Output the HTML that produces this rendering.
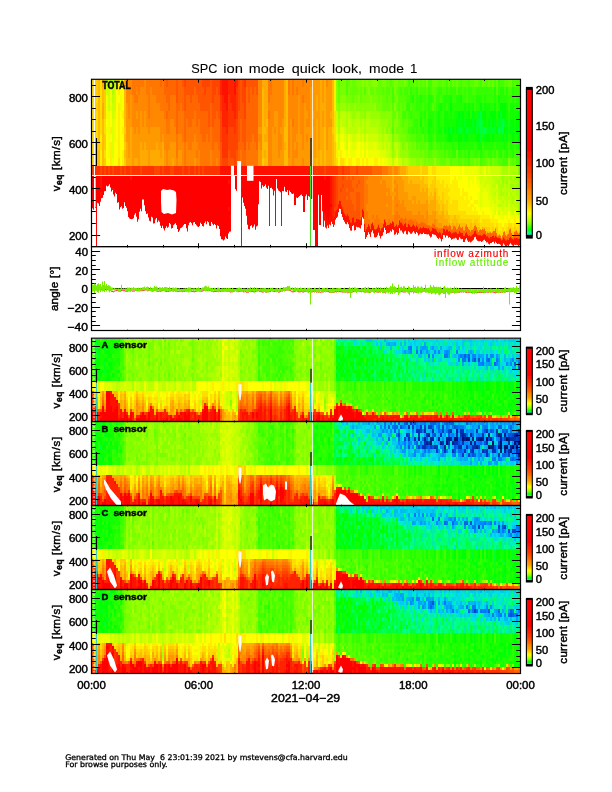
<!DOCTYPE html>
<html><head><meta charset="utf-8"><title>SPC ion mode quick look</title>
<style>
html,body{margin:0;padding:0;background:#fff;width:612px;height:792px;overflow:hidden}
.sp{position:absolute;overflow:hidden}
.sp div{position:absolute;left:0;width:100%}
svg{position:absolute;left:0;top:0}
text{stroke:#000;stroke-width:.45px}
.c{stroke-width:.25px}
</style></head><body>
<div class="sp" style="left:92px;top:80px;width:428px;height:166px"><div style="top:0px;height:7px;background:linear-gradient(90deg,#fd0 2px,#fc0 0 6px,#fb0 0 8px,#fd0 0 10px,#fa0 0 12px,#fc0 0 14px,#bf0 0 18px,#cf0 0 20px,#9f0 0 22px,#bf0 0 24px,#ff0 0 26px,#fe0 0 28px,#df0 0 30px,#ff0 0 32px,#fa0 0 34px,#f80 0 40px,#f70 0 52px,#f80 0 54px,#f70 0 68px,#f60 0 70px,#f70 0 72px,#f60 0 74px,#f50 0 76px,#f60 0 84px,#f50 0 86px,#f60 0 90px,#f50 0 92px,#f40 0 94px,#f50 0 110px,#f40 0 118px,#f50 0 120px,#f40 0 128px,#f20 0 130px,#f10 0 136px,#f20 0 142px,#f10 0 144px,#f20 0 146px,#f40 0 148px,#f50 0 150px,#f40 0 152px,#f30 0 154px,#f50 0 166px,#f80 0 170px,#fa0 0 176px,#f70 0 180px,#f80 0 192px,#fa0 0 194px,#fb0 0 196px,#f70 0 198px,#f80 0 200px,#f70 0 202px,#f80 0 210px,#f70 0 212px,#f80 0 220px,#f90 0 228px,#fa0 0 230px,#f90 0 232px,#fa0 0 234px,#f80 0 236px,#f90 0 240px,#fb0 0 242px,#fe0 0 244px,#8f0 0 246px,#5f0 0 248px,#7f0 0 254px,#5f0 0 256px,#6f0 0 258px,#7f0 0 260px,#6f0 0 264px,#7f0 0 270px,#8f0 0 272px,#7f0 0 274px,#8f0 0 276px,#7f0 0 280px,#8f0 0 286px,#6f0 0 290px,#7f0 0 294px,#6f0 0 298px,#5f0 0 300px,#6f0 0 302px,#7f0 0 306px,#6f0 0 312px,#7f0 0 314px,#6f0 0 316px,#4f0 0 318px,#5f0 0 322px,#6f0 0 324px,#5f0 0 326px,#6f0 0 328px,#5f0 0 330px,#6f0 0 332px,#5f0 0 334px,#7f0 0 336px,#4f0 0 340px,#6f0 0 346px,#5f0 0 350px,#6f0 0 352px,#5f0 0 354px,#4f0 0 356px,#6f0 0 358px,#4f0 0 360px,#6f0 0 362px,#5f0 0 364px,#6f0 0 366px,#5f0 0 368px,#4f0 0 370px,#5f0 0 376px,#4f0 0 378px,#5f0 0 382px,#6f0 0 386px,#5f0 0 388px,#4f0 0 390px,#6f0 0 392px,#5f0 0 396px,#6f0 0 398px,#5f0 0 400px,#6f0 0 402px,#4f0 0 404px,#6f0 0 406px,#3f0 0 408px,#4f0 0 412px,#5f0 0 416px,#6f0 0 420px,#4f0 0 422px,#5f0 0 424px,#4f0 0 426px,#5f0 0)"></div><div style="top:7px;height:8px;background:linear-gradient(90deg,#fd0 2px,#fc0 0 6px,#fb0 0 8px,#fd0 0 10px,#fb0 0 12px,#fc0 0 14px,#cf0 0 18px,#ef0 0 20px,#af0 0 22px,#cf0 0 24px,#ff0 0 26px,#fe0 0 28px,#ff0 0 32px,#fb0 0 34px,#f80 0 40px,#f70 0 44px,#f80 0 46px,#f70 0 48px,#f80 0 54px,#f70 0 58px,#f80 0 60px,#f70 0 72px,#f60 0 84px,#f50 0 86px,#f60 0 92px,#f50 0 102px,#f60 0 104px,#f50 0 112px,#f40 0 114px,#f50 0 120px,#f40 0 124px,#f50 0 126px,#f40 0 128px,#f20 0 130px,#f10 0 136px,#f20 0 142px,#f10 0 144px,#f30 0 146px,#f40 0 148px,#f50 0 150px,#f40 0 154px,#f60 0 156px,#f50 0 158px,#f60 0 160px,#f50 0 162px,#f60 0 164px,#f50 0 166px,#f80 0 170px,#fb0 0 172px,#fa0 0 176px,#f70 0 180px,#f80 0 192px,#fa0 0 194px,#fb0 0 196px,#f70 0 198px,#f80 0 200px,#f70 0 202px,#f80 0 204px,#f70 0 206px,#f80 0 218px,#f90 0 228px,#fa0 0 230px,#f90 0 232px,#fa0 0 234px,#f90 0 240px,#fb0 0 242px,#fe0 0 244px,#8f0 0 246px,#6f0 0 248px,#7f0 0 254px,#5f0 0 256px,#7f0 0 258px,#6f0 0 266px,#7f0 0 268px,#6f0 0 270px,#7f0 0 272px,#5f0 0 274px,#7f0 0 276px,#8f0 0 278px,#6f0 0 282px,#7f0 0 284px,#6f0 0 290px,#5f0 0 292px,#6f0 0 294px,#5f0 0 298px,#6f0 0 300px,#4f0 0 302px,#7f0 0 304px,#6f0 0 306px,#5f0 0 308px,#4f0 0 310px,#5f0 0 312px,#4f0 0 316px,#5f0 0 318px,#3f0 0 320px,#4f0 0 324px,#3f0 0 326px,#5f0 0 328px,#4f0 0 334px,#5f0 0 336px,#3f0 0 338px,#4f0 0 340px,#5f0 0 344px,#4f0 0 346px,#3f0 0 350px,#4f0 0 354px,#3f0 0 356px,#4f0 0 358px,#3f0 0 364px,#5f0 0 366px,#3f0 0 370px,#4f0 0 372px,#3f0 0 374px,#4f0 0 376px,#3f0 0 380px,#4f0 0 384px,#3f0 0 400px,#4f0 0 402px,#2f0 0 404px,#5f0 0 406px,#3f0 0 408px,#2f0 0 412px,#4f0 0 414px,#2f0 0 416px,#4f0 0 420px,#2f0 0 422px,#3f0 0)"></div><div style="top:15px;height:8px;background:linear-gradient(90deg,#fd0 2px,#fc0 0 4px,#fd0 0 6px,#fb0 0 8px,#fd0 0 10px,#fb0 0 12px,#fc0 0 14px,#ef0 0 16px,#cf0 0 18px,#ef0 0 20px,#bf0 0 22px,#cf0 0 24px,#ff0 0 28px,#ef0 0 30px,#ff0 0 32px,#fb0 0 34px,#f80 0 38px,#f90 0 40px,#f80 0 42px,#f70 0 46px,#f80 0 56px,#f70 0 58px,#f80 0 64px,#f70 0 74px,#f60 0 78px,#f70 0 84px,#f50 0 86px,#f60 0 92px,#f50 0 94px,#f60 0 98px,#f50 0 100px,#f60 0 106px,#f50 0 120px,#f40 0 122px,#f50 0 128px,#f30 0 130px,#f20 0 132px,#f10 0 136px,#f30 0 138px,#f20 0 144px,#f30 0 146px,#f40 0 148px,#f50 0 150px,#f40 0 154px,#f60 0 156px,#f50 0 158px,#f60 0 166px,#f80 0 170px,#fb0 0 172px,#fa0 0 176px,#f70 0 178px,#f80 0 192px,#fa0 0 194px,#fb0 0 196px,#f80 0 206px,#f90 0 208px,#f80 0 210px,#f70 0 212px,#f80 0 218px,#f90 0 224px,#fa0 0 226px,#f90 0 228px,#fa0 0 230px,#f90 0 232px,#fa0 0 234px,#f90 0 240px,#fb0 0 242px,#fe0 0 244px,#8f0 0 246px,#6f0 0 248px,#8f0 0 254px,#7f0 0 260px,#6f0 0 262px,#7f0 0 266px,#8f0 0 268px,#6f0 0 270px,#7f0 0 278px,#8f0 0 280px,#7f0 0 286px,#6f0 0 288px,#7f0 0 290px,#6f0 0 294px,#5f0 0 296px,#6f0 0 300px,#4f0 0 302px,#6f0 0 304px,#7f0 0 306px,#5f0 0 314px,#4f0 0 318px,#3f0 0 320px,#2f0 0 322px,#4f0 0 324px,#3f0 0 328px,#2f0 0 330px,#3f0 0 334px,#4f0 0 336px,#2f0 0 340px,#3f0 0 342px,#5f0 0 344px,#3f0 0 348px,#4f0 0 350px,#3f0 0 352px,#2f0 0 358px,#1f0 0 360px,#3f0 0 364px,#2f0 0 368px,#1f0 0 370px,#3f0 0 374px,#4f0 0 376px,#3f0 0 384px,#2f0 0 390px,#3f0 0 392px,#2f0 0 394px,#3f0 0 402px,#2f0 0 404px,#3f0 0 406px,#1f0 0 408px,#2f0 0 416px,#3f0 0 420px,#2f0 0 422px,#3f0 0 424px,#2f0 0)"></div><div style="top:23px;height:8px;background:linear-gradient(90deg,#fd0 2px,#fc0 0 6px,#fb0 0 8px,#fd0 0 10px,#fa0 0 12px,#fc0 0 14px,#ef0 0 16px,#cf0 0 18px,#ef0 0 20px,#cf0 0 24px,#ff0 0 26px,#fe0 0 28px,#ef0 0 30px,#ff0 0 32px,#fb0 0 34px,#f90 0 36px,#f80 0 38px,#f90 0 40px,#f80 0 56px,#f70 0 58px,#f80 0 68px,#f70 0 76px,#f60 0 78px,#f70 0 84px,#f60 0 88px,#f70 0 90px,#f60 0 92px,#f50 0 94px,#f60 0 108px,#f50 0 118px,#f60 0 120px,#f50 0 128px,#f30 0 130px,#f20 0 134px,#f10 0 136px,#f30 0 140px,#f20 0 144px,#f30 0 146px,#f40 0 148px,#f50 0 152px,#f40 0 154px,#f60 0 166px,#f80 0 170px,#fb0 0 172px,#fa0 0 176px,#f80 0 192px,#fa0 0 194px,#fb0 0 196px,#f80 0 206px,#f90 0 208px,#f80 0 212px,#f90 0 214px,#f80 0 218px,#f90 0 224px,#fa0 0 226px,#f90 0 228px,#fa0 0 234px,#f90 0 240px,#fb0 0 242px,#fe0 0 244px,#9f0 0 246px,#8f0 0 248px,#9f0 0 254px,#8f0 0 256px,#9f0 0 258px,#8f0 0 262px,#9f0 0 264px,#8f0 0 282px,#9f0 0 284px,#7f0 0 290px,#6f0 0 298px,#7f0 0 300px,#5f0 0 302px,#8f0 0 304px,#6f0 0 306px,#5f0 0 308px,#6f0 0 310px,#5f0 0 312px,#6f0 0 314px,#3f0 0 318px,#5f0 0 320px,#4f0 0 324px,#3f0 0 330px,#4f0 0 332px,#3f0 0 336px,#2f0 0 338px,#3f0 0 340px,#5f0 0 342px,#4f0 0 344px,#3f0 0 346px,#2f0 0 348px,#1f0 0 350px,#2f0 0 354px,#3f0 0 356px,#2f0 0 358px,#0f0 0 360px,#2f0 0 372px,#1f0 0 374px,#2f0 0 376px,#1f0 0 378px,#2f0 0 380px,#1f0 0 382px,#3f0 0 384px,#2f0 0 388px,#0f1 0 390px,#2f0 0 392px,#1f0 0 398px,#2f0 0 402px,#1f0 0 404px,#3f0 0 406px,#2f0 0 408px,#0f0 0 414px,#1f0 0 416px,#3f0 0 418px,#1f0 0 422px,#2f0 0 424px,#1f0 0 426px,#2f0 0)"></div><div style="top:31px;height:8px;background:linear-gradient(90deg,#fd0 2px,#fc0 0 4px,#fd0 0 6px,#fb0 0 8px,#fd0 0 10px,#fa0 0 12px,#fc0 0 14px,#ef0 0 18px,#ff0 0 20px,#cf0 0 22px,#df0 0 24px,#ff0 0 26px,#fe0 0 28px,#ff0 0 30px,#fe0 0 32px,#fb0 0 34px,#f90 0 36px,#f80 0 38px,#f90 0 40px,#f80 0 44px,#f90 0 46px,#f80 0 48px,#f90 0 50px,#f80 0 52px,#f90 0 54px,#f80 0 56px,#f70 0 58px,#f80 0 72px,#f70 0 74px,#f60 0 76px,#f70 0 84px,#f60 0 86px,#f70 0 92px,#f60 0 102px,#f70 0 104px,#f60 0 116px,#f50 0 118px,#f60 0 120px,#f50 0 124px,#f60 0 126px,#f50 0 128px,#f40 0 130px,#f20 0 136px,#f30 0 142px,#f20 0 144px,#f30 0 146px,#f50 0 152px,#f40 0 154px,#f60 0 166px,#f80 0 170px,#fb0 0 172px,#fa0 0 176px,#f70 0 178px,#f80 0 182px,#f90 0 186px,#f80 0 192px,#fa0 0 194px,#fb0 0 196px,#f80 0 206px,#f90 0 208px,#f80 0 212px,#f90 0 216px,#f80 0 218px,#f90 0 220px,#fa0 0 222px,#f90 0 228px,#fa0 0 230px,#f90 0 232px,#fa0 0 234px,#f90 0 238px,#fa0 0 240px,#fb0 0 242px,#fd0 0 244px,#cf0 0 246px,#9f0 0 248px,#bf0 0 254px,#af0 0 256px,#bf0 0 258px,#af0 0 260px,#9f0 0 264px,#af0 0 268px,#9f0 0 272px,#8f0 0 274px,#af0 0 278px,#9f0 0 288px,#8f0 0 300px,#6f0 0 304px,#8f0 0 306px,#6f0 0 310px,#4f0 0 314px,#5f0 0 316px,#4f0 0 318px,#3f0 0 320px,#4f0 0 328px,#2f0 0 330px,#3f0 0 332px,#2f0 0 334px,#4f0 0 336px,#2f0 0 342px,#3f0 0 344px,#2f0 0 346px,#1f0 0 348px,#2f0 0 350px,#3f0 0 352px,#1f0 0 356px,#2f0 0 358px,#1f0 0 360px,#2f0 0 362px,#1f0 0 366px,#0f0 0 368px,#0f1 0 370px,#0f0 0 372px,#1f0 0 376px,#0f0 0 378px,#2f0 0 380px,#0f1 0 382px,#1f0 0 386px,#0f2 0 388px,#0f4 0 390px,#0f0 0 394px,#1f0 0 398px,#0f0 0 404px,#2f0 0 406px,#0f0 0 408px,#0f2 0 410px,#0f0 0 414px,#1f0 0 416px,#2f0 0 418px,#1f0 0 426px,#0f0 0)"></div><div style="top:39px;height:8px;background:linear-gradient(90deg,#fd0 2px,#fc0 0 4px,#fd0 0 6px,#fb0 0 8px,#fd0 0 10px,#fb0 0 12px,#fd0 0 14px,#ff0 0 16px,#ef0 0 18px,#ff0 0 20px,#df0 0 22px,#ef0 0 24px,#ff0 0 26px,#fe0 0 28px,#ff0 0 32px,#fb0 0 34px,#f90 0 40px,#f80 0 48px,#f90 0 50px,#f80 0 52px,#f90 0 54px,#f80 0 74px,#f70 0 78px,#f80 0 82px,#f70 0 84px,#f60 0 86px,#f70 0 92px,#f60 0 94px,#f70 0 96px,#f60 0 100px,#f70 0 104px,#f60 0 106px,#f70 0 108px,#f60 0 116px,#f50 0 118px,#f60 0 120px,#f50 0 122px,#f60 0 128px,#f40 0 130px,#f20 0 136px,#f30 0 144px,#f40 0 146px,#f50 0 148px,#f60 0 150px,#f50 0 154px,#f60 0 166px,#f80 0 170px,#fb0 0 172px,#fa0 0 174px,#fb0 0 176px,#f80 0 182px,#f90 0 186px,#f80 0 190px,#f90 0 192px,#fa0 0 194px,#fb0 0 196px,#f80 0 198px,#f90 0 200px,#f70 0 202px,#f80 0 206px,#f90 0 208px,#f80 0 212px,#f90 0 214px,#f80 0 218px,#f90 0 224px,#fa0 0 226px,#f90 0 228px,#fa0 0 230px,#f90 0 232px,#fa0 0 234px,#f90 0 240px,#fb0 0 242px,#fd0 0 244px,#cf0 0 246px,#af0 0 248px,#cf0 0 250px,#bf0 0 254px,#af0 0 256px,#cf0 0 258px,#bf0 0 260px,#af0 0 262px,#bf0 0 268px,#af0 0 270px,#bf0 0 272px,#af0 0 274px,#bf0 0 278px,#af0 0 288px,#9f0 0 296px,#8f0 0 300px,#6f0 0 302px,#8f0 0 306px,#7f0 0 308px,#6f0 0 310px,#5f0 0 312px,#6f0 0 316px,#5f0 0 320px,#4f0 0 322px,#3f0 0 326px,#4f0 0 328px,#1f0 0 330px,#4f0 0 332px,#3f0 0 336px,#1f0 0 340px,#2f0 0 342px,#3f0 0 344px,#2f0 0 346px,#1f0 0 348px,#2f0 0 352px,#1f0 0 364px,#0f0 0 366px,#0f1 0 370px,#0f0 0 372px,#0f2 0 374px,#0f0 0 380px,#0f2 0 382px,#0f0 0 384px,#0f2 0 386px,#0f3 0 388px,#0f4 0 390px,#0f2 0 392px,#0f0 0 394px,#1f0 0 396px,#0f0 0 398px,#0f2 0 400px,#0f0 0 402px,#0f1 0 404px,#1f0 0 406px,#0f2 0 410px,#0f4 0 412px,#0f2 0 414px,#0f1 0 416px,#2f0 0 418px,#0f1 0 420px,#0f0 0 422px,#1f0 0 424px,#0f0 0)"></div><div style="top:47px;height:7px;background:linear-gradient(90deg,#fd0 2px,#fc0 0 4px,#fd0 0 6px,#fb0 0 8px,#fd0 0 10px,#fb0 0 12px,#fd0 0 14px,#ef0 0 18px,#fe0 0 20px,#df0 0 22px,#ef0 0 24px,#ff0 0 26px,#fe0 0 28px,#ff0 0 30px,#fe0 0 32px,#fc0 0 34px,#f90 0 38px,#fa0 0 40px,#f90 0 42px,#f80 0 44px,#f90 0 46px,#f80 0 48px,#f90 0 56px,#f80 0 58px,#f90 0 68px,#f80 0 74px,#f70 0 78px,#f80 0 84px,#f60 0 86px,#f70 0 92px,#f60 0 94px,#f70 0 108px,#f60 0 118px,#f70 0 120px,#f60 0 128px,#f40 0 130px,#f30 0 134px,#f20 0 136px,#f40 0 142px,#f30 0 144px,#f40 0 146px,#f50 0 148px,#f60 0 150px,#f50 0 154px,#f60 0 166px,#f90 0 170px,#fb0 0 174px,#fa0 0 176px,#f80 0 180px,#f90 0 182px,#f80 0 184px,#f90 0 186px,#f80 0 188px,#f90 0 192px,#fb0 0 196px,#f80 0 198px,#f90 0 200px,#f80 0 206px,#f90 0 208px,#f80 0 212px,#f90 0 220px,#fa0 0 222px,#f90 0 224px,#fa0 0 226px,#f90 0 228px,#fa0 0 232px,#fb0 0 234px,#f90 0 236px,#fa0 0 240px,#fc0 0 242px,#fd0 0 244px,#df0 0 246px,#af0 0 248px,#df0 0 252px,#cf0 0 254px,#bf0 0 266px,#cf0 0 268px,#bf0 0 272px,#af0 0 274px,#bf0 0 286px,#af0 0 290px,#9f0 0 292px,#af0 0 294px,#8f0 0 296px,#9f0 0 298px,#8f0 0 300px,#5f0 0 302px,#8f0 0 304px,#7f0 0 310px,#6f0 0 316px,#4f0 0 320px,#3f0 0 322px,#4f0 0 324px,#3f0 0 326px,#4f0 0 328px,#3f0 0 330px,#2f0 0 332px,#3f0 0 336px,#1f0 0 338px,#2f0 0 342px,#3f0 0 344px,#2f0 0 346px,#1f0 0 350px,#2f0 0 352px,#0f1 0 354px,#1f0 0 356px,#0f0 0 358px,#0f3 0 360px,#0f0 0 362px,#1f0 0 364px,#0f0 0 366px,#0f3 0 370px,#0f1 0 372px,#0f0 0 374px,#0f3 0 376px,#0f2 0 378px,#0f1 0 382px,#0f0 0 384px,#0f3 0 386px,#0f1 0 388px,#0f4 0 390px,#0f3 0 392px,#0f5 0 394px,#0f3 0 396px,#0f1 0 398px,#0f2 0 404px,#0f0 0 406px,#0f5 0 408px,#0f3 0 410px,#0f4 0 412px,#0f0 0 414px,#0f1 0 416px,#1f0 0 418px,#0f1 0 422px,#1f0 0 424px,#0f0 0 426px,#0f1 0)"></div><div style="top:54px;height:8px;background:linear-gradient(90deg,#fd0 2px,#fc0 0 4px,#fd0 0 6px,#fb0 0 8px,#fe0 0 10px,#fb0 0 12px,#fc0 0 14px,#ff0 0 16px,#ef0 0 18px,#ff0 0 20px,#df0 0 22px,#ef0 0 24px,#ff0 0 26px,#fe0 0 28px,#ff0 0 32px,#fb0 0 34px,#f90 0 38px,#fa0 0 40px,#f90 0 68px,#f80 0 70px,#f90 0 72px,#f80 0 84px,#f70 0 86px,#f80 0 90px,#f70 0 92px,#f60 0 94px,#f70 0 102px,#f80 0 104px,#f70 0 110px,#f60 0 114px,#f70 0 116px,#f60 0 118px,#f70 0 120px,#f60 0 128px,#f40 0 130px,#f30 0 136px,#f40 0 146px,#f50 0 148px,#f60 0 150px,#f50 0 154px,#f60 0 160px,#f70 0 162px,#f60 0 166px,#f80 0 170px,#fb0 0 172px,#fa0 0 176px,#f80 0 180px,#f90 0 186px,#f80 0 190px,#f90 0 192px,#fb0 0 196px,#f80 0 198px,#f90 0 200px,#f80 0 204px,#f90 0 210px,#f80 0 212px,#f90 0 214px,#f80 0 216px,#f90 0 220px,#fa0 0 222px,#f90 0 224px,#fa0 0 226px,#f90 0 228px,#fa0 0 232px,#fb0 0 234px,#f90 0 236px,#fa0 0 240px,#fb0 0 242px,#fd0 0 244px,#ef0 0 246px,#cf0 0 248px,#ef0 0 252px,#df0 0 254px,#cf0 0 256px,#ef0 0 258px,#df0 0 260px,#cf0 0 264px,#df0 0 268px,#cf0 0 270px,#df0 0 272px,#bf0 0 274px,#df0 0 276px,#cf0 0 286px,#bf0 0 290px,#af0 0 292px,#bf0 0 296px,#af0 0 300px,#7f0 0 302px,#9f0 0 306px,#8f0 0 308px,#7f0 0 314px,#6f0 0 318px,#5f0 0 324px,#4f0 0 330px,#5f0 0 332px,#3f0 0 334px,#4f0 0 336px,#2f0 0 340px,#3f0 0 342px,#4f0 0 344px,#2f0 0 354px,#1f0 0 356px,#0f0 0 360px,#1f0 0 366px,#0f0 0 370px,#1f0 0 372px,#0f1 0 374px,#0f0 0 376px,#1f0 0 384px,#0f0 0 388px,#0f3 0 390px,#1f0 0 392px,#0f1 0 394px,#0f0 0 398px,#1f0 0 400px,#0f0 0 402px,#1f0 0 410px,#0f1 0 412px,#1f0 0 414px,#0f1 0 416px,#2f0 0 418px,#1f0 0 420px,#0f0 0 422px,#1f0 0 426px,#0f0 0)"></div><div style="top:62px;height:8px;background:linear-gradient(90deg,#fd0 2px,#fc0 0 4px,#fd0 0 6px,#fc0 0 8px,#fd0 0 10px,#fb0 0 12px,#fc0 0 14px,#ff0 0 16px,#ef0 0 18px,#fe0 0 20px,#df0 0 22px,#ff0 0 26px,#fe0 0 28px,#ff0 0 32px,#fc0 0 34px,#fa0 0 36px,#f90 0 38px,#fa0 0 40px,#f90 0 48px,#fa0 0 50px,#f90 0 52px,#fa0 0 54px,#f90 0 64px,#fa0 0 66px,#f90 0 70px,#fa0 0 72px,#f80 0 78px,#f90 0 84px,#f70 0 86px,#f80 0 92px,#f70 0 94px,#f80 0 96px,#f70 0 100px,#f80 0 106px,#f70 0 120px,#f60 0 122px,#f70 0 126px,#f60 0 128px,#f50 0 130px,#f30 0 136px,#f40 0 146px,#f60 0 152px,#f50 0 154px,#f70 0 156px,#f60 0 158px,#f70 0 164px,#f60 0 166px,#f90 0 168px,#f80 0 170px,#fb0 0 176px,#f80 0 180px,#f90 0 186px,#f80 0 190px,#f90 0 192px,#fa0 0 194px,#fb0 0 196px,#f80 0 198px,#f90 0 200px,#f80 0 202px,#f90 0 204px,#f80 0 206px,#f90 0 210px,#f80 0 212px,#f90 0 218px,#fa0 0 222px,#f90 0 224px,#fa0 0 226px,#f90 0 228px,#fa0 0 232px,#fb0 0 234px,#f90 0 236px,#fa0 0 240px,#fb0 0 242px,#fc0 0 244px,#fe0 0 246px,#cf0 0 248px,#ff0 0 252px,#ef0 0 254px,#cf0 0 256px,#ff0 0 258px,#ef0 0 260px,#df0 0 264px,#ef0 0 266px,#ff0 0 268px,#ef0 0 272px,#df0 0 274px,#ef0 0 276px,#df0 0 282px,#ef0 0 284px,#df0 0 286px,#cf0 0 290px,#bf0 0 292px,#cf0 0 294px,#bf0 0 296px,#cf0 0 298px,#af0 0 300px,#8f0 0 302px,#bf0 0 306px,#af0 0 308px,#9f0 0 310px,#7f0 0 312px,#8f0 0 314px,#9f0 0 316px,#7f0 0 320px,#6f0 0 322px,#7f0 0 324px,#5f0 0 326px,#6f0 0 328px,#5f0 0 334px,#6f0 0 336px,#4f0 0 338px,#3f0 0 340px,#4f0 0 342px,#5f0 0 344px,#4f0 0 348px,#3f0 0 350px,#4f0 0 352px,#3f0 0 360px,#2f0 0 362px,#3f0 0 366px,#1f0 0 368px,#2f0 0 382px,#3f0 0 384px,#2f0 0 386px,#1f0 0 390px,#3f0 0 392px,#2f0 0 402px,#3f0 0 404px,#2f0 0 412px,#1f0 0 414px,#2f0 0 416px,#3f0 0 418px,#2f0 0 422px,#3f0 0 424px,#2f0 0 426px,#1f0 0)"></div><div style="top:70px;height:8px;background:linear-gradient(90deg,#fd0 2px,#fc0 0 4px,#fd0 0 6px,#fb0 0 8px,#fe0 0 10px,#fb0 0 12px,#fd0 0 14px,#ff0 0 16px,#ef0 0 18px,#fe0 0 20px,#df0 0 22px,#ff0 0 26px,#fe0 0 28px,#ff0 0 30px,#fe0 0 32px,#fb0 0 34px,#fa0 0 36px,#f90 0 38px,#fa0 0 40px,#f90 0 48px,#fa0 0 56px,#f90 0 58px,#fa0 0 68px,#f90 0 70px,#fa0 0 72px,#f90 0 74px,#f80 0 76px,#f90 0 84px,#f70 0 86px,#f90 0 90px,#f80 0 92px,#f70 0 94px,#f80 0 104px,#f70 0 106px,#f80 0 108px,#f70 0 118px,#f80 0 120px,#f70 0 128px,#f50 0 130px,#f30 0 136px,#f50 0 138px,#f40 0 144px,#f50 0 146px,#f60 0 148px,#f70 0 150px,#f60 0 154px,#f70 0 166px,#f90 0 170px,#fb0 0 172px,#fa0 0 174px,#fb0 0 176px,#f80 0 180px,#f90 0 186px,#f80 0 188px,#f90 0 192px,#fb0 0 196px,#f80 0 198px,#f90 0 200px,#f80 0 206px,#f90 0 220px,#fa0 0 222px,#f90 0 224px,#fa0 0 228px,#fb0 0 230px,#fa0 0 232px,#fb0 0 234px,#fa0 0 240px,#fb0 0 242px,#fc0 0 244px,#fe0 0 246px,#ef0 0 248px,#fe0 0 250px,#ff0 0 254px,#ef0 0 256px,#ff0 0 258px,#ef0 0 264px,#ff0 0 268px,#ef0 0 270px,#ff0 0 272px,#df0 0 274px,#ff0 0 276px,#ef0 0 288px,#df0 0 294px,#cf0 0 298px,#bf0 0 300px,#9f0 0 302px,#af0 0 304px,#cf0 0 306px,#af0 0 308px,#9f0 0 316px,#8f0 0 318px,#7f0 0 328px,#6f0 0 330px,#7f0 0 332px,#6f0 0 336px,#5f0 0 340px,#6f0 0 346px,#5f0 0 352px,#4f0 0 354px,#5f0 0 356px,#4f0 0 360px,#3f0 0 364px,#6f0 0 366px,#3f0 0 370px,#4f0 0 372px,#3f0 0 374px,#4f0 0 376px,#2f0 0 378px,#4f0 0 382px,#3f0 0 386px,#4f0 0 388px,#2f0 0 390px,#3f0 0 392px,#4f0 0 396px,#3f0 0 400px,#4f0 0 402px,#3f0 0 404px,#5f0 0 406px,#3f0 0 408px,#2f0 0 410px,#4f0 0 412px,#3f0 0 414px,#2f0 0 416px,#4f0 0 418px,#3f0 0 420px,#2f0 0 422px,#4f0 0 424px,#3f0 0 426px,#4f0 0)"></div><div style="top:78px;height:8px;background:linear-gradient(90deg,#fd0 2px,#fc0 0 4px,#fd0 0 6px,#fb0 0 8px,#fe0 0 10px,#fb0 0 12px,#fc0 0 14px,#ff0 0 18px,#fe0 0 20px,#ef0 0 22px,#ff0 0 26px,#fd0 0 28px,#ff0 0 30px,#fe0 0 32px,#fc0 0 34px,#fa0 0 40px,#f90 0 42px,#fa0 0 46px,#f90 0 48px,#fa0 0 56px,#f90 0 58px,#fa0 0 72px,#f90 0 74px,#f80 0 76px,#f90 0 80px,#fa0 0 82px,#f90 0 84px,#f80 0 86px,#f90 0 90px,#f80 0 92px,#f70 0 94px,#f80 0 102px,#f90 0 104px,#f80 0 108px,#f70 0 118px,#f80 0 120px,#f70 0 124px,#f80 0 126px,#f70 0 128px,#f50 0 130px,#f40 0 136px,#f50 0 142px,#f40 0 144px,#f50 0 146px,#f60 0 148px,#f70 0 150px,#f60 0 154px,#f70 0 166px,#f90 0 170px,#fc0 0 172px,#fb0 0 176px,#f80 0 180px,#f90 0 192px,#fb0 0 196px,#f90 0 200px,#f80 0 202px,#f90 0 210px,#f80 0 212px,#f90 0 218px,#fa0 0 224px,#fb0 0 226px,#fa0 0 228px,#fb0 0 230px,#fa0 0 232px,#fb0 0 234px,#fa0 0 240px,#fb0 0 242px,#fc0 0 244px,#fd0 0 246px,#ff0 0 248px,#fd0 0 252px,#fe0 0 254px,#ff0 0 256px,#fe0 0 260px,#ff0 0 264px,#fe0 0 268px,#ff0 0 270px,#fe0 0 272px,#ff0 0 274px,#fe0 0 276px,#ff0 0 282px,#fe0 0 286px,#ff0 0 288px,#ef0 0 290px,#ff0 0 292px,#ef0 0 296px,#df0 0 300px,#bf0 0 302px,#df0 0 304px,#ef0 0 306px,#cf0 0 310px,#af0 0 312px,#bf0 0 316px,#af0 0 318px,#9f0 0 324px,#8f0 0 328px,#9f0 0 330px,#8f0 0 332px,#7f0 0 334px,#8f0 0 336px,#7f0 0 342px,#9f0 0 344px,#7f0 0 348px,#6f0 0 354px,#7f0 0 358px,#5f0 0 360px,#6f0 0 366px,#5f0 0 370px,#6f0 0 372px,#5f0 0 376px,#4f0 0 378px,#6f0 0 382px,#7f0 0 384px,#6f0 0 386px,#7f0 0 388px,#4f0 0 390px,#5f0 0 394px,#6f0 0 396px,#7f0 0 398px,#5f0 0 400px,#7f0 0 402px,#6f0 0 406px,#5f0 0 410px,#4f0 0 416px,#8f0 0 418px,#6f0 0 420px,#5f0 0 422px,#6f0 0 424px,#4f0 0)"></div><div style="top:86px;height:10px;background:linear-gradient(90deg,#f40 2px,#f30 0 8px,#f40 0 10px,#f30 0 12px,#f40 0 14px,#f30 0 16px,#f40 0 18px,#f30 0 20px,#f40 0 22px,#f30 0 28px,#f40 0 30px,#f30 0 32px,#f40 0 34px,#f30 0 38px,#f40 0 40px,#f30 0 48px,#f40 0 50px,#f30 0 62px,#f40 0 68px,#f30 0 70px,#f40 0 72px,#f30 0 78px,#f40 0 82px,#f30 0 90px,#f40 0 92px,#f30 0 96px,#f40 0 98px,#f30 0 102px,#f40 0 104px,#f30 0 106px,#f40 0 108px,#f30 0 110px,#f40 0 112px,#f30 0 128px,#f10 0 138px,#f20 0 140px,#f10 0 148px,#f20 0 150px,#f10 0 220px,#f20 0 222px,#f30 0 232px,#f40 0 234px,#f30 0 246px,#f40 0 250px,#f30 0 252px,#f40 0 258px,#f50 0 264px,#f40 0 266px,#f50 0 280px,#f60 0 290px,#f70 0 296px,#f80 0 300px,#f90 0 302px,#f80 0 306px,#f90 0 308px,#fa0 0 314px,#fb0 0 316px,#fc0 0 328px,#fd0 0 330px,#fc0 0 336px,#fe0 0 340px,#fd0 0 344px,#fe0 0 358px,#ff0 0 368px,#ef0 0 370px,#ff0 0 372px,#ef0 0 386px,#df0 0 388px,#cf0 0 390px,#df0 0 392px,#ef0 0 394px,#cf0 0 396px,#df0 0 398px,#cf0 0 408px,#bf0 0 410px,#af0 0 416px,#bf0 0 418px,#af0 0 426px,#8f0 0)"></div><div style="top:96px;height:4px;background:linear-gradient(90deg,#f00 8px,#f10 0 10px,#f00 0 38px,#f10 0 40px,#f00 0 218px,#f10 0 220px,#f00 0 232px,#f10 0 234px,#f00 0 238px,#f10 0 240px,#f20 0 242px,#f30 0 244px,#f40 0 246px,#f50 0 250px,#f40 0 252px,#f50 0 254px,#f60 0 256px,#f50 0 258px,#f60 0 260px,#f50 0 262px,#f60 0 272px,#f70 0 276px,#f80 0 290px,#f90 0 300px,#fa0 0 302px,#f90 0 310px,#fa0 0 316px,#fb0 0 328px,#fc0 0 330px,#fb0 0 332px,#fc0 0 336px,#fd0 0 342px,#fc0 0 344px,#fe0 0 358px,#ff0 0 362px,#fe0 0 364px,#ff0 0 366px,#ef0 0 370px,#ff0 0 376px,#ef0 0 382px,#ff0 0 384px,#ef0 0 386px,#df0 0 388px,#cf0 0 392px,#df0 0 394px,#cf0 0 400px,#bf0 0 408px,#af0 0 410px,#9f0 0 412px,#af0 0 418px,#9f0 0 420px,#af0 0 422px,#9f0 0)"></div><div style="top:100px;height:4px;background:linear-gradient(90deg,#f00 8px,#f10 0 10px,#f00 0 136px,#f10 0 138px,#f00 0 148px,#f10 0 150px,#f00 0 238px,#f10 0 240px,#f20 0 242px,#f30 0 244px,#f40 0 246px,#f50 0 260px,#f60 0 266px,#f50 0 268px,#f60 0 272px,#f70 0 274px,#f80 0 288px,#f90 0 290px,#f80 0 294px,#f90 0 300px,#fa0 0 302px,#f80 0 304px,#f90 0 312px,#fa0 0 316px,#fb0 0 318px,#fa0 0 320px,#fb0 0 332px,#fc0 0 336px,#fd0 0 340px,#fc0 0 344px,#fd0 0 348px,#fe0 0 350px,#fd0 0 352px,#fe0 0 358px,#ff0 0 360px,#fe0 0 366px,#ff0 0 376px,#ef0 0 378px,#ff0 0 380px,#ef0 0 382px,#ff0 0 384px,#ef0 0 388px,#cf0 0 390px,#df0 0 392px,#cf0 0 402px,#bf0 0 406px,#af0 0 408px,#bf0 0 410px,#9f0 0 412px,#af0 0 414px,#9f0 0 416px,#bf0 0 418px,#af0 0 426px,#9f0 0)"></div><div style="top:104px;height:4px;background:linear-gradient(90deg,#f00 8px,#f10 0 10px,#f00 0 148px,#f10 0 150px,#f00 0 238px,#f10 0 240px,#f20 0 242px,#f30 0 244px,#f40 0 246px,#f50 0 250px,#f40 0 252px,#f50 0 260px,#f60 0 264px,#f50 0 266px,#f60 0 272px,#f70 0 276px,#f80 0 294px,#f90 0 300px,#fa0 0 302px,#f90 0 304px,#f80 0 306px,#f90 0 312px,#fa0 0 328px,#fb0 0 336px,#fd0 0 338px,#fc0 0 344px,#fd0 0 352px,#fe0 0 354px,#fd0 0 356px,#fe0 0 366px,#ff0 0 376px,#ef0 0 378px,#ff0 0 386px,#ef0 0 388px,#df0 0 392px,#cf0 0 394px,#df0 0 398px,#cf0 0 400px,#bf0 0 404px,#df0 0 406px,#af0 0 412px,#bf0 0 414px,#af0 0 416px,#bf0 0 418px,#9f0 0 422px,#af0 0 424px,#9f0 0)"></div><div style="top:108px;height:4px;background:linear-gradient(90deg,#f00 20px,#f10 0 22px,#f00 0 238px,#f10 0 240px,#f20 0 242px,#f30 0 244px,#f40 0 246px,#f50 0 248px,#f40 0 250px,#f50 0 254px,#f60 0 256px,#f50 0 262px,#f60 0 272px,#f70 0 276px,#f80 0 298px,#f90 0 300px,#fa0 0 302px,#f80 0 306px,#f90 0 312px,#fa0 0 328px,#fb0 0 330px,#fa0 0 332px,#fb0 0 334px,#fa0 0 336px,#fc0 0 342px,#fb0 0 344px,#fc0 0 346px,#fd0 0 358px,#fe0 0 368px,#ff0 0 370px,#fe0 0 372px,#ff0 0 388px,#df0 0 392px,#ef0 0 394px,#df0 0 398px,#cf0 0 406px,#bf0 0 408px,#af0 0 410px,#bf0 0 420px,#af0 0 422px,#bf0 0 424px,#af0 0)"></div><div style="top:112px;height:4px;background:linear-gradient(90deg,#f00 8px,#f10 0 10px,#f00 0 148px,#f10 0 150px,#f00 0 238px,#f10 0 240px,#f20 0 242px,#f30 0 244px,#f40 0 246px,#f50 0 258px,#f60 0 264px,#f50 0 268px,#f60 0 272px,#f70 0 276px,#f80 0 294px,#f90 0 296px,#f80 0 298px,#f90 0 304px,#f80 0 306px,#f90 0 316px,#fa0 0 336px,#fc0 0 338px,#fb0 0 340px,#fc0 0 342px,#fa0 0 344px,#fc0 0 346px,#fd0 0 350px,#fc0 0 352px,#fd0 0 356px,#fe0 0 368px,#ff0 0 370px,#fe0 0 376px,#ff0 0 386px,#ef0 0 388px,#df0 0 390px,#ef0 0 396px,#df0 0 398px,#cf0 0 402px,#bf0 0 404px,#df0 0 406px,#bf0 0 408px,#af0 0 412px,#bf0 0 414px,#af0 0 416px,#cf0 0 418px,#af0 0 420px,#bf0 0 424px,#af0 0)"></div><div style="top:116px;height:4px;background:linear-gradient(90deg,#f00 238px,#f10 0 240px,#f20 0 242px,#f30 0 244px,#f40 0 246px,#f50 0 254px,#f60 0 256px,#f50 0 258px,#f60 0 264px,#f50 0 268px,#f60 0 272px,#f70 0 276px,#f80 0 300px,#fa0 0 302px,#f80 0 306px,#f90 0 316px,#fa0 0 320px,#f90 0 324px,#fa0 0 336px,#fb0 0 342px,#fa0 0 344px,#fc0 0 348px,#fd0 0 350px,#fc0 0 352px,#fd0 0 358px,#fe0 0 372px,#ff0 0 374px,#fe0 0 376px,#ff0 0 378px,#fe0 0 380px,#ff0 0 386px,#ef0 0 388px,#df0 0 390px,#ef0 0 396px,#df0 0 400px,#cf0 0 404px,#df0 0 406px,#bf0 0 410px,#cf0 0 412px,#bf0 0 420px,#af0 0 422px,#bf0 0 426px,#af0 0)"></div><div style="top:120px;height:4px;background:linear-gradient(90deg,#f00 8px,#f10 0 10px,#f00 0 20px,#f10 0 22px,#f00 0 148px,#f10 0 150px,#f00 0 194px,#f10 0 196px,#f00 0 238px,#f10 0 240px,#f20 0 242px,#f30 0 244px,#f40 0 246px,#f50 0 260px,#f60 0 264px,#f50 0 268px,#f60 0 272px,#f70 0 276px,#f80 0 300px,#f90 0 302px,#f80 0 308px,#f90 0 310px,#f80 0 312px,#f90 0 320px,#fa0 0 322px,#f90 0 324px,#fa0 0 326px,#f90 0 328px,#fa0 0 334px,#f90 0 336px,#fb0 0 338px,#fa0 0 344px,#fb0 0 346px,#fc0 0 352px,#fd0 0 354px,#fc0 0 356px,#fd0 0 358px,#fe0 0 360px,#fd0 0 366px,#fe0 0 378px,#ff0 0 382px,#fe0 0 386px,#ef0 0 388px,#df0 0 390px,#ef0 0 398px,#df0 0 402px,#cf0 0 404px,#df0 0 408px,#cf0 0 410px,#bf0 0 412px,#cf0 0 414px,#bf0 0 416px,#cf0 0 418px,#bf0 0 420px,#af0 0 422px,#cf0 0 424px,#af0 0)"></div><div style="top:124px;height:3px;background:linear-gradient(90deg,#f00 8px,#f10 0 10px,#f00 0 148px,#f10 0 150px,#f00 0 240px,#f20 0 242px,#f30 0 244px,#f40 0 246px,#f50 0 248px,#f40 0 250px,#f50 0 262px,#f60 0 264px,#f50 0 268px,#f60 0 272px,#f70 0 274px,#f80 0 294px,#f90 0 296px,#f80 0 300px,#f90 0 302px,#f80 0 304px,#f70 0 306px,#f80 0 312px,#f90 0 336px,#fa0 0 344px,#fb0 0 348px,#fc0 0 350px,#fb0 0 352px,#fc0 0 356px,#fd0 0 366px,#fe0 0 376px,#ff0 0 378px,#fe0 0 382px,#ff0 0 386px,#ef0 0 388px,#df0 0 390px,#ef0 0 398px,#df0 0 400px,#ef0 0 402px,#df0 0 406px,#bf0 0 410px,#cf0 0 414px,#bf0 0 416px,#df0 0 418px,#bf0 0 420px,#cf0 0 422px,#bf0 0 426px,#af0 0)"></div><div style="top:127px;height:4px;background:linear-gradient(90deg,#f00 20px,#f10 0 22px,#f00 0 136px,#f10 0 138px,#f00 0 238px,#f10 0 240px,#f20 0 242px,#f40 0 246px,#f50 0 248px,#f40 0 252px,#f50 0 262px,#f60 0 264px,#f50 0 268px,#f60 0 272px,#f70 0 274px,#f80 0 300px,#f90 0 302px,#f80 0 314px,#f90 0 336px,#fa0 0 344px,#fb0 0 348px,#fc0 0 350px,#fb0 0 352px,#fc0 0 356px,#fd0 0 366px,#fe0 0 380px,#ff0 0 382px,#fe0 0 384px,#ff0 0 388px,#ef0 0 390px,#ff0 0 398px,#ef0 0 402px,#df0 0 404px,#ef0 0 406px,#df0 0 410px,#cf0 0 412px,#df0 0 418px,#cf0 0 426px,#af0 0)"></div><div style="top:131px;height:4px;background:linear-gradient(90deg,#f00 8px,#f10 0 10px,#f00 0 20px,#f10 0 22px,#f00 0 170px,#f10 0 172px,#f00 0 206px,#f10 0 208px,#f00 0 238px,#f10 0 240px,#f20 0 242px,#f30 0 244px,#f40 0 246px,#f50 0 248px,#f40 0 252px,#f50 0 268px,#f60 0 272px,#f70 0 276px,#f80 0 300px,#f90 0 302px,#f80 0 304px,#f70 0 306px,#f80 0 320px,#f90 0 326px,#f80 0 328px,#f90 0 334px,#f80 0 336px,#fa0 0 340px,#f90 0 344px,#fa0 0 346px,#fb0 0 350px,#fa0 0 352px,#fc0 0 354px,#fb0 0 356px,#fd0 0 374px,#fe0 0 386px,#ff0 0 390px,#fe0 0 392px,#ff0 0 400px,#ef0 0 402px,#df0 0 404px,#ff0 0 406px,#cf0 0 408px,#ef0 0 410px,#df0 0 416px,#ff0 0 418px,#df0 0 420px,#cf0 0 422px,#ef0 0 424px,#cf0 0 426px,#bf0 0)"></div><div style="top:135px;height:4px;background:linear-gradient(90deg,#f00 8px,#f10 0 10px,#f00 0 20px,#f10 0 22px,#f00 0 28px,#f10 0 30px,#f00 0 138px,#f10 0 140px,#f00 0 232px,#f10 0 234px,#f00 0 238px,#f10 0 240px,#f20 0 242px,#f30 0 244px,#f40 0 246px,#f50 0 248px,#f40 0 254px,#f50 0 268px,#f60 0 272px,#f70 0 276px,#f80 0 280px,#f70 0 282px,#f80 0 284px,#f70 0 286px,#f80 0 302px,#f70 0 308px,#f80 0 332px,#f90 0 334px,#f80 0 336px,#f90 0 344px,#fa0 0 352px,#fb0 0 358px,#fc0 0 362px,#fb0 0 364px,#fc0 0 368px,#fd0 0 388px,#fe0 0 398px,#ff0 0 400px,#fe0 0 402px,#ff0 0 408px,#ef0 0 412px,#ff0 0 414px,#ef0 0 416px,#ff0 0 418px,#ef0 0 422px,#fe0 0 424px,#ef0 0)"></div><div style="top:139px;height:4px;background:linear-gradient(90deg,#f00 8px,#f10 0 10px,#f00 0 232px,#f10 0 234px,#f00 0 240px,#f20 0 242px,#f30 0 246px,#f50 0 248px,#f40 0 254px,#f50 0 256px,#f40 0 258px,#f50 0 270px,#f60 0 272px,#f70 0 278px,#f80 0 282px,#f70 0 288px,#f80 0 292px,#f70 0 294px,#f80 0 296px,#f70 0 298px,#f80 0 302px,#f70 0 306px,#f80 0 310px,#f70 0 312px,#f80 0 314px,#f70 0 316px,#f80 0 318px,#f70 0 320px,#f80 0 322px,#f70 0 324px,#f80 0 336px,#f90 0 342px,#f80 0 344px,#f90 0 346px,#fa0 0 356px,#fb0 0 358px,#fc0 0 360px,#fb0 0 366px,#fc0 0 380px,#fd0 0 382px,#fc0 0 386px,#fd0 0 388px,#fe0 0 390px,#fd0 0 398px,#fe0 0 406px,#ff0 0 416px,#fe0 0 418px,#ff0 0 422px,#fe0 0 424px,#ff0 0)"></div><div style="top:143px;height:4px;background:linear-gradient(90deg,#f00 8px,#f10 0 10px,#f00 0 148px,#f10 0 150px,#f00 0 238px,#f10 0 240px,#f20 0 242px,#f30 0 246px,#f40 0 248px,#f30 0 250px,#f40 0 254px,#f50 0 256px,#f40 0 258px,#f50 0 272px,#f60 0 274px,#f70 0 300px,#f80 0 302px,#f70 0 320px,#f80 0 322px,#f70 0 326px,#f80 0 336px,#f90 0 340px,#f80 0 344px,#f90 0 350px,#fa0 0 358px,#fb0 0 360px,#fa0 0 362px,#fb0 0 364px,#fa0 0 366px,#fb0 0 374px,#fc0 0 378px,#fb0 0 380px,#fc0 0 382px,#fb0 0 384px,#fc0 0 388px,#fd0 0 402px,#fe0 0 404px,#fd0 0 406px,#fe0 0 410px,#ff0 0 412px,#fe0 0 416px,#fd0 0 420px,#fe0 0 422px,#fd0 0 424px,#fe0 0 426px,#fd0 0)"></div><div style="top:147px;height:4px;background:linear-gradient(90deg,#f00 20px,#f10 0 22px,#f00 0 218px,#f10 0 220px,#f00 0 238px,#f10 0 240px,#f20 0 244px,#f30 0 246px,#f40 0 250px,#f30 0 252px,#f40 0 262px,#f50 0 264px,#f40 0 268px,#f50 0 272px,#f60 0 276px,#f70 0 300px,#f80 0 302px,#f70 0 304px,#f60 0 306px,#f70 0 328px,#f80 0 330px,#f70 0 336px,#f80 0 344px,#f90 0 356px,#fa0 0 366px,#fb0 0 388px,#fd0 0 390px,#fb0 0 392px,#fc0 0 398px,#fd0 0 400px,#fc0 0 402px,#fd0 0 404px,#fc0 0 406px,#fe0 0 410px,#fd0 0 412px,#fe0 0 414px,#fd0 0 416px,#fc0 0 418px,#fd0 0 422px,#fc0 0 424px,#fd0 0)"></div><div style="top:151px;height:4px;background:linear-gradient(90deg,#f00 148px,#f10 0 150px,#f00 0 238px,#f10 0 240px,#f20 0 244px,#f30 0 246px,#f40 0 248px,#f30 0 252px,#f40 0 262px,#f50 0 264px,#f40 0 268px,#f50 0 272px,#f60 0 276px,#f70 0 300px,#f80 0 302px,#f70 0 304px,#f60 0 306px,#f70 0 332px,#f80 0 334px,#f70 0 336px,#f80 0 340px,#f70 0 344px,#f90 0 346px,#f80 0 348px,#f90 0 350px,#f80 0 352px,#f90 0 358px,#fa0 0 360px,#f90 0 366px,#fa0 0 380px,#fb0 0 382px,#fa0 0 386px,#fb0 0 388px,#fc0 0 390px,#fb0 0 398px,#fc0 0 402px,#fd0 0 404px,#fc0 0 406px,#fd0 0 414px,#fc0 0 416px,#fb0 0 418px,#fc0 0 422px,#fb0 0 424px,#fc0 0)"></div><div style="top:155px;height:4px;background:linear-gradient(90deg,#f00 148px,#f10 0 150px,#f00 0 238px,#f10 0 240px,#f20 0 246px,#f40 0 248px,#f30 0 254px,#f40 0 270px,#f50 0 272px,#f60 0 276px,#f70 0 282px,#f60 0 284px,#f70 0 286px,#f60 0 288px,#f70 0 296px,#f60 0 298px,#f70 0 302px,#f60 0 306px,#f70 0 310px,#f60 0 320px,#f70 0 322px,#f60 0 324px,#f70 0 336px,#f80 0 340px,#f70 0 344px,#f80 0 356px,#f90 0 368px,#fa0 0 370px,#f90 0 376px,#fa0 0 386px,#fb0 0 390px,#fa0 0 392px,#fb0 0 394px,#fa0 0 396px,#fb0 0 398px,#fc0 0 400px,#fb0 0 406px,#fc0 0 408px,#fd0 0 410px,#fc0 0 416px,#fb0 0 420px,#fc0 0 422px,#fb0 0 426px,#fc0 0)"></div><div style="top:159px;height:4px;background:linear-gradient(90deg,#f00 8px,#f10 0 10px,#f00 0 218px,#f10 0 220px,#f00 0 240px,#f20 0 244px,#f30 0 246px,#f40 0 248px,#f30 0 252px,#f40 0 256px,#f30 0 258px,#f40 0 268px,#f50 0 272px,#f60 0 276px,#f70 0 284px,#f60 0 286px,#f70 0 292px,#f60 0 298px,#f70 0 302px,#f60 0 306px,#f70 0 312px,#f60 0 316px,#f70 0 318px,#f60 0 320px,#f70 0 322px,#f60 0 324px,#f70 0 326px,#f60 0 328px,#f70 0 336px,#f80 0 342px,#f70 0 344px,#f80 0 356px,#f90 0 368px,#fa0 0 370px,#f90 0 372px,#fa0 0 388px,#fb0 0 390px,#fa0 0 392px,#fb0 0 402px,#fc0 0 404px,#fb0 0 406px,#fd0 0 412px,#fc0 0 416px,#fb0 0 420px,#fc0 0 422px,#fb0 0)"></div><div style="top:163px;height:3px;background:linear-gradient(90deg,#f00 148px,#f10 0 150px,#f00 0 240px,#f20 0 246px,#f30 0 252px,#f40 0 270px,#f50 0 272px,#f60 0 276px,#f70 0 282px,#f60 0 284px,#f70 0 304px,#f60 0 306px,#f70 0 308px,#f60 0 310px,#f70 0 312px,#f60 0 320px,#f70 0 322px,#f60 0 324px,#f70 0 336px,#f80 0 340px,#f70 0 344px,#f80 0 356px,#f90 0 370px,#fa0 0 372px,#f90 0 376px,#fa0 0 388px,#fb0 0 390px,#fa0 0 394px,#fb0 0 402px,#fc0 0 404px,#fb0 0 406px,#fd0 0 410px,#fc0 0 416px,#fa0 0 418px,#fb0 0 422px,#fa0 0 424px,#fb0 0)"></div></div>
<div class="sp" style="left:92px;top:339px;width:428px;height:82px"><div style="top:0px;height:3px;background:linear-gradient(90deg,#4f0 2px,#1f0 0 4px,#0f1 0 6px,#1f0 0 8px,#3f0 0 10px,#2f0 0 12px,#1f0 0 16px,#2f0 0 18px,#1f0 0 22px,#2f0 0 26px,#1f0 0 28px,#4f0 0 30px,#5f0 0 32px,#8f0 0 34px,#9f0 0 38px,#8f0 0 40px,#7f0 0 42px,#8f0 0 44px,#9f0 0 46px,#8f0 0 50px,#7f0 0 52px,#8f0 0 56px,#9f0 0 60px,#7f0 0 62px,#8f0 0 64px,#9f0 0 66px,#8f0 0 70px,#af0 0 72px,#6f0 0 74px,#9f0 0 76px,#8f0 0 80px,#9f0 0 82px,#8f0 0 86px,#af0 0 88px,#7f0 0 90px,#8f0 0 92px,#af0 0 98px,#9f0 0 100px,#7f0 0 102px,#9f0 0 104px,#af0 0 106px,#9f0 0 108px,#af0 0 110px,#9f0 0 116px,#8f0 0 118px,#9f0 0 122px,#bf0 0 124px,#9f0 0 126px,#bf0 0 130px,#df0 0 132px,#ef0 0 134px,#df0 0 136px,#bf0 0 138px,#cf0 0 140px,#df0 0 142px,#cf0 0 146px,#bf0 0 148px,#9f0 0 150px,#af0 0 152px,#8f0 0 156px,#9f0 0 160px,#8f0 0 162px,#9f0 0 164px,#7f0 0 166px,#4f0 0 168px,#5f0 0 170px,#4f0 0 174px,#5f0 0 176px,#4f0 0 182px,#5f0 0 186px,#3f0 0 188px,#5f0 0 190px,#3f0 0 192px,#4f0 0 202px,#7f0 0 204px,#8f0 0 208px,#7f0 0 210px,#8f0 0 212px,#9f0 0 214px,#8f0 0 218px,#9f0 0 220px,#8f0 0 222px,#7f0 0 224px,#8f0 0 226px,#bf0 0 228px,#7f0 0 230px,#af0 0 232px,#9f0 0 234px,#8f0 0 240px,#af0 0 242px,#6f0 0 244px,#0f8 0 246px,#0e9 0 248px,#0f8 0 250px,#0ea 0 254px,#0eb 0 256px,#0f8 0 258px,#0ea 0 262px,#0dc 0 264px,#0eb 0 266px,#0f8 0 268px,#0f7 0 270px,#0f8 0 272px,#0eb 0 274px,#0ce 0 280px,#0e9 0 282px,#0de 0 286px,#0f7 0 288px,#0de 0 290px,#0eb 0 292px,#0be 0 294px,#0dc 0 296px,#0de 0 298px,#0eb 0 300px,#0de 0 306px,#0ea 0 308px,#0de 0 310px,#0eb 0 312px,#0ce 0 314px,#0ec 0 316px,#0ce 0 318px,#0eb 0 320px,#0de 0 322px,#0ce 0 324px,#0dc 0 326px,#0de 0 330px,#0ce 0 332px,#0de 0 334px,#0dd 0 336px,#0de 0 338px,#0dd 0 342px,#0de 0 344px,#0ce 0 346px,#0de 0 352px,#0eb 0 356px,#0de 0 360px,#0eb 0 362px,#0de 0 364px,#0dd 0 366px,#0de 0 368px,#0eb 0 370px,#0ce 0 374px,#0dc 0 376px,#0ce 0 380px,#0dd 0 382px,#0dc 0 384px,#0de 0 388px,#0dd 0 390px,#0ce 0 392px,#0dd 0 396px,#0de 0 400px,#0ce 0 402px,#0de 0 404px,#0ce 0 406px,#0ec 0 408px,#0de 0 410px,#0dd 0 412px,#0ce 0 414px,#0de 0 416px,#0ce 0 424px,#0dd 0 426px,#0de 0)"></div><div style="top:3px;height:4px;background:linear-gradient(90deg,#5f0 2px,#1f0 0 4px,#0f3 0 6px,#1f0 0 10px,#2f0 0 14px,#1f0 0 18px,#2f0 0 20px,#1f0 0 24px,#2f0 0 26px,#3f0 0 32px,#6f0 0 34px,#8f0 0 38px,#9f0 0 40px,#7f0 0 42px,#8f0 0 44px,#9f0 0 46px,#7f0 0 48px,#8f0 0 50px,#9f0 0 54px,#af0 0 56px,#7f0 0 62px,#9f0 0 66px,#7f0 0 70px,#af0 0 72px,#8f0 0 74px,#9f0 0 76px,#6f0 0 78px,#9f0 0 82px,#8f0 0 84px,#af0 0 86px,#9f0 0 90px,#af0 0 96px,#8f0 0 98px,#7f0 0 102px,#8f0 0 106px,#9f0 0 110px,#8f0 0 112px,#af0 0 114px,#8f0 0 116px,#9f0 0 118px,#8f0 0 120px,#af0 0 122px,#9f0 0 124px,#af0 0 126px,#bf0 0 128px,#af0 0 130px,#ff0 0 132px,#cf0 0 136px,#bf0 0 138px,#df0 0 140px,#cf0 0 142px,#bf0 0 144px,#cf0 0 146px,#af0 0 150px,#8f0 0 154px,#9f0 0 156px,#8f0 0 158px,#af0 0 160px,#9f0 0 164px,#6f0 0 166px,#3f0 0 168px,#5f0 0 170px,#3f0 0 172px,#4f0 0 176px,#3f0 0 178px,#6f0 0 180px,#4f0 0 182px,#3f0 0 184px,#4f0 0 190px,#3f0 0 192px,#5f0 0 194px,#4f0 0 198px,#6f0 0 200px,#4f0 0 202px,#8f0 0 210px,#bf0 0 212px,#9f0 0 214px,#8f0 0 216px,#9f0 0 218px,#af0 0 220px,#9f0 0 222px,#8f0 0 224px,#af0 0 228px,#9f0 0 230px,#7f0 0 232px,#8f0 0 236px,#9f0 0 238px,#7f0 0 240px,#8f0 0 242px,#6f0 0 244px,#0f4 0 246px,#0f8 0 248px,#0f4 0 250px,#0f3 0 252px,#0f7 0 254px,#0f6 0 256px,#0f4 0 258px,#0f5 0 260px,#0f6 0 262px,#0de 0 264px,#0ea 0 266px,#0ec 0 268px,#0f6 0 270px,#0ea 0 272px,#0f8 0 274px,#0f5 0 276px,#0f4 0 278px,#0f5 0 280px,#0e9 0 282px,#0eb 0 284px,#0ce 0 286px,#0eb 0 288px,#0ce 0 290px,#0ea 0 294px,#0be 0 296px,#0ae 0 298px,#0be 0 302px,#0ae 0 304px,#0de 0 306px,#0eb 0 308px,#0be 0 310px,#0f8 0 312px,#0be 0 314px,#0eb 0 316px,#0dd 0 318px,#0ce 0 320px,#0de 0 322px,#0ce 0 324px,#0de 0 326px,#0dd 0 328px,#0dc 0 330px,#0f8 0 332px,#0ae 0 334px,#0e9 0 336px,#0ea 0 338px,#0ec 0 340px,#0dd 0 342px,#0dc 0 344px,#0eb 0 346px,#0dc 0 348px,#0ea 0 350px,#0dd 0 352px,#0e9 0 356px,#0de 0 358px,#0eb 0 360px,#0dd 0 362px,#0e9 0 364px,#0ce 0 366px,#0de 0 370px,#0ce 0 372px,#0e9 0 374px,#0eb 0 378px,#0ce 0 380px,#0dd 0 382px,#0eb 0 384px,#0dd 0 386px,#0eb 0 388px,#0de 0 390px,#0dd 0 392px,#0ea 0 396px,#0de 0 398px,#0ce 0 400px,#0dc 0 402px,#0ea 0 404px,#0de 0 408px,#0e9 0 410px,#0de 0 412px,#0eb 0 416px,#0dd 0 418px,#0ea 0 420px,#0eb 0 422px,#0dd 0 424px,#0ec 0)"></div><div style="top:7px;height:4px;background:linear-gradient(90deg,#5f0 2px,#0f0 0 4px,#0f2 0 6px,#0f0 0 8px,#1f0 0 10px,#0f0 0 12px,#0f1 0 14px,#1f0 0 16px,#0f0 0 18px,#1f0 0 22px,#2f0 0 24px,#0f0 0 26px,#1f0 0 28px,#2f0 0 30px,#4f0 0 32px,#8f0 0 36px,#7f0 0 38px,#8f0 0 40px,#6f0 0 42px,#9f0 0 46px,#7f0 0 50px,#af0 0 52px,#9f0 0 56px,#7f0 0 62px,#af0 0 64px,#9f0 0 68px,#7f0 0 70px,#9f0 0 72px,#7f0 0 74px,#8f0 0 76px,#7f0 0 78px,#8f0 0 80px,#9f0 0 82px,#8f0 0 84px,#9f0 0 86px,#8f0 0 88px,#af0 0 90px,#8f0 0 92px,#9f0 0 96px,#af0 0 98px,#9f0 0 100px,#7f0 0 102px,#8f0 0 104px,#9f0 0 106px,#af0 0 108px,#9f0 0 114px,#8f0 0 118px,#9f0 0 120px,#af0 0 124px,#9f0 0 126px,#bf0 0 128px,#af0 0 130px,#df0 0 132px,#ef0 0 136px,#bf0 0 138px,#df0 0 142px,#bf0 0 146px,#af0 0 148px,#9f0 0 154px,#af0 0 156px,#8f0 0 158px,#9f0 0 164px,#7f0 0 166px,#4f0 0 168px,#6f0 0 170px,#5f0 0 176px,#4f0 0 186px,#3f0 0 190px,#5f0 0 194px,#4f0 0 196px,#5f0 0 198px,#4f0 0 200px,#6f0 0 202px,#7f0 0 206px,#8f0 0 208px,#9f0 0 214px,#7f0 0 218px,#9f0 0 220px,#8f0 0 222px,#7f0 0 224px,#9f0 0 226px,#8f0 0 230px,#9f0 0 234px,#8f0 0 240px,#9f0 0 242px,#6f0 0 244px,#0f1 0 246px,#0f0 0 248px,#0f1 0 250px,#1f0 0 252px,#0f4 0 254px,#0f5 0 256px,#0f2 0 260px,#0f1 0 262px,#0f3 0 264px,#0f2 0 266px,#0f0 0 268px,#0f6 0 270px,#0f2 0 272px,#0f0 0 274px,#0f6 0 276px,#0f5 0 278px,#0f2 0 280px,#0f4 0 282px,#0f6 0 284px,#0f7 0 286px,#0f2 0 288px,#0ce 0 290px,#0f3 0 292px,#0f7 0 294px,#0ea 0 296px,#0eb 0 298px,#0be 0 300px,#0f7 0 302px,#0ec 0 304px,#0f7 0 306px,#0f4 0 308px,#0de 0 310px,#0ce 0 312px,#0ea 0 316px,#08f 0 318px,#07f 0 320px,#0ec 0 322px,#0de 0 324px,#0ae 0 326px,#0e9 0 328px,#0ae 0 330px,#09f 0 334px,#0ae 0 336px,#0f8 0 338px,#0be 0 340px,#09f 0 342px,#0ce 0 346px,#0ea 0 348px,#0ae 0 350px,#0dd 0 352px,#0de 0 354px,#0ce 0 356px,#0be 0 360px,#0ec 0 362px,#0f7 0 364px,#0ce 0 366px,#0be 0 368px,#0f8 0 370px,#0ce 0 372px,#0de 0 374px,#0ea 0 378px,#0dd 0 380px,#0eb 0 382px,#0f8 0 384px,#0eb 0 386px,#0de 0 388px,#0dc 0 390px,#0ec 0 392px,#0e9 0 394px,#0ea 0 398px,#0dc 0 400px,#0f8 0 402px,#0f7 0 404px,#0f9 0 406px,#0e9 0 408px,#0f7 0 410px,#0ea 0 412px,#0f7 0 416px,#0dc 0 418px,#0dd 0 420px,#0f9 0 422px,#0ea 0 424px,#0eb 0)"></div><div style="top:11px;height:4px;background:linear-gradient(90deg,#5f0 2px,#1f0 0 4px,#0f3 0 6px,#0f0 0 8px,#1f0 0 10px,#2f0 0 12px,#0f1 0 14px,#0f0 0 18px,#1f0 0 24px,#2f0 0 28px,#3f0 0 30px,#4f0 0 32px,#7f0 0 34px,#8f0 0 38px,#7f0 0 40px,#6f0 0 42px,#8f0 0 52px,#9f0 0 54px,#8f0 0 56px,#7f0 0 58px,#8f0 0 62px,#9f0 0 68px,#8f0 0 74px,#9f0 0 76px,#7f0 0 78px,#af0 0 82px,#8f0 0 84px,#af0 0 86px,#bf0 0 88px,#9f0 0 100px,#7f0 0 102px,#8f0 0 106px,#9f0 0 108px,#8f0 0 110px,#9f0 0 112px,#af0 0 114px,#9f0 0 120px,#af0 0 130px,#ff0 0 132px,#cf0 0 140px,#bf0 0 144px,#df0 0 146px,#bf0 0 148px,#7f0 0 150px,#9f0 0 154px,#8f0 0 156px,#9f0 0 160px,#7f0 0 166px,#4f0 0 168px,#5f0 0 170px,#4f0 0 172px,#5f0 0 174px,#4f0 0 178px,#5f0 0 180px,#4f0 0 186px,#3f0 0 192px,#4f0 0 194px,#5f0 0 196px,#4f0 0 202px,#8f0 0 206px,#9f0 0 208px,#8f0 0 210px,#9f0 0 212px,#8f0 0 216px,#7f0 0 218px,#9f0 0 220px,#7f0 0 222px,#8f0 0 224px,#9f0 0 226px,#8f0 0 228px,#7f0 0 230px,#9f0 0 240px,#8f0 0 242px,#5f0 0 244px,#0f3 0 246px,#0f2 0 248px,#1f0 0 252px,#0f3 0 254px,#0f4 0 256px,#0f0 0 258px,#0f1 0 260px,#0f3 0 262px,#0f1 0 264px,#0f3 0 268px,#0f1 0 272px,#0f3 0 274px,#0f5 0 276px,#0f2 0 278px,#0f0 0 280px,#0f6 0 282px,#0f4 0 284px,#0f6 0 286px,#0f4 0 288px,#0f3 0 290px,#0f4 0 292px,#0de 0 294px,#0eb 0 296px,#0f8 0 298px,#0f3 0 300px,#0f8 0 302px,#0e9 0 304px,#0de 0 306px,#0dd 0 308px,#0de 0 310px,#0be 0 312px,#09f 0 314px,#0be 0 316px,#0ae 0 318px,#08f 0 320px,#0eb 0 322px,#0f7 0 324px,#07e 0 326px,#0dd 0 328px,#07f 0 330px,#0be 0 332px,#0ce 0 334px,#09f 0 336px,#0be 0 338px,#0de 0 340px,#0dc 0 342px,#08f 0 344px,#0ce 0 346px,#08f 0 348px,#0ce 0 350px,#0dd 0 352px,#09f 0 354px,#08f 0 356px,#09f 0 358px,#0e9 0 360px,#0eb 0 362px,#0f8 0 364px,#07f 0 366px,#0eb 0 368px,#0de 0 374px,#0f8 0 376px,#0be 0 378px,#09f 0 380px,#0be 0 382px,#0f7 0 384px,#0ce 0 388px,#0ec 0 390px,#0dc 0 392px,#0ea 0 394px,#0dd 0 396px,#0ea 0 398px,#0ce 0 400px,#0dd 0 402px,#0ec 0 404px,#0de 0 406px,#0f7 0 408px,#0e9 0 410px,#0de 0 412px,#0f6 0 414px,#0f5 0 416px,#0f8 0 418px,#0dd 0 420px,#0e9 0 422px,#0eb 0 424px,#0f6 0 426px,#0f7 0)"></div><div style="top:15px;height:4px;background:linear-gradient(90deg,#6f0 2px,#1f0 0 4px,#2f0 0 6px,#0f3 0 8px,#1f0 0 12px,#2f0 0 14px,#1f0 0 16px,#0f0 0 20px,#3f0 0 22px,#2f0 0 28px,#3f0 0 30px,#4f0 0 32px,#6f0 0 34px,#af0 0 36px,#8f0 0 40px,#7f0 0 42px,#8f0 0 44px,#9f0 0 46px,#7f0 0 50px,#9f0 0 52px,#8f0 0 56px,#6f0 0 58px,#8f0 0 62px,#9f0 0 66px,#8f0 0 70px,#9f0 0 72px,#8f0 0 78px,#9f0 0 84px,#8f0 0 86px,#9f0 0 88px,#8f0 0 92px,#9f0 0 100px,#7f0 0 102px,#9f0 0 108px,#af0 0 110px,#9f0 0 122px,#bf0 0 124px,#9f0 0 126px,#bf0 0 128px,#af0 0 130px,#ef0 0 132px,#cf0 0 136px,#bf0 0 138px,#cf0 0 140px,#df0 0 142px,#cf0 0 146px,#af0 0 148px,#8f0 0 150px,#7f0 0 152px,#9f0 0 160px,#8f0 0 162px,#9f0 0 164px,#7f0 0 166px,#3f0 0 168px,#5f0 0 176px,#4f0 0 178px,#3f0 0 182px,#4f0 0 184px,#3f0 0 186px,#4f0 0 190px,#5f0 0 192px,#4f0 0 194px,#5f0 0 198px,#6f0 0 200px,#5f0 0 202px,#6f0 0 204px,#8f0 0 208px,#7f0 0 210px,#9f0 0 214px,#7f0 0 216px,#9f0 0 218px,#af0 0 220px,#8f0 0 222px,#6f0 0 224px,#af0 0 228px,#8f0 0 236px,#9f0 0 238px,#8f0 0 242px,#6f0 0 244px,#0f0 0 248px,#1f0 0 250px,#0f0 0 252px,#0f3 0 254px,#1f0 0 256px,#0f0 0 258px,#0f1 0 262px,#0f0 0 264px,#0f1 0 268px,#0f3 0 272px,#0f2 0 274px,#0f3 0 276px,#0f4 0 278px,#0f3 0 282px,#0f2 0 284px,#0f3 0 286px,#0f5 0 288px,#0f4 0 290px,#0f1 0 292px,#0f5 0 294px,#0f3 0 296px,#0f5 0 298px,#0f4 0 302px,#0f6 0 304px,#0eb 0 306px,#0f8 0 310px,#0f5 0 312px,#0e9 0 314px,#0f4 0 316px,#0ec 0 318px,#0f7 0 320px,#0f5 0 322px,#0dd 0 324px,#0f7 0 326px,#0be 0 330px,#0eb 0 332px,#0ce 0 334px,#0f7 0 336px,#07f 0 338px,#0f8 0 340px,#08f 0 342px,#0de 0 344px,#0dd 0 346px,#0ea 0 348px,#0dc 0 350px,#0f8 0 352px,#07e 0 354px,#07f 0 356px,#0ae 0 358px,#0f7 0 360px,#0ce 0 362px,#0be 0 364px,#0ce 0 366px,#09f 0 368px,#07f 0 370px,#08f 0 372px,#06d 0 374px,#08f 0 376px,#06e 0 378px,#0ce 0 380px,#08f 0 384px,#0ce 0 386px,#09f 0 388px,#0ae 0 390px,#0af 0 392px,#0de 0 394px,#08f 0 396px,#0dd 0 398px,#08f 0 402px,#0de 0 404px,#09f 0 406px,#0be 0 408px,#0ec 0 412px,#0be 0 414px,#0f9 0 416px,#0dc 0 418px,#0ec 0 420px,#0ce 0 422px,#0ea 0 424px,#0ce 0)"></div><div style="top:19px;height:4px;background:linear-gradient(90deg,#6f0 2px,#1f0 0 4px,#0f0 0 8px,#1f0 0 12px,#0f0 0 16px,#2f0 0 18px,#1f0 0 22px,#2f0 0 24px,#1f0 0 28px,#3f0 0 30px,#4f0 0 32px,#7f0 0 34px,#9f0 0 38px,#8f0 0 40px,#7f0 0 42px,#8f0 0 44px,#9f0 0 46px,#8f0 0 48px,#9f0 0 50px,#8f0 0 52px,#9f0 0 56px,#7f0 0 58px,#9f0 0 60px,#8f0 0 64px,#7f0 0 66px,#9f0 0 68px,#7f0 0 70px,#9f0 0 72px,#7f0 0 74px,#8f0 0 76px,#9f0 0 80px,#8f0 0 82px,#9f0 0 92px,#af0 0 98px,#9f0 0 100px,#6f0 0 102px,#8f0 0 104px,#9f0 0 106px,#af0 0 110px,#9f0 0 112px,#af0 0 114px,#9f0 0 124px,#af0 0 130px,#ef0 0 132px,#cf0 0 134px,#df0 0 136px,#bf0 0 138px,#df0 0 140px,#cf0 0 142px,#df0 0 144px,#cf0 0 146px,#af0 0 148px,#8f0 0 150px,#9f0 0 154px,#8f0 0 156px,#9f0 0 160px,#7f0 0 162px,#8f0 0 166px,#3f0 0 168px,#5f0 0 170px,#4f0 0 172px,#6f0 0 174px,#3f0 0 176px,#4f0 0 178px,#6f0 0 180px,#3f0 0 184px,#5f0 0 186px,#3f0 0 190px,#4f0 0 192px,#5f0 0 194px,#4f0 0 196px,#5f0 0 200px,#7f0 0 204px,#8f0 0 208px,#7f0 0 210px,#8f0 0 214px,#7f0 0 216px,#9f0 0 218px,#8f0 0 222px,#9f0 0 226px,#af0 0 228px,#8f0 0 230px,#9f0 0 232px,#8f0 0 238px,#9f0 0 242px,#6f0 0 244px,#0f1 0 246px,#0f3 0 248px,#0f0 0 254px,#0f2 0 256px,#1f0 0 258px,#0f2 0 262px,#0f5 0 264px,#1f0 0 266px,#0f2 0 268px,#0f0 0 272px,#3f0 0 274px,#0f0 0 276px,#0f2 0 278px,#0f3 0 280px,#0f0 0 282px,#0f4 0 284px,#0f0 0 286px,#0f4 0 288px,#1f0 0 290px,#0f1 0 292px,#0f6 0 294px,#0f1 0 296px,#0f8 0 298px,#0f1 0 300px,#0f7 0 302px,#0f4 0 304px,#0f3 0 306px,#0f4 0 308px,#0f6 0 310px,#0f2 0 312px,#0e9 0 314px,#0f3 0 316px,#0f4 0 318px,#0eb 0 320px,#0f9 0 322px,#0f8 0 324px,#0dd 0 326px,#0f6 0 328px,#0f8 0 330px,#0f9 0 332px,#0ce 0 334px,#0dd 0 336px,#0ce 0 338px,#0e9 0 340px,#0be 0 342px,#0f4 0 344px,#0eb 0 346px,#0dc 0 348px,#0ce 0 350px,#0ec 0 352px,#0eb 0 354px,#0ea 0 356px,#0de 0 358px,#0eb 0 362px,#0f7 0 364px,#0de 0 366px,#08f 0 368px,#0f8 0 370px,#07e 0 374px,#0be 0 376px,#05d 0 378px,#0ce 0 380px,#07e 0 382px,#05d 0 384px,#0be 0 386px,#05d 0 388px,#0ce 0 390px,#08f 0 392px,#0de 0 394px,#07e 0 396px,#06e 0 398px,#0be 0 400px,#0f7 0 402px,#0ea 0 404px,#07f 0 406px,#09f 0 408px,#0f7 0 410px,#0de 0 412px,#0be 0 414px,#0ce 0 418px,#0ae 0 420px,#08f 0 422px,#0dc 0 424px,#0ae 0 426px,#08f 0)"></div><div style="top:23px;height:4px;background:linear-gradient(90deg,#5f0 2px,#0f0 0 8px,#1f0 0 12px,#0f2 0 14px,#2f0 0 16px,#0f0 0 20px,#1f0 0 24px,#2f0 0 26px,#1f0 0 28px,#4f0 0 32px,#7f0 0 34px,#9f0 0 36px,#8f0 0 38px,#9f0 0 40px,#7f0 0 42px,#9f0 0 44px,#af0 0 46px,#9f0 0 48px,#8f0 0 52px,#af0 0 54px,#8f0 0 56px,#6f0 0 58px,#8f0 0 60px,#7f0 0 62px,#8f0 0 64px,#af0 0 66px,#8f0 0 68px,#6f0 0 70px,#9f0 0 72px,#8f0 0 78px,#9f0 0 82px,#8f0 0 84px,#9f0 0 86px,#8f0 0 88px,#9f0 0 90px,#af0 0 98px,#9f0 0 100px,#8f0 0 106px,#9f0 0 108px,#af0 0 112px,#9f0 0 114px,#7f0 0 116px,#9f0 0 120px,#af0 0 122px,#9f0 0 128px,#af0 0 130px,#df0 0 132px,#bf0 0 134px,#cf0 0 136px,#bf0 0 138px,#cf0 0 140px,#bf0 0 142px,#cf0 0 144px,#bf0 0 146px,#af0 0 148px,#7f0 0 150px,#9f0 0 154px,#8f0 0 156px,#9f0 0 158px,#8f0 0 160px,#9f0 0 162px,#8f0 0 166px,#3f0 0 168px,#5f0 0 174px,#4f0 0 178px,#5f0 0 180px,#4f0 0 182px,#3f0 0 184px,#4f0 0 188px,#3f0 0 190px,#4f0 0 196px,#5f0 0 198px,#4f0 0 202px,#6f0 0 204px,#8f0 0 206px,#9f0 0 210px,#8f0 0 212px,#af0 0 214px,#8f0 0 218px,#9f0 0 222px,#8f0 0 224px,#7f0 0 226px,#8f0 0 228px,#6f0 0 230px,#8f0 0 234px,#9f0 0 238px,#8f0 0 240px,#9f0 0 242px,#5f0 0 244px,#1f0 0 246px,#0f0 0 248px,#0f2 0 250px,#0f0 0 252px,#0f2 0 254px,#0f1 0 256px,#2f0 0 258px,#0f0 0 262px,#0f5 0 264px,#0f1 0 266px,#0f0 0 270px,#0f2 0 272px,#1f0 0 274px,#0f0 0 276px,#0f3 0 278px,#0f2 0 280px,#0f1 0 282px,#0f5 0 284px,#0f2 0 286px,#0f3 0 288px,#0f4 0 294px,#0f0 0 296px,#0f1 0 300px,#0f3 0 302px,#0f5 0 304px,#0f7 0 306px,#0f4 0 308px,#0f5 0 310px,#0f8 0 312px,#0f7 0 314px,#0f1 0 316px,#0f6 0 318px,#0f5 0 322px,#0f4 0 324px,#0e9 0 326px,#0f6 0 328px,#0f8 0 332px,#0f9 0 334px,#0f5 0 336px,#0e9 0 338px,#0eb 0 340px,#0ea 0 342px,#0eb 0 344px,#0ec 0 346px,#0eb 0 348px,#0f7 0 354px,#0f8 0 356px,#0de 0 358px,#0dc 0 360px,#0dd 0 362px,#0e9 0 364px,#0ce 0 366px,#0dd 0 368px,#0f6 0 370px,#0ae 0 372px,#0dd 0 374px,#0e9 0 376px,#0ce 0 378px,#0de 0 380px,#0eb 0 382px,#0e9 0 384px,#0ea 0 386px,#08f 0 390px,#07f 0 392px,#0be 0 394px,#0ae 0 396px,#09f 0 398px,#0ae 0 400px,#0f6 0 402px,#06e 0 404px,#08f 0 406px,#0af 0 408px,#0dc 0 410px,#0dd 0 412px,#0de 0 414px,#08f 0 416px,#0be 0 418px,#08f 0 420px,#0dd 0 422px,#05d 0 424px,#0eb 0 426px,#06e 0)"></div><div style="top:27px;height:4px;background:linear-gradient(90deg,#6f0 2px,#1f0 0 4px,#0f0 0 6px,#1f0 0 8px,#2f0 0 12px,#0f1 0 14px,#1f0 0 18px,#0f0 0 20px,#1f0 0 22px,#2f0 0 26px,#3f0 0 28px,#4f0 0 30px,#3f0 0 32px,#5f0 0 34px,#9f0 0 36px,#8f0 0 44px,#9f0 0 48px,#8f0 0 52px,#9f0 0 56px,#8f0 0 58px,#9f0 0 60px,#8f0 0 62px,#9f0 0 66px,#7f0 0 68px,#9f0 0 70px,#8f0 0 72px,#9f0 0 74px,#8f0 0 80px,#9f0 0 82px,#7f0 0 84px,#af0 0 86px,#9f0 0 88px,#8f0 0 90px,#9f0 0 94px,#af0 0 96px,#9f0 0 98px,#8f0 0 100px,#7f0 0 102px,#8f0 0 104px,#9f0 0 108px,#af0 0 110px,#9f0 0 114px,#8f0 0 116px,#af0 0 118px,#9f0 0 120px,#8f0 0 122px,#af0 0 124px,#bf0 0 130px,#ef0 0 132px,#df0 0 136px,#cf0 0 140px,#bf0 0 142px,#cf0 0 146px,#af0 0 148px,#9f0 0 152px,#8f0 0 154px,#9f0 0 156px,#7f0 0 158px,#9f0 0 162px,#8f0 0 164px,#7f0 0 166px,#5f0 0 168px,#7f0 0 170px,#4f0 0 178px,#5f0 0 182px,#4f0 0 184px,#5f0 0 186px,#3f0 0 196px,#4f0 0 198px,#3f0 0 200px,#6f0 0 202px,#7f0 0 204px,#9f0 0 206px,#8f0 0 208px,#7f0 0 210px,#8f0 0 212px,#9f0 0 214px,#7f0 0 216px,#8f0 0 220px,#9f0 0 222px,#7f0 0 224px,#9f0 0 228px,#6f0 0 230px,#9f0 0 232px,#8f0 0 236px,#7f0 0 238px,#8f0 0 242px,#7f0 0 244px,#0f0 0 246px,#1f0 0 248px,#0f0 0 250px,#1f0 0 252px,#0f2 0 254px,#0f1 0 256px,#1f0 0 258px,#0f3 0 260px,#0f0 0 262px,#0f4 0 264px,#0f3 0 266px,#2f0 0 268px,#0f3 0 270px,#0f1 0 272px,#0f4 0 274px,#0f2 0 278px,#0f4 0 280px,#0f3 0 284px,#0f2 0 286px,#0f4 0 288px,#0f2 0 292px,#0f5 0 294px,#0f4 0 296px,#0f3 0 300px,#0f5 0 304px,#0f6 0 306px,#0f0 0 308px,#0f3 0 310px,#0f5 0 312px,#0f7 0 314px,#0f3 0 316px,#0f5 0 318px,#0f6 0 320px,#0f7 0 322px,#0f5 0 324px,#0f6 0 326px,#0f4 0 328px,#0f5 0 330px,#0f6 0 332px,#0f9 0 334px,#0f6 0 336px,#0f7 0 338px,#0f6 0 340px,#0e9 0 342px,#0f5 0 344px,#0f6 0 346px,#0f7 0 348px,#0f6 0 350px,#0f8 0 352px,#0f6 0 354px,#0f7 0 356px,#0f6 0 358px,#0f7 0 360px,#0f5 0 362px,#0f8 0 364px,#0f6 0 366px,#0f8 0 368px,#0f7 0 370px,#0e9 0 372px,#0ea 0 374px,#0e9 0 376px,#0ea 0 378px,#0eb 0 380px,#0f7 0 382px,#0dc 0 384px,#0f8 0 386px,#0dd 0 388px,#0de 0 390px,#0eb 0 392px,#0dc 0 394px,#0be 0 396px,#0f8 0 398px,#0ce 0 402px,#0ec 0 406px,#0ae 0 408px,#0dd 0 410px,#0af 0 412px,#0ea 0 414px,#0ec 0 416px,#0dc 0 418px,#0ec 0 420px,#0af 0 422px,#0ae 0 424px,#0f8 0 426px,#05d 0)"></div><div style="top:31px;height:3px;background:linear-gradient(90deg,#6f0 2px,#1f0 0 4px,#0f1 0 6px,#0f0 0 10px,#0f1 0 12px,#0f2 0 14px,#0f0 0 18px,#1f0 0 20px,#2f0 0 24px,#1f0 0 28px,#4f0 0 30px,#5f0 0 32px,#7f0 0 34px,#8f0 0 36px,#7f0 0 40px,#8f0 0 48px,#9f0 0 50px,#8f0 0 52px,#9f0 0 54px,#8f0 0 56px,#9f0 0 58px,#7f0 0 62px,#9f0 0 66px,#8f0 0 70px,#9f0 0 72px,#8f0 0 76px,#7f0 0 78px,#8f0 0 80px,#9f0 0 82px,#8f0 0 84px,#9f0 0 90px,#8f0 0 92px,#9f0 0 94px,#af0 0 96px,#8f0 0 98px,#9f0 0 102px,#8f0 0 104px,#af0 0 108px,#9f0 0 110px,#8f0 0 112px,#af0 0 114px,#8f0 0 116px,#9f0 0 122px,#af0 0 126px,#bf0 0 128px,#af0 0 130px,#ef0 0 132px,#cf0 0 134px,#df0 0 136px,#cf0 0 138px,#df0 0 142px,#cf0 0 146px,#bf0 0 148px,#7f0 0 150px,#8f0 0 154px,#af0 0 156px,#8f0 0 160px,#9f0 0 164px,#7f0 0 166px,#3f0 0 168px,#6f0 0 170px,#4f0 0 178px,#6f0 0 180px,#5f0 0 184px,#4f0 0 186px,#3f0 0 188px,#5f0 0 190px,#2f0 0 192px,#4f0 0 194px,#5f0 0 198px,#3f0 0 200px,#5f0 0 202px,#7f0 0 210px,#9f0 0 212px,#8f0 0 216px,#7f0 0 218px,#af0 0 220px,#9f0 0 222px,#7f0 0 224px,#8f0 0 230px,#7f0 0 232px,#8f0 0 234px,#7f0 0 236px,#8f0 0 238px,#9f0 0 240px,#8f0 0 242px,#6f0 0 244px,#0f3 0 246px,#0f0 0 248px,#0f1 0 250px,#0f0 0 252px,#0f3 0 254px,#0f0 0 258px,#0f2 0 260px,#0f1 0 262px,#0f0 0 266px,#0f1 0 268px,#1f0 0 270px,#0f2 0 272px,#0f0 0 276px,#0f4 0 278px,#1f0 0 280px,#0f0 0 282px,#0f6 0 284px,#0f2 0 286px,#0f4 0 288px,#0f0 0 292px,#0f4 0 296px,#0f0 0 298px,#0f6 0 300px,#0f4 0 302px,#0f6 0 304px,#0f3 0 306px,#0f2 0 308px,#0f5 0 310px,#0f2 0 312px,#0f8 0 314px,#0f1 0 316px,#0f7 0 318px,#0f5 0 320px,#0e9 0 322px,#0f4 0 324px,#0e9 0 326px,#0f6 0 332px,#0ea 0 334px,#0f5 0 336px,#0f7 0 340px,#0f8 0 344px,#0ea 0 346px,#0eb 0 348px,#0f5 0 350px,#0f8 0 354px,#0f4 0 356px,#0f7 0 358px,#0f8 0 360px,#0f5 0 362px,#0f9 0 364px,#0ea 0 368px,#0f7 0 370px,#0e9 0 372px,#0f7 0 376px,#0f5 0 378px,#0ec 0 380px,#0f6 0 382px,#0f8 0 384px,#0e9 0 388px,#0f8 0 390px,#0e9 0 392px,#0eb 0 394px,#0ea 0 396px,#0f7 0 398px,#0ea 0 400px,#0e9 0 402px,#0ea 0 404px,#0f6 0 406px,#0e9 0 408px,#0f8 0 410px,#0dd 0 412px,#0e9 0 414px,#0f9 0 416px,#0eb 0 418px,#0ce 0 420px,#0eb 0 422px,#0de 0 426px,#0ea 0)"></div><div style="top:34px;height:4px;background:linear-gradient(90deg,#5f0 2px,#2f0 0 4px,#1f0 0 8px,#0f0 0 10px,#2f0 0 12px,#1f0 0 16px,#0f0 0 18px,#2f0 0 20px,#0f0 0 22px,#1f0 0 24px,#2f0 0 26px,#3f0 0 28px,#2f0 0 30px,#5f0 0 32px,#6f0 0 34px,#9f0 0 36px,#8f0 0 40px,#6f0 0 42px,#8f0 0 44px,#7f0 0 46px,#9f0 0 54px,#8f0 0 64px,#9f0 0 66px,#7f0 0 68px,#9f0 0 72px,#7f0 0 74px,#9f0 0 76px,#6f0 0 78px,#8f0 0 82px,#9f0 0 84px,#af0 0 86px,#8f0 0 88px,#9f0 0 90px,#8f0 0 92px,#af0 0 94px,#9f0 0 98px,#8f0 0 100px,#7f0 0 102px,#9f0 0 104px,#8f0 0 106px,#9f0 0 108px,#af0 0 112px,#9f0 0 116px,#af0 0 124px,#bf0 0 128px,#9f0 0 130px,#ef0 0 132px,#cf0 0 134px,#ef0 0 136px,#cf0 0 146px,#af0 0 148px,#8f0 0 150px,#9f0 0 152px,#8f0 0 154px,#9f0 0 158px,#8f0 0 160px,#9f0 0 162px,#8f0 0 164px,#7f0 0 166px,#3f0 0 168px,#6f0 0 170px,#5f0 0 172px,#6f0 0 174px,#3f0 0 176px,#4f0 0 178px,#5f0 0 180px,#4f0 0 184px,#3f0 0 186px,#5f0 0 188px,#3f0 0 190px,#4f0 0 192px,#5f0 0 198px,#4f0 0 200px,#5f0 0 202px,#6f0 0 204px,#8f0 0 206px,#9f0 0 208px,#7f0 0 210px,#8f0 0 212px,#9f0 0 214px,#7f0 0 218px,#af0 0 220px,#9f0 0 222px,#8f0 0 226px,#9f0 0 228px,#7f0 0 232px,#af0 0 234px,#8f0 0 242px,#6f0 0 244px,#0f0 0 246px,#0f4 0 248px,#0f0 0 254px,#0f2 0 256px,#1f0 0 258px,#0f1 0 260px,#0f5 0 262px,#0f4 0 264px,#0f0 0 268px,#1f0 0 270px,#0f4 0 272px,#0f2 0 274px,#0f0 0 278px,#0f3 0 280px,#0f4 0 282px,#0f6 0 284px,#0f3 0 286px,#0f2 0 288px,#0f0 0 290px,#0f2 0 294px,#0f1 0 296px,#0f2 0 300px,#0f4 0 302px,#0f8 0 304px,#0f1 0 306px,#0f5 0 308px,#0f8 0 310px,#0f4 0 314px,#0f6 0 316px,#0f3 0 318px,#0f4 0 320px,#0f7 0 322px,#0e9 0 324px,#0f6 0 326px,#0f5 0 328px,#0eb 0 330px,#0f4 0 332px,#0dd 0 334px,#0f2 0 336px,#0f7 0 338px,#0f4 0 340px,#0f7 0 342px,#0f4 0 344px,#0f8 0 346px,#0f6 0 348px,#0f9 0 350px,#0f7 0 352px,#0f5 0 354px,#0ea 0 356px,#0f8 0 360px,#0f7 0 366px,#0e9 0 368px,#0f6 0 370px,#0f8 0 372px,#0f7 0 374px,#0f5 0 376px,#0f8 0 378px,#0f9 0 380px,#0f6 0 382px,#0eb 0 384px,#0f8 0 386px,#0f6 0 388px,#0ec 0 390px,#0eb 0 392px,#0f7 0 396px,#0f5 0 398px,#0ea 0 400px,#0ec 0 402px,#0f6 0 404px,#0ea 0 406px,#0f4 0 408px,#0f6 0 410px,#0f7 0 412px,#0ea 0 414px,#0f9 0 416px,#0ea 0 420px,#0e9 0 422px,#0dd 0 426px,#0ea 0)"></div><div style="top:38px;height:4px;background:linear-gradient(90deg,#6f0 2px,#2f0 0 4px,#1f0 0 6px,#0f0 0 8px,#1f0 0 14px,#0f0 0 18px,#1f0 0 20px,#2f0 0 26px,#1f0 0 28px,#4f0 0 32px,#6f0 0 34px,#9f0 0 36px,#7f0 0 38px,#8f0 0 40px,#7f0 0 42px,#8f0 0 44px,#9f0 0 46px,#8f0 0 48px,#7f0 0 50px,#9f0 0 56px,#8f0 0 58px,#7f0 0 60px,#8f0 0 62px,#9f0 0 66px,#7f0 0 68px,#8f0 0 70px,#9f0 0 72px,#8f0 0 76px,#7f0 0 78px,#8f0 0 80px,#9f0 0 82px,#7f0 0 84px,#9f0 0 86px,#8f0 0 90px,#9f0 0 92px,#8f0 0 94px,#9f0 0 98px,#af0 0 100px,#7f0 0 102px,#9f0 0 104px,#8f0 0 110px,#9f0 0 114px,#8f0 0 116px,#9f0 0 120px,#af0 0 128px,#bf0 0 130px,#ef0 0 132px,#df0 0 134px,#cf0 0 136px,#bf0 0 138px,#df0 0 140px,#bf0 0 144px,#cf0 0 146px,#bf0 0 148px,#8f0 0 152px,#9f0 0 156px,#8f0 0 160px,#9f0 0 162px,#8f0 0 164px,#7f0 0 166px,#3f0 0 168px,#4f0 0 170px,#5f0 0 172px,#6f0 0 174px,#5f0 0 176px,#4f0 0 178px,#5f0 0 180px,#4f0 0 184px,#5f0 0 186px,#3f0 0 188px,#4f0 0 192px,#6f0 0 194px,#4f0 0 196px,#5f0 0 200px,#4f0 0 202px,#8f0 0 204px,#7f0 0 206px,#8f0 0 210px,#9f0 0 214px,#8f0 0 218px,#9f0 0 220px,#8f0 0 228px,#7f0 0 230px,#8f0 0 234px,#7f0 0 236px,#9f0 0 238px,#8f0 0 242px,#6f0 0 244px,#0f2 0 246px,#0f1 0 248px,#1f0 0 250px,#2f0 0 252px,#0f2 0 254px,#0f1 0 256px,#1f0 0 258px,#0f2 0 260px,#0f3 0 262px,#0f5 0 264px,#0f1 0 266px,#0f0 0 268px,#0f4 0 270px,#0f2 0 274px,#0f3 0 276px,#0f0 0 278px,#0f2 0 280px,#0f0 0 282px,#0f5 0 284px,#0f2 0 286px,#0f4 0 288px,#0f2 0 290px,#0f1 0 292px,#0f5 0 296px,#0f0 0 298px,#0f2 0 300px,#0f4 0 302px,#0f6 0 304px,#0f5 0 306px,#0f1 0 308px,#0f5 0 310px,#0f4 0 316px,#0f6 0 320px,#0f3 0 322px,#0f7 0 324px,#0f4 0 326px,#0e9 0 328px,#0f9 0 330px,#0ea 0 334px,#0f7 0 338px,#0f8 0 340px,#0dd 0 342px,#0f7 0 348px,#0f4 0 350px,#0f7 0 356px,#0e9 0 360px,#0f5 0 362px,#0f7 0 364px,#0eb 0 366px,#0ec 0 368px,#0f4 0 370px,#0f7 0 374px,#0f2 0 376px,#0f7 0 378px,#0ea 0 380px,#0e9 0 382px,#0f7 0 384px,#0e9 0 386px,#0f4 0 388px,#0e9 0 390px,#0ea 0 392px,#0f8 0 394px,#0e9 0 396px,#0f5 0 398px,#0e9 0 400px,#0f8 0 404px,#0f5 0 406px,#0f6 0 408px,#0f5 0 410px,#0e9 0 412px,#0f7 0 414px,#0f5 0 416px,#0e9 0 418px,#0ea 0 420px,#0f7 0 422px,#0ea 0 424px,#0f8 0)"></div><div style="top:42px;height:10px;background:linear-gradient(90deg,#ff0 4px,#df0 0 8px,#ff0 0 12px,#df0 0 20px,#cf0 0 24px,#bf0 0 28px,#cf0 0 32px,#df0 0 34px,#cf0 0 40px,#af0 0 42px,#df0 0 44px,#cf0 0 48px,#bf0 0 52px,#ef0 0 54px,#cf0 0 56px,#bf0 0 62px,#df0 0 64px,#ef0 0 66px,#cf0 0 70px,#bf0 0 74px,#df0 0 76px,#cf0 0 82px,#bf0 0 84px,#df0 0 88px,#cf0 0 90px,#bf0 0 92px,#cf0 0 98px,#df0 0 100px,#bf0 0 104px,#ef0 0 106px,#ff0 0 114px,#ef0 0 116px,#ff0 0 118px,#ef0 0 120px,#fe0 0 122px,#ff0 0 128px,#ef0 0 130px,#fe0 0 132px,#ef0 0 134px,#ff0 0 136px,#ef0 0 138px,#ff0 0 142px,#ef0 0 144px,#fe0 0 148px,#fd0 0 152px,#fe0 0 156px,#ff0 0 170px,#ef0 0 172px,#ff0 0 178px,#fe0 0 180px,#ff0 0 182px,#df0 0 184px,#ef0 0 188px,#df0 0 190px,#ef0 0 192px,#fe0 0 194px,#ef0 0 196px,#ff0 0 206px,#ef0 0 208px,#ff0 0 214px,#ef0 0 216px,#df0 0 218px,#ff0 0 220px,#af0 0 222px,#9f0 0 224px,#bf0 0 226px,#9f0 0 232px,#af0 0 234px,#9f0 0 236px,#bf0 0 238px,#9f0 0 242px,#7f0 0 244px,#4f0 0 246px,#3f0 0 248px,#5f0 0 252px,#4f0 0 254px,#3f0 0 256px,#4f0 0 258px,#3f0 0 260px,#4f0 0 262px,#2f0 0 264px,#4f0 0 266px,#5f0 0 268px,#3f0 0 270px,#4f0 0 272px,#5f0 0 274px,#3f0 0 282px,#4f0 0 284px,#3f0 0 290px,#5f0 0 292px,#2f0 0 294px,#4f0 0 296px,#3f0 0 298px,#4f0 0 300px,#3f0 0 302px,#2f0 0 304px,#3f0 0 306px,#4f0 0 308px,#3f0 0 312px,#1f0 0 314px,#4f0 0 316px,#3f0 0 318px,#4f0 0 320px,#2f0 0 328px,#3f0 0 330px,#2f0 0 334px,#3f0 0 336px,#2f0 0 340px,#1f0 0 342px,#2f0 0 346px,#1f0 0 348px,#2f0 0 350px,#1f0 0 352px,#2f0 0 354px,#3f0 0 356px,#2f0 0 358px,#3f0 0 360px,#1f0 0 362px,#2f0 0 364px,#1f0 0 366px,#2f0 0 368px,#1f0 0 370px,#2f0 0 372px,#1f0 0 376px,#0f0 0 380px,#1f0 0 384px,#0f0 0 386px,#1f0 0 388px,#0f1 0 392px,#1f0 0 394px,#0f0 0 398px,#1f0 0 402px,#2f0 0 404px,#0f0 0 408px,#1f0 0 410px,#2f0 0 412px,#0f0 0 414px,#1f0 0 416px,#0f0 0 418px,#0f1 0 422px,#2f0 0 424px,#0f0 0 426px,#0f2 0)"></div><div style="top:52px;height:3px;background:linear-gradient(90deg,#f50 2px,#fc0 0 6px,#fe0 0 8px,#fc0 0 10px,#f90 0 12px,#fc0 0 14px,#f00 0 18px,#f10 0 20px,#fc0 0 22px,#fb0 0 26px,#fe0 0 28px,#fc0 0 30px,#fd0 0 32px,#fb0 0 34px,#fe0 0 36px,#ff0 0 38px,#fe0 0 40px,#ef0 0 42px,#fe0 0 44px,#fc0 0 46px,#fe0 0 50px,#fd0 0 52px,#fe0 0 54px,#df0 0 56px,#fe0 0 60px,#ef0 0 62px,#ff0 0 64px,#fe0 0 66px,#df0 0 68px,#ff0 0 70px,#ef0 0 74px,#fe0 0 76px,#ff0 0 78px,#fe0 0 80px,#fd0 0 82px,#ff0 0 84px,#fe0 0 86px,#fd0 0 88px,#fe0 0 94px,#ff0 0 96px,#fd0 0 98px,#ff0 0 100px,#df0 0 102px,#ff0 0 104px,#ef0 0 106px,#ff0 0 108px,#df0 0 110px,#fd0 0 116px,#ef0 0 118px,#ff0 0 122px,#fd0 0 124px,#ff0 0 126px,#fc0 0 128px,#df0 0 130px,#ff0 0 132px,#ef0 0 134px,#cf0 0 138px,#af0 0 140px,#df0 0 144px,#bf0 0 146px,#f90 0 150px,#fa0 0 154px,#f90 0 156px,#fb0 0 160px,#f90 0 162px,#fb0 0 164px,#f80 0 166px,#f70 0 170px,#f80 0 172px,#f70 0 174px,#fa0 0 176px,#f90 0 178px,#f60 0 180px,#f90 0 182px,#fa0 0 186px,#fc0 0 188px,#f90 0 190px,#fb0 0 192px,#f90 0 194px,#f80 0 196px,#f70 0 198px,#fa0 0 200px,#fe0 0 202px,#fc0 0 204px,#ff0 0 206px,#fe0 0 210px,#fd0 0 212px,#fe0 0 216px,#ff0 0 218px,#fe0 0 222px,#bf0 0 224px,#df0 0 226px,#ff0 0 228px,#cf0 0 232px,#bf0 0 236px,#cf0 0 240px,#bf0 0 244px,#5f0 0 246px,#4f0 0 248px,#6f0 0 250px,#4f0 0 256px,#6f0 0 260px,#3f0 0 262px,#4f0 0 264px,#5f0 0 268px,#4f0 0 272px,#5f0 0 276px,#3f0 0 278px,#6f0 0 280px,#4f0 0 282px,#3f0 0 284px,#5f0 0 286px,#4f0 0 296px,#6f0 0 298px,#4f0 0 300px,#2f0 0 302px,#3f0 0 304px,#4f0 0 306px,#5f0 0 308px,#3f0 0 310px,#4f0 0 312px,#2f0 0 314px,#4f0 0 318px,#2f0 0 320px,#3f0 0 328px,#5f0 0 330px,#3f0 0 334px,#4f0 0 336px,#2f0 0 338px,#4f0 0 340px,#2f0 0 342px,#3f0 0 350px,#2f0 0 352px,#3f0 0 354px,#2f0 0 360px,#1f0 0 362px,#4f0 0 364px,#0f0 0 366px,#2f0 0 368px,#3f0 0 370px,#1f0 0 372px,#2f0 0 374px,#1f0 0 376px,#2f0 0 378px,#0f0 0 380px,#1f0 0 382px,#2f0 0 386px,#1f0 0 390px,#0f0 0 392px,#1f0 0 394px,#2f0 0 398px,#0f0 0 400px,#1f0 0 402px,#2f0 0 404px,#0f0 0 406px,#1f0 0 408px,#2f0 0 410px,#0f0 0 412px,#2f0 0 414px,#1f0 0 418px,#0f1 0 420px,#0f0 0 422px,#1f0 0)"></div><div style="top:55px;height:3px;background:linear-gradient(90deg,#f40 2px,#fc0 0 6px,#ff0 0 8px,#fc0 0 10px,#f80 0 12px,#fb0 0 14px,#f00 0 18px,#f10 0 22px,#fb0 0 24px,#fa0 0 26px,#fe0 0 28px,#fb0 0 30px,#fc0 0 32px,#fa0 0 34px,#fe0 0 36px,#ef0 0 38px,#fe0 0 40px,#ff0 0 42px,#fd0 0 44px,#fb0 0 46px,#fd0 0 50px,#fc0 0 52px,#fe0 0 54px,#ef0 0 56px,#fe0 0 60px,#ff0 0 62px,#fe0 0 66px,#df0 0 68px,#ff0 0 70px,#ef0 0 72px,#ff0 0 74px,#fe0 0 76px,#ff0 0 78px,#fd0 0 82px,#fe0 0 84px,#fd0 0 90px,#fe0 0 92px,#fc0 0 94px,#fd0 0 96px,#fc0 0 98px,#ff0 0 100px,#ef0 0 102px,#fe0 0 104px,#ff0 0 106px,#fe0 0 108px,#ef0 0 110px,#fd0 0 116px,#ff0 0 118px,#fd0 0 120px,#fe0 0 122px,#fc0 0 124px,#fe0 0 126px,#fc0 0 128px,#cf0 0 130px,#fe0 0 132px,#df0 0 134px,#cf0 0 138px,#bf0 0 140px,#ef0 0 142px,#df0 0 144px,#bf0 0 146px,#f90 0 148px,#f80 0 150px,#f90 0 154px,#f80 0 156px,#f90 0 158px,#fa0 0 160px,#f80 0 162px,#fa0 0 164px,#f70 0 166px,#f60 0 168px,#f50 0 170px,#f70 0 172px,#f60 0 174px,#f90 0 176px,#f70 0 178px,#f50 0 180px,#f90 0 182px,#f80 0 184px,#f90 0 186px,#fb0 0 188px,#f80 0 190px,#fa0 0 192px,#f80 0 194px,#f70 0 196px,#f50 0 198px,#f90 0 200px,#fd0 0 202px,#fc0 0 204px,#ef0 0 206px,#fd0 0 208px,#fe0 0 210px,#fc0 0 212px,#fe0 0 214px,#ff0 0 218px,#fd0 0 220px,#fe0 0 222px,#bf0 0 224px,#ff0 0 226px,#fe0 0 228px,#cf0 0 230px,#df0 0 232px,#bf0 0 234px,#af0 0 236px,#df0 0 240px,#cf0 0 244px,#3f0 0 246px,#4f0 0 250px,#7f0 0 252px,#5f0 0 260px,#4f0 0 266px,#5f0 0 268px,#4f0 0 270px,#5f0 0 278px,#3f0 0 280px,#4f0 0 284px,#3f0 0 286px,#4f0 0 288px,#3f0 0 290px,#6f0 0 292px,#3f0 0 294px,#5f0 0 296px,#4f0 0 302px,#3f0 0 306px,#4f0 0 308px,#3f0 0 312px,#4f0 0 318px,#3f0 0 320px,#2f0 0 322px,#3f0 0 326px,#2f0 0 328px,#4f0 0 330px,#5f0 0 332px,#3f0 0 334px,#2f0 0 338px,#3f0 0 340px,#2f0 0 342px,#4f0 0 344px,#2f0 0 348px,#3f0 0 350px,#2f0 0 352px,#5f0 0 354px,#4f0 0 356px,#2f0 0 358px,#3f0 0 360px,#1f0 0 362px,#3f0 0 364px,#1f0 0 368px,#2f0 0 372px,#1f0 0 376px,#2f0 0 378px,#1f0 0 382px,#3f0 0 384px,#2f0 0 386px,#1f0 0 390px,#0f0 0 392px,#1f0 0 398px,#0f1 0 400px,#4f0 0 402px,#1f0 0 404px,#2f0 0 406px,#1f0 0 412px,#2f0 0 414px,#1f0 0 416px,#0f0 0 418px,#0f3 0 420px,#1f0 0 426px,#0f0 0)"></div><div style="top:58px;height:3px;background:linear-gradient(90deg,#f40 2px,#fc0 0 4px,#fa0 0 6px,#ff0 0 8px,#fb0 0 10px,#f70 0 12px,#fb0 0 14px,#f00 0 18px,#f10 0 24px,#fa0 0 26px,#fe0 0 28px,#fb0 0 30px,#fc0 0 32px,#fa0 0 34px,#fd0 0 36px,#ff0 0 38px,#fc0 0 40px,#ff0 0 42px,#fd0 0 44px,#fa0 0 46px,#fc0 0 48px,#fd0 0 50px,#fb0 0 52px,#fd0 0 54px,#df0 0 56px,#fc0 0 58px,#fd0 0 60px,#fe0 0 62px,#fd0 0 66px,#df0 0 68px,#fe0 0 70px,#ff0 0 72px,#ef0 0 74px,#fd0 0 76px,#fe0 0 78px,#fc0 0 82px,#fe0 0 84px,#fd0 0 86px,#fc0 0 90px,#fd0 0 92px,#fc0 0 94px,#fd0 0 96px,#fc0 0 98px,#ff0 0 100px,#ef0 0 102px,#fe0 0 104px,#ff0 0 106px,#fe0 0 108px,#df0 0 110px,#fc0 0 114px,#fb0 0 116px,#ff0 0 118px,#fd0 0 120px,#fe0 0 122px,#fc0 0 124px,#fe0 0 126px,#fb0 0 128px,#df0 0 130px,#fe0 0 132px,#df0 0 134px,#bf0 0 136px,#cf0 0 138px,#bf0 0 140px,#df0 0 142px,#ef0 0 144px,#bf0 0 146px,#f90 0 148px,#f70 0 150px,#f80 0 152px,#f90 0 154px,#f70 0 156px,#f90 0 160px,#f70 0 162px,#fa0 0 164px,#f60 0 166px,#f50 0 168px,#f40 0 170px,#f70 0 172px,#f60 0 174px,#f80 0 176px,#f60 0 178px,#f40 0 180px,#f80 0 182px,#f70 0 184px,#f80 0 186px,#fb0 0 188px,#f70 0 190px,#f90 0 192px,#f70 0 194px,#f50 0 196px,#f40 0 198px,#f80 0 200px,#fc0 0 202px,#fb0 0 204px,#ff0 0 206px,#fc0 0 208px,#fd0 0 210px,#fb0 0 212px,#fe0 0 218px,#fd0 0 222px,#bf0 0 224px,#ff0 0 226px,#fe0 0 228px,#cf0 0 230px,#df0 0 232px,#9f0 0 234px,#bf0 0 236px,#df0 0 238px,#ef0 0 240px,#ff0 0 242px,#cf0 0 244px,#5f0 0 254px,#4f0 0 256px,#5f0 0 258px,#6f0 0 260px,#5f0 0 262px,#4f0 0 264px,#3f0 0 266px,#6f0 0 268px,#4f0 0 270px,#5f0 0 274px,#4f0 0 282px,#3f0 0 288px,#4f0 0 294px,#2f0 0 296px,#5f0 0 298px,#4f0 0 302px,#3f0 0 304px,#4f0 0 312px,#2f0 0 314px,#3f0 0 316px,#2f0 0 318px,#3f0 0 322px,#4f0 0 324px,#3f0 0 328px,#4f0 0 330px,#3f0 0 332px,#1f0 0 334px,#3f0 0 336px,#2f0 0 338px,#3f0 0 344px,#1f0 0 346px,#2f0 0 348px,#3f0 0 350px,#2f0 0 352px,#4f0 0 356px,#2f0 0 360px,#1f0 0 362px,#3f0 0 364px,#2f0 0 368px,#1f0 0 370px,#2f0 0 378px,#0f0 0 380px,#0f1 0 382px,#3f0 0 384px,#2f0 0 386px,#1f0 0 388px,#2f0 0 392px,#1f0 0 394px,#0f0 0 398px,#2f0 0 402px,#1f0 0 404px,#2f0 0 406px,#0f0 0 408px,#2f0 0 410px,#1f0 0 412px,#0f0 0 414px,#1f0 0 416px,#2f0 0 418px,#1f0 0 420px,#2f0 0 422px,#0f0 0 424px,#1f0 0)"></div><div style="top:61px;height:3px;background:linear-gradient(90deg,#f40 2px,#fb0 0 4px,#fa0 0 6px,#ef0 0 8px,#fb0 0 10px,#f60 0 12px,#fa0 0 14px,#f00 0 18px,#f10 0 24px,#f00 0 26px,#fd0 0 28px,#fa0 0 30px,#fb0 0 32px,#f90 0 34px,#fc0 0 36px,#ff0 0 38px,#fc0 0 40px,#fe0 0 42px,#fc0 0 44px,#f90 0 46px,#fb0 0 48px,#fc0 0 50px,#fa0 0 52px,#fc0 0 54px,#ef0 0 56px,#fc0 0 58px,#fd0 0 60px,#fe0 0 64px,#fd0 0 66px,#df0 0 68px,#fd0 0 70px,#df0 0 72px,#fe0 0 74px,#fd0 0 76px,#fe0 0 78px,#fb0 0 80px,#fa0 0 82px,#fd0 0 86px,#fb0 0 88px,#fc0 0 90px,#fd0 0 92px,#fb0 0 94px,#fc0 0 96px,#fa0 0 98px,#ff0 0 100px,#fe0 0 102px,#fd0 0 104px,#ef0 0 106px,#fd0 0 108px,#bf0 0 110px,#fa0 0 112px,#fb0 0 114px,#fa0 0 116px,#fe0 0 118px,#fd0 0 120px,#fe0 0 122px,#fa0 0 124px,#fe0 0 126px,#fa0 0 128px,#df0 0 130px,#fe0 0 132px,#df0 0 134px,#cf0 0 138px,#8f0 0 140px,#df0 0 142px,#ef0 0 144px,#bf0 0 146px,#f90 0 148px,#f70 0 152px,#f90 0 154px,#f70 0 156px,#f80 0 158px,#f90 0 160px,#f60 0 162px,#fa0 0 164px,#f50 0 166px,#f40 0 168px,#f30 0 170px,#f60 0 172px,#f40 0 174px,#f70 0 176px,#f50 0 178px,#f30 0 180px,#f70 0 182px,#f60 0 184px,#f70 0 186px,#fa0 0 188px,#f60 0 190px,#f80 0 192px,#f60 0 194px,#f40 0 196px,#f30 0 198px,#f70 0 200px,#fc0 0 202px,#fb0 0 204px,#ef0 0 206px,#fc0 0 208px,#fd0 0 210px,#fa0 0 212px,#fe0 0 218px,#fd0 0 220px,#fc0 0 222px,#af0 0 224px,#ff0 0 226px,#fe0 0 228px,#df0 0 230px,#ef0 0 232px,#8f0 0 234px,#bf0 0 236px,#df0 0 240px,#ff0 0 242px,#bf0 0 244px,#6f0 0 248px,#f60 0 250px,#5f0 0 254px,#6f0 0 256px,#5f0 0 258px,#4f0 0 260px,#3f0 0 262px,#5f0 0 264px,#4f0 0 268px,#5f0 0 272px,#6f0 0 274px,#4f0 0 278px,#3f0 0 280px,#4f0 0 290px,#6f0 0 292px,#4f0 0 294px,#5f0 0 296px,#2f0 0 298px,#4f0 0 300px,#3f0 0 304px,#4f0 0 308px,#3f0 0 310px,#4f0 0 312px,#3f0 0 314px,#4f0 0 316px,#3f0 0 318px,#4f0 0 320px,#3f0 0 324px,#4f0 0 328px,#3f0 0 330px,#2f0 0 334px,#5f0 0 336px,#3f0 0 338px,#4f0 0 340px,#1f0 0 342px,#3f0 0 348px,#1f0 0 350px,#2f0 0 352px,#4f0 0 354px,#3f0 0 358px,#2f0 0 360px,#3f0 0 364px,#2f0 0 366px,#3f0 0 368px,#2f0 0 370px,#1f0 0 372px,#2f0 0 376px,#0f0 0 378px,#3f0 0 380px,#1f0 0 386px,#2f0 0 388px,#1f0 0 390px,#0f0 0 392px,#2f0 0 394px,#1f0 0 396px,#3f0 0 398px,#0f1 0 400px,#1f0 0 402px,#2f0 0 406px,#1f0 0 408px,#0f0 0 410px,#1f0 0 412px,#3f0 0 414px,#2f0 0 416px,#1f0 0 420px,#0f0 0 422px,#1f0 0 426px,#0f1 0)"></div><div style="top:64px;height:3px;background:linear-gradient(90deg,#f40 2px,#fb0 0 4px,#f90 0 6px,#ff0 0 8px,#fb0 0 10px,#f50 0 12px,#f90 0 14px,#f00 0 18px,#f10 0 26px,#f30 0 28px,#fa0 0 30px,#fb0 0 32px,#f90 0 34px,#fb0 0 36px,#ff0 0 38px,#fb0 0 40px,#fd0 0 42px,#fc0 0 44px,#f80 0 46px,#fa0 0 48px,#fb0 0 50px,#f90 0 52px,#fb0 0 54px,#ff0 0 56px,#fa0 0 58px,#f80 0 60px,#fd0 0 64px,#fc0 0 66px,#ff0 0 68px,#fc0 0 70px,#ef0 0 72px,#fe0 0 74px,#fd0 0 76px,#fe0 0 78px,#fa0 0 82px,#fc0 0 86px,#fa0 0 88px,#fb0 0 90px,#fc0 0 92px,#fa0 0 94px,#fb0 0 96px,#fa0 0 98px,#ff0 0 102px,#fc0 0 104px,#fe0 0 106px,#fd0 0 108px,#cf0 0 110px,#fa0 0 112px,#f20 0 114px,#f70 0 116px,#ff0 0 118px,#fc0 0 120px,#f80 0 122px,#fa0 0 124px,#fd0 0 126px,#f90 0 128px,#ef0 0 130px,#fe0 0 132px,#df0 0 134px,#cf0 0 138px,#8f0 0 140px,#ff0 0 144px,#bf0 0 146px,#f80 0 148px,#f60 0 150px,#f70 0 152px,#f80 0 154px,#f60 0 156px,#f80 0 160px,#f60 0 162px,#f90 0 164px,#f40 0 166px,#f30 0 168px,#f20 0 170px,#f40 0 172px,#f30 0 174px,#f60 0 176px,#f40 0 178px,#f20 0 180px,#f60 0 182px,#f50 0 184px,#f60 0 186px,#f90 0 188px,#f50 0 190px,#f70 0 192px,#f50 0 194px,#f30 0 196px,#f10 0 198px,#f60 0 200px,#fb0 0 202px,#fa0 0 204px,#fe0 0 206px,#fa0 0 208px,#fc0 0 210px,#fa0 0 212px,#fd0 0 216px,#fe0 0 218px,#fc0 0 220px,#fb0 0 222px,#df0 0 224px,#fe0 0 226px,#fd0 0 228px,#df0 0 230px,#ef0 0 232px,#9f0 0 234px,#df0 0 236px,#ff0 0 242px,#bf0 0 244px,#f30 0 246px,#fc0 0 248px,#f00 0 250px,#f80 0 252px,#f60 0 254px,#9f0 0 256px,#fb0 0 258px,#af0 0 260px,#4f0 0 262px,#3f0 0 264px,#5f0 0 270px,#4f0 0 272px,#5f0 0 274px,#4f0 0 278px,#5f0 0 280px,#4f0 0 284px,#3f0 0 286px,#4f0 0 290px,#5f0 0 292px,#3f0 0 294px,#4f0 0 300px,#2f0 0 302px,#4f0 0 304px,#2f0 0 306px,#5f0 0 308px,#4f0 0 310px,#3f0 0 312px,#4f0 0 316px,#3f0 0 318px,#4f0 0 320px,#3f0 0 326px,#4f0 0 328px,#3f0 0 334px,#4f0 0 336px,#3f0 0 338px,#4f0 0 340px,#0f0 0 342px,#3f0 0 344px,#1f0 0 346px,#4f0 0 348px,#3f0 0 352px,#2f0 0 354px,#3f0 0 358px,#4f0 0 360px,#1f0 0 362px,#2f0 0 364px,#1f0 0 368px,#3f0 0 370px,#2f0 0 372px,#1f0 0 374px,#2f0 0 380px,#1f0 0 382px,#2f0 0 384px,#0f0 0 386px,#0f1 0 388px,#2f0 0 390px,#0f0 0 392px,#1f0 0 394px,#0f0 0 396px,#2f0 0 398px,#0f1 0 400px,#2f0 0 402px,#1f0 0 404px,#2f0 0 406px,#3f0 0 408px,#2f0 0 410px,#0f0 0 412px,#2f0 0 416px,#0f0 0 420px,#1f0 0 422px,#0f0 0 424px,#1f0 0)"></div><div style="top:67px;height:3px;background:linear-gradient(90deg,#f40 2px,#f30 0 4px,#f90 0 6px,#fe0 0 8px,#fa0 0 10px,#f00 0 12px,#f90 0 14px,#f00 0 20px,#f10 0 24px,#f00 0 26px,#f30 0 28px,#fa0 0 30px,#fb0 0 32px,#f80 0 34px,#fb0 0 36px,#fe0 0 38px,#fb0 0 40px,#fd0 0 42px,#fb0 0 44px,#f90 0 48px,#fa0 0 50px,#f80 0 52px,#fb0 0 54px,#fe0 0 56px,#f90 0 58px,#f10 0 60px,#f70 0 62px,#fd0 0 64px,#fb0 0 66px,#ff0 0 68px,#fc0 0 70px,#fe0 0 72px,#fb0 0 76px,#fd0 0 78px,#fa0 0 80px,#f90 0 82px,#fb0 0 84px,#fc0 0 86px,#fa0 0 88px,#fb0 0 92px,#fa0 0 96px,#f90 0 98px,#fe0 0 102px,#fc0 0 104px,#fe0 0 106px,#fd0 0 108px,#ef0 0 110px,#f90 0 112px,#f00 0 116px,#fd0 0 118px,#f90 0 120px,#f20 0 122px,#f60 0 124px,#fd0 0 126px,#f70 0 128px,#fb0 0 130px,#fe0 0 132px,#df0 0 136px,#ef0 0 138px,#af0 0 140px,#ef0 0 144px,#af0 0 146px,#f70 0 148px,#f50 0 150px,#f60 0 156px,#f70 0 160px,#f60 0 162px,#f80 0 164px,#f40 0 166px,#f20 0 168px,#f10 0 170px,#f30 0 172px,#f20 0 174px,#f40 0 176px,#f30 0 178px,#f10 0 180px,#f50 0 182px,#f40 0 184px,#f50 0 186px,#f60 0 188px,#f40 0 190px,#f50 0 192px,#f40 0 194px,#f10 0 196px,#f00 0 198px,#f50 0 200px,#fa0 0 202px,#f30 0 204px,#fe0 0 206px,#fa0 0 208px,#fc0 0 210px,#f90 0 212px,#fd0 0 218px,#fb0 0 220px,#fa0 0 222px,#ff0 0 224px,#fe0 0 226px,#fc0 0 228px,#ff0 0 232px,#9f0 0 234px,#cf0 0 236px,#fe0 0 242px,#f70 0 244px,#f00 0 246px,#f10 0 248px,#f00 0 254px,#f20 0 256px,#f00 0 258px,#f10 0 260px,#f70 0 262px,#7f0 0 264px,#fc0 0 266px,#4f0 0 268px,#5f0 0 270px,#4f0 0 272px,#5f0 0 274px,#4f0 0 276px,#3f0 0 278px,#4f0 0 280px,#5f0 0 282px,#4f0 0 284px,#5f0 0 286px,#4f0 0 290px,#5f0 0 292px,#4f0 0 294px,#5f0 0 296px,#4f0 0 298px,#5f0 0 300px,#3f0 0 304px,#5f0 0 306px,#4f0 0 308px,#3f0 0 312px,#4f0 0 314px,#3f0 0 326px,#4f0 0 328px,#3f0 0 330px,#2f0 0 336px,#3f0 0 338px,#4f0 0 340px,#3f0 0 344px,#4f0 0 346px,#2f0 0 348px,#3f0 0 350px,#2f0 0 352px,#3f0 0 356px,#2f0 0 358px,#4f0 0 360px,#2f0 0 366px,#3f0 0 368px,#1f0 0 370px,#0f0 0 372px,#2f0 0 374px,#3f0 0 376px,#1f0 0 378px,#0f2 0 380px,#1f0 0 382px,#2f0 0 384px,#1f0 0 386px,#2f0 0 388px,#0f0 0 392px,#1f0 0 398px,#0f0 0 400px,#3f0 0 402px,#1f0 0 406px,#0f0 0 408px,#1f0 0 414px,#2f0 0 416px,#1f0 0 418px,#0f1 0 420px,#1f0 0)"></div><div style="top:70px;height:3px;background:linear-gradient(90deg,#f10 4px,#f60 0 8px,#f50 0 10px,#f00 0 12px,#f60 0 14px,#f00 0 20px,#f10 0 22px,#f00 0 26px,#f30 0 28px,#f10 0 30px,#fa0 0 32px,#f10 0 34px,#fa0 0 36px,#fd0 0 38px,#f40 0 40px,#fa0 0 42px,#fb0 0 44px,#f80 0 46px,#fa0 0 50px,#f80 0 52px,#fb0 0 54px,#fd0 0 56px,#f60 0 58px,#f10 0 62px,#fc0 0 64px,#f50 0 66px,#fb0 0 68px,#fa0 0 72px,#f20 0 74px,#fa0 0 76px,#fd0 0 78px,#f90 0 82px,#fc0 0 84px,#f50 0 86px,#fa0 0 88px,#f60 0 90px,#f90 0 92px,#f50 0 94px,#f20 0 96px,#f10 0 98px,#f80 0 100px,#f50 0 102px,#f90 0 104px,#fe0 0 106px,#fc0 0 108px,#fe0 0 110px,#f10 0 112px,#f00 0 116px,#f50 0 118px,#f20 0 120px,#f10 0 122px,#f00 0 124px,#fc0 0 126px,#f00 0 128px,#f60 0 130px,#f90 0 132px,#fc0 0 136px,#fe0 0 138px,#cf0 0 140px,#fc0 0 142px,#ef0 0 144px,#bf0 0 146px,#f50 0 148px,#f20 0 150px,#f30 0 152px,#f20 0 154px,#f50 0 156px,#f70 0 160px,#f40 0 162px,#f30 0 164px,#f20 0 166px,#f10 0 170px,#f30 0 172px,#f10 0 174px,#f30 0 176px,#f20 0 178px,#f00 0 180px,#f40 0 182px,#f30 0 184px,#f40 0 186px,#f50 0 188px,#f30 0 190px,#f40 0 192px,#f20 0 194px,#f10 0 196px,#f00 0 198px,#f40 0 200px,#f30 0 202px,#f10 0 204px,#fc0 0 206px,#fa0 0 208px,#fb0 0 210px,#f80 0 212px,#fc0 0 216px,#fb0 0 218px,#fa0 0 220px,#f90 0 222px,#f40 0 224px,#fd0 0 226px,#fa0 0 228px,#ff0 0 232px,#bf0 0 234px,#df0 0 236px,#ff0 0 238px,#f30 0 240px,#fe0 0 242px,#f00 0 246px,#f10 0 248px,#f00 0 260px,#f10 0 262px,#f30 0 264px,#f00 0 266px,#f40 0 268px,#f60 0 270px,#3f0 0 272px,#7f0 0 274px,#cf0 0 276px,#5f0 0 280px,#fd0 0 282px,#4f0 0 286px,#5f0 0 288px,#3f0 0 290px,#6f0 0 292px,#7f0 0 294px,#5f0 0 298px,#3f0 0 300px,#2f0 0 304px,#4f0 0 306px,#5f0 0 308px,#3f0 0 314px,#4f0 0 316px,#5f0 0 318px,#3f0 0 320px,#4f0 0 322px,#3f0 0 326px,#4f0 0 328px,#3f0 0 332px,#2f0 0 334px,#4f0 0 336px,#2f0 0 342px,#3f0 0 344px,#1f0 0 346px,#3f0 0 350px,#1f0 0 352px,#3f0 0 354px,#2f0 0 362px,#3f0 0 364px,#1f0 0 366px,#3f0 0 370px,#1f0 0 374px,#3f0 0 376px,#2f0 0 378px,#0f0 0 380px,#0f1 0 382px,#2f0 0 384px,#1f0 0 386px,#3f0 0 388px,#0f1 0 390px,#1f0 0 392px,#2f0 0 394px,#1f0 0 396px,#0f0 0 398px,#1f0 0 404px,#2f0 0 408px,#1f0 0 412px,#2f0 0 414px,#0f0 0 416px,#1f0 0 418px,#0f0 0 420px,#1f0 0)"></div><div style="top:73px;height:3px;background:linear-gradient(90deg,#f00 2px,#f10 0 4px,#f00 0 6px,#f20 0 8px,#f00 0 26px,#f30 0 28px,#f10 0 30px,#f20 0 32px,#f00 0 34px,#f20 0 36px,#fd0 0 38px,#f00 0 40px,#f10 0 42px,#fb0 0 44px,#f80 0 46px,#f90 0 48px,#f30 0 50px,#f00 0 52px,#f40 0 54px,#f30 0 56px,#f00 0 58px,#f10 0 62px,#fa0 0 64px,#f10 0 66px,#f20 0 68px,#f10 0 70px,#f20 0 76px,#fa0 0 78px,#f90 0 80px,#fa0 0 82px,#fb0 0 84px,#f10 0 86px,#f50 0 88px,#f00 0 90px,#f10 0 92px,#f00 0 94px,#f10 0 96px,#f00 0 98px,#f20 0 102px,#f10 0 104px,#f50 0 106px,#f90 0 108px,#f40 0 110px,#f00 0 116px,#f20 0 118px,#f10 0 122px,#f00 0 124px,#f30 0 126px,#f00 0 128px,#f60 0 130px,#f90 0 132px,#fa0 0 134px,#fc0 0 136px,#fb0 0 138px,#fd0 0 140px,#fa0 0 142px,#fb0 0 144px,#ff0 0 146px,#f40 0 148px,#f20 0 150px,#f10 0 156px,#f50 0 158px,#f20 0 160px,#f00 0 162px,#f20 0 164px,#f00 0 166px,#f10 0 170px,#f20 0 172px,#f10 0 174px,#f40 0 176px,#f20 0 178px,#f00 0 180px,#f40 0 182px,#f30 0 184px,#f40 0 186px,#f50 0 188px,#f20 0 190px,#f40 0 192px,#f20 0 194px,#f10 0 196px,#f00 0 198px,#f20 0 202px,#f10 0 204px,#f40 0 206px,#fa0 0 208px,#f70 0 210px,#f20 0 212px,#fc0 0 216px,#f30 0 218px,#f20 0 222px,#f30 0 224px,#f20 0 226px,#f10 0 228px,#f50 0 232px,#ff0 0 234px,#f60 0 236px,#ff0 0 238px,#f10 0 240px,#fe0 0 242px,#f00 0 246px,#f10 0 248px,#f00 0 262px,#f10 0 264px,#f00 0 270px,#ff0 0 272px,#9f0 0 274px,#f20 0 276px,#f90 0 278px,#f80 0 280px,#f10 0 282px,#f60 0 284px,#fc0 0 286px,#4f0 0 288px,#f90 0 290px,#ff0 0 292px,#f50 0 294px,#fa0 0 296px,#bf0 0 298px,#fe0 0 300px,#f80 0 302px,#fb0 0 304px,#f90 0 306px,#fb0 0 308px,#4f0 0 310px,#5f0 0 312px,#fd0 0 314px,#f70 0 316px,#3f0 0 318px,#fd0 0 320px,#9f0 0 322px,#fd0 0 324px,#f70 0 326px,#4f0 0 328px,#7f0 0 330px,#f90 0 332px,#cf0 0 334px,#fd0 0 336px,#fc0 0 340px,#ef0 0 342px,#f80 0 344px,#f70 0 346px,#2f0 0 348px,#f70 0 350px,#3f0 0 354px,#f70 0 356px,#4f0 0 358px,#1f0 0 360px,#f50 0 362px,#3f0 0 364px,#1f0 0 366px,#2f0 0 370px,#3f0 0 372px,#bf0 0 374px,#5f0 0 376px,#fb0 0 378px,#1f0 0 380px,#3f0 0 382px,#2f0 0 384px,#6f0 0 386px,#8f0 0 388px,#bf0 0 390px,#0f3 0 392px,#6f0 0 394px,#2f0 0 396px,#4f0 0 398px,#8f0 0 400px,#2f0 0 408px,#1f0 0 412px,#2f0 0 414px,#3f0 0 416px,#cf0 0 418px,#0f2 0 420px,#2f0 0 422px,#5f0 0 424px,#1f0 0)"></div><div style="top:76px;height:3px;background:linear-gradient(90deg,#f00 2px,#f10 0 4px,#f00 0 6px,#f20 0 8px,#f10 0 10px,#f00 0 26px,#f20 0 28px,#f10 0 30px,#f20 0 32px,#f00 0 36px,#f50 0 38px,#f00 0 40px,#f10 0 42px,#fa0 0 44px,#f20 0 48px,#f00 0 54px,#f20 0 56px,#f00 0 58px,#f10 0 62px,#f20 0 64px,#f00 0 66px,#f20 0 68px,#f10 0 70px,#f20 0 74px,#f10 0 76px,#f20 0 78px,#f00 0 80px,#f60 0 82px,#f20 0 84px,#f10 0 86px,#f00 0 88px,#f10 0 92px,#f00 0 98px,#f20 0 100px,#f30 0 102px,#f10 0 104px,#f20 0 106px,#f10 0 108px,#f20 0 110px,#f00 0 116px,#f20 0 118px,#f10 0 122px,#f00 0 124px,#f20 0 126px,#f00 0 128px,#f50 0 130px,#f90 0 132px,#fa0 0 134px,#fb0 0 138px,#fc0 0 140px,#fa0 0 142px,#f90 0 144px,#fb0 0 146px,#f40 0 148px,#f20 0 150px,#f10 0 152px,#f20 0 154px,#f10 0 156px,#f20 0 160px,#f00 0 162px,#f20 0 164px,#f00 0 166px,#f10 0 170px,#f20 0 172px,#f10 0 174px,#f30 0 176px,#f20 0 178px,#f00 0 180px,#f30 0 182px,#f20 0 184px,#f30 0 186px,#f50 0 188px,#f20 0 190px,#f40 0 192px,#f20 0 194px,#f10 0 196px,#f00 0 198px,#f10 0 200px,#f20 0 202px,#f10 0 204px,#f30 0 206px,#fa0 0 208px,#f20 0 210px,#f00 0 212px,#f90 0 214px,#f70 0 216px,#f20 0 218px,#f10 0 220px,#f00 0 222px,#f20 0 224px,#f10 0 226px,#f00 0 228px,#f20 0 230px,#f10 0 232px,#f30 0 234px,#f20 0 236px,#f60 0 238px,#f00 0 240px,#f20 0 242px,#f00 0 246px,#f10 0 248px,#f00 0 262px,#f10 0 264px,#f00 0 272px,#f20 0 274px,#f10 0 286px,#f60 0 288px,#f10 0 292px,#f20 0 294px,#f10 0 296px,#f20 0 298px,#f10 0 308px,#df0 0 310px,#f90 0 312px,#f10 0 316px,#f70 0 318px,#f10 0 320px,#f20 0 322px,#f10 0 326px,#f70 0 328px,#f30 0 330px,#f10 0 332px,#f20 0 334px,#f10 0 336px,#f20 0 338px,#f10 0 340px,#f20 0 342px,#f10 0 346px,#f70 0 348px,#f10 0 350px,#fa0 0 352px,#f50 0 354px,#f10 0 356px,#f40 0 358px,#f90 0 360px,#f10 0 362px,#8f0 0 364px,#fa0 0 366px,#f50 0 368px,#f80 0 370px,#f60 0 372px,#f20 0 374px,#f30 0 376px,#f20 0 378px,#f50 0 382px,#f60 0 384px,#f40 0 388px,#f30 0 390px,#f70 0 392px,#f40 0 394px,#9f0 0 396px,#f40 0 400px,#bf0 0 402px,#fe0 0 404px,#fb0 0 406px,#7f0 0 408px,#f80 0 410px,#8f0 0 412px,#fa0 0 414px,#8f0 0 416px,#f50 0 418px,#fd0 0 420px,#f80 0 422px,#f60 0 424px,#f80 0 426px,#fc0 0)"></div><div style="top:79px;height:3px;background:linear-gradient(90deg,#f00 2px,#f10 0 4px,#f00 0 6px,#f20 0 8px,#f00 0 26px,#f10 0 28px,#f00 0 36px,#f10 0 38px,#f00 0 40px,#f20 0 42px,#f50 0 44px,#f00 0 54px,#f10 0 56px,#f00 0 58px,#f10 0 64px,#f00 0 66px,#f20 0 68px,#f10 0 74px,#f00 0 76px,#f20 0 78px,#f00 0 82px,#f10 0 84px,#f00 0 90px,#f10 0 92px,#f00 0 98px,#f20 0 102px,#f10 0 104px,#f20 0 106px,#f10 0 108px,#f20 0 110px,#f00 0 116px,#f20 0 118px,#f10 0 122px,#f00 0 124px,#f20 0 126px,#f00 0 128px,#f60 0 130px,#f90 0 132px,#fb0 0 138px,#fc0 0 140px,#fa0 0 144px,#fb0 0 146px,#f30 0 148px,#f20 0 150px,#f10 0 152px,#f20 0 154px,#f10 0 156px,#f20 0 160px,#f10 0 162px,#f20 0 164px,#f10 0 170px,#f20 0 172px,#f10 0 174px,#f30 0 176px,#f20 0 178px,#f00 0 180px,#f30 0 182px,#f20 0 184px,#f30 0 186px,#f40 0 188px,#f20 0 190px,#f30 0 192px,#f20 0 194px,#f10 0 196px,#f00 0 198px,#f10 0 200px,#f20 0 202px,#f10 0 204px,#f30 0 208px,#f20 0 210px,#f10 0 212px,#f20 0 218px,#f10 0 220px,#f00 0 222px,#f20 0 224px,#f00 0 228px,#f20 0 230px,#f10 0 232px,#f20 0 236px,#f10 0 240px,#f00 0 246px,#f10 0 248px,#f00 0 274px,#f10 0 282px,#f20 0 284px,#f10 0 290px,#f00 0 292px,#f10 0 302px,#f20 0 304px,#f10 0 308px,#f20 0 310px,#f10 0 314px,#f00 0 316px,#f10 0 332px,#f20 0 334px,#f10 0 340px,#f20 0 342px,#f10 0 356px,#f20 0 358px,#f10 0 362px,#f20 0 368px,#f10 0 370px,#f20 0 374px,#f10 0 376px,#f20 0 378px,#f30 0 380px,#f20 0 384px,#f30 0 386px,#f20 0 388px,#f30 0 394px,#f40 0 396px,#f30 0 398px,#f40 0 400px,#f30 0 406px,#f40 0 408px,#f30 0 410px,#f40 0 416px,#f50 0 418px,#f60 0 422px,#f50 0 424px,#f60 0)"></div></div>
<div class="sp" style="left:92px;top:422px;width:428px;height:83px"><div style="top:0px;height:3px;background:linear-gradient(90deg,#5f0 2px,#1f0 0 4px,#0f0 0 6px,#1f0 0 8px,#0f2 0 10px,#0f0 0 14px,#2f0 0 16px,#1f0 0 20px,#3f0 0 22px,#2f0 0 24px,#1f0 0 26px,#2f0 0 30px,#3f0 0 32px,#5f0 0 34px,#9f0 0 36px,#8f0 0 38px,#7f0 0 40px,#8f0 0 42px,#7f0 0 48px,#9f0 0 54px,#8f0 0 56px,#9f0 0 62px,#8f0 0 68px,#9f0 0 70px,#8f0 0 78px,#9f0 0 86px,#af0 0 88px,#9f0 0 90px,#af0 0 92px,#8f0 0 94px,#9f0 0 96px,#7f0 0 98px,#9f0 0 100px,#af0 0 104px,#9f0 0 106px,#7f0 0 108px,#af0 0 110px,#8f0 0 112px,#af0 0 114px,#9f0 0 116px,#bf0 0 118px,#8f0 0 120px,#bf0 0 122px,#af0 0 124px,#9f0 0 126px,#af0 0 128px,#bf0 0 130px,#cf0 0 134px,#df0 0 138px,#cf0 0 140px,#bf0 0 148px,#af0 0 154px,#9f0 0 156px,#8f0 0 158px,#9f0 0 160px,#8f0 0 162px,#7f0 0 164px,#6f0 0 166px,#4f0 0 168px,#5f0 0 176px,#4f0 0 178px,#5f0 0 184px,#7f0 0 186px,#4f0 0 188px,#5f0 0 190px,#3f0 0 192px,#5f0 0 194px,#3f0 0 196px,#4f0 0 200px,#5f0 0 202px,#6f0 0 204px,#7f0 0 206px,#9f0 0 214px,#6f0 0 216px,#8f0 0 220px,#2f0 0 222px,#3f0 0 224px,#2f0 0 238px,#0f0 0 240px,#3f0 0 242px,#0f6 0 244px,#0f7 0 246px,#0eb 0 248px,#0f8 0 250px,#0ce 0 252px,#0de 0 254px,#0be 0 256px,#0eb 0 258px,#0de 0 260px,#0ce 0 262px,#0de 0 264px,#0ea 0 266px,#0be 0 268px,#0dd 0 270px,#0be 0 276px,#09f 0 278px,#0ce 0 280px,#0be 0 282px,#0de 0 284px,#0be 0 286px,#0af 0 288px,#0be 0 290px,#0ce 0 292px,#07e 0 294px,#0be 0 298px,#07f 0 300px,#0ce 0 302px,#07f 0 304px,#0dd 0 306px,#06e 0 308px,#0be 0 310px,#0ae 0 312px,#06e 0 314px,#05d 0 316px,#0be 0 318px,#04c 0 320px,#07f 0 322px,#05d 0 324px,#08f 0 326px,#09f 0 328px,#08f 0 332px,#07f 0 334px,#0ae 0 338px,#06e 0 344px,#08f 0 346px,#07f 0 348px,#0ce 0 350px,#09f 0 352px,#07e 0 354px,#06d 0 356px,#07e 0 358px,#06e 0 360px,#06d 0 362px,#0be 0 364px,#0ce 0 366px,#0af 0 368px,#0be 0 370px,#0ce 0 372px,#0be 0 374px,#06e 0 376px,#09f 0 378px,#08f 0 380px,#0ae 0 382px,#09f 0 384px,#0be 0 386px,#09f 0 390px,#08f 0 392px,#0ae 0 394px,#08f 0 396px,#0ce 0 398px,#0ae 0 400px,#09f 0 402px,#0be 0 404px,#09f 0 406px,#0be 0 408px,#09f 0 410px,#0af 0 412px,#09f 0 414px,#0ae 0 416px,#09f 0 418px,#0af 0 420px,#07e 0 422px,#09f 0 424px,#0be 0 426px,#09f 0)"></div><div style="top:3px;height:4px;background:linear-gradient(90deg,#5f0 2px,#2f0 0 4px,#1f0 0 8px,#0f0 0 10px,#1f0 0 12px,#0f1 0 14px,#2f0 0 18px,#1f0 0 20px,#2f0 0 22px,#3f0 0 24px,#2f0 0 26px,#4f0 0 30px,#5f0 0 32px,#6f0 0 34px,#8f0 0 36px,#9f0 0 38px,#8f0 0 42px,#9f0 0 44px,#8f0 0 46px,#7f0 0 48px,#8f0 0 50px,#9f0 0 52px,#8f0 0 54px,#7f0 0 56px,#af0 0 60px,#9f0 0 62px,#8f0 0 64px,#7f0 0 66px,#9f0 0 68px,#af0 0 70px,#9f0 0 72px,#8f0 0 74px,#9f0 0 80px,#8f0 0 84px,#bf0 0 86px,#9f0 0 88px,#7f0 0 90px,#9f0 0 92px,#7f0 0 94px,#9f0 0 96px,#7f0 0 98px,#8f0 0 100px,#9f0 0 108px,#af0 0 120px,#bf0 0 122px,#af0 0 124px,#9f0 0 126px,#af0 0 128px,#cf0 0 134px,#bf0 0 136px,#cf0 0 142px,#bf0 0 144px,#cf0 0 146px,#bf0 0 150px,#9f0 0 156px,#8f0 0 158px,#9f0 0 162px,#7f0 0 166px,#4f0 0 170px,#5f0 0 174px,#6f0 0 176px,#4f0 0 178px,#3f0 0 182px,#5f0 0 184px,#6f0 0 188px,#3f0 0 190px,#4f0 0 192px,#7f0 0 194px,#4f0 0 198px,#6f0 0 200px,#5f0 0 202px,#8f0 0 204px,#9f0 0 206px,#8f0 0 208px,#9f0 0 210px,#8f0 0 212px,#9f0 0 214px,#8f0 0 216px,#6f0 0 218px,#9f0 0 220px,#4f0 0 222px,#1f0 0 224px,#0f0 0 226px,#2f0 0 228px,#1f0 0 234px,#2f0 0 238px,#1f0 0 240px,#3f0 0 242px,#0f5 0 244px,#0f4 0 246px,#0e9 0 248px,#0dd 0 250px,#0eb 0 252px,#0e9 0 254px,#0f6 0 256px,#0e9 0 258px,#0ce 0 260px,#0ae 0 262px,#0ce 0 264px,#0be 0 266px,#0ce 0 270px,#0dd 0 272px,#0dc 0 274px,#0de 0 278px,#0ce 0 280px,#0dc 0 282px,#09f 0 284px,#0f8 0 286px,#0eb 0 288px,#08f 0 290px,#0ce 0 292px,#07e 0 294px,#0ce 0 296px,#06d 0 298px,#0ce 0 300px,#07e 0 302px,#06e 0 306px,#0ce 0 308px,#05d 0 310px,#07f 0 312px,#08f 0 314px,#0ae 0 316px,#03b 0 318px,#0ce 0 320px,#04c 0 322px,#0af 0 324px,#07f 0 326px,#08f 0 328px,#03c 0 330px,#0ce 0 332px,#04c 0 334px,#0be 0 336px,#04c 0 340px,#06e 0 342px,#0ce 0 344px,#08f 0 346px,#06e 0 348px,#0be 0 350px,#04c 0 352px,#0be 0 354px,#07e 0 356px,#08f 0 358px,#0be 0 360px,#07e 0 362px,#05d 0 364px,#06e 0 366px,#07f 0 368px,#07e 0 370px,#07f 0 372px,#09f 0 374px,#0ce 0 376px,#0dc 0 378px,#0be 0 380px,#09f 0 382px,#0af 0 384px,#0ae 0 386px,#06e 0 388px,#0ea 0 390px,#08f 0 392px,#07e 0 394px,#07f 0 396px,#0de 0 398px,#0ae 0 400px,#09f 0 402px,#0af 0 404px,#0ce 0 406px,#06e 0 408px,#06d 0 410px,#0ce 0 412px,#0ae 0 414px,#0de 0 416px,#08f 0 418px,#06e 0 420px,#09f 0 422px,#0be 0 426px,#0ce 0)"></div><div style="top:7px;height:4px;background:linear-gradient(90deg,#6f0 2px,#2f0 0 4px,#0f2 0 6px,#1f0 0 8px,#0f0 0 10px,#2f0 0 12px,#0f0 0 14px,#1f0 0 22px,#3f0 0 24px,#2f0 0 26px,#3f0 0 30px,#5f0 0 32px,#7f0 0 38px,#8f0 0 40px,#7f0 0 42px,#8f0 0 50px,#af0 0 52px,#9f0 0 54px,#7f0 0 56px,#8f0 0 58px,#9f0 0 62px,#6f0 0 64px,#7f0 0 66px,#8f0 0 68px,#af0 0 70px,#9f0 0 72px,#af0 0 74px,#7f0 0 76px,#8f0 0 78px,#af0 0 80px,#8f0 0 84px,#af0 0 86px,#8f0 0 92px,#9f0 0 98px,#8f0 0 100px,#9f0 0 102px,#8f0 0 104px,#9f0 0 106px,#8f0 0 108px,#af0 0 110px,#9f0 0 112px,#af0 0 118px,#bf0 0 120px,#af0 0 122px,#9f0 0 124px,#af0 0 128px,#df0 0 130px,#cf0 0 132px,#df0 0 134px,#cf0 0 136px,#df0 0 140px,#cf0 0 144px,#bf0 0 148px,#9f0 0 152px,#af0 0 154px,#7f0 0 156px,#8f0 0 158px,#9f0 0 160px,#8f0 0 162px,#7f0 0 166px,#3f0 0 168px,#4f0 0 172px,#5f0 0 176px,#4f0 0 178px,#6f0 0 180px,#3f0 0 182px,#4f0 0 184px,#5f0 0 188px,#4f0 0 190px,#5f0 0 192px,#7f0 0 194px,#2f0 0 196px,#4f0 0 198px,#5f0 0 200px,#2f0 0 202px,#5f0 0 204px,#9f0 0 208px,#8f0 0 212px,#7f0 0 214px,#8f0 0 216px,#9f0 0 220px,#3f0 0 222px,#2f0 0 230px,#3f0 0 232px,#2f0 0 234px,#1f0 0 236px,#2f0 0 238px,#1f0 0 240px,#5f0 0 242px,#0f2 0 244px,#0f0 0 246px,#0f1 0 248px,#0f8 0 250px,#0f5 0 252px,#0f2 0 254px,#0eb 0 256px,#0f5 0 258px,#0f3 0 260px,#0f2 0 262px,#0f8 0 264px,#0de 0 266px,#0ec 0 268px,#0f7 0 270px,#0de 0 274px,#0be 0 278px,#0e9 0 280px,#0ce 0 282px,#0dc 0 284px,#0ce 0 288px,#0be 0 290px,#08f 0 292px,#0af 0 294px,#09f 0 296px,#0ce 0 298px,#08f 0 300px,#0ce 0 302px,#06e 0 304px,#0ce 0 306px,#07f 0 308px,#0f8 0 310px,#0eb 0 312px,#0de 0 314px,#0be 0 316px,#0af 0 318px,#0dd 0 320px,#07f 0 322px,#0be 0 324px,#03b 0 328px,#04c 0 330px,#07e 0 332px,#03a 0 334px,#0be 0 338px,#09f 0 340px,#03a 0 342px,#0be 0 344px,#0af 0 346px,#06e 0 348px,#07f 0 350px,#04c 0 352px,#09f 0 354px,#07e 0 356px,#04c 0 358px,#03b 0 360px,#0be 0 362px,#0ce 0 364px,#029 0 366px,#08f 0 368px,#03a 0 370px,#03b 0 372px,#0be 0 374px,#08f 0 376px,#09f 0 378px,#08f 0 382px,#0be 0 384px,#03b 0 386px,#0ce 0 390px,#07f 0 392px,#05d 0 394px,#03a 0 396px,#09f 0 398px,#05d 0 400px,#06e 0 402px,#0ae 0 404px,#03b 0 406px,#0e9 0 408px,#0be 0 410px,#05d 0 412px,#06e 0 414px,#05d 0 416px,#0be 0 418px,#07e 0 420px,#0af 0 422px,#0be 0 424px,#08f 0 426px,#03b 0)"></div><div style="top:11px;height:4px;background:linear-gradient(90deg,#4f0 2px,#2f0 0 4px,#0f1 0 6px,#1f0 0 10px,#2f0 0 12px,#0f1 0 14px,#0f0 0 18px,#1f0 0 22px,#3f0 0 24px,#2f0 0 26px,#1f0 0 28px,#3f0 0 30px,#4f0 0 32px,#6f0 0 34px,#7f0 0 36px,#8f0 0 38px,#7f0 0 40px,#8f0 0 42px,#7f0 0 44px,#9f0 0 46px,#8f0 0 50px,#9f0 0 52px,#8f0 0 54px,#6f0 0 56px,#9f0 0 62px,#6f0 0 64px,#7f0 0 66px,#8f0 0 72px,#9f0 0 76px,#8f0 0 82px,#7f0 0 84px,#af0 0 88px,#9f0 0 90px,#8f0 0 92px,#6f0 0 94px,#9f0 0 98px,#8f0 0 100px,#9f0 0 104px,#8f0 0 108px,#9f0 0 116px,#af0 0 118px,#9f0 0 126px,#af0 0 128px,#bf0 0 130px,#cf0 0 134px,#df0 0 138px,#cf0 0 142px,#bf0 0 146px,#af0 0 150px,#bf0 0 152px,#af0 0 154px,#8f0 0 156px,#9f0 0 158px,#8f0 0 160px,#7f0 0 162px,#8f0 0 164px,#6f0 0 166px,#5f0 0 168px,#4f0 0 170px,#3f0 0 172px,#4f0 0 174px,#6f0 0 176px,#4f0 0 184px,#5f0 0 186px,#4f0 0 188px,#3f0 0 190px,#4f0 0 192px,#5f0 0 194px,#3f0 0 196px,#5f0 0 198px,#6f0 0 200px,#4f0 0 202px,#6f0 0 204px,#8f0 0 216px,#9f0 0 220px,#3f0 0 222px,#1f0 0 226px,#2f0 0 228px,#1f0 0 230px,#2f0 0 232px,#1f0 0 234px,#2f0 0 236px,#3f0 0 238px,#2f0 0 240px,#3f0 0 242px,#0f5 0 244px,#0f7 0 246px,#0f2 0 248px,#0f5 0 250px,#0e9 0 254px,#0f7 0 256px,#0f0 0 258px,#0ea 0 260px,#0ce 0 262px,#0f4 0 264px,#0ea 0 266px,#0f9 0 268px,#0ea 0 270px,#0f6 0 272px,#0dd 0 274px,#0de 0 276px,#0f6 0 278px,#0eb 0 280px,#0be 0 282px,#0ce 0 284px,#0dd 0 286px,#09f 0 290px,#0e9 0 292px,#0ea 0 294px,#0ce 0 296px,#0ae 0 300px,#0f5 0 302px,#0f8 0 304px,#07e 0 306px,#04c 0 308px,#0be 0 310px,#0de 0 314px,#03c 0 316px,#04d 0 318px,#0f7 0 320px,#08f 0 322px,#0de 0 324px,#0ec 0 326px,#03b 0 328px,#0dd 0 330px,#0de 0 332px,#09f 0 334px,#03b 0 336px,#029 0 338px,#0be 0 340px,#06e 0 342px,#05d 0 344px,#0be 0 346px,#0ae 0 348px,#03b 0 350px,#0be 0 352px,#09f 0 354px,#0de 0 356px,#05d 0 358px,#08f 0 360px,#07f 0 362px,#0af 0 364px,#03a 0 366px,#0be 0 368px,#03b 0 370px,#029 0 372px,#03a 0 374px,#06e 0 376px,#0be 0 378px,#039 0 380px,#06e 0 382px,#0be 0 384px,#08f 0 386px,#07f 0 388px,#08f 0 390px,#03a 0 392px,#0af 0 394px,#0de 0 396px,#029 0 398px,#0eb 0 400px,#0be 0 402px,#0af 0 404px,#04c 0 406px,#028 0 408px,#029 0 410px,#0be 0 412px,#028 0 414px,#08f 0 416px,#05d 0 420px,#04c 0 422px,#029 0 424px,#028 0 426px,#04c 0)"></div><div style="top:15px;height:4px;background:linear-gradient(90deg,#5f0 2px,#2f0 0 4px,#1f0 0 6px,#0f0 0 10px,#1f0 0 12px,#2f0 0 16px,#0f1 0 18px,#2f0 0 20px,#1f0 0 22px,#2f0 0 28px,#3f0 0 30px,#5f0 0 32px,#7f0 0 34px,#9f0 0 36px,#8f0 0 44px,#7f0 0 48px,#8f0 0 50px,#af0 0 52px,#8f0 0 54px,#9f0 0 62px,#7f0 0 66px,#9f0 0 68px,#af0 0 70px,#8f0 0 72px,#af0 0 74px,#8f0 0 76px,#9f0 0 80px,#8f0 0 84px,#9f0 0 88px,#8f0 0 90px,#7f0 0 92px,#8f0 0 94px,#9f0 0 96px,#7f0 0 100px,#9f0 0 108px,#8f0 0 110px,#9f0 0 114px,#af0 0 118px,#bf0 0 120px,#af0 0 124px,#9f0 0 128px,#cf0 0 130px,#df0 0 134px,#cf0 0 136px,#df0 0 138px,#cf0 0 140px,#bf0 0 144px,#cf0 0 148px,#bf0 0 150px,#9f0 0 158px,#8f0 0 160px,#7f0 0 166px,#6f0 0 170px,#5f0 0 172px,#6f0 0 174px,#4f0 0 178px,#3f0 0 182px,#5f0 0 184px,#6f0 0 186px,#5f0 0 190px,#3f0 0 192px,#6f0 0 194px,#3f0 0 198px,#5f0 0 200px,#4f0 0 202px,#7f0 0 204px,#8f0 0 212px,#9f0 0 214px,#7f0 0 216px,#9f0 0 218px,#8f0 0 220px,#2f0 0 222px,#1f0 0 224px,#2f0 0 226px,#3f0 0 228px,#1f0 0 232px,#4f0 0 234px,#2f0 0 236px,#0f0 0 238px,#3f0 0 240px,#4f0 0 242px,#0f5 0 244px,#0f3 0 246px,#0f5 0 248px,#0f8 0 250px,#0f5 0 252px,#0f4 0 254px,#0f5 0 256px,#0f3 0 258px,#0f5 0 260px,#0f4 0 262px,#0f8 0 264px,#0f4 0 266px,#0ce 0 268px,#0e9 0 270px,#0ea 0 272px,#0ec 0 274px,#0f7 0 276px,#0e9 0 282px,#0de 0 284px,#0be 0 286px,#0ea 0 288px,#0ce 0 290px,#0af 0 292px,#0ea 0 296px,#06e 0 298px,#0eb 0 300px,#0be 0 304px,#0ec 0 306px,#06e 0 308px,#0be 0 310px,#0de 0 312px,#04c 0 314px,#09f 0 316px,#03b 0 318px,#0af 0 320px,#09f 0 322px,#03a 0 324px,#0af 0 326px,#028 0 328px,#0ce 0 330px,#06e 0 332px,#029 0 334px,#06e 0 336px,#0be 0 338px,#028 0 340px,#029 0 342px,#0de 0 344px,#09f 0 346px,#029 0 348px,#0be 0 350px,#08f 0 352px,#0be 0 354px,#029 0 356px,#028 0 358px,#029 0 360px,#08f 0 362px,#016 0 364px,#017 0 366px,#06e 0 368px,#05d 0 370px,#017 0 372px,#028 0 374px,#016 0 376px,#017 0 378px,#0ae 0 380px,#028 0 382px,#0dd 0 384px,#03b 0 386px,#028 0 388px,#017 0 390px,#028 0 392px,#09f 0 394px,#017 0 396px,#04c 0 398px,#029 0 400px,#06e 0 402px,#0de 0 404px,#08f 0 406px,#07e 0 408px,#029 0 410px,#06e 0 412px,#04c 0 414px,#016 0 416px,#028 0 418px,#03a 0 424px,#04c 0 426px,#03b 0)"></div><div style="top:19px;height:4px;background:linear-gradient(90deg,#5f0 2px,#0f1 0 4px,#0f0 0 6px,#2f0 0 8px,#0f0 0 10px,#1f0 0 12px,#0f1 0 16px,#2f0 0 18px,#0f0 0 20px,#3f0 0 22px,#1f0 0 26px,#2f0 0 28px,#4f0 0 30px,#3f0 0 32px,#5f0 0 34px,#8f0 0 38px,#7f0 0 40px,#8f0 0 42px,#9f0 0 44px,#8f0 0 46px,#9f0 0 48px,#8f0 0 52px,#9f0 0 54px,#8f0 0 56px,#9f0 0 58px,#8f0 0 60px,#9f0 0 62px,#8f0 0 64px,#7f0 0 66px,#9f0 0 68px,#af0 0 70px,#9f0 0 72px,#8f0 0 76px,#af0 0 78px,#8f0 0 82px,#9f0 0 88px,#8f0 0 90px,#9f0 0 92px,#7f0 0 94px,#9f0 0 96px,#8f0 0 98px,#9f0 0 100px,#8f0 0 102px,#9f0 0 106px,#8f0 0 108px,#af0 0 110px,#9f0 0 112px,#af0 0 114px,#9f0 0 116px,#bf0 0 118px,#9f0 0 120px,#bf0 0 122px,#af0 0 128px,#df0 0 130px,#bf0 0 132px,#cf0 0 134px,#df0 0 136px,#cf0 0 142px,#bf0 0 144px,#cf0 0 146px,#bf0 0 148px,#af0 0 150px,#9f0 0 156px,#8f0 0 158px,#9f0 0 160px,#7f0 0 162px,#6f0 0 166px,#5f0 0 174px,#6f0 0 176px,#2f0 0 178px,#4f0 0 182px,#6f0 0 186px,#5f0 0 188px,#4f0 0 190px,#3f0 0 192px,#6f0 0 194px,#4f0 0 200px,#3f0 0 202px,#6f0 0 204px,#8f0 0 210px,#9f0 0 214px,#7f0 0 216px,#8f0 0 218px,#7f0 0 220px,#3f0 0 222px,#1f0 0 226px,#2f0 0 230px,#1f0 0 232px,#3f0 0 234px,#2f0 0 236px,#0f0 0 238px,#2f0 0 242px,#0f4 0 244px,#0f3 0 246px,#0f1 0 248px,#0f2 0 252px,#0ea 0 254px,#0e9 0 256px,#0f6 0 258px,#0f2 0 260px,#0eb 0 262px,#0e9 0 264px,#0f9 0 266px,#0dd 0 268px,#0f6 0 270px,#0f7 0 272px,#0f0 0 274px,#0ea 0 276px,#0eb 0 278px,#0f6 0 280px,#0ea 0 282px,#0ec 0 284px,#0dc 0 286px,#0ce 0 290px,#0f5 0 292px,#0ce 0 294px,#0af 0 296px,#0f5 0 298px,#0ec 0 300px,#0ce 0 306px,#08f 0 308px,#0af 0 310px,#09f 0 312px,#07f 0 314px,#0be 0 316px,#07f 0 318px,#08f 0 320px,#0ce 0 322px,#07f 0 324px,#06e 0 326px,#0dc 0 328px,#07f 0 330px,#0ae 0 332px,#03b 0 334px,#029 0 336px,#03a 0 338px,#027 0 340px,#0ce 0 342px,#0ae 0 344px,#0be 0 346px,#09f 0 348px,#028 0 350px,#03a 0 352px,#0be 0 354px,#017 0 356px,#03b 0 358px,#0dd 0 360px,#028 0 362px,#03b 0 366px,#05d 0 368px,#07e 0 370px,#03b 0 372px,#08f 0 376px,#09f 0 378px,#028 0 380px,#09f 0 382px,#029 0 384px,#08f 0 386px,#07f 0 388px,#06e 0 390px,#09f 0 392px,#05d 0 394px,#03b 0 396px,#0ce 0 398px,#0ec 0 400px,#016 0 402px,#0ce 0 406px,#04c 0 408px,#016 0 410px,#0af 0 412px,#0ae 0 414px,#09f 0 416px,#039 0 418px,#0ce 0 420px,#08f 0 422px,#016 0 424px,#04c 0 426px,#016 0)"></div><div style="top:23px;height:4px;background:linear-gradient(90deg,#6f0 2px,#0f0 0 6px,#2f0 0 8px,#0f4 0 10px,#0f0 0 14px,#2f0 0 16px,#1f0 0 24px,#0f1 0 26px,#3f0 0 28px,#2f0 0 30px,#4f0 0 32px,#6f0 0 34px,#8f0 0 40px,#7f0 0 42px,#8f0 0 56px,#9f0 0 62px,#af0 0 64px,#7f0 0 66px,#af0 0 68px,#9f0 0 70px,#8f0 0 78px,#9f0 0 80px,#af0 0 82px,#8f0 0 84px,#af0 0 88px,#9f0 0 92px,#7f0 0 94px,#8f0 0 98px,#9f0 0 102px,#8f0 0 104px,#9f0 0 106px,#8f0 0 108px,#9f0 0 116px,#af0 0 124px,#9f0 0 126px,#af0 0 128px,#bf0 0 130px,#cf0 0 134px,#df0 0 140px,#bf0 0 142px,#cf0 0 144px,#bf0 0 148px,#af0 0 150px,#9f0 0 152px,#af0 0 156px,#8f0 0 158px,#7f0 0 160px,#8f0 0 162px,#7f0 0 164px,#6f0 0 166px,#5f0 0 168px,#4f0 0 170px,#5f0 0 174px,#4f0 0 178px,#3f0 0 180px,#5f0 0 182px,#4f0 0 184px,#5f0 0 186px,#4f0 0 190px,#3f0 0 192px,#6f0 0 194px,#4f0 0 198px,#5f0 0 200px,#3f0 0 202px,#6f0 0 204px,#8f0 0 208px,#9f0 0 210px,#7f0 0 212px,#8f0 0 218px,#9f0 0 220px,#4f0 0 222px,#2f0 0 224px,#1f0 0 228px,#3f0 0 230px,#2f0 0 234px,#3f0 0 236px,#2f0 0 240px,#3f0 0 242px,#0f3 0 244px,#0f4 0 246px,#0f6 0 252px,#0f8 0 254px,#0f6 0 256px,#0f4 0 258px,#0f1 0 260px,#0f5 0 262px,#0ec 0 264px,#0f7 0 266px,#0f5 0 268px,#0f7 0 270px,#0f5 0 272px,#0ea 0 274px,#0e9 0 276px,#0f5 0 278px,#0de 0 280px,#0f7 0 282px,#0f8 0 284px,#0eb 0 286px,#0e9 0 288px,#0f8 0 290px,#0ce 0 292px,#0dd 0 294px,#0f8 0 296px,#0dd 0 300px,#0ec 0 302px,#0dc 0 304px,#0ae 0 306px,#0be 0 308px,#08f 0 310px,#0ea 0 312px,#08f 0 314px,#0be 0 316px,#05d 0 318px,#0be 0 320px,#08f 0 322px,#0f9 0 324px,#07e 0 326px,#04c 0 328px,#07f 0 330px,#03b 0 332px,#03a 0 334px,#05d 0 336px,#06e 0 338px,#04c 0 340px,#05d 0 342px,#03a 0 344px,#03b 0 346px,#0de 0 348px,#08f 0 350px,#07e 0 352px,#029 0 354px,#0ea 0 356px,#06e 0 358px,#0de 0 360px,#0be 0 362px,#05d 0 364px,#06e 0 366px,#03b 0 368px,#03a 0 370px,#0af 0 372px,#09f 0 374px,#03b 0 376px,#07f 0 378px,#07e 0 380px,#03b 0 382px,#03a 0 384px,#027 0 386px,#04c 0 388px,#0be 0 390px,#0ea 0 392px,#0be 0 394px,#0ae 0 396px,#016 0 398px,#028 0 400px,#027 0 402px,#05d 0 404px,#08f 0 406px,#029 0 408px,#016 0 410px,#09f 0 412px,#016 0 416px,#09f 0 418px,#029 0 420px,#016 0 422px,#05d 0 424px,#016 0 426px,#08f 0)"></div><div style="top:27px;height:4px;background:linear-gradient(90deg,#4f0 2px,#1f0 0 16px,#0f0 0 18px,#1f0 0 20px,#3f0 0 24px,#1f0 0 26px,#2f0 0 28px,#1f0 0 30px,#4f0 0 32px,#6f0 0 34px,#8f0 0 38px,#7f0 0 40px,#8f0 0 46px,#7f0 0 48px,#8f0 0 50px,#9f0 0 54px,#8f0 0 56px,#9f0 0 62px,#8f0 0 64px,#7f0 0 66px,#8f0 0 68px,#af0 0 70px,#8f0 0 72px,#9f0 0 74px,#af0 0 76px,#9f0 0 78px,#8f0 0 80px,#9f0 0 82px,#8f0 0 84px,#9f0 0 86px,#8f0 0 92px,#9f0 0 94px,#af0 0 96px,#8f0 0 100px,#9f0 0 102px,#8f0 0 104px,#9f0 0 106px,#8f0 0 108px,#af0 0 110px,#8f0 0 112px,#9f0 0 114px,#af0 0 122px,#8f0 0 124px,#af0 0 128px,#cf0 0 130px,#df0 0 132px,#cf0 0 134px,#ef0 0 136px,#df0 0 138px,#cf0 0 142px,#bf0 0 144px,#cf0 0 146px,#bf0 0 148px,#9f0 0 150px,#af0 0 152px,#bf0 0 154px,#8f0 0 156px,#9f0 0 158px,#8f0 0 160px,#7f0 0 164px,#8f0 0 166px,#5f0 0 168px,#4f0 0 170px,#5f0 0 178px,#4f0 0 184px,#5f0 0 190px,#3f0 0 192px,#6f0 0 194px,#3f0 0 196px,#4f0 0 198px,#6f0 0 200px,#5f0 0 202px,#7f0 0 204px,#9f0 0 206px,#af0 0 208px,#8f0 0 212px,#9f0 0 214px,#8f0 0 220px,#2f0 0 222px,#1f0 0 226px,#2f0 0 230px,#3f0 0 234px,#2f0 0 242px,#0f3 0 244px,#0f7 0 246px,#1f0 0 248px,#0f0 0 250px,#0f7 0 252px,#0f4 0 256px,#1f0 0 258px,#0f3 0 260px,#0f5 0 262px,#0f7 0 264px,#0f4 0 266px,#0f1 0 268px,#0f8 0 270px,#0f7 0 272px,#0f8 0 274px,#0f2 0 276px,#0e9 0 278px,#0f7 0 280px,#0f8 0 282px,#0f7 0 284px,#0f1 0 286px,#0f3 0 288px,#0f6 0 290px,#0eb 0 292px,#0f7 0 294px,#0f8 0 296px,#0f7 0 298px,#0dc 0 300px,#0eb 0 302px,#0ce 0 304px,#0ec 0 306px,#0dc 0 308px,#0be 0 310px,#09f 0 314px,#0eb 0 316px,#0be 0 318px,#0ce 0 320px,#0dd 0 322px,#08f 0 324px,#0ae 0 328px,#0dd 0 330px,#0af 0 332px,#07f 0 334px,#0ae 0 336px,#07f 0 338px,#0ae 0 340px,#0be 0 344px,#04c 0 346px,#08f 0 348px,#0ec 0 350px,#07e 0 352px,#03b 0 354px,#07e 0 356px,#0ce 0 360px,#03b 0 362px,#05d 0 364px,#0ae 0 366px,#06e 0 370px,#07f 0 372px,#03a 0 374px,#09f 0 376px,#0dd 0 378px,#04c 0 380px,#03b 0 382px,#0ae 0 384px,#0be 0 386px,#08f 0 388px,#0be 0 390px,#03b 0 392px,#04c 0 394px,#03b 0 396px,#0ae 0 400px,#03b 0 404px,#08f 0 406px,#0ce 0 408px,#028 0 410px,#0ce 0 412px,#029 0 414px,#06e 0 416px,#03b 0 418px,#028 0 420px,#08f 0 422px,#07f 0 424px,#03a 0 426px,#03c 0)"></div><div style="top:31px;height:4px;background:linear-gradient(90deg,#6f0 2px,#0f0 0 4px,#0f2 0 6px,#2f0 0 8px,#0f1 0 12px,#1f0 0 14px,#2f0 0 16px,#1f0 0 20px,#3f0 0 22px,#2f0 0 26px,#4f0 0 28px,#3f0 0 30px,#5f0 0 34px,#9f0 0 36px,#8f0 0 44px,#7f0 0 46px,#9f0 0 48px,#7f0 0 50px,#8f0 0 52px,#9f0 0 54px,#7f0 0 58px,#8f0 0 60px,#9f0 0 64px,#7f0 0 66px,#8f0 0 68px,#7f0 0 74px,#8f0 0 76px,#af0 0 78px,#8f0 0 80px,#af0 0 82px,#8f0 0 84px,#9f0 0 86px,#af0 0 88px,#9f0 0 90px,#8f0 0 94px,#9f0 0 96px,#8f0 0 98px,#9f0 0 102px,#8f0 0 104px,#af0 0 106px,#9f0 0 110px,#8f0 0 112px,#af0 0 116px,#bf0 0 118px,#af0 0 122px,#9f0 0 124px,#af0 0 126px,#8f0 0 128px,#cf0 0 130px,#df0 0 132px,#cf0 0 134px,#df0 0 138px,#cf0 0 142px,#af0 0 144px,#bf0 0 148px,#af0 0 154px,#9f0 0 158px,#af0 0 160px,#8f0 0 162px,#7f0 0 166px,#6f0 0 170px,#4f0 0 176px,#3f0 0 178px,#4f0 0 184px,#5f0 0 186px,#6f0 0 188px,#4f0 0 192px,#5f0 0 194px,#4f0 0 196px,#5f0 0 198px,#4f0 0 200px,#5f0 0 202px,#7f0 0 208px,#9f0 0 210px,#8f0 0 212px,#9f0 0 214px,#8f0 0 216px,#7f0 0 218px,#8f0 0 220px,#2f0 0 226px,#3f0 0 228px,#2f0 0 232px,#3f0 0 234px,#2f0 0 236px,#1f0 0 240px,#4f0 0 242px,#0f3 0 244px,#0f6 0 246px,#0f7 0 248px,#0f3 0 250px,#0f8 0 252px,#0f9 0 254px,#0f6 0 256px,#0f3 0 258px,#0f2 0 260px,#0f1 0 262px,#0f3 0 264px,#0f7 0 266px,#0f4 0 268px,#0ea 0 270px,#0f7 0 272px,#0f5 0 274px,#0f8 0 276px,#0f5 0 280px,#0f2 0 282px,#0dd 0 284px,#0f5 0 288px,#0f7 0 290px,#0f4 0 292px,#0f6 0 294px,#0e9 0 296px,#0f8 0 298px,#0dd 0 300px,#0f4 0 302px,#0eb 0 304px,#0ec 0 306px,#0de 0 308px,#0f4 0 310px,#0dc 0 312px,#0be 0 314px,#0eb 0 316px,#0be 0 320px,#0ae 0 322px,#08f 0 324px,#0dd 0 326px,#0de 0 328px,#0ae 0 330px,#08f 0 332px,#0ae 0 334px,#0dd 0 336px,#0be 0 338px,#0ea 0 340px,#0de 0 344px,#0ce 0 346px,#0be 0 348px,#09f 0 350px,#08f 0 352px,#0ae 0 354px,#0dd 0 356px,#0dc 0 358px,#0eb 0 360px,#08f 0 362px,#07f 0 364px,#0eb 0 366px,#09f 0 368px,#08f 0 370px,#03c 0 372px,#0ce 0 374px,#0ae 0 376px,#04c 0 378px,#07f 0 380px,#05d 0 382px,#06e 0 384px,#0af 0 386px,#08f 0 388px,#07e 0 390px,#0be 0 392px,#09f 0 394px,#03c 0 396px,#07e 0 398px,#0ec 0 400px,#09f 0 402px,#0be 0 404px,#0ae 0 406px,#03b 0 408px,#0ce 0 410px,#06e 0 412px,#06d 0 414px,#07e 0 416px,#04c 0 418px,#0ae 0 420px,#08f 0 422px,#0be 0 424px,#06e 0 426px,#028 0)"></div><div style="top:35px;height:4px;background:linear-gradient(90deg,#5f0 2px,#1f0 0 6px,#0f1 0 8px,#1f0 0 10px,#0f0 0 12px,#2f0 0 16px,#0f0 0 20px,#3f0 0 24px,#2f0 0 28px,#3f0 0 30px,#5f0 0 34px,#8f0 0 36px,#7f0 0 38px,#8f0 0 42px,#9f0 0 44px,#6f0 0 46px,#8f0 0 50px,#9f0 0 54px,#7f0 0 56px,#9f0 0 60px,#8f0 0 62px,#9f0 0 64px,#8f0 0 66px,#af0 0 68px,#9f0 0 74px,#8f0 0 76px,#9f0 0 78px,#8f0 0 80px,#7f0 0 82px,#8f0 0 84px,#9f0 0 86px,#af0 0 88px,#7f0 0 90px,#9f0 0 92px,#8f0 0 94px,#9f0 0 96px,#8f0 0 98px,#9f0 0 100px,#af0 0 104px,#8f0 0 110px,#af0 0 112px,#9f0 0 116px,#af0 0 120px,#9f0 0 122px,#af0 0 124px,#9f0 0 128px,#bf0 0 130px,#cf0 0 134px,#df0 0 136px,#cf0 0 138px,#df0 0 140px,#cf0 0 142px,#bf0 0 144px,#cf0 0 146px,#bf0 0 148px,#af0 0 152px,#9f0 0 158px,#8f0 0 162px,#6f0 0 164px,#7f0 0 166px,#4f0 0 168px,#6f0 0 172px,#5f0 0 174px,#4f0 0 176px,#5f0 0 178px,#3f0 0 182px,#5f0 0 186px,#6f0 0 188px,#4f0 0 194px,#3f0 0 198px,#5f0 0 200px,#4f0 0 202px,#6f0 0 204px,#8f0 0 206px,#9f0 0 208px,#8f0 0 210px,#7f0 0 212px,#9f0 0 214px,#7f0 0 216px,#9f0 0 220px,#2f0 0 222px,#3f0 0 224px,#2f0 0 226px,#1f0 0 228px,#0f0 0 230px,#3f0 0 232px,#2f0 0 236px,#1f0 0 242px,#0f5 0 244px,#0f0 0 250px,#0f4 0 252px,#0f0 0 256px,#1f0 0 260px,#0f2 0 262px,#0f5 0 264px,#0f2 0 268px,#2f0 0 270px,#1f0 0 272px,#0f1 0 274px,#0f4 0 276px,#0f1 0 278px,#0f0 0 282px,#0f7 0 284px,#0f2 0 286px,#0f3 0 288px,#0f2 0 292px,#0ea 0 294px,#0f5 0 296px,#0f7 0 298px,#0f4 0 302px,#0f6 0 306px,#0f5 0 308px,#0f6 0 310px,#0f4 0 312px,#0f9 0 314px,#0f4 0 316px,#0f9 0 318px,#0ce 0 320px,#0ec 0 322px,#0e9 0 324px,#0de 0 326px,#0ec 0 328px,#0ce 0 330px,#0ec 0 332px,#0eb 0 334px,#0f7 0 336px,#0de 0 340px,#0ce 0 344px,#0de 0 346px,#0ae 0 348px,#0ea 0 350px,#0eb 0 352px,#0ce 0 354px,#0f9 0 356px,#0ea 0 358px,#0f9 0 360px,#0de 0 362px,#0ea 0 364px,#0ce 0 366px,#0be 0 368px,#0ae 0 370px,#0be 0 372px,#0ae 0 376px,#0de 0 378px,#0be 0 380px,#0f8 0 382px,#0be 0 384px,#0ce 0 386px,#09f 0 388px,#0ce 0 390px,#0ae 0 392px,#0eb 0 394px,#0ec 0 396px,#0dc 0 398px,#0f7 0 400px,#07f 0 402px,#07e 0 404px,#0ce 0 406px,#07e 0 408px,#07f 0 410px,#0af 0 412px,#0be 0 414px,#0f6 0 416px,#0f8 0 418px,#07e 0 420px,#06e 0 422px,#07f 0 424px,#08f 0 426px,#05d 0)"></div><div style="top:39px;height:4px;background:linear-gradient(90deg,#5f0 2px,#0f0 0 6px,#1f0 0 8px,#0f1 0 10px,#1f0 0 14px,#2f0 0 16px,#1f0 0 18px,#0f0 0 20px,#2f0 0 22px,#3f0 0 26px,#2f0 0 28px,#3f0 0 30px,#4f0 0 32px,#7f0 0 34px,#9f0 0 42px,#8f0 0 46px,#7f0 0 48px,#8f0 0 50px,#7f0 0 56px,#8f0 0 58px,#9f0 0 60px,#af0 0 62px,#8f0 0 64px,#7f0 0 66px,#9f0 0 74px,#af0 0 76px,#9f0 0 84px,#af0 0 86px,#9f0 0 92px,#8f0 0 94px,#9f0 0 96px,#8f0 0 98px,#9f0 0 100px,#af0 0 102px,#9f0 0 104px,#8f0 0 108px,#9f0 0 110px,#af0 0 114px,#9f0 0 118px,#af0 0 120px,#9f0 0 122px,#af0 0 124px,#9f0 0 126px,#bf0 0 128px,#cf0 0 130px,#df0 0 136px,#ef0 0 138px,#df0 0 140px,#cf0 0 142px,#bf0 0 144px,#cf0 0 146px,#bf0 0 148px,#af0 0 150px,#9f0 0 152px,#bf0 0 154px,#8f0 0 156px,#7f0 0 158px,#9f0 0 160px,#8f0 0 162px,#7f0 0 166px,#6f0 0 168px,#5f0 0 172px,#4f0 0 178px,#3f0 0 180px,#4f0 0 182px,#3f0 0 184px,#5f0 0 186px,#3f0 0 188px,#5f0 0 190px,#6f0 0 194px,#3f0 0 196px,#4f0 0 198px,#5f0 0 200px,#4f0 0 202px,#7f0 0 204px,#9f0 0 206px,#8f0 0 208px,#9f0 0 210px,#8f0 0 216px,#9f0 0 218px,#8f0 0 220px,#1f0 0 222px,#2f0 0 224px,#1f0 0 226px,#3f0 0 228px,#2f0 0 234px,#1f0 0 238px,#2f0 0 242px,#0f3 0 244px,#1f0 0 246px,#0f2 0 248px,#0f1 0 250px,#0f3 0 252px,#1f0 0 256px,#0f1 0 258px,#0f4 0 260px,#1f0 0 262px,#0f4 0 264px,#0f2 0 266px,#0f0 0 268px,#1f0 0 270px,#0f3 0 272px,#0f1 0 274px,#0f2 0 276px,#0f3 0 280px,#0f1 0 282px,#0f5 0 284px,#0f2 0 286px,#0f1 0 288px,#0f6 0 290px,#0f1 0 292px,#0f5 0 294px,#0f4 0 298px,#0f6 0 300px,#0f3 0 304px,#0f5 0 306px,#0f2 0 308px,#0f8 0 310px,#0f5 0 312px,#0ea 0 314px,#0f3 0 316px,#0eb 0 318px,#0f7 0 320px,#0eb 0 322px,#0f8 0 324px,#0f7 0 326px,#0ec 0 328px,#0f6 0 330px,#0f8 0 332px,#0eb 0 334px,#0ea 0 336px,#0ec 0 338px,#0e9 0 340px,#0ea 0 342px,#0ec 0 346px,#0de 0 348px,#0f7 0 350px,#0ea 0 352px,#0eb 0 354px,#0e9 0 356px,#0eb 0 358px,#0ea 0 360px,#0dd 0 362px,#0eb 0 364px,#0ea 0 366px,#0e9 0 368px,#0ce 0 378px,#0ae 0 380px,#0dd 0 382px,#0ce 0 384px,#0be 0 386px,#0f7 0 388px,#0af 0 390px,#0eb 0 392px,#0de 0 394px,#0eb 0 396px,#09f 0 398px,#0ae 0 400px,#0dd 0 402px,#0ae 0 404px,#09f 0 406px,#0f8 0 408px,#0ce 0 410px,#0ec 0 412px,#0ea 0 414px,#0ce 0 416px,#0de 0 418px,#0ce 0 422px,#0de 0 424px,#08f 0 426px,#0ae 0)"></div><div style="top:43px;height:10px;background:linear-gradient(90deg,#ff0 4px,#df0 0 6px,#ff0 0 8px,#df0 0 10px,#ef0 0 14px,#ff0 0 16px,#df0 0 20px,#cf0 0 22px,#df0 0 24px,#bf0 0 28px,#cf0 0 30px,#bf0 0 32px,#df0 0 34px,#cf0 0 38px,#bf0 0 40px,#df0 0 42px,#cf0 0 44px,#af0 0 46px,#bf0 0 48px,#cf0 0 50px,#ef0 0 52px,#df0 0 54px,#bf0 0 58px,#df0 0 62px,#bf0 0 64px,#cf0 0 68px,#df0 0 70px,#cf0 0 72px,#df0 0 74px,#cf0 0 76px,#ef0 0 78px,#cf0 0 80px,#df0 0 82px,#cf0 0 84px,#df0 0 88px,#bf0 0 90px,#cf0 0 92px,#bf0 0 94px,#df0 0 96px,#af0 0 98px,#df0 0 108px,#ff0 0 112px,#fe0 0 114px,#ff0 0 116px,#fe0 0 118px,#ef0 0 120px,#fe0 0 122px,#ff0 0 124px,#ef0 0 126px,#ff0 0 128px,#fe0 0 130px,#ef0 0 132px,#ff0 0 134px,#fe0 0 136px,#ef0 0 138px,#ff0 0 142px,#df0 0 144px,#fe0 0 146px,#fc0 0 150px,#fd0 0 152px,#fc0 0 154px,#ff0 0 156px,#ef0 0 158px,#fe0 0 160px,#ef0 0 162px,#df0 0 164px,#ff0 0 172px,#fe0 0 174px,#ff0 0 176px,#ef0 0 182px,#ff0 0 184px,#fe0 0 186px,#ff0 0 190px,#ef0 0 192px,#fe0 0 194px,#ef0 0 196px,#ff0 0 206px,#fe0 0 208px,#ff0 0 214px,#df0 0 216px,#ff0 0 218px,#ef0 0 220px,#af0 0 222px,#bf0 0 224px,#8f0 0 226px,#af0 0 228px,#9f0 0 234px,#8f0 0 240px,#9f0 0 242px,#7f0 0 244px,#5f0 0 248px,#4f0 0 252px,#5f0 0 256px,#4f0 0 258px,#3f0 0 264px,#4f0 0 266px,#5f0 0 268px,#3f0 0 270px,#4f0 0 272px,#3f0 0 274px,#2f0 0 276px,#4f0 0 280px,#3f0 0 282px,#5f0 0 284px,#4f0 0 290px,#3f0 0 300px,#2f0 0 302px,#5f0 0 306px,#3f0 0 310px,#4f0 0 312px,#2f0 0 314px,#4f0 0 316px,#2f0 0 320px,#3f0 0 322px,#1f0 0 324px,#3f0 0 326px,#2f0 0 328px,#1f0 0 330px,#3f0 0 332px,#2f0 0 334px,#3f0 0 338px,#2f0 0 340px,#3f0 0 344px,#2f0 0 346px,#0f0 0 348px,#3f0 0 350px,#2f0 0 354px,#3f0 0 356px,#1f0 0 360px,#2f0 0 366px,#1f0 0 370px,#2f0 0 372px,#1f0 0 376px,#2f0 0 378px,#0f0 0 380px,#1f0 0 382px,#0f0 0 384px,#1f0 0 390px,#0f0 0 392px,#3f0 0 394px,#1f0 0 396px,#0f0 0 398px,#2f0 0 400px,#0f0 0 402px,#1f0 0 404px,#0f0 0 406px,#3f0 0 408px,#0f0 0 410px,#1f0 0 414px,#2f0 0 418px,#1f0 0 422px,#2f0 0 424px,#1f0 0)"></div><div style="top:53px;height:3px;background:linear-gradient(90deg,#f30 2px,#f90 0 4px,#fb0 0 6px,#f90 0 8px,#fc0 0 10px,#fa0 0 12px,#f90 0 14px,#f20 0 20px,#fa0 0 28px,#f90 0 30px,#fa0 0 32px,#f90 0 34px,#fb0 0 36px,#fc0 0 38px,#ff0 0 40px,#fe0 0 42px,#fc0 0 44px,#ef0 0 46px,#fc0 0 48px,#fe0 0 50px,#fb0 0 52px,#fc0 0 54px,#fa0 0 56px,#fd0 0 58px,#fa0 0 60px,#fb0 0 62px,#fd0 0 64px,#fc0 0 66px,#fa0 0 68px,#fc0 0 72px,#fe0 0 74px,#fd0 0 78px,#fc0 0 82px,#fd0 0 84px,#fc0 0 86px,#fa0 0 88px,#fc0 0 90px,#fa0 0 92px,#fc0 0 94px,#fd0 0 98px,#fb0 0 100px,#fc0 0 108px,#fb0 0 110px,#fd0 0 112px,#fe0 0 116px,#fb0 0 118px,#fa0 0 120px,#fe0 0 122px,#fb0 0 124px,#fe0 0 128px,#fd0 0 130px,#fc0 0 132px,#ff0 0 134px,#fb0 0 136px,#fc0 0 140px,#fd0 0 142px,#fe0 0 146px,#f50 0 148px,#f60 0 150px,#f70 0 152px,#fa0 0 154px,#f90 0 156px,#f80 0 158px,#f60 0 160px,#f70 0 162px,#fa0 0 164px,#f70 0 166px,#f60 0 168px,#f50 0 170px,#f70 0 174px,#f60 0 176px,#f70 0 178px,#f50 0 180px,#f70 0 184px,#f50 0 186px,#f70 0 188px,#f50 0 190px,#f60 0 194px,#f80 0 196px,#f70 0 198px,#f90 0 200px,#fa0 0 202px,#fc0 0 204px,#fb0 0 218px,#fc0 0 220px,#fe0 0 222px,#fd0 0 224px,#fe0 0 226px,#fd0 0 228px,#fe0 0 234px,#ff0 0 236px,#ef0 0 238px,#fe0 0 240px,#fb0 0 242px,#cf0 0 244px,#5f0 0 250px,#4f0 0 252px,#6f0 0 254px,#3f0 0 256px,#6f0 0 258px,#4f0 0 264px,#5f0 0 266px,#6f0 0 268px,#4f0 0 274px,#5f0 0 276px,#4f0 0 278px,#5f0 0 282px,#3f0 0 284px,#5f0 0 286px,#4f0 0 288px,#5f0 0 290px,#3f0 0 292px,#4f0 0 294px,#3f0 0 296px,#4f0 0 310px,#3f0 0 312px,#2f0 0 314px,#4f0 0 316px,#2f0 0 318px,#3f0 0 322px,#2f0 0 324px,#5f0 0 326px,#4f0 0 328px,#3f0 0 332px,#2f0 0 334px,#3f0 0 340px,#2f0 0 344px,#1f0 0 348px,#2f0 0 354px,#1f0 0 356px,#0f0 0 358px,#2f0 0 362px,#3f0 0 364px,#2f0 0 368px,#4f0 0 370px,#2f0 0 372px,#0f0 0 376px,#2f0 0 380px,#1f0 0 382px,#0f2 0 386px,#0f0 0 388px,#1f0 0 392px,#0f0 0 394px,#1f0 0 398px,#2f0 0 400px,#0f2 0 402px,#1f0 0 404px,#0f2 0 406px,#2f0 0 410px,#1f0 0 414px,#3f0 0 416px,#2f0 0 418px,#1f0 0)"></div><div style="top:56px;height:3px;background:linear-gradient(90deg,#f30 2px,#f80 0 4px,#fb0 0 6px,#f80 0 8px,#fb0 0 10px,#f90 0 12px,#f80 0 14px,#f20 0 22px,#f90 0 26px,#fa0 0 28px,#f80 0 30px,#fa0 0 32px,#f70 0 34px,#f90 0 36px,#fa0 0 38px,#fe0 0 42px,#fc0 0 44px,#ff0 0 46px,#fa0 0 48px,#fe0 0 50px,#fa0 0 52px,#fb0 0 54px,#fa0 0 56px,#fd0 0 58px,#f90 0 60px,#fa0 0 62px,#fd0 0 64px,#fb0 0 66px,#f90 0 68px,#fc0 0 72px,#fd0 0 74px,#fc0 0 78px,#fb0 0 80px,#fa0 0 82px,#fc0 0 84px,#fb0 0 86px,#f90 0 88px,#fc0 0 90px,#f90 0 92px,#fb0 0 94px,#fc0 0 96px,#fd0 0 98px,#fb0 0 100px,#fc0 0 102px,#fa0 0 106px,#fb0 0 108px,#fa0 0 110px,#fc0 0 112px,#fd0 0 114px,#fe0 0 116px,#fa0 0 118px,#f90 0 120px,#fe0 0 122px,#fa0 0 124px,#ff0 0 126px,#fe0 0 128px,#fc0 0 132px,#fe0 0 134px,#fb0 0 138px,#fc0 0 140px,#fd0 0 146px,#f40 0 148px,#f50 0 150px,#f70 0 152px,#fa0 0 154px,#f90 0 156px,#f80 0 158px,#f60 0 162px,#f90 0 164px,#f60 0 166px,#f50 0 168px,#f30 0 170px,#f60 0 174px,#f50 0 176px,#f60 0 178px,#f30 0 180px,#f50 0 182px,#f60 0 184px,#f40 0 186px,#f60 0 188px,#f40 0 190px,#f50 0 192px,#f60 0 194px,#f70 0 196px,#f60 0 198px,#f80 0 200px,#f90 0 202px,#fb0 0 204px,#fa0 0 206px,#fb0 0 208px,#fa0 0 212px,#f90 0 214px,#fa0 0 218px,#fb0 0 220px,#fe0 0 222px,#fc0 0 224px,#fe0 0 226px,#fc0 0 228px,#fe0 0 230px,#fd0 0 234px,#fe0 0 236px,#df0 0 238px,#fe0 0 240px,#fa0 0 242px,#cf0 0 244px,#4f0 0 246px,#5f0 0 248px,#4f0 0 252px,#5f0 0 254px,#4f0 0 256px,#6f0 0 258px,#5f0 0 260px,#3f0 0 262px,#4f0 0 264px,#5f0 0 272px,#4f0 0 274px,#5f0 0 278px,#3f0 0 280px,#5f0 0 282px,#3f0 0 284px,#6f0 0 286px,#4f0 0 288px,#3f0 0 290px,#4f0 0 292px,#3f0 0 296px,#5f0 0 298px,#4f0 0 312px,#3f0 0 318px,#4f0 0 320px,#3f0 0 324px,#4f0 0 326px,#2f0 0 328px,#3f0 0 330px,#4f0 0 332px,#3f0 0 340px,#2f0 0 342px,#3f0 0 344px,#2f0 0 346px,#1f0 0 348px,#4f0 0 350px,#2f0 0 352px,#3f0 0 354px,#0f0 0 356px,#2f0 0 366px,#0f0 0 368px,#2f0 0 370px,#3f0 0 374px,#2f0 0 376px,#1f0 0 378px,#0f0 0 380px,#2f0 0 384px,#1f0 0 388px,#0f1 0 390px,#2f0 0 392px,#1f0 0 394px,#2f0 0 402px,#1f0 0 408px,#2f0 0 410px,#0f0 0 412px,#1f0 0 414px,#2f0 0 418px,#1f0 0 420px,#0f0 0 422px,#2f0 0 424px,#1f0 0 426px,#2f0 0)"></div><div style="top:59px;height:3px;background:linear-gradient(90deg,#f30 2px,#f80 0 4px,#fa0 0 6px,#f70 0 8px,#fb0 0 10px,#f80 0 12px,#f70 0 14px,#f20 0 22px,#f10 0 24px,#f90 0 28px,#f70 0 30px,#f90 0 32px,#f70 0 34px,#f80 0 36px,#f90 0 38px,#fe0 0 42px,#fc0 0 44px,#fe0 0 46px,#f90 0 48px,#fd0 0 50px,#f90 0 52px,#fb0 0 54px,#f90 0 56px,#fc0 0 58px,#f80 0 60px,#f90 0 62px,#fc0 0 64px,#fa0 0 66px,#f80 0 68px,#fb0 0 72px,#fe0 0 74px,#fc0 0 78px,#fa0 0 82px,#fb0 0 84px,#fa0 0 86px,#f80 0 88px,#fb0 0 90px,#f80 0 92px,#fa0 0 94px,#fc0 0 96px,#fd0 0 98px,#fa0 0 100px,#fb0 0 102px,#fa0 0 106px,#fb0 0 108px,#fa0 0 110px,#fb0 0 112px,#fc0 0 114px,#ff0 0 116px,#fa0 0 118px,#f80 0 120px,#ff0 0 122px,#f90 0 124px,#fe0 0 126px,#fd0 0 128px,#fc0 0 130px,#fa0 0 132px,#fe0 0 134px,#fa0 0 138px,#fb0 0 140px,#fd0 0 146px,#f30 0 148px,#f40 0 150px,#f70 0 152px,#fa0 0 154px,#f80 0 156px,#f70 0 158px,#f50 0 160px,#f40 0 162px,#f80 0 164px,#f60 0 166px,#f50 0 168px,#f20 0 170px,#f50 0 174px,#f40 0 176px,#f50 0 178px,#f20 0 180px,#f40 0 182px,#f50 0 184px,#f20 0 186px,#f50 0 188px,#f30 0 190px,#f40 0 192px,#f50 0 194px,#f60 0 196px,#f50 0 198px,#f70 0 200px,#f80 0 202px,#fa0 0 210px,#f90 0 218px,#fa0 0 220px,#fd0 0 222px,#fb0 0 224px,#fe0 0 226px,#fc0 0 228px,#fd0 0 232px,#fc0 0 234px,#fe0 0 236px,#ef0 0 238px,#fe0 0 240px,#f90 0 242px,#bf0 0 244px,#7f0 0 246px,#5f0 0 248px,#4f0 0 250px,#5f0 0 254px,#6f0 0 256px,#5f0 0 258px,#3f0 0 260px,#5f0 0 264px,#6f0 0 266px,#4f0 0 268px,#3f0 0 270px,#6f0 0 272px,#3f0 0 274px,#6f0 0 276px,#4f0 0 280px,#5f0 0 282px,#3f0 0 284px,#4f0 0 286px,#5f0 0 290px,#4f0 0 296px,#3f0 0 300px,#4f0 0 304px,#5f0 0 306px,#4f0 0 316px,#3f0 0 320px,#2f0 0 322px,#4f0 0 328px,#3f0 0 332px,#2f0 0 334px,#4f0 0 338px,#3f0 0 340px,#2f0 0 348px,#3f0 0 350px,#2f0 0 352px,#3f0 0 354px,#2f0 0 360px,#1f0 0 362px,#2f0 0 366px,#1f0 0 370px,#2f0 0 372px,#1f0 0 374px,#2f0 0 376px,#1f0 0 378px,#2f0 0 382px,#1f0 0 384px,#2f0 0 386px,#1f0 0 388px,#2f0 0 390px,#1f0 0 392px,#2f0 0 394px,#3f0 0 398px,#1f0 0 402px,#2f0 0 404px,#0f0 0 406px,#1f0 0 408px,#0f3 0 410px,#0f0 0 412px,#1f0 0 414px,#2f0 0 418px,#0f0 0 422px,#1f0 0 426px,#2f0 0)"></div><div style="top:62px;height:3px;background:linear-gradient(90deg,#f20 2px,#f70 0 4px,#fa0 0 6px,#f60 0 8px,#fb0 0 10px,#f80 0 12px,#f70 0 14px,#f20 0 16px,#f30 0 18px,#f20 0 26px,#f90 0 28px,#f60 0 30px,#f90 0 32px,#f60 0 34px,#f70 0 36px,#f80 0 38px,#fe0 0 40px,#fd0 0 42px,#fa0 0 44px,#fe0 0 46px,#f80 0 48px,#fd0 0 50px,#f90 0 52px,#fa0 0 54px,#f80 0 56px,#fc0 0 58px,#f70 0 60px,#f80 0 62px,#fc0 0 64px,#f90 0 66px,#f70 0 68px,#fb0 0 70px,#fa0 0 72px,#fe0 0 74px,#fb0 0 78px,#fa0 0 80px,#f90 0 82px,#fa0 0 86px,#f70 0 88px,#fa0 0 90px,#f70 0 92px,#f90 0 94px,#fb0 0 96px,#fc0 0 98px,#f90 0 100px,#fc0 0 102px,#f90 0 110px,#fb0 0 112px,#fc0 0 114px,#fe0 0 116px,#fa0 0 118px,#f70 0 120px,#fe0 0 122px,#f80 0 124px,#ff0 0 126px,#fd0 0 128px,#fb0 0 130px,#fa0 0 132px,#fe0 0 134px,#fa0 0 136px,#f90 0 138px,#fa0 0 140px,#fb0 0 142px,#fc0 0 146px,#f20 0 148px,#f40 0 150px,#f60 0 152px,#fa0 0 154px,#f70 0 158px,#f40 0 160px,#f30 0 162px,#f80 0 164px,#f50 0 166px,#f40 0 168px,#f00 0 170px,#f40 0 174px,#f30 0 176px,#f50 0 178px,#f10 0 180px,#f30 0 182px,#f40 0 184px,#f10 0 186px,#f40 0 188px,#f10 0 190px,#f30 0 192px,#f40 0 194px,#f50 0 196px,#f40 0 198px,#f60 0 200px,#f70 0 202px,#fa0 0 204px,#f90 0 206px,#fa0 0 208px,#f90 0 210px,#f80 0 212px,#f70 0 214px,#f90 0 216px,#f80 0 218px,#fa0 0 220px,#fc0 0 222px,#fa0 0 224px,#fe0 0 226px,#fb0 0 228px,#fc0 0 230px,#fd0 0 232px,#fc0 0 234px,#ff0 0 236px,#cf0 0 238px,#fd0 0 240px,#f80 0 242px,#cf0 0 244px,#af0 0 246px,#ef0 0 248px,#cf0 0 250px,#5f0 0 258px,#4f0 0 260px,#5f0 0 262px,#4f0 0 264px,#5f0 0 268px,#4f0 0 272px,#5f0 0 274px,#4f0 0 276px,#6f0 0 278px,#4f0 0 284px,#5f0 0 286px,#4f0 0 288px,#3f0 0 290px,#5f0 0 292px,#3f0 0 294px,#4f0 0 298px,#3f0 0 300px,#4f0 0 304px,#5f0 0 306px,#4f0 0 312px,#2f0 0 314px,#3f0 0 316px,#2f0 0 320px,#4f0 0 322px,#3f0 0 324px,#4f0 0 326px,#2f0 0 328px,#3f0 0 330px,#2f0 0 332px,#3f0 0 334px,#2f0 0 336px,#3f0 0 338px,#2f0 0 340px,#3f0 0 342px,#1f0 0 348px,#3f0 0 350px,#1f0 0 356px,#2f0 0 358px,#1f0 0 362px,#2f0 0 366px,#1f0 0 370px,#2f0 0 372px,#1f0 0 380px,#3f0 0 382px,#1f0 0 386px,#2f0 0 388px,#1f0 0 390px,#2f0 0 392px,#1f0 0 398px,#3f0 0 400px,#1f0 0 404px,#0f0 0 408px,#2f0 0 410px,#1f0 0 412px,#0f0 0 414px,#3f0 0 416px,#1f0 0 420px,#0f1 0 422px,#1f0 0 424px,#0f1 0 426px,#2f0 0)"></div><div style="top:65px;height:3px;background:linear-gradient(90deg,#f10 2px,#f60 0 4px,#f90 0 6px,#f60 0 8px,#f90 0 10px,#f80 0 12px,#f60 0 14px,#f20 0 16px,#f30 0 18px,#f20 0 26px,#f30 0 28px,#f60 0 30px,#f80 0 32px,#f50 0 34px,#f70 0 38px,#fe0 0 40px,#fc0 0 42px,#f90 0 44px,#fd0 0 46px,#f80 0 48px,#fc0 0 50px,#f80 0 52px,#f90 0 54px,#f70 0 56px,#fb0 0 58px,#f70 0 62px,#fa0 0 64px,#f80 0 66px,#f70 0 70px,#f90 0 72px,#fc0 0 74px,#fa0 0 78px,#f90 0 80px,#f80 0 82px,#fa0 0 84px,#f90 0 86px,#f70 0 88px,#f90 0 90px,#f60 0 92px,#f80 0 94px,#fa0 0 96px,#fb0 0 98px,#f80 0 100px,#fa0 0 102px,#f90 0 104px,#f80 0 110px,#fb0 0 114px,#fe0 0 116px,#f90 0 118px,#f60 0 120px,#fd0 0 122px,#f70 0 124px,#fe0 0 126px,#fc0 0 128px,#f80 0 130px,#fa0 0 132px,#fe0 0 134px,#fa0 0 136px,#f90 0 138px,#fa0 0 140px,#fc0 0 142px,#fb0 0 144px,#fc0 0 146px,#f20 0 148px,#f30 0 150px,#f50 0 152px,#f90 0 154px,#f70 0 156px,#f60 0 158px,#f30 0 162px,#f70 0 164px,#f40 0 166px,#f30 0 168px,#f00 0 170px,#f30 0 174px,#f20 0 176px,#f40 0 178px,#f00 0 180px,#f10 0 182px,#f30 0 184px,#f00 0 186px,#f30 0 188px,#f00 0 190px,#f10 0 192px,#f30 0 194px,#f40 0 196px,#f30 0 198px,#f60 0 200px,#f70 0 202px,#f90 0 206px,#fa0 0 208px,#f80 0 212px,#f70 0 214px,#f80 0 216px,#f70 0 218px,#f90 0 220px,#fc0 0 222px,#fa0 0 224px,#fd0 0 226px,#fa0 0 228px,#fb0 0 234px,#fd0 0 236px,#ef0 0 238px,#fc0 0 240px,#f70 0 242px,#df0 0 244px,#f20 0 246px,#f10 0 250px,#fd0 0 252px,#f50 0 254px,#5f0 0 256px,#f40 0 258px,#3f0 0 260px,#4f0 0 262px,#5f0 0 264px,#6f0 0 266px,#5f0 0 268px,#3f0 0 270px,#6f0 0 272px,#4f0 0 274px,#3f0 0 276px,#5f0 0 280px,#4f0 0 282px,#3f0 0 284px,#5f0 0 288px,#3f0 0 290px,#4f0 0 292px,#3f0 0 298px,#4f0 0 304px,#7f0 0 306px,#3f0 0 310px,#4f0 0 312px,#3f0 0 314px,#4f0 0 316px,#3f0 0 324px,#2f0 0 330px,#3f0 0 342px,#2f0 0 346px,#3f0 0 350px,#1f0 0 352px,#2f0 0 354px,#3f0 0 356px,#1f0 0 360px,#2f0 0 364px,#3f0 0 366px,#1f0 0 370px,#2f0 0 374px,#1f0 0 376px,#2f0 0 380px,#3f0 0 382px,#0f0 0 384px,#2f0 0 388px,#1f0 0 394px,#2f0 0 396px,#1f0 0 398px,#3f0 0 400px,#2f0 0 404px,#1f0 0 408px,#0f0 0 410px,#0f1 0 412px,#1f0 0 414px,#2f0 0 416px,#0f0 0 418px,#2f0 0 420px,#0f2 0 422px,#0f0 0 424px,#2f0 0 426px,#0f0 0)"></div><div style="top:68px;height:3px;background:linear-gradient(90deg,#f00 2px,#f50 0 4px,#f80 0 6px,#f60 0 8px,#f90 0 10px,#f70 0 12px,#f50 0 14px,#f20 0 18px,#f10 0 20px,#f20 0 28px,#f50 0 30px,#f70 0 32px,#f40 0 34px,#f60 0 36px,#f30 0 38px,#fc0 0 40px,#fb0 0 42px,#f90 0 44px,#fb0 0 46px,#f70 0 48px,#fb0 0 50px,#f70 0 52px,#f90 0 54px,#f70 0 56px,#fa0 0 58px,#f40 0 60px,#f70 0 62px,#f90 0 64px,#f80 0 66px,#f60 0 68px,#f10 0 70px,#f90 0 72px,#fb0 0 74px,#f90 0 76px,#fa0 0 78px,#f80 0 82px,#f50 0 84px,#f40 0 86px,#f60 0 88px,#f50 0 90px,#f60 0 92px,#f70 0 94px,#fa0 0 96px,#fb0 0 98px,#f70 0 100px,#f90 0 102px,#f80 0 104px,#f70 0 106px,#f80 0 108px,#f70 0 110px,#fa0 0 114px,#fc0 0 116px,#f80 0 118px,#f60 0 120px,#fc0 0 122px,#f70 0 124px,#fd0 0 126px,#fa0 0 128px,#f50 0 130px,#f90 0 132px,#fe0 0 134px,#f90 0 140px,#fb0 0 146px,#f00 0 148px,#f20 0 150px,#f50 0 152px,#f80 0 154px,#f60 0 156px,#f50 0 158px,#f30 0 160px,#f20 0 162px,#f60 0 164px,#f30 0 166px,#f10 0 168px,#f00 0 170px,#f20 0 174px,#f10 0 176px,#f20 0 178px,#f00 0 182px,#f20 0 184px,#f00 0 186px,#f10 0 188px,#f00 0 192px,#f10 0 194px,#f30 0 196px,#f20 0 198px,#f40 0 200px,#f60 0 202px,#f80 0 204px,#f60 0 206px,#f80 0 210px,#f70 0 218px,#f80 0 220px,#fa0 0 222px,#f90 0 224px,#fc0 0 226px,#fa0 0 234px,#fc0 0 236px,#ff0 0 238px,#fc0 0 240px,#f60 0 242px,#f50 0 244px,#f00 0 254px,#f30 0 256px,#f00 0 258px,#f60 0 262px,#fd0 0 266px,#5f0 0 268px,#4f0 0 270px,#5f0 0 272px,#4f0 0 278px,#5f0 0 282px,#3f0 0 284px,#5f0 0 286px,#4f0 0 288px,#2f0 0 290px,#5f0 0 292px,#4f0 0 294px,#3f0 0 296px,#4f0 0 302px,#5f0 0 304px,#4f0 0 306px,#3f0 0 308px,#4f0 0 310px,#2f0 0 312px,#3f0 0 314px,#4f0 0 316px,#2f0 0 318px,#3f0 0 326px,#1f0 0 328px,#2f0 0 330px,#3f0 0 332px,#4f0 0 336px,#3f0 0 340px,#2f0 0 344px,#1f0 0 352px,#2f0 0 358px,#0f0 0 360px,#3f0 0 366px,#1f0 0 368px,#2f0 0 372px,#3f0 0 374px,#1f0 0 376px,#0f0 0 378px,#1f0 0 384px,#3f0 0 386px,#1f0 0 388px,#2f0 0 390px,#0f0 0 392px,#2f0 0 396px,#1f0 0 398px,#2f0 0 400px,#1f0 0 402px,#0f0 0 404px,#0f1 0 406px,#1f0 0 414px,#2f0 0 416px,#1f0 0 420px,#0f1 0 422px,#1f0 0 424px,#0f1 0 426px,#1f0 0)"></div><div style="top:71px;height:3px;background:linear-gradient(90deg,#f00 4px,#f80 0 6px,#f30 0 8px,#f40 0 10px,#f60 0 14px,#f20 0 16px,#f10 0 20px,#f20 0 28px,#f00 0 30px,#f40 0 32px,#f00 0 34px,#f20 0 36px,#f00 0 38px,#f60 0 40px,#fa0 0 42px,#f80 0 44px,#f40 0 46px,#f10 0 48px,#fb0 0 50px,#f70 0 52px,#f80 0 54px,#f60 0 56px,#f90 0 58px,#f00 0 60px,#f70 0 62px,#f90 0 64px,#f80 0 66px,#f60 0 68px,#f10 0 70px,#f50 0 72px,#fb0 0 74px,#f60 0 76px,#f50 0 78px,#f40 0 82px,#f10 0 90px,#f60 0 92px,#f70 0 94px,#f90 0 96px,#f70 0 98px,#f40 0 100px,#f90 0 102px,#f70 0 106px,#f80 0 108px,#f70 0 110px,#fa0 0 112px,#f50 0 116px,#f60 0 120px,#fb0 0 122px,#f60 0 124px,#fc0 0 126px,#f40 0 128px,#f50 0 130px,#f90 0 132px,#fc0 0 134px,#f90 0 138px,#f80 0 140px,#fa0 0 142px,#fb0 0 144px,#f90 0 146px,#f00 0 148px,#f20 0 150px,#f40 0 152px,#f50 0 154px,#f60 0 156px,#f40 0 158px,#f00 0 162px,#f50 0 164px,#f20 0 166px,#f10 0 168px,#f00 0 170px,#f30 0 174px,#f00 0 176px,#f20 0 178px,#f00 0 182px,#f10 0 184px,#f00 0 186px,#f10 0 188px,#f00 0 192px,#f10 0 194px,#f30 0 196px,#f20 0 198px,#f40 0 200px,#f60 0 202px,#f50 0 204px,#f20 0 206px,#f80 0 208px,#f50 0 210px,#f30 0 212px,#f50 0 214px,#f40 0 216px,#f70 0 220px,#fa0 0 222px,#f90 0 224px,#fb0 0 226px,#f70 0 228px,#fa0 0 230px,#fb0 0 232px,#fa0 0 234px,#fc0 0 236px,#fe0 0 238px,#fb0 0 240px,#f70 0 242px,#f20 0 244px,#f00 0 250px,#f10 0 252px,#f00 0 266px,#f40 0 268px,#bf0 0 270px,#f90 0 272px,#3f0 0 274px,#6f0 0 276px,#fb0 0 278px,#5f0 0 280px,#4f0 0 284px,#3f0 0 286px,#5f0 0 288px,#4f0 0 290px,#cf0 0 292px,#4f0 0 294px,#5f0 0 296px,#6f0 0 298px,#3f0 0 300px,#4f0 0 302px,#5f0 0 304px,#fe0 0 306px,#4f0 0 308px,#3f0 0 312px,#2f0 0 314px,#5f0 0 316px,#3f0 0 320px,#4f0 0 322px,#3f0 0 324px,#4f0 0 326px,#2f0 0 330px,#3f0 0 334px,#4f0 0 336px,#3f0 0 340px,#2f0 0 344px,#0f0 0 346px,#2f0 0 350px,#3f0 0 352px,#2f0 0 356px,#0f0 0 358px,#1f0 0 364px,#2f0 0 366px,#0f0 0 368px,#1f0 0 370px,#2f0 0 372px,#1f0 0 374px,#2f0 0 378px,#1f0 0 380px,#3f0 0 382px,#2f0 0 384px,#0f0 0 386px,#2f0 0 390px,#1f0 0 394px,#2f0 0 396px,#1f0 0 398px,#2f0 0 400px,#1f0 0 404px,#0f0 0 406px,#1f0 0 408px,#2f0 0 410px,#1f0 0 412px,#0f0 0 414px,#1f0 0 418px,#2f0 0 420px,#0f2 0 422px,#1f0 0 426px,#3f0 0)"></div><div style="top:74px;height:3px;background:linear-gradient(90deg,#f00 4px,#f40 0 6px,#f00 0 8px,#f20 0 10px,#f70 0 12px,#f40 0 14px,#f20 0 16px,#f10 0 26px,#f20 0 28px,#f00 0 30px,#f10 0 32px,#f00 0 38px,#f20 0 40px,#fa0 0 42px,#f50 0 44px,#f30 0 46px,#f00 0 48px,#fa0 0 50px,#f70 0 52px,#f80 0 54px,#f70 0 56px,#f50 0 58px,#f00 0 60px,#f10 0 62px,#f70 0 64px,#f50 0 66px,#f40 0 68px,#f10 0 72px,#f40 0 74px,#f10 0 76px,#f20 0 78px,#f00 0 80px,#f10 0 86px,#f00 0 88px,#f10 0 90px,#f30 0 92px,#f60 0 94px,#f30 0 96px,#f20 0 98px,#f00 0 100px,#f40 0 108px,#f70 0 110px,#f90 0 112px,#f20 0 114px,#f40 0 116px,#f10 0 118px,#f20 0 120px,#f60 0 122px,#f00 0 124px,#fa0 0 126px,#f30 0 128px,#f50 0 130px,#f90 0 132px,#fc0 0 134px,#f90 0 136px,#f80 0 140px,#fa0 0 144px,#f90 0 146px,#f00 0 148px,#f10 0 150px,#f20 0 152px,#f40 0 156px,#f20 0 158px,#f00 0 162px,#f30 0 164px,#f20 0 166px,#f10 0 168px,#f00 0 170px,#f30 0 174px,#f10 0 176px,#f30 0 178px,#f00 0 182px,#f20 0 184px,#f00 0 186px,#f30 0 188px,#f00 0 192px,#f20 0 194px,#f30 0 196px,#f20 0 198px,#f40 0 200px,#f60 0 202px,#f20 0 206px,#f60 0 208px,#f20 0 212px,#f10 0 216px,#f50 0 218px,#f20 0 220px,#fa0 0 222px,#f90 0 224px,#fc0 0 226px,#f10 0 228px,#f60 0 230px,#f40 0 232px,#f50 0 234px,#f80 0 236px,#fc0 0 238px,#f90 0 240px,#f30 0 242px,#f20 0 244px,#f00 0 246px,#f10 0 248px,#f00 0 250px,#f10 0 252px,#f00 0 268px,#f10 0 270px,#f00 0 272px,#ff0 0 274px,#4f0 0 276px,#f10 0 278px,#f40 0 280px,#f50 0 282px,#af0 0 284px,#9f0 0 286px,#fa0 0 288px,#4f0 0 290px,#f20 0 292px,#4f0 0 294px,#f70 0 296px,#4f0 0 298px,#5f0 0 300px,#fe0 0 302px,#f90 0 304px,#f00 0 306px,#fc0 0 308px,#4f0 0 310px,#5f0 0 312px,#4f0 0 314px,#fa0 0 316px,#fc0 0 318px,#fe0 0 320px,#fb0 0 322px,#bf0 0 324px,#fa0 0 326px,#f90 0 328px,#f70 0 330px,#9f0 0 332px,#fc0 0 334px,#df0 0 336px,#ff0 0 338px,#f50 0 340px,#f70 0 342px,#fb0 0 344px,#2f0 0 346px,#fa0 0 348px,#ff0 0 350px,#bf0 0 352px,#cf0 0 354px,#8f0 0 356px,#6f0 0 358px,#fb0 0 360px,#1f0 0 362px,#2f0 0 364px,#4f0 0 366px,#0f0 0 368px,#2f0 0 372px,#1f0 0 374px,#ff0 0 376px,#fd0 0 378px,#5f0 0 380px,#f40 0 382px,#1f0 0 384px,#9f0 0 386px,#2f0 0 388px,#fc0 0 390px,#1f0 0 392px,#8f0 0 394px,#2f0 0 396px,#3f0 0 398px,#2f0 0 400px,#8f0 0 402px,#df0 0 404px,#0f1 0 406px,#2f0 0 408px,#1f0 0 410px,#ff0 0 412px,#1f0 0 414px,#2f0 0 416px,#0f0 0 418px,#2f0 0 420px,#0f0 0 422px,#2f0 0 424px,#5f0 0 426px,#2f0 0)"></div><div style="top:77px;height:3px;background:linear-gradient(90deg,#f00 4px,#f10 0 6px,#f00 0 8px,#f20 0 10px,#f40 0 12px,#f00 0 14px,#f10 0 22px,#f00 0 26px,#f10 0 28px,#f00 0 30px,#f10 0 32px,#f00 0 38px,#f20 0 40px,#f70 0 42px,#f10 0 44px,#f20 0 46px,#f00 0 48px,#f30 0 50px,#f20 0 54px,#f70 0 56px,#f20 0 58px,#f00 0 62px,#f20 0 64px,#f00 0 68px,#f10 0 72px,#f20 0 74px,#f10 0 78px,#f00 0 82px,#f10 0 86px,#f00 0 88px,#f10 0 90px,#f00 0 92px,#f10 0 94px,#f20 0 98px,#f00 0 100px,#f20 0 102px,#f10 0 104px,#f00 0 106px,#f10 0 108px,#f70 0 110px,#f30 0 112px,#f20 0 114px,#f30 0 116px,#f10 0 118px,#f00 0 120px,#f30 0 122px,#f00 0 124px,#f30 0 128px,#f40 0 130px,#f90 0 132px,#fc0 0 134px,#f90 0 138px,#f80 0 140px,#f90 0 142px,#fa0 0 146px,#f10 0 148px,#f00 0 150px,#f20 0 152px,#f40 0 154px,#f30 0 156px,#f20 0 158px,#f00 0 162px,#f30 0 164px,#f20 0 166px,#f30 0 168px,#f00 0 170px,#f20 0 176px,#f30 0 178px,#f00 0 180px,#f20 0 184px,#f00 0 186px,#f20 0 188px,#f00 0 190px,#f10 0 192px,#f20 0 194px,#f30 0 196px,#f20 0 198px,#f30 0 200px,#f40 0 202px,#f20 0 208px,#f10 0 210px,#f20 0 212px,#f10 0 218px,#f20 0 220px,#f40 0 222px,#f90 0 224px,#fb0 0 226px,#f10 0 234px,#f20 0 236px,#f30 0 238px,#f10 0 240px,#f00 0 242px,#f20 0 244px,#f00 0 250px,#f10 0 252px,#f00 0 272px,#f10 0 274px,#fb0 0 276px,#f10 0 282px,#f20 0 286px,#f10 0 288px,#f40 0 290px,#f00 0 292px,#f70 0 294px,#f10 0 296px,#f40 0 298px,#f70 0 300px,#f10 0 302px,#f00 0 306px,#f10 0 308px,#f50 0 310px,#f30 0 312px,#f40 0 314px,#f10 0 316px,#f20 0 320px,#f10 0 322px,#f20 0 324px,#f10 0 330px,#f30 0 332px,#f10 0 344px,#f70 0 346px,#f20 0 348px,#f10 0 350px,#f20 0 356px,#f30 0 358px,#f20 0 360px,#f60 0 362px,#f50 0 364px,#f70 0 366px,#f60 0 368px,#fe0 0 370px,#f90 0 372px,#f60 0 374px,#f20 0 378px,#f40 0 380px,#f20 0 382px,#f60 0 384px,#f40 0 386px,#df0 0 388px,#f20 0 390px,#f80 0 392px,#f40 0 394px,#f90 0 396px,#f70 0 398px,#2f0 0 400px,#f40 0 402px,#f30 0 404px,#f90 0 406px,#4f0 0 408px,#2f0 0 410px,#f40 0 412px,#f80 0 414px,#fd0 0 416px,#cf0 0 418px,#f60 0 420px,#f90 0 422px,#4f0 0 424px,#f70 0 426px,#fd0 0)"></div><div style="top:80px;height:3px;background:linear-gradient(90deg,#f00 4px,#f10 0 6px,#f00 0 8px,#f20 0 10px,#f00 0 14px,#f10 0 18px,#f00 0 26px,#f10 0 28px,#f00 0 30px,#f10 0 32px,#f00 0 38px,#f20 0 40px,#f10 0 44px,#f20 0 46px,#f00 0 48px,#f20 0 50px,#f00 0 54px,#f70 0 56px,#f10 0 58px,#f00 0 62px,#f20 0 64px,#f10 0 66px,#f00 0 68px,#f10 0 72px,#f20 0 74px,#f10 0 78px,#f00 0 82px,#f10 0 86px,#f00 0 88px,#f10 0 90px,#f00 0 94px,#f10 0 96px,#f20 0 98px,#f10 0 104px,#f00 0 106px,#f10 0 108px,#f20 0 114px,#f30 0 116px,#f10 0 118px,#f00 0 120px,#f30 0 122px,#f10 0 124px,#f30 0 128px,#f50 0 130px,#f90 0 132px,#fb0 0 134px,#f90 0 140px,#fa0 0 144px,#f90 0 146px,#f10 0 152px,#f30 0 154px,#f20 0 158px,#f00 0 162px,#f30 0 164px,#f20 0 166px,#f30 0 168px,#f10 0 170px,#f20 0 176px,#f30 0 178px,#f00 0 180px,#f20 0 184px,#f00 0 186px,#f20 0 188px,#f10 0 194px,#f30 0 196px,#f20 0 208px,#f10 0 222px,#f60 0 224px,#f70 0 226px,#f10 0 232px,#f00 0 234px,#f10 0 236px,#f20 0 238px,#f10 0 240px,#f00 0 242px,#f20 0 244px,#f00 0 250px,#f10 0 252px,#f00 0 260px,#f10 0 262px,#f00 0 274px,#f10 0 304px,#f00 0 306px,#f10 0 310px,#f00 0 312px,#f20 0 314px,#f10 0 344px,#f20 0 348px,#f10 0 350px,#f20 0 354px,#f10 0 358px,#f20 0 362px,#f10 0 366px,#f20 0 370px,#f10 0 374px,#f20 0 382px,#f30 0 388px,#f20 0 390px,#f30 0 392px,#f20 0 396px,#f30 0 398px,#f60 0 400px,#f30 0 404px,#f40 0 406px,#f50 0 408px,#f90 0 410px,#f40 0 418px,#f50 0 420px,#f60 0 426px,#f50 0)"></div></div>
<div class="sp" style="left:92px;top:506px;width:428px;height:83px"><div style="top:0px;height:3px;background:linear-gradient(90deg,#5f0 2px,#2f0 0 4px,#1f0 0 6px,#0f0 0 8px,#1f0 0 12px,#0f1 0 14px,#1f0 0 28px,#3f0 0 32px,#6f0 0 34px,#9f0 0 36px,#8f0 0 38px,#9f0 0 40px,#7f0 0 42px,#6f0 0 44px,#9f0 0 46px,#8f0 0 52px,#7f0 0 54px,#8f0 0 56px,#7f0 0 58px,#9f0 0 60px,#7f0 0 62px,#8f0 0 64px,#9f0 0 66px,#7f0 0 68px,#8f0 0 76px,#7f0 0 78px,#af0 0 80px,#8f0 0 84px,#9f0 0 86px,#8f0 0 88px,#9f0 0 92px,#8f0 0 98px,#9f0 0 100px,#8f0 0 102px,#9f0 0 114px,#8f0 0 116px,#9f0 0 118px,#af0 0 120px,#9f0 0 122px,#8f0 0 124px,#af0 0 128px,#bf0 0 130px,#cf0 0 132px,#df0 0 134px,#cf0 0 138px,#df0 0 140px,#cf0 0 142px,#bf0 0 144px,#cf0 0 146px,#bf0 0 148px,#9f0 0 150px,#af0 0 152px,#8f0 0 156px,#7f0 0 158px,#8f0 0 160px,#9f0 0 164px,#7f0 0 166px,#3f0 0 168px,#4f0 0 176px,#3f0 0 180px,#2f0 0 182px,#5f0 0 184px,#3f0 0 186px,#4f0 0 188px,#5f0 0 190px,#4f0 0 194px,#5f0 0 196px,#4f0 0 198px,#5f0 0 200px,#4f0 0 202px,#7f0 0 204px,#9f0 0 206px,#7f0 0 208px,#9f0 0 214px,#af0 0 216px,#8f0 0 220px,#af0 0 222px,#8f0 0 224px,#9f0 0 226px,#8f0 0 232px,#9f0 0 234px,#7f0 0 238px,#8f0 0 242px,#7f0 0 244px,#0f5 0 248px,#0ea 0 250px,#0f7 0 252px,#0e9 0 254px,#0ea 0 256px,#0e9 0 258px,#0ea 0 262px,#0f9 0 264px,#0e9 0 268px,#0f8 0 270px,#0ce 0 272px,#0de 0 274px,#0dd 0 276px,#0ce 0 278px,#0ea 0 280px,#0eb 0 282px,#0de 0 286px,#0eb 0 288px,#0ce 0 294px,#0de 0 296px,#0ce 0 304px,#0dd 0 306px,#0ce 0 308px,#0de 0 310px,#0ce 0 312px,#0eb 0 314px,#0dd 0 320px,#0ce 0 326px,#0de 0 328px,#0dd 0 334px,#0ce 0 338px,#0de 0 342px,#0ce 0 346px,#0eb 0 348px,#0de 0 350px,#0ce 0 352px,#0de 0 356px,#0dc 0 358px,#0dd 0 364px,#0eb 0 366px,#0ce 0 368px,#0de 0 370px,#0ce 0 374px,#0ec 0 376px,#0dc 0 378px,#0ce 0 382px,#0de 0 384px,#0ce 0 386px,#0de 0 388px,#0ea 0 390px,#0dd 0 392px,#0eb 0 394px,#0ce 0 396px,#0de 0 398px,#0ce 0 402px,#0be 0 404px,#0dd 0 406px,#0ce 0 408px,#0dc 0 410px,#0ce 0 414px,#0de 0 416px,#0be 0 418px,#0ce 0 420px,#0de 0 422px,#0ce 0 424px,#0de 0)"></div><div style="top:3px;height:4px;background:linear-gradient(90deg,#4f0 2px,#0f1 0 4px,#1f0 0 6px,#2f0 0 8px,#0f0 0 10px,#1f0 0 12px,#0f0 0 16px,#2f0 0 18px,#1f0 0 22px,#2f0 0 28px,#4f0 0 32px,#6f0 0 34px,#9f0 0 36px,#7f0 0 38px,#9f0 0 42px,#8f0 0 58px,#9f0 0 60px,#7f0 0 62px,#8f0 0 68px,#9f0 0 70px,#8f0 0 76px,#6f0 0 78px,#9f0 0 80px,#af0 0 82px,#8f0 0 84px,#9f0 0 90px,#6f0 0 92px,#8f0 0 94px,#6f0 0 96px,#7f0 0 98px,#9f0 0 100px,#8f0 0 102px,#7f0 0 104px,#9f0 0 106px,#af0 0 108px,#9f0 0 118px,#af0 0 122px,#9f0 0 124px,#bf0 0 126px,#af0 0 128px,#bf0 0 130px,#df0 0 132px,#cf0 0 136px,#df0 0 140px,#cf0 0 142px,#bf0 0 146px,#cf0 0 148px,#af0 0 150px,#9f0 0 152px,#8f0 0 158px,#9f0 0 160px,#7f0 0 162px,#8f0 0 164px,#7f0 0 166px,#5f0 0 172px,#4f0 0 180px,#3f0 0 182px,#4f0 0 188px,#7f0 0 190px,#5f0 0 192px,#4f0 0 198px,#5f0 0 202px,#7f0 0 204px,#8f0 0 206px,#7f0 0 208px,#9f0 0 210px,#8f0 0 212px,#7f0 0 214px,#9f0 0 216px,#8f0 0 218px,#9f0 0 220px,#af0 0 222px,#8f0 0 226px,#7f0 0 228px,#8f0 0 230px,#af0 0 232px,#9f0 0 234px,#8f0 0 238px,#9f0 0 242px,#5f0 0 244px,#0f2 0 246px,#0f3 0 248px,#0f7 0 252px,#0f4 0 254px,#0f2 0 256px,#0f6 0 258px,#0dc 0 260px,#0ec 0 262px,#0f8 0 264px,#0f1 0 266px,#0de 0 268px,#0f8 0 270px,#0dd 0 272px,#0f6 0 274px,#0ce 0 276px,#0f4 0 278px,#0f2 0 280px,#0ce 0 282px,#0eb 0 284px,#0dd 0 286px,#0f8 0 288px,#0ce 0 290px,#0f8 0 292px,#0ea 0 294px,#0ae 0 296px,#0ce 0 298px,#0de 0 300px,#0f6 0 302px,#0be 0 306px,#0de 0 308px,#0be 0 314px,#0ce 0 316px,#0dd 0 318px,#0ce 0 324px,#0be 0 326px,#0ae 0 328px,#0ce 0 340px,#0be 0 342px,#0ce 0 344px,#0eb 0 346px,#0e9 0 348px,#0dd 0 352px,#0f8 0 354px,#0ec 0 356px,#0dd 0 358px,#0ec 0 360px,#0eb 0 362px,#0ce 0 364px,#0f8 0 366px,#0dd 0 370px,#0dc 0 372px,#0de 0 374px,#0f8 0 376px,#0ea 0 378px,#0eb 0 380px,#0dd 0 382px,#0eb 0 384px,#0dd 0 386px,#0eb 0 388px,#0dc 0 390px,#0e9 0 392px,#0f8 0 394px,#0ec 0 396px,#0eb 0 400px,#0ea 0 402px,#0de 0 404px,#0eb 0 408px,#0ea 0 410px,#0de 0 412px,#0ce 0 414px,#0eb 0 416px,#0de 0 418px,#0eb 0 420px,#0f8 0 422px,#0dd 0 424px,#0ea 0 426px,#0eb 0)"></div><div style="top:7px;height:4px;background:linear-gradient(90deg,#3f0 2px,#0f0 0 4px,#1f0 0 6px,#0f0 0 10px,#1f0 0 12px,#0f3 0 14px,#1f0 0 16px,#0f0 0 18px,#2f0 0 20px,#1f0 0 24px,#2f0 0 26px,#1f0 0 28px,#3f0 0 30px,#4f0 0 32px,#6f0 0 34px,#8f0 0 38px,#9f0 0 40px,#7f0 0 44px,#9f0 0 46px,#8f0 0 48px,#9f0 0 50px,#8f0 0 54px,#7f0 0 56px,#9f0 0 58px,#af0 0 60px,#7f0 0 62px,#9f0 0 66px,#8f0 0 68px,#7f0 0 70px,#8f0 0 72px,#af0 0 74px,#9f0 0 76px,#7f0 0 78px,#9f0 0 82px,#8f0 0 84px,#af0 0 86px,#8f0 0 88px,#9f0 0 90px,#7f0 0 92px,#9f0 0 94px,#8f0 0 98px,#9f0 0 100px,#8f0 0 102px,#9f0 0 104px,#af0 0 106px,#9f0 0 112px,#af0 0 114px,#9f0 0 122px,#8f0 0 124px,#bf0 0 126px,#8f0 0 128px,#af0 0 130px,#cf0 0 134px,#df0 0 140px,#cf0 0 142px,#bf0 0 144px,#cf0 0 146px,#bf0 0 148px,#af0 0 150px,#9f0 0 152px,#8f0 0 156px,#9f0 0 158px,#8f0 0 162px,#9f0 0 164px,#5f0 0 168px,#4f0 0 170px,#5f0 0 172px,#6f0 0 174px,#5f0 0 176px,#4f0 0 178px,#5f0 0 180px,#4f0 0 182px,#3f0 0 184px,#4f0 0 186px,#3f0 0 188px,#6f0 0 190px,#4f0 0 192px,#5f0 0 194px,#6f0 0 196px,#3f0 0 198px,#5f0 0 202px,#8f0 0 204px,#9f0 0 206px,#8f0 0 208px,#af0 0 210px,#9f0 0 212px,#8f0 0 214px,#bf0 0 216px,#7f0 0 218px,#9f0 0 222px,#8f0 0 226px,#7f0 0 228px,#8f0 0 232px,#9f0 0 234px,#7f0 0 236px,#8f0 0 238px,#9f0 0 240px,#8f0 0 242px,#6f0 0 244px,#0f1 0 246px,#1f0 0 248px,#0f2 0 250px,#0f0 0 252px,#0f1 0 254px,#0f0 0 256px,#0f3 0 258px,#0f5 0 260px,#0f4 0 264px,#0f1 0 266px,#0f5 0 268px,#0f3 0 270px,#0f6 0 272px,#0f3 0 274px,#0f7 0 276px,#0f8 0 278px,#0f5 0 280px,#0f8 0 282px,#0dd 0 284px,#0f4 0 286px,#0f7 0 288px,#0f5 0 290px,#0ce 0 294px,#0de 0 298px,#0ce 0 300px,#0eb 0 302px,#0be 0 304px,#0ce 0 312px,#0f7 0 314px,#0ce 0 316px,#0ae 0 318px,#0eb 0 320px,#0dd 0 322px,#07e 0 324px,#0de 0 326px,#09f 0 328px,#0dd 0 330px,#08f 0 332px,#0f8 0 334px,#0af 0 336px,#0dc 0 338px,#09f 0 340px,#0af 0 342px,#0be 0 344px,#0f8 0 346px,#0ce 0 348px,#0ae 0 350px,#0ec 0 352px,#0dd 0 354px,#0be 0 356px,#0ea 0 358px,#0f8 0 360px,#0dc 0 362px,#0ce 0 364px,#0f6 0 366px,#0ea 0 368px,#0e9 0 370px,#0f7 0 372px,#0e9 0 374px,#0eb 0 376px,#0ea 0 378px,#0e9 0 380px,#0ec 0 382px,#0e9 0 384px,#0ec 0 386px,#0e9 0 388px,#0f7 0 390px,#0dc 0 392px,#0f7 0 394px,#0e9 0 396px,#0f8 0 398px,#0f7 0 400px,#0f8 0 402px,#0ea 0 404px,#0eb 0 406px,#0f7 0 408px,#0f8 0 410px,#0ea 0 412px,#0ec 0 414px,#0e9 0 416px,#0f6 0 418px,#0dc 0 420px,#0eb 0 422px,#0dc 0 424px,#0f8 0)"></div><div style="top:11px;height:4px;background:linear-gradient(90deg,#5f0 2px,#3f0 0 4px,#0f0 0 6px,#1f0 0 8px,#0f0 0 10px,#1f0 0 22px,#2f0 0 24px,#1f0 0 26px,#2f0 0 28px,#3f0 0 30px,#4f0 0 32px,#5f0 0 34px,#8f0 0 36px,#7f0 0 38px,#af0 0 40px,#6f0 0 42px,#7f0 0 44px,#8f0 0 48px,#9f0 0 50px,#8f0 0 52px,#9f0 0 54px,#8f0 0 58px,#9f0 0 60px,#7f0 0 62px,#9f0 0 66px,#8f0 0 68px,#7f0 0 70px,#8f0 0 72px,#af0 0 74px,#7f0 0 76px,#8f0 0 78px,#9f0 0 82px,#8f0 0 84px,#9f0 0 86px,#8f0 0 88px,#7f0 0 90px,#8f0 0 92px,#9f0 0 94px,#7f0 0 96px,#8f0 0 98px,#9f0 0 100px,#8f0 0 102px,#9f0 0 104px,#7f0 0 106px,#9f0 0 108px,#7f0 0 110px,#8f0 0 112px,#9f0 0 116px,#af0 0 118px,#9f0 0 124px,#cf0 0 126px,#9f0 0 128px,#bf0 0 130px,#df0 0 138px,#ef0 0 140px,#cf0 0 148px,#9f0 0 152px,#8f0 0 158px,#9f0 0 160px,#af0 0 162px,#9f0 0 164px,#8f0 0 166px,#3f0 0 168px,#5f0 0 170px,#4f0 0 174px,#5f0 0 176px,#3f0 0 178px,#4f0 0 186px,#3f0 0 188px,#4f0 0 190px,#5f0 0 192px,#3f0 0 194px,#5f0 0 196px,#4f0 0 198px,#6f0 0 200px,#5f0 0 202px,#8f0 0 206px,#9f0 0 208px,#8f0 0 214px,#bf0 0 216px,#7f0 0 218px,#9f0 0 224px,#8f0 0 226px,#7f0 0 230px,#8f0 0 232px,#9f0 0 234px,#7f0 0 236px,#9f0 0 240px,#8f0 0 242px,#5f0 0 244px,#1f0 0 246px,#0f0 0 248px,#0f3 0 252px,#0f0 0 254px,#0f1 0 256px,#0f2 0 260px,#0f1 0 262px,#0f4 0 264px,#0f0 0 266px,#0f5 0 268px,#0f3 0 270px,#0f2 0 272px,#0f1 0 274px,#0f3 0 278px,#1f0 0 280px,#0f3 0 282px,#0f2 0 284px,#0f1 0 286px,#0f2 0 288px,#0f5 0 292px,#0f6 0 294px,#0eb 0 296px,#0ea 0 298px,#0f7 0 300px,#0f5 0 302px,#0ea 0 304px,#0f1 0 306px,#0dd 0 308px,#0be 0 312px,#0dc 0 314px,#0ec 0 316px,#0be 0 318px,#0ce 0 324px,#0be 0 332px,#0ce 0 334px,#0eb 0 336px,#0dc 0 338px,#0eb 0 340px,#06e 0 342px,#0dd 0 344px,#0de 0 346px,#07e 0 348px,#0f8 0 350px,#0eb 0 352px,#0be 0 356px,#09f 0 358px,#08f 0 360px,#0af 0 362px,#07f 0 364px,#0ec 0 366px,#0af 0 368px,#0eb 0 370px,#0ae 0 372px,#0ce 0 374px,#0ae 0 376px,#0f8 0 378px,#0ec 0 380px,#0ce 0 382px,#09f 0 384px,#08f 0 386px,#0ae 0 388px,#0dd 0 390px,#0ec 0 392px,#0dd 0 394px,#0e9 0 396px,#0ec 0 398px,#0dd 0 400px,#0f6 0 402px,#0dd 0 404px,#0de 0 406px,#0eb 0 408px,#0f4 0 410px,#0ea 0 412px,#0ec 0 414px,#0f6 0 416px,#0f9 0 418px,#0f7 0 422px,#0dc 0 424px,#0ea 0 426px,#0eb 0)"></div><div style="top:15px;height:4px;background:linear-gradient(90deg,#4f0 2px,#1f0 0 4px,#0f1 0 6px,#1f0 0 8px,#0f0 0 10px,#2f0 0 12px,#0f0 0 14px,#2f0 0 16px,#0f0 0 18px,#1f0 0 24px,#2f0 0 26px,#1f0 0 28px,#3f0 0 30px,#4f0 0 32px,#5f0 0 34px,#8f0 0 38px,#9f0 0 40px,#6f0 0 42px,#9f0 0 44px,#8f0 0 46px,#9f0 0 50px,#8f0 0 54px,#7f0 0 58px,#9f0 0 60px,#7f0 0 62px,#9f0 0 64px,#8f0 0 70px,#7f0 0 72px,#8f0 0 74px,#7f0 0 76px,#8f0 0 78px,#9f0 0 82px,#8f0 0 86px,#9f0 0 88px,#8f0 0 94px,#9f0 0 102px,#8f0 0 104px,#9f0 0 106px,#7f0 0 108px,#9f0 0 110px,#7f0 0 112px,#8f0 0 114px,#9f0 0 116px,#af0 0 122px,#9f0 0 124px,#bf0 0 126px,#af0 0 130px,#bf0 0 132px,#cf0 0 136px,#ef0 0 138px,#cf0 0 140px,#bf0 0 142px,#cf0 0 148px,#7f0 0 150px,#af0 0 152px,#9f0 0 154px,#7f0 0 158px,#9f0 0 160px,#8f0 0 162px,#9f0 0 164px,#5f0 0 166px,#3f0 0 168px,#5f0 0 170px,#4f0 0 172px,#6f0 0 174px,#4f0 0 178px,#5f0 0 180px,#4f0 0 182px,#5f0 0 184px,#4f0 0 186px,#6f0 0 188px,#4f0 0 190px,#5f0 0 192px,#4f0 0 196px,#3f0 0 198px,#5f0 0 202px,#6f0 0 204px,#8f0 0 208px,#9f0 0 210px,#8f0 0 214px,#af0 0 216px,#8f0 0 220px,#9f0 0 222px,#8f0 0 224px,#9f0 0 226px,#6f0 0 228px,#8f0 0 230px,#7f0 0 232px,#9f0 0 236px,#8f0 0 242px,#6f0 0 244px,#0f0 0 246px,#1f0 0 248px,#0f4 0 250px,#0f0 0 252px,#0f2 0 254px,#0f3 0 256px,#1f0 0 258px,#0f5 0 260px,#0f2 0 262px,#0f3 0 264px,#0f0 0 270px,#0f6 0 272px,#0f1 0 274px,#0f4 0 276px,#0f1 0 278px,#0f0 0 280px,#0f4 0 282px,#0f2 0 284px,#0f3 0 286px,#0f0 0 288px,#0f5 0 290px,#0f3 0 292px,#0f6 0 294px,#0f5 0 300px,#0f4 0 302px,#0f5 0 304px,#0f2 0 306px,#0f8 0 308px,#0ec 0 310px,#0eb 0 312px,#0de 0 314px,#0ea 0 316px,#0dd 0 318px,#0f7 0 320px,#09f 0 322px,#0af 0 324px,#0de 0 326px,#0ce 0 328px,#09f 0 330px,#0be 0 332px,#0ae 0 334px,#0de 0 336px,#0be 0 338px,#0de 0 340px,#0eb 0 342px,#0dd 0 344px,#08f 0 346px,#0be 0 350px,#0e9 0 352px,#06e 0 354px,#07f 0 356px,#0ea 0 358px,#0dd 0 360px,#06e 0 362px,#09f 0 366px,#0e9 0 368px,#0af 0 370px,#0ea 0 372px,#06d 0 376px,#0ce 0 378px,#05d 0 380px,#0de 0 382px,#08f 0 384px,#0ae 0 386px,#09f 0 388px,#08f 0 392px,#07f 0 394px,#09f 0 396px,#08f 0 398px,#07f 0 400px,#0ea 0 402px,#07f 0 404px,#0ce 0 406px,#0ae 0 408px,#0de 0 410px,#09f 0 412px,#0dc 0 416px,#0eb 0 420px,#0de 0 426px,#0f8 0)"></div><div style="top:19px;height:4px;background:linear-gradient(90deg,#5f0 2px,#1f0 0 8px,#0f0 0 12px,#1f0 0 16px,#0f0 0 18px,#1f0 0 20px,#2f0 0 22px,#3f0 0 26px,#2f0 0 28px,#4f0 0 32px,#5f0 0 34px,#9f0 0 36px,#8f0 0 40px,#7f0 0 42px,#9f0 0 46px,#af0 0 48px,#8f0 0 54px,#9f0 0 56px,#7f0 0 58px,#af0 0 60px,#7f0 0 62px,#9f0 0 64px,#8f0 0 66px,#9f0 0 68px,#8f0 0 76px,#9f0 0 80px,#8f0 0 82px,#9f0 0 90px,#8f0 0 92px,#af0 0 94px,#8f0 0 96px,#9f0 0 98px,#af0 0 100px,#9f0 0 102px,#8f0 0 104px,#9f0 0 106px,#af0 0 110px,#7f0 0 112px,#af0 0 114px,#9f0 0 116px,#af0 0 118px,#9f0 0 124px,#cf0 0 126px,#af0 0 128px,#bf0 0 130px,#df0 0 134px,#cf0 0 142px,#bf0 0 144px,#df0 0 146px,#bf0 0 148px,#9f0 0 154px,#6f0 0 156px,#8f0 0 160px,#9f0 0 164px,#8f0 0 166px,#3f0 0 168px,#4f0 0 170px,#5f0 0 174px,#4f0 0 176px,#3f0 0 178px,#4f0 0 190px,#5f0 0 192px,#6f0 0 194px,#5f0 0 196px,#4f0 0 198px,#6f0 0 200px,#5f0 0 202px,#6f0 0 204px,#8f0 0 210px,#9f0 0 214px,#af0 0 216px,#9f0 0 220px,#8f0 0 224px,#9f0 0 226px,#8f0 0 232px,#9f0 0 242px,#6f0 0 244px,#0f3 0 246px,#1f0 0 248px,#0f1 0 250px,#0f0 0 252px,#0f3 0 256px,#0f1 0 258px,#0f2 0 260px,#0f0 0 262px,#0f3 0 264px,#2f0 0 266px,#0f6 0 268px,#0f1 0 270px,#0f0 0 272px,#0f3 0 278px,#0f1 0 280px,#0f2 0 282px,#0f3 0 284px,#0f2 0 286px,#1f0 0 288px,#0f6 0 290px,#0f0 0 292px,#0f3 0 294px,#0f0 0 296px,#0f6 0 298px,#0f3 0 300px,#0f5 0 302px,#0f2 0 304px,#0f0 0 306px,#0f4 0 308px,#0f3 0 310px,#0f4 0 312px,#0f9 0 314px,#0e9 0 316px,#0ea 0 318px,#0e9 0 320px,#0ea 0 322px,#0f6 0 324px,#0f5 0 326px,#0f8 0 330px,#0eb 0 332px,#0f7 0 334px,#0dd 0 336px,#0de 0 338px,#0ce 0 340px,#0e9 0 342px,#0ea 0 344px,#0f8 0 346px,#0ce 0 348px,#0dd 0 350px,#0dc 0 352px,#0f8 0 354px,#0ce 0 356px,#0dc 0 358px,#0f7 0 360px,#09f 0 362px,#0ce 0 364px,#0f7 0 366px,#0eb 0 368px,#0f8 0 370px,#0ea 0 372px,#08f 0 374px,#0f7 0 376px,#0ae 0 378px,#0be 0 380px,#07e 0 384px,#0ce 0 386px,#04c 0 388px,#0ce 0 390px,#07e 0 392px,#0ec 0 394px,#0dd 0 396px,#0ce 0 398px,#0be 0 400px,#0f6 0 402px,#0eb 0 406px,#04d 0 408px,#0be 0 410px,#05d 0 412px,#04c 0 414px,#0be 0 416px,#0f8 0 418px,#0eb 0 420px,#0ce 0 422px,#0be 0 424px,#07f 0 426px,#07e 0)"></div><div style="top:23px;height:4px;background:linear-gradient(90deg,#4f0 2px,#1f0 0 4px,#0f1 0 6px,#1f0 0 8px,#0f0 0 10px,#2f0 0 12px,#1f0 0 14px,#2f0 0 16px,#0f0 0 20px,#1f0 0 24px,#2f0 0 26px,#1f0 0 28px,#4f0 0 32px,#6f0 0 34px,#9f0 0 36px,#7f0 0 38px,#af0 0 40px,#7f0 0 42px,#8f0 0 44px,#9f0 0 52px,#8f0 0 54px,#9f0 0 56px,#8f0 0 58px,#af0 0 60px,#8f0 0 62px,#9f0 0 66px,#7f0 0 68px,#9f0 0 70px,#8f0 0 80px,#9f0 0 82px,#7f0 0 84px,#af0 0 86px,#8f0 0 96px,#9f0 0 98px,#af0 0 100px,#9f0 0 102px,#8f0 0 104px,#af0 0 106px,#9f0 0 108px,#af0 0 110px,#9f0 0 112px,#bf0 0 114px,#8f0 0 116px,#9f0 0 124px,#bf0 0 126px,#9f0 0 128px,#bf0 0 130px,#cf0 0 132px,#df0 0 134px,#cf0 0 136px,#ef0 0 138px,#cf0 0 142px,#af0 0 144px,#cf0 0 146px,#bf0 0 148px,#9f0 0 152px,#8f0 0 154px,#9f0 0 156px,#8f0 0 162px,#9f0 0 164px,#7f0 0 166px,#4f0 0 168px,#6f0 0 170px,#5f0 0 174px,#4f0 0 178px,#5f0 0 180px,#3f0 0 182px,#5f0 0 186px,#4f0 0 188px,#5f0 0 190px,#4f0 0 194px,#6f0 0 196px,#4f0 0 200px,#5f0 0 202px,#8f0 0 206px,#9f0 0 208px,#7f0 0 210px,#af0 0 212px,#8f0 0 214px,#9f0 0 216px,#8f0 0 222px,#af0 0 226px,#8f0 0 228px,#7f0 0 230px,#8f0 0 236px,#7f0 0 238px,#af0 0 240px,#8f0 0 242px,#7f0 0 244px,#0f0 0 246px,#1f0 0 248px,#0f2 0 250px,#0f0 0 252px,#1f0 0 254px,#0f0 0 256px,#0f3 0 258px,#0f1 0 264px,#0f3 0 266px,#0f1 0 270px,#1f0 0 272px,#0f2 0 274px,#0f1 0 276px,#1f0 0 278px,#0f0 0 280px,#0f5 0 282px,#0f3 0 284px,#0f2 0 286px,#0f4 0 288px,#0f0 0 292px,#0f2 0 294px,#0f1 0 296px,#0f6 0 298px,#0f3 0 300px,#0f4 0 302px,#0f6 0 304px,#0f3 0 306px,#0f6 0 308px,#0f5 0 310px,#0f4 0 312px,#0f3 0 314px,#0f7 0 316px,#0f3 0 318px,#0f6 0 320px,#0e9 0 322px,#0f7 0 324px,#0f4 0 326px,#0f7 0 328px,#0f6 0 332px,#0ea 0 334px,#0f8 0 336px,#0f9 0 338px,#0e9 0 340px,#0ea 0 344px,#0f8 0 348px,#0e9 0 350px,#0f5 0 352px,#0f8 0 354px,#0f6 0 356px,#0de 0 358px,#0e9 0 360px,#0ea 0 364px,#0f6 0 366px,#0ce 0 370px,#0f9 0 372px,#0f7 0 374px,#0f3 0 376px,#0ea 0 378px,#0ce 0 380px,#0dd 0 382px,#08f 0 384px,#0be 0 386px,#0ea 0 388px,#0be 0 390px,#0f7 0 392px,#0be 0 394px,#0dd 0 396px,#0ea 0 398px,#0f8 0 400px,#09f 0 402px,#0be 0 404px,#0ae 0 406px,#06d 0 408px,#0ae 0 410px,#07f 0 412px,#09f 0 414px,#0dc 0 416px,#04d 0 418px,#0ce 0 420px,#04c 0 424px,#08f 0 426px,#07f 0)"></div><div style="top:27px;height:4px;background:linear-gradient(90deg,#5f0 2px,#2f0 0 4px,#1f0 0 6px,#0f0 0 8px,#1f0 0 14px,#2f0 0 16px,#0f0 0 18px,#2f0 0 20px,#1f0 0 22px,#2f0 0 24px,#3f0 0 26px,#2f0 0 28px,#4f0 0 30px,#5f0 0 32px,#6f0 0 34px,#9f0 0 36px,#7f0 0 38px,#9f0 0 40px,#7f0 0 44px,#8f0 0 46px,#7f0 0 48px,#9f0 0 50px,#8f0 0 52px,#9f0 0 54px,#8f0 0 56px,#9f0 0 60px,#7f0 0 62px,#9f0 0 64px,#8f0 0 68px,#9f0 0 70px,#8f0 0 72px,#7f0 0 74px,#9f0 0 76px,#8f0 0 78px,#af0 0 80px,#7f0 0 82px,#8f0 0 84px,#9f0 0 86px,#8f0 0 88px,#9f0 0 90px,#8f0 0 96px,#7f0 0 98px,#9f0 0 104px,#af0 0 106px,#9f0 0 108px,#8f0 0 110px,#9f0 0 112px,#af0 0 114px,#9f0 0 116px,#af0 0 118px,#9f0 0 120px,#8f0 0 122px,#af0 0 124px,#cf0 0 126px,#9f0 0 128px,#af0 0 130px,#cf0 0 132px,#df0 0 134px,#cf0 0 136px,#df0 0 140px,#cf0 0 142px,#bf0 0 144px,#cf0 0 146px,#bf0 0 148px,#8f0 0 150px,#9f0 0 154px,#8f0 0 156px,#9f0 0 162px,#af0 0 164px,#8f0 0 166px,#5f0 0 168px,#3f0 0 170px,#4f0 0 172px,#5f0 0 176px,#3f0 0 178px,#5f0 0 182px,#7f0 0 184px,#3f0 0 186px,#5f0 0 188px,#4f0 0 192px,#5f0 0 196px,#4f0 0 198px,#5f0 0 200px,#4f0 0 202px,#8f0 0 204px,#9f0 0 206px,#8f0 0 210px,#7f0 0 212px,#8f0 0 214px,#9f0 0 216px,#8f0 0 218px,#af0 0 220px,#8f0 0 226px,#7f0 0 228px,#8f0 0 230px,#9f0 0 232px,#8f0 0 236px,#7f0 0 238px,#8f0 0 242px,#6f0 0 244px,#0f3 0 246px,#0f0 0 248px,#0f1 0 250px,#0f4 0 252px,#1f0 0 254px,#0f0 0 258px,#0f3 0 260px,#0f0 0 262px,#0f5 0 264px,#2f0 0 266px,#0f0 0 270px,#0f1 0 272px,#0f6 0 274px,#0f1 0 276px,#0f0 0 278px,#0f2 0 280px,#0f5 0 282px,#0f3 0 284px,#0f2 0 286px,#0f0 0 288px,#0f7 0 290px,#0f3 0 292px,#0f7 0 294px,#0f0 0 296px,#0f4 0 298px,#0f3 0 300px,#0f0 0 302px,#0f6 0 304px,#0f0 0 306px,#0f5 0 310px,#0f3 0 312px,#0f2 0 314px,#0f4 0 316px,#0f0 0 318px,#0f4 0 320px,#0f7 0 322px,#0f4 0 324px,#0f6 0 328px,#0f4 0 330px,#0e9 0 332px,#0ea 0 334px,#0e9 0 336px,#0f6 0 338px,#0f7 0 340px,#0ea 0 342px,#0f8 0 344px,#0f6 0 346px,#0f4 0 348px,#0f6 0 352px,#0f9 0 354px,#0f8 0 356px,#0e9 0 358px,#0ea 0 360px,#0f8 0 362px,#0eb 0 364px,#0f5 0 366px,#0e9 0 368px,#0f7 0 370px,#0f8 0 372px,#0e9 0 374px,#0f8 0 376px,#0e9 0 378px,#0f9 0 380px,#0eb 0 382px,#0f4 0 384px,#0ec 0 386px,#0eb 0 392px,#0f7 0 394px,#0de 0 396px,#0e9 0 398px,#0be 0 400px,#0de 0 402px,#0ce 0 404px,#0de 0 406px,#0ce 0 408px,#0ae 0 410px,#0be 0 412px,#0de 0 414px,#0be 0 416px,#09f 0 418px,#07f 0 420px,#0ce 0 422px,#0ae 0 424px,#08f 0 426px,#0ae 0)"></div><div style="top:31px;height:4px;background:linear-gradient(90deg,#5f0 2px,#1f0 0 10px,#2f0 0 12px,#0f0 0 16px,#1f0 0 22px,#3f0 0 24px,#2f0 0 28px,#3f0 0 30px,#4f0 0 32px,#6f0 0 34px,#9f0 0 36px,#8f0 0 38px,#af0 0 40px,#8f0 0 48px,#9f0 0 50px,#8f0 0 54px,#7f0 0 56px,#8f0 0 58px,#9f0 0 60px,#8f0 0 62px,#9f0 0 66px,#8f0 0 68px,#9f0 0 70px,#8f0 0 72px,#9f0 0 76px,#8f0 0 78px,#af0 0 80px,#8f0 0 84px,#af0 0 86px,#8f0 0 94px,#9f0 0 96px,#8f0 0 100px,#af0 0 104px,#9f0 0 106px,#8f0 0 108px,#9f0 0 110px,#7f0 0 112px,#8f0 0 118px,#af0 0 120px,#9f0 0 122px,#bf0 0 124px,#cf0 0 126px,#9f0 0 128px,#bf0 0 132px,#df0 0 140px,#cf0 0 142px,#bf0 0 144px,#cf0 0 146px,#bf0 0 148px,#9f0 0 152px,#8f0 0 154px,#7f0 0 156px,#9f0 0 158px,#8f0 0 160px,#af0 0 162px,#8f0 0 166px,#3f0 0 168px,#4f0 0 170px,#5f0 0 176px,#4f0 0 178px,#5f0 0 180px,#3f0 0 182px,#4f0 0 186px,#5f0 0 188px,#4f0 0 190px,#5f0 0 192px,#4f0 0 194px,#5f0 0 196px,#4f0 0 198px,#6f0 0 200px,#5f0 0 202px,#7f0 0 206px,#8f0 0 208px,#9f0 0 216px,#8f0 0 218px,#9f0 0 222px,#8f0 0 226px,#9f0 0 228px,#8f0 0 230px,#7f0 0 232px,#8f0 0 234px,#7f0 0 236px,#8f0 0 238px,#9f0 0 240px,#8f0 0 242px,#5f0 0 244px,#1f0 0 248px,#0f1 0 250px,#0f2 0 256px,#0f0 0 258px,#0f4 0 260px,#0f0 0 262px,#0f2 0 264px,#0f0 0 268px,#1f0 0 270px,#0f3 0 272px,#0f2 0 274px,#0f3 0 276px,#0f0 0 280px,#0f4 0 282px,#0f1 0 284px,#0f3 0 286px,#0f2 0 288px,#0f5 0 290px,#0f0 0 292px,#0f4 0 294px,#0f6 0 296px,#0f4 0 298px,#0f8 0 300px,#0f4 0 302px,#0f5 0 304px,#0f0 0 306px,#0f4 0 310px,#0f3 0 312px,#0f5 0 314px,#0f7 0 316px,#0f3 0 318px,#0f4 0 320px,#0f8 0 322px,#0e9 0 324px,#0f7 0 328px,#0f4 0 330px,#0eb 0 332px,#0f7 0 334px,#0f8 0 336px,#0f5 0 338px,#0f7 0 340px,#0ea 0 342px,#0f8 0 344px,#0f5 0 346px,#0e9 0 348px,#0ea 0 350px,#0f6 0 354px,#0f7 0 356px,#0e9 0 358px,#0f7 0 360px,#0f4 0 362px,#0f5 0 366px,#0eb 0 368px,#0f8 0 370px,#0f7 0 374px,#0f5 0 376px,#0f7 0 378px,#0ea 0 380px,#0e9 0 386px,#0ea 0 388px,#0f8 0 392px,#0f6 0 394px,#0f8 0 396px,#0ec 0 398px,#0f8 0 400px,#0f6 0 402px,#0dd 0 406px,#0eb 0 408px,#0f8 0 410px,#0e9 0 412px,#0dd 0 414px,#0eb 0 416px,#0ea 0 418px,#0e9 0 420px,#0ea 0 422px,#0be 0 424px,#0eb 0 426px,#0de 0)"></div><div style="top:35px;height:4px;background:linear-gradient(90deg,#5f0 2px,#1f0 0 8px,#0f0 0 10px,#1f0 0 14px,#2f0 0 20px,#1f0 0 22px,#2f0 0 28px,#4f0 0 30px,#5f0 0 32px,#7f0 0 34px,#9f0 0 36px,#8f0 0 38px,#9f0 0 40px,#7f0 0 44px,#8f0 0 46px,#af0 0 48px,#9f0 0 50px,#8f0 0 52px,#7f0 0 54px,#9f0 0 56px,#8f0 0 58px,#af0 0 60px,#5f0 0 62px,#9f0 0 66px,#8f0 0 74px,#9f0 0 76px,#7f0 0 78px,#8f0 0 82px,#9f0 0 90px,#8f0 0 92px,#9f0 0 96px,#8f0 0 98px,#9f0 0 102px,#8f0 0 104px,#9f0 0 106px,#8f0 0 108px,#9f0 0 110px,#8f0 0 112px,#9f0 0 114px,#8f0 0 116px,#af0 0 118px,#bf0 0 120px,#af0 0 122px,#9f0 0 124px,#bf0 0 126px,#9f0 0 128px,#af0 0 130px,#cf0 0 132px,#df0 0 134px,#cf0 0 140px,#bf0 0 144px,#cf0 0 146px,#bf0 0 148px,#8f0 0 150px,#af0 0 152px,#8f0 0 156px,#9f0 0 160px,#8f0 0 164px,#6f0 0 166px,#3f0 0 168px,#4f0 0 170px,#5f0 0 172px,#4f0 0 174px,#5f0 0 176px,#4f0 0 178px,#5f0 0 180px,#4f0 0 182px,#5f0 0 184px,#3f0 0 186px,#4f0 0 190px,#3f0 0 192px,#5f0 0 194px,#6f0 0 196px,#3f0 0 198px,#5f0 0 200px,#3f0 0 202px,#6f0 0 204px,#8f0 0 206px,#7f0 0 208px,#8f0 0 214px,#af0 0 216px,#9f0 0 218px,#af0 0 220px,#9f0 0 226px,#8f0 0 228px,#9f0 0 230px,#7f0 0 232px,#9f0 0 234px,#8f0 0 238px,#9f0 0 242px,#6f0 0 244px,#0f1 0 246px,#1f0 0 248px,#0f2 0 250px,#0f0 0 252px,#0f3 0 254px,#0f0 0 256px,#0f3 0 260px,#0f0 0 262px,#0f2 0 264px,#1f0 0 268px,#0f0 0 270px,#0f3 0 272px,#0f2 0 274px,#0f4 0 276px,#0f1 0 278px,#0f0 0 280px,#0f4 0 284px,#0f1 0 286px,#0f3 0 288px,#0f5 0 290px,#0f2 0 294px,#0f3 0 296px,#0f5 0 298px,#0f2 0 302px,#0f8 0 304px,#0f0 0 306px,#0f4 0 308px,#0f6 0 310px,#0f7 0 312px,#0f2 0 314px,#0f4 0 318px,#0f7 0 322px,#0e9 0 324px,#0f5 0 326px,#0f7 0 330px,#0f6 0 332px,#0f8 0 334px,#0f4 0 336px,#0f8 0 338px,#0f6 0 340px,#0e9 0 342px,#0ea 0 344px,#0f7 0 346px,#0f6 0 348px,#0f7 0 354px,#0f6 0 356px,#0ea 0 358px,#0f5 0 360px,#0f6 0 362px,#0f9 0 364px,#0f3 0 366px,#0eb 0 368px,#0f5 0 370px,#0f8 0 372px,#0f7 0 374px,#0f3 0 376px,#0f5 0 378px,#0f6 0 380px,#0f9 0 382px,#0f8 0 384px,#0e9 0 386px,#0f6 0 388px,#0f5 0 390px,#0e9 0 392px,#0f8 0 394px,#0ea 0 396px,#0f7 0 398px,#0eb 0 400px,#0f6 0 402px,#0f8 0 404px,#0f9 0 406px,#0f6 0 408px,#0f2 0 410px,#0ea 0 412px,#0e9 0 414px,#0f7 0 416px,#0e9 0 418px,#0ec 0 420px,#0eb 0 424px,#0e9 0 426px,#0f4 0)"></div><div style="top:39px;height:4px;background:linear-gradient(90deg,#6f0 2px,#1f0 0 6px,#2f0 0 8px,#0f3 0 10px,#1f0 0 12px,#2f0 0 16px,#0f1 0 20px,#2f0 0 24px,#3f0 0 26px,#2f0 0 28px,#3f0 0 32px,#7f0 0 34px,#af0 0 36px,#7f0 0 38px,#8f0 0 42px,#9f0 0 56px,#7f0 0 58px,#9f0 0 60px,#7f0 0 62px,#9f0 0 66px,#8f0 0 72px,#9f0 0 76px,#8f0 0 78px,#af0 0 80px,#8f0 0 84px,#9f0 0 90px,#7f0 0 92px,#9f0 0 94px,#7f0 0 96px,#af0 0 100px,#9f0 0 102px,#af0 0 104px,#9f0 0 108px,#af0 0 110px,#9f0 0 112px,#8f0 0 116px,#af0 0 118px,#9f0 0 120px,#8f0 0 122px,#af0 0 124px,#cf0 0 126px,#9f0 0 128px,#bf0 0 130px,#cf0 0 132px,#df0 0 134px,#cf0 0 138px,#df0 0 142px,#bf0 0 144px,#cf0 0 146px,#af0 0 148px,#8f0 0 150px,#9f0 0 152px,#8f0 0 154px,#9f0 0 156px,#7f0 0 158px,#9f0 0 160px,#8f0 0 162px,#af0 0 164px,#7f0 0 166px,#4f0 0 170px,#6f0 0 172px,#5f0 0 176px,#4f0 0 178px,#5f0 0 180px,#4f0 0 182px,#5f0 0 184px,#4f0 0 186px,#2f0 0 188px,#6f0 0 190px,#4f0 0 196px,#3f0 0 198px,#5f0 0 202px,#7f0 0 204px,#9f0 0 208px,#8f0 0 210px,#7f0 0 212px,#8f0 0 214px,#bf0 0 216px,#9f0 0 218px,#7f0 0 220px,#8f0 0 222px,#7f0 0 224px,#9f0 0 226px,#7f0 0 228px,#9f0 0 232px,#8f0 0 234px,#7f0 0 236px,#9f0 0 238px,#8f0 0 242px,#7f0 0 244px,#0f0 0 246px,#0f1 0 250px,#1f0 0 252px,#0f0 0 254px,#1f0 0 256px,#0f0 0 258px,#0f2 0 264px,#1f0 0 266px,#0f2 0 268px,#0f0 0 270px,#0f5 0 272px,#0f3 0 274px,#0f2 0 276px,#0f0 0 278px,#0f2 0 280px,#0f3 0 284px,#0f2 0 288px,#0f1 0 290px,#0f0 0 292px,#0f3 0 294px,#1f0 0 296px,#0f8 0 298px,#0f4 0 302px,#0f5 0 304px,#0f3 0 306px,#0f4 0 308px,#0f3 0 310px,#0f7 0 314px,#0f8 0 316px,#0f3 0 318px,#0f9 0 320px,#0f7 0 322px,#0f5 0 326px,#0f7 0 328px,#0f4 0 330px,#0f5 0 332px,#0f6 0 334px,#0f8 0 336px,#0f6 0 338px,#0f8 0 340px,#0f5 0 342px,#0ea 0 344px,#0f9 0 348px,#0f3 0 350px,#0f5 0 352px,#0f4 0 354px,#0f3 0 356px,#0f7 0 360px,#0f8 0 362px,#0dd 0 364px,#0f3 0 366px,#0f7 0 368px,#0f8 0 370px,#0f6 0 372px,#0f7 0 374px,#0f5 0 380px,#0f7 0 382px,#0f5 0 384px,#0de 0 386px,#0f6 0 388px,#0ea 0 390px,#0e9 0 392px,#0f6 0 394px,#0e9 0 396px,#0f7 0 398px,#0f8 0 400px,#0f5 0 402px,#0f8 0 404px,#0e9 0 406px,#0f6 0 408px,#0f4 0 410px,#0ea 0 412px,#0f9 0 414px,#0f8 0 418px,#0e9 0 420px,#0f8 0 422px,#0f9 0 424px,#0f8 0 426px,#0e9 0)"></div><div style="top:43px;height:10px;background:linear-gradient(90deg,#ef0 2px,#ff0 0 8px,#ef0 0 10px,#fe0 0 12px,#df0 0 14px,#ef0 0 16px,#cf0 0 18px,#df0 0 20px,#cf0 0 24px,#bf0 0 26px,#cf0 0 30px,#ef0 0 32px,#df0 0 36px,#bf0 0 38px,#df0 0 40px,#af0 0 42px,#cf0 0 44px,#bf0 0 46px,#cf0 0 48px,#df0 0 52px,#cf0 0 54px,#bf0 0 58px,#ff0 0 60px,#bf0 0 62px,#cf0 0 70px,#df0 0 74px,#cf0 0 82px,#bf0 0 84px,#df0 0 86px,#cf0 0 88px,#bf0 0 90px,#cf0 0 92px,#bf0 0 94px,#af0 0 96px,#bf0 0 98px,#df0 0 102px,#bf0 0 104px,#df0 0 106px,#ef0 0 108px,#ff0 0 110px,#df0 0 112px,#ff0 0 114px,#ef0 0 116px,#fe0 0 118px,#ef0 0 120px,#df0 0 122px,#ef0 0 124px,#fe0 0 126px,#df0 0 128px,#ff0 0 134px,#ef0 0 136px,#ff0 0 142px,#ef0 0 144px,#fe0 0 146px,#fd0 0 148px,#fc0 0 150px,#fd0 0 154px,#ef0 0 158px,#ff0 0 166px,#ef0 0 170px,#ff0 0 174px,#fe0 0 176px,#ef0 0 178px,#ff0 0 180px,#cf0 0 182px,#ef0 0 186px,#ff0 0 196px,#ef0 0 198px,#fe0 0 200px,#ff0 0 214px,#fe0 0 216px,#ef0 0 218px,#ff0 0 220px,#cf0 0 222px,#af0 0 224px,#bf0 0 226px,#9f0 0 228px,#af0 0 230px,#9f0 0 232px,#bf0 0 234px,#9f0 0 236px,#7f0 0 238px,#af0 0 240px,#9f0 0 242px,#6f0 0 244px,#4f0 0 246px,#6f0 0 248px,#4f0 0 252px,#3f0 0 254px,#4f0 0 260px,#5f0 0 262px,#4f0 0 264px,#5f0 0 266px,#4f0 0 268px,#5f0 0 270px,#2f0 0 272px,#3f0 0 274px,#2f0 0 276px,#4f0 0 278px,#5f0 0 280px,#3f0 0 282px,#4f0 0 286px,#5f0 0 288px,#2f0 0 290px,#3f0 0 298px,#2f0 0 300px,#4f0 0 302px,#3f0 0 304px,#4f0 0 306px,#3f0 0 310px,#5f0 0 312px,#3f0 0 318px,#2f0 0 320px,#3f0 0 322px,#2f0 0 324px,#3f0 0 330px,#2f0 0 332px,#3f0 0 334px,#1f0 0 336px,#3f0 0 338px,#2f0 0 342px,#1f0 0 344px,#4f0 0 346px,#3f0 0 348px,#1f0 0 350px,#2f0 0 352px,#4f0 0 354px,#1f0 0 358px,#3f0 0 360px,#1f0 0 362px,#0f0 0 364px,#3f0 0 366px,#1f0 0 370px,#0f0 0 374px,#2f0 0 376px,#3f0 0 378px,#1f0 0 380px,#0f2 0 382px,#1f0 0 386px,#0f0 0 388px,#3f0 0 390px,#0f0 0 392px,#3f0 0 394px,#0f0 0 396px,#1f0 0 398px,#0f0 0 400px,#2f0 0 402px,#0f3 0 404px,#0f0 0 408px,#1f0 0 412px,#0f0 0 414px,#2f0 0 416px,#0f0 0 418px,#1f0 0 420px,#0f2 0 422px,#1f0 0 424px,#0f0 0 426px,#1f0 0)"></div><div style="top:53px;height:3px;background:linear-gradient(90deg,#f50 2px,#fa0 0 6px,#fd0 0 8px,#fc0 0 10px,#fa0 0 12px,#fc0 0 14px,#f10 0 18px,#f20 0 20px,#fd0 0 22px,#fb0 0 24px,#fe0 0 28px,#fc0 0 34px,#ff0 0 36px,#df0 0 38px,#fb0 0 40px,#ff0 0 42px,#fe0 0 44px,#ef0 0 46px,#ff0 0 48px,#fe0 0 50px,#ef0 0 52px,#fe0 0 54px,#ef0 0 56px,#ff0 0 58px,#fe0 0 62px,#ff0 0 66px,#fe0 0 68px,#df0 0 70px,#fe0 0 72px,#cf0 0 74px,#ef0 0 76px,#ff0 0 78px,#fe0 0 82px,#ff0 0 84px,#fd0 0 86px,#df0 0 88px,#ef0 0 90px,#ff0 0 92px,#fd0 0 94px,#fe0 0 96px,#df0 0 98px,#fe0 0 102px,#ef0 0 104px,#fe0 0 106px,#fd0 0 108px,#fe0 0 110px,#ef0 0 112px,#fe0 0 114px,#ff0 0 116px,#fd0 0 118px,#ff0 0 120px,#ef0 0 122px,#df0 0 124px,#ff0 0 126px,#ef0 0 128px,#fe0 0 130px,#cf0 0 132px,#ff0 0 134px,#ef0 0 136px,#df0 0 138px,#ef0 0 140px,#ff0 0 142px,#cf0 0 144px,#ef0 0 146px,#f90 0 148px,#f80 0 150px,#fa0 0 152px,#fb0 0 156px,#fd0 0 158px,#fb0 0 160px,#fa0 0 162px,#f80 0 164px,#f90 0 170px,#f70 0 174px,#f80 0 182px,#f90 0 184px,#f80 0 186px,#f90 0 190px,#f80 0 196px,#fa0 0 198px,#fb0 0 200px,#fd0 0 204px,#fe0 0 208px,#fd0 0 210px,#fc0 0 212px,#fe0 0 214px,#fd0 0 216px,#ff0 0 218px,#ef0 0 220px,#ff0 0 222px,#df0 0 224px,#fd0 0 226px,#df0 0 228px,#ff0 0 230px,#ef0 0 232px,#cf0 0 234px,#ff0 0 236px,#ef0 0 238px,#ff0 0 240px,#df0 0 242px,#cf0 0 244px,#5f0 0 256px,#6f0 0 258px,#3f0 0 260px,#5f0 0 262px,#6f0 0 266px,#4f0 0 268px,#5f0 0 270px,#4f0 0 274px,#5f0 0 280px,#3f0 0 282px,#4f0 0 286px,#5f0 0 290px,#4f0 0 294px,#3f0 0 300px,#4f0 0 304px,#6f0 0 306px,#3f0 0 308px,#4f0 0 316px,#5f0 0 318px,#4f0 0 320px,#1f0 0 322px,#4f0 0 324px,#3f0 0 326px,#2f0 0 328px,#4f0 0 330px,#2f0 0 332px,#3f0 0 336px,#2f0 0 338px,#4f0 0 340px,#2f0 0 344px,#4f0 0 346px,#3f0 0 350px,#2f0 0 352px,#3f0 0 354px,#1f0 0 356px,#2f0 0 358px,#3f0 0 360px,#2f0 0 362px,#1f0 0 364px,#3f0 0 366px,#1f0 0 368px,#3f0 0 370px,#2f0 0 374px,#3f0 0 376px,#1f0 0 378px,#2f0 0 380px,#0f0 0 382px,#2f0 0 384px,#1f0 0 388px,#3f0 0 390px,#2f0 0 392px,#3f0 0 394px,#2f0 0 396px,#1f0 0 398px,#0f0 0 400px,#2f0 0 402px,#0f2 0 404px,#0f0 0 406px,#1f0 0 408px,#2f0 0 410px,#0f3 0 412px,#0f0 0 414px,#2f0 0 418px,#0f1 0 420px,#0f0 0 422px,#1f0 0 424px,#0f1 0 426px,#1f0 0)"></div><div style="top:56px;height:3px;background:linear-gradient(90deg,#f50 2px,#fa0 0 4px,#f90 0 6px,#fc0 0 10px,#f90 0 12px,#fb0 0 14px,#f10 0 18px,#f20 0 22px,#fb0 0 24px,#fe0 0 26px,#ff0 0 28px,#fc0 0 30px,#fd0 0 32px,#fb0 0 34px,#fe0 0 36px,#cf0 0 38px,#fb0 0 40px,#ff0 0 42px,#fe0 0 44px,#ef0 0 46px,#fd0 0 50px,#ff0 0 52px,#fd0 0 54px,#ff0 0 56px,#fe0 0 60px,#fd0 0 62px,#fe0 0 64px,#ef0 0 66px,#fd0 0 68px,#ff0 0 70px,#fe0 0 72px,#cf0 0 74px,#ef0 0 76px,#fe0 0 78px,#fd0 0 80px,#fe0 0 86px,#cf0 0 88px,#df0 0 90px,#ef0 0 92px,#fc0 0 94px,#fe0 0 96px,#df0 0 98px,#fd0 0 100px,#fe0 0 102px,#ff0 0 104px,#fd0 0 106px,#fc0 0 108px,#fd0 0 110px,#ff0 0 112px,#fe0 0 116px,#fd0 0 118px,#fe0 0 120px,#ff0 0 122px,#ef0 0 124px,#ff0 0 126px,#fe0 0 130px,#ef0 0 132px,#ff0 0 134px,#ef0 0 140px,#fe0 0 142px,#cf0 0 144px,#ff0 0 146px,#f90 0 148px,#f70 0 150px,#f90 0 152px,#fa0 0 156px,#fd0 0 158px,#f90 0 162px,#f70 0 164px,#f80 0 168px,#f70 0 170px,#f50 0 172px,#f60 0 174px,#f70 0 182px,#f80 0 184px,#f70 0 186px,#f80 0 190px,#f70 0 196px,#f80 0 198px,#fa0 0 200px,#fd0 0 204px,#fe0 0 206px,#fd0 0 210px,#fa0 0 212px,#fd0 0 214px,#fc0 0 216px,#fe0 0 218px,#df0 0 220px,#ff0 0 224px,#fc0 0 226px,#df0 0 228px,#ef0 0 232px,#cf0 0 234px,#fe0 0 236px,#ff0 0 238px,#fd0 0 240px,#cf0 0 242px,#ef0 0 244px,#6f0 0 248px,#4f0 0 250px,#6f0 0 252px,#5f0 0 256px,#4f0 0 258px,#5f0 0 260px,#4f0 0 262px,#5f0 0 264px,#6f0 0 266px,#3f0 0 268px,#5f0 0 270px,#4f0 0 278px,#6f0 0 280px,#3f0 0 282px,#5f0 0 284px,#4f0 0 286px,#5f0 0 288px,#4f0 0 290px,#5f0 0 292px,#3f0 0 294px,#5f0 0 296px,#4f0 0 302px,#5f0 0 304px,#4f0 0 308px,#3f0 0 312px,#4f0 0 314px,#3f0 0 318px,#4f0 0 320px,#2f0 0 322px,#3f0 0 324px,#4f0 0 326px,#3f0 0 332px,#2f0 0 334px,#3f0 0 342px,#2f0 0 344px,#4f0 0 346px,#2f0 0 350px,#3f0 0 356px,#2f0 0 366px,#1f0 0 372px,#2f0 0 374px,#3f0 0 378px,#1f0 0 382px,#0f0 0 384px,#0f2 0 386px,#3f0 0 390px,#2f0 0 392px,#0f0 0 394px,#1f0 0 398px,#2f0 0 402px,#1f0 0 404px,#3f0 0 406px,#0f0 0 410px,#2f0 0 412px,#0f3 0 414px,#2f0 0 418px,#1f0 0 422px,#0f0 0 426px,#1f0 0)"></div><div style="top:59px;height:3px;background:linear-gradient(90deg,#f50 2px,#fa0 0 4px,#f80 0 6px,#fb0 0 8px,#fc0 0 10px,#f80 0 12px,#fa0 0 14px,#f20 0 16px,#f10 0 18px,#f20 0 22px,#f10 0 24px,#fe0 0 26px,#ff0 0 28px,#fb0 0 30px,#fc0 0 32px,#fa0 0 34px,#fe0 0 36px,#df0 0 38px,#f90 0 40px,#ff0 0 42px,#fd0 0 44px,#df0 0 46px,#fe0 0 48px,#fd0 0 50px,#ff0 0 52px,#fc0 0 54px,#fe0 0 58px,#fd0 0 60px,#fc0 0 62px,#fd0 0 64px,#ff0 0 66px,#fc0 0 68px,#ff0 0 70px,#fe0 0 72px,#cf0 0 74px,#ef0 0 76px,#fd0 0 78px,#fb0 0 80px,#fd0 0 82px,#fe0 0 84px,#fd0 0 86px,#ef0 0 88px,#ff0 0 92px,#fb0 0 94px,#fd0 0 96px,#bf0 0 98px,#fc0 0 100px,#fd0 0 102px,#ff0 0 104px,#fc0 0 106px,#fb0 0 108px,#fc0 0 110px,#ef0 0 112px,#fe0 0 116px,#fc0 0 118px,#ff0 0 122px,#df0 0 124px,#ff0 0 126px,#fe0 0 128px,#fd0 0 130px,#cf0 0 132px,#ff0 0 134px,#ef0 0 136px,#df0 0 138px,#ff0 0 140px,#fe0 0 142px,#cf0 0 144px,#fe0 0 146px,#f90 0 148px,#f60 0 150px,#f80 0 152px,#fa0 0 154px,#f90 0 156px,#fd0 0 158px,#f90 0 162px,#f60 0 164px,#f80 0 166px,#f70 0 168px,#f60 0 170px,#f40 0 172px,#f50 0 174px,#f60 0 182px,#f70 0 184px,#f60 0 186px,#f70 0 190px,#f60 0 196px,#f70 0 198px,#f90 0 200px,#fd0 0 202px,#fc0 0 204px,#fd0 0 208px,#fb0 0 210px,#f90 0 212px,#fd0 0 214px,#fb0 0 216px,#fe0 0 218px,#cf0 0 220px,#ff0 0 222px,#fe0 0 224px,#fc0 0 226px,#df0 0 228px,#ff0 0 232px,#df0 0 234px,#ff0 0 236px,#fe0 0 238px,#fd0 0 240px,#ef0 0 244px,#4f0 0 246px,#5f0 0 248px,#4f0 0 250px,#3f0 0 252px,#5f0 0 254px,#6f0 0 258px,#4f0 0 260px,#5f0 0 262px,#4f0 0 264px,#7f0 0 266px,#4f0 0 268px,#6f0 0 272px,#3f0 0 274px,#2f0 0 276px,#5f0 0 278px,#6f0 0 280px,#3f0 0 282px,#6f0 0 284px,#5f0 0 292px,#3f0 0 298px,#4f0 0 304px,#5f0 0 306px,#3f0 0 308px,#2f0 0 310px,#5f0 0 312px,#3f0 0 314px,#4f0 0 316px,#5f0 0 318px,#3f0 0 320px,#2f0 0 322px,#3f0 0 324px,#4f0 0 330px,#2f0 0 332px,#3f0 0 334px,#2f0 0 338px,#3f0 0 340px,#2f0 0 344px,#3f0 0 346px,#2f0 0 348px,#4f0 0 350px,#3f0 0 352px,#4f0 0 354px,#3f0 0 356px,#2f0 0 358px,#3f0 0 360px,#2f0 0 364px,#3f0 0 366px,#2f0 0 372px,#1f0 0 374px,#2f0 0 376px,#3f0 0 378px,#1f0 0 380px,#2f0 0 384px,#0f0 0 386px,#1f0 0 390px,#2f0 0 392px,#1f0 0 398px,#2f0 0 400px,#1f0 0 402px,#0f3 0 404px,#1f0 0 408px,#2f0 0 410px,#1f0 0 412px,#0f0 0 414px,#3f0 0 416px,#2f0 0 418px,#0f3 0 420px,#0f0 0 424px,#2f0 0 426px,#1f0 0)"></div><div style="top:62px;height:3px;background:linear-gradient(90deg,#f50 2px,#f30 0 4px,#f80 0 6px,#fc0 0 8px,#fb0 0 10px,#f70 0 12px,#f90 0 14px,#f10 0 18px,#f20 0 22px,#f10 0 24px,#f30 0 26px,#ff0 0 28px,#fb0 0 32px,#fa0 0 34px,#fe0 0 36px,#cf0 0 38px,#f90 0 40px,#fe0 0 42px,#fd0 0 44px,#ef0 0 46px,#fd0 0 48px,#fc0 0 50px,#ff0 0 52px,#fb0 0 54px,#fe0 0 56px,#fd0 0 60px,#fb0 0 62px,#fd0 0 64px,#ff0 0 66px,#fb0 0 68px,#ef0 0 70px,#fc0 0 72px,#bf0 0 74px,#ef0 0 76px,#fd0 0 78px,#fa0 0 80px,#fd0 0 82px,#fe0 0 84px,#fc0 0 86px,#df0 0 88px,#ff0 0 90px,#fe0 0 92px,#fa0 0 94px,#fd0 0 96px,#cf0 0 98px,#fc0 0 100px,#fd0 0 102px,#ff0 0 104px,#fa0 0 106px,#fb0 0 110px,#ff0 0 112px,#fd0 0 114px,#fe0 0 116px,#fb0 0 118px,#fe0 0 122px,#df0 0 124px,#ff0 0 126px,#fd0 0 130px,#df0 0 132px,#ff0 0 136px,#cf0 0 138px,#ff0 0 140px,#fe0 0 142px,#af0 0 144px,#fe0 0 146px,#f90 0 148px,#f60 0 150px,#f80 0 152px,#f90 0 156px,#fd0 0 158px,#f90 0 160px,#f70 0 162px,#f60 0 164px,#f70 0 166px,#f60 0 168px,#f50 0 170px,#f30 0 172px,#f40 0 174px,#f50 0 178px,#f40 0 182px,#f60 0 184px,#f50 0 186px,#f60 0 188px,#f70 0 190px,#f50 0 196px,#f60 0 198px,#f80 0 200px,#fc0 0 202px,#f90 0 204px,#fc0 0 208px,#fb0 0 210px,#f80 0 212px,#fc0 0 214px,#fa0 0 216px,#fd0 0 218px,#cf0 0 220px,#fe0 0 224px,#fa0 0 226px,#ef0 0 228px,#fe0 0 230px,#ff0 0 232px,#df0 0 234px,#fd0 0 238px,#fc0 0 240px,#df0 0 242px,#fe0 0 244px,#f80 0 246px,#ef0 0 248px,#af0 0 250px,#5f0 0 252px,#6f0 0 254px,#4f0 0 258px,#3f0 0 260px,#4f0 0 262px,#3f0 0 264px,#7f0 0 266px,#5f0 0 268px,#7f0 0 270px,#5f0 0 274px,#3f0 0 276px,#6f0 0 278px,#5f0 0 280px,#4f0 0 288px,#3f0 0 290px,#5f0 0 294px,#6f0 0 296px,#3f0 0 300px,#4f0 0 304px,#5f0 0 306px,#4f0 0 308px,#3f0 0 310px,#5f0 0 312px,#4f0 0 314px,#3f0 0 316px,#5f0 0 318px,#4f0 0 320px,#3f0 0 324px,#2f0 0 326px,#1f0 0 328px,#2f0 0 332px,#4f0 0 334px,#3f0 0 336px,#2f0 0 344px,#4f0 0 346px,#2f0 0 348px,#3f0 0 354px,#2f0 0 356px,#1f0 0 358px,#2f0 0 364px,#3f0 0 366px,#0f1 0 368px,#2f0 0 370px,#1f0 0 372px,#3f0 0 376px,#2f0 0 378px,#1f0 0 382px,#2f0 0 384px,#1f0 0 386px,#3f0 0 388px,#2f0 0 390px,#1f0 0 392px,#3f0 0 394px,#0f0 0 396px,#1f0 0 400px,#3f0 0 402px,#1f0 0 404px,#2f0 0 408px,#3f0 0 410px,#1f0 0 412px,#0f0 0 414px,#1f0 0 416px,#3f0 0 418px,#0f0 0 420px,#1f0 0 422px,#0f0 0 424px,#1f0 0)"></div><div style="top:65px;height:3px;background:linear-gradient(90deg,#f50 2px,#f00 0 4px,#f50 0 6px,#fb0 0 8px,#f90 0 10px,#f70 0 12px,#f90 0 14px,#f20 0 16px,#f10 0 18px,#f20 0 22px,#f10 0 24px,#f40 0 28px,#fa0 0 30px,#fc0 0 32px,#fa0 0 34px,#fc0 0 36px,#df0 0 38px,#f70 0 40px,#fb0 0 42px,#fc0 0 44px,#ff0 0 46px,#fb0 0 50px,#ff0 0 52px,#fb0 0 54px,#fe0 0 56px,#fd0 0 58px,#fb0 0 60px,#fa0 0 62px,#fc0 0 64px,#fd0 0 66px,#f20 0 68px,#f70 0 70px,#fc0 0 72px,#df0 0 74px,#ff0 0 76px,#fc0 0 78px,#fa0 0 80px,#f70 0 82px,#fc0 0 86px,#cf0 0 88px,#fe0 0 90px,#fd0 0 92px,#fa0 0 94px,#fc0 0 96px,#df0 0 98px,#fb0 0 100px,#fc0 0 102px,#fe0 0 104px,#fb0 0 106px,#fa0 0 110px,#f70 0 112px,#f90 0 114px,#fd0 0 116px,#fa0 0 118px,#fe0 0 122px,#ef0 0 124px,#fa0 0 126px,#fd0 0 128px,#fc0 0 130px,#df0 0 132px,#ff0 0 134px,#ef0 0 136px,#df0 0 138px,#ff0 0 140px,#fe0 0 142px,#df0 0 144px,#fe0 0 146px,#f90 0 148px,#f50 0 150px,#f70 0 152px,#f90 0 154px,#f80 0 156px,#fd0 0 158px,#f80 0 160px,#f70 0 162px,#f50 0 164px,#f60 0 166px,#f50 0 168px,#f40 0 170px,#f30 0 174px,#f40 0 178px,#f30 0 182px,#f50 0 184px,#f40 0 186px,#f50 0 190px,#f40 0 196px,#f50 0 198px,#f70 0 200px,#f60 0 202px,#f10 0 204px,#fb0 0 208px,#fa0 0 210px,#f80 0 212px,#fc0 0 214px,#f80 0 216px,#fd0 0 218px,#bf0 0 220px,#fd0 0 222px,#fe0 0 224px,#f90 0 226px,#ff0 0 228px,#fd0 0 230px,#fe0 0 232px,#df0 0 234px,#fd0 0 238px,#fc0 0 240px,#ff0 0 242px,#fe0 0 244px,#f00 0 248px,#f10 0 250px,#f40 0 254px,#fa0 0 256px,#5f0 0 258px,#3f0 0 262px,#6f0 0 264px,#7f0 0 266px,#5f0 0 268px,#4f0 0 276px,#5f0 0 280px,#4f0 0 286px,#5f0 0 288px,#3f0 0 290px,#5f0 0 292px,#3f0 0 294px,#5f0 0 296px,#3f0 0 300px,#4f0 0 302px,#3f0 0 304px,#5f0 0 306px,#4f0 0 310px,#5f0 0 312px,#4f0 0 314px,#2f0 0 318px,#4f0 0 320px,#3f0 0 326px,#2f0 0 328px,#5f0 0 330px,#4f0 0 332px,#2f0 0 334px,#1f0 0 336px,#3f0 0 340px,#1f0 0 342px,#3f0 0 348px,#2f0 0 350px,#3f0 0 354px,#1f0 0 356px,#3f0 0 358px,#2f0 0 362px,#1f0 0 364px,#2f0 0 368px,#3f0 0 372px,#2f0 0 376px,#4f0 0 378px,#1f0 0 380px,#2f0 0 382px,#1f0 0 386px,#2f0 0 388px,#1f0 0 390px,#3f0 0 394px,#1f0 0 400px,#2f0 0 402px,#1f0 0 404px,#2f0 0 406px,#0f0 0 408px,#1f0 0 410px,#0f1 0 412px,#0f0 0 414px,#1f0 0 420px,#2f0 0 422px,#0f0 0 424px,#0f1 0 426px,#1f0 0)"></div><div style="top:68px;height:3px;background:linear-gradient(90deg,#f40 2px,#f00 0 6px,#f60 0 8px,#f10 0 10px,#f70 0 12px,#f80 0 14px,#f20 0 16px,#f10 0 18px,#f20 0 20px,#f10 0 22px,#f00 0 24px,#f40 0 28px,#fa0 0 30px,#fb0 0 32px,#f90 0 34px,#fb0 0 36px,#ff0 0 38px,#f00 0 40px,#f20 0 42px,#f60 0 44px,#fe0 0 46px,#f10 0 48px,#fb0 0 50px,#fd0 0 52px,#fa0 0 54px,#fd0 0 56px,#fc0 0 58px,#fb0 0 60px,#f90 0 62px,#fc0 0 64px,#f20 0 66px,#f00 0 68px,#f20 0 70px,#fb0 0 72px,#df0 0 74px,#fe0 0 76px,#fb0 0 78px,#fa0 0 80px,#f10 0 82px,#f30 0 84px,#fb0 0 86px,#ef0 0 88px,#fa0 0 90px,#f30 0 92px,#f90 0 94px,#fc0 0 96px,#f80 0 98px,#fa0 0 100px,#fc0 0 102px,#fd0 0 104px,#fa0 0 106px,#f90 0 108px,#f60 0 110px,#f30 0 112px,#f10 0 114px,#fb0 0 116px,#fa0 0 118px,#fe0 0 120px,#fd0 0 122px,#fc0 0 124px,#f30 0 126px,#fd0 0 128px,#fb0 0 130px,#ff0 0 136px,#ef0 0 138px,#ff0 0 140px,#fe0 0 142px,#cf0 0 144px,#fe0 0 146px,#f80 0 148px,#f30 0 152px,#f60 0 154px,#f80 0 156px,#fb0 0 158px,#f80 0 160px,#f70 0 162px,#f00 0 164px,#f50 0 166px,#f30 0 170px,#f10 0 172px,#f20 0 174px,#f30 0 178px,#f20 0 182px,#f40 0 184px,#f30 0 188px,#f50 0 190px,#f30 0 196px,#f40 0 198px,#f30 0 200px,#f20 0 204px,#f40 0 206px,#f90 0 208px,#fa0 0 210px,#f70 0 212px,#fb0 0 214px,#f10 0 216px,#f40 0 218px,#df0 0 220px,#fc0 0 222px,#fd0 0 224px,#f80 0 226px,#ff0 0 228px,#fd0 0 230px,#fe0 0 232px,#ef0 0 234px,#fc0 0 236px,#fd0 0 238px,#fb0 0 240px,#ff0 0 242px,#fe0 0 244px,#f00 0 248px,#f10 0 250px,#f00 0 256px,#fe0 0 258px,#f80 0 260px,#bf0 0 262px,#f30 0 264px,#f50 0 266px,#5f0 0 268px,#fe0 0 270px,#5f0 0 274px,#3f0 0 276px,#6f0 0 278px,#4f0 0 280px,#3f0 0 282px,#4f0 0 284px,#5f0 0 288px,#3f0 0 290px,#4f0 0 292px,#3f0 0 294px,#4f0 0 300px,#5f0 0 306px,#3f0 0 312px,#4f0 0 316px,#3f0 0 320px,#2f0 0 324px,#3f0 0 326px,#2f0 0 328px,#5f0 0 330px,#2f0 0 332px,#5f0 0 334px,#3f0 0 336px,#4f0 0 338px,#1f0 0 340px,#3f0 0 352px,#4f0 0 354px,#3f0 0 358px,#2f0 0 362px,#0f0 0 364px,#3f0 0 366px,#1f0 0 368px,#2f0 0 370px,#3f0 0 372px,#1f0 0 374px,#3f0 0 376px,#2f0 0 380px,#1f0 0 382px,#2f0 0 384px,#0f0 0 386px,#1f0 0 388px,#2f0 0 390px,#4f0 0 392px,#3f0 0 394px,#2f0 0 396px,#1f0 0 400px,#2f0 0 402px,#0f0 0 404px,#1f0 0 408px,#2f0 0 410px,#0f0 0 412px,#0f1 0 414px,#2f0 0 418px,#1f0 0 420px,#2f0 0 422px,#0f1 0 424px,#1f0 0)"></div><div style="top:71px;height:3px;background:linear-gradient(90deg,#f10 2px,#f00 0 10px,#f40 0 12px,#f90 0 14px,#f20 0 16px,#f10 0 18px,#f20 0 20px,#f10 0 22px,#f00 0 24px,#f30 0 26px,#f40 0 28px,#f10 0 30px,#fb0 0 32px,#f90 0 34px,#fc0 0 36px,#fe0 0 38px,#f00 0 40px,#f10 0 44px,#f40 0 46px,#f10 0 48px,#f40 0 50px,#fd0 0 52px,#f80 0 54px,#fd0 0 56px,#fc0 0 58px,#fb0 0 60px,#f70 0 62px,#f40 0 64px,#f20 0 66px,#f00 0 68px,#f20 0 70px,#f90 0 72px,#ff0 0 74px,#f60 0 76px,#fb0 0 78px,#f40 0 80px,#f00 0 82px,#f10 0 84px,#fb0 0 86px,#ff0 0 88px,#f20 0 92px,#f90 0 94px,#f70 0 96px,#f30 0 98px,#f80 0 100px,#fc0 0 102px,#fd0 0 104px,#fa0 0 106px,#f90 0 108px,#f00 0 110px,#f20 0 114px,#f30 0 116px,#f90 0 120px,#f40 0 122px,#f30 0 124px,#f20 0 126px,#fc0 0 128px,#fb0 0 130px,#ff0 0 132px,#fe0 0 134px,#fa0 0 136px,#fb0 0 138px,#ff0 0 140px,#fe0 0 142px,#ef0 0 144px,#fc0 0 146px,#f50 0 148px,#f10 0 152px,#f20 0 154px,#f50 0 156px,#f70 0 160px,#f50 0 162px,#f00 0 164px,#f40 0 166px,#f30 0 168px,#f20 0 170px,#f10 0 172px,#f20 0 182px,#f30 0 186px,#f20 0 188px,#f30 0 190px,#f20 0 192px,#f30 0 194px,#f20 0 196px,#f30 0 198px,#f20 0 208px,#fa0 0 210px,#f60 0 212px,#f50 0 214px,#f10 0 216px,#f20 0 218px,#fb0 0 220px,#fd0 0 224px,#f30 0 226px,#fe0 0 228px,#fc0 0 230px,#fd0 0 232px,#fe0 0 234px,#fc0 0 238px,#fb0 0 240px,#ff0 0 242px,#fe0 0 244px,#f00 0 256px,#f10 0 264px,#f00 0 266px,#f80 0 268px,#f00 0 270px,#f90 0 272px,#6f0 0 274px,#5f0 0 278px,#6f0 0 280px,#7f0 0 282px,#3f0 0 284px,#4f0 0 286px,#5f0 0 288px,#3f0 0 292px,#5f0 0 294px,#4f0 0 296px,#3f0 0 298px,#4f0 0 300px,#3f0 0 304px,#6f0 0 306px,#4f0 0 308px,#2f0 0 310px,#3f0 0 312px,#4f0 0 314px,#3f0 0 322px,#2f0 0 324px,#3f0 0 326px,#fe0 0 328px,#5f0 0 330px,#2f0 0 332px,#3f0 0 334px,#fd0 0 336px,#1f0 0 338px,#5f0 0 340px,#3f0 0 346px,#4f0 0 348px,#3f0 0 350px,#1f0 0 352px,#3f0 0 356px,#1f0 0 358px,#3f0 0 360px,#2f0 0 362px,#0f2 0 364px,#2f0 0 370px,#3f0 0 372px,#1f0 0 374px,#3f0 0 376px,#1f0 0 378px,#2f0 0 380px,#0f3 0 382px,#1f0 0 384px,#0f1 0 386px,#2f0 0 388px,#3f0 0 392px,#2f0 0 394px,#1f0 0 402px,#0f2 0 404px,#2f0 0 406px,#1f0 0 408px,#2f0 0 410px,#1f0 0 412px,#0f2 0 414px,#2f0 0 418px,#1f0 0 422px,#0f0 0)"></div><div style="top:74px;height:3px;background:linear-gradient(90deg,#f10 2px,#f00 0 6px,#f10 0 10px,#f00 0 12px,#f20 0 16px,#f10 0 18px,#f20 0 20px,#f10 0 22px,#f00 0 24px,#f30 0 26px,#f40 0 28px,#f00 0 30px,#f20 0 32px,#f40 0 34px,#f80 0 36px,#f50 0 38px,#f00 0 40px,#f10 0 44px,#f20 0 46px,#f00 0 50px,#f40 0 52px,#f00 0 54px,#fc0 0 58px,#fb0 0 60px,#f00 0 62px,#f10 0 64px,#f20 0 66px,#f00 0 68px,#f20 0 70px,#f10 0 72px,#f70 0 74px,#f20 0 76px,#f30 0 78px,#f00 0 82px,#f10 0 84px,#f40 0 86px,#f60 0 88px,#f10 0 90px,#f20 0 92px,#f50 0 94px,#f00 0 96px,#f30 0 98px,#f10 0 100px,#fa0 0 102px,#f80 0 104px,#fa0 0 106px,#f50 0 108px,#f00 0 110px,#f20 0 112px,#f10 0 116px,#f00 0 118px,#f20 0 122px,#f30 0 124px,#f20 0 126px,#fa0 0 130px,#fb0 0 132px,#f90 0 134px,#fa0 0 144px,#f80 0 146px,#f40 0 148px,#f10 0 152px,#f20 0 156px,#f40 0 158px,#f60 0 160px,#f10 0 162px,#f00 0 164px,#f20 0 166px,#f30 0 168px,#f20 0 170px,#f10 0 174px,#f20 0 178px,#f10 0 180px,#f20 0 182px,#f30 0 186px,#f20 0 188px,#f30 0 190px,#f20 0 208px,#f30 0 210px,#f00 0 212px,#f20 0 214px,#f00 0 216px,#f20 0 218px,#f40 0 220px,#fa0 0 222px,#f40 0 224px,#f00 0 226px,#fe0 0 228px,#fc0 0 230px,#f60 0 232px,#fe0 0 234px,#f20 0 236px,#fc0 0 238px,#f90 0 240px,#fe0 0 242px,#f20 0 244px,#f00 0 248px,#f10 0 250px,#f00 0 258px,#f10 0 260px,#f00 0 272px,#f40 0 274px,#bf0 0 276px,#f40 0 278px,#f70 0 280px,#f30 0 282px,#af0 0 284px,#ff0 0 286px,#bf0 0 288px,#fa0 0 290px,#4f0 0 292px,#f80 0 294px,#6f0 0 298px,#df0 0 302px,#ff0 0 304px,#bf0 0 306px,#f80 0 308px,#bf0 0 310px,#4f0 0 312px,#fc0 0 314px,#f80 0 316px,#5f0 0 318px,#4f0 0 320px,#fe0 0 322px,#5f0 0 324px,#ff0 0 326px,#f10 0 328px,#f30 0 330px,#fa0 0 332px,#3f0 0 334px,#f10 0 336px,#7f0 0 338px,#f40 0 340px,#fa0 0 342px,#2f0 0 344px,#3f0 0 346px,#fc0 0 348px,#fe0 0 350px,#3f0 0 352px,#4f0 0 354px,#7f0 0 356px,#af0 0 358px,#4f0 0 360px,#1f0 0 364px,#6f0 0 368px,#fb0 0 370px,#f50 0 372px,#2f0 0 374px,#9f0 0 376px,#3f0 0 378px,#2f0 0 382px,#fc0 0 384px,#0f0 0 386px,#2f0 0 388px,#4f0 0 390px,#8f0 0 392px,#9f0 0 394px,#cf0 0 396px,#0f0 0 398px,#9f0 0 400px,#2f0 0 402px,#0f0 0 404px,#1f0 0 406px,#0f0 0 408px,#2f0 0 410px,#0f0 0 412px,#0f1 0 414px,#3f0 0 416px,#1f0 0 418px,#0f0 0 422px,#1f0 0)"></div><div style="top:77px;height:3px;background:linear-gradient(90deg,#f10 2px,#f00 0 6px,#f10 0 10px,#f00 0 18px,#f10 0 20px,#f00 0 24px,#f20 0 26px,#f30 0 28px,#f00 0 30px,#f20 0 32px,#f00 0 36px,#f20 0 38px,#f00 0 40px,#f10 0 44px,#f20 0 46px,#f10 0 48px,#f00 0 50px,#f10 0 52px,#f00 0 54px,#f20 0 56px,#fb0 0 58px,#f90 0 60px,#f00 0 62px,#f10 0 64px,#f20 0 66px,#f00 0 68px,#f20 0 70px,#f10 0 72px,#f20 0 76px,#f10 0 78px,#f00 0 80px,#f10 0 84px,#f00 0 86px,#f20 0 92px,#f00 0 94px,#f10 0 96px,#f20 0 98px,#f00 0 100px,#f20 0 104px,#f10 0 106px,#f00 0 110px,#f20 0 112px,#f10 0 116px,#f00 0 118px,#f20 0 122px,#f30 0 124px,#f20 0 128px,#f30 0 130px,#fb0 0 132px,#f90 0 134px,#fa0 0 136px,#fb0 0 138px,#f90 0 140px,#f80 0 142px,#fa0 0 144px,#f70 0 146px,#f40 0 148px,#f10 0 152px,#f20 0 156px,#f40 0 158px,#f10 0 162px,#f00 0 164px,#f20 0 166px,#f30 0 168px,#f20 0 170px,#f00 0 172px,#f10 0 174px,#f20 0 182px,#f30 0 184px,#f20 0 188px,#f30 0 190px,#f20 0 192px,#f10 0 196px,#f20 0 208px,#f10 0 210px,#f00 0 212px,#f20 0 214px,#f00 0 216px,#f20 0 218px,#f30 0 220px,#f10 0 222px,#f00 0 226px,#f50 0 228px,#f20 0 230px,#f00 0 232px,#f40 0 234px,#f00 0 236px,#fc0 0 238px,#f00 0 240px,#fe0 0 242px,#f00 0 248px,#f10 0 250px,#f00 0 258px,#f10 0 260px,#f00 0 272px,#f10 0 274px,#f20 0 276px,#f10 0 282px,#f20 0 284px,#f10 0 288px,#f20 0 290px,#f50 0 292px,#f10 0 294px,#f30 0 298px,#f20 0 300px,#f10 0 308px,#f20 0 310px,#f70 0 312px,#f10 0 316px,#f40 0 318px,#f60 0 320px,#f20 0 322px,#f40 0 324px,#f10 0 328px,#f00 0 330px,#f10 0 332px,#f60 0 334px,#f10 0 336px,#f30 0 338px,#f10 0 340px,#f20 0 342px,#f40 0 344px,#f50 0 346px,#f10 0 350px,#f40 0 352px,#f90 0 354px,#f30 0 358px,#f40 0 360px,#f50 0 362px,#f70 0 364px,#f20 0 366px,#f30 0 368px,#f20 0 370px,#f10 0 372px,#f60 0 374px,#f20 0 376px,#f80 0 378px,#f50 0 382px,#f20 0 384px,#f80 0 386px,#f70 0 388px,#f40 0 392px,#f30 0 396px,#f90 0 398px,#f40 0 400px,#fa0 0 402px,#fe0 0 404px,#f90 0 406px,#2f0 0 408px,#ff0 0 410px,#8f0 0 412px,#fb0 0 414px,#f60 0 416px,#fd0 0 418px,#fe0 0 420px,#f90 0 422px,#fd0 0 424px,#cf0 0 426px,#5f0 0)"></div><div style="top:80px;height:3px;background:linear-gradient(90deg,#f10 2px,#f00 0 8px,#f10 0 10px,#f00 0 18px,#f10 0 22px,#f00 0 24px,#f20 0 28px,#f00 0 30px,#f10 0 32px,#f00 0 36px,#f20 0 38px,#f00 0 40px,#f10 0 46px,#f00 0 50px,#f10 0 52px,#f00 0 54px,#f10 0 56px,#fa0 0 58px,#f10 0 60px,#f00 0 62px,#f10 0 66px,#f00 0 68px,#f20 0 70px,#f10 0 72px,#f20 0 76px,#f10 0 78px,#f00 0 80px,#f10 0 84px,#f00 0 86px,#f20 0 92px,#f00 0 94px,#f10 0 96px,#f20 0 98px,#f00 0 100px,#f10 0 102px,#f20 0 104px,#f00 0 110px,#f20 0 112px,#f10 0 114px,#f20 0 116px,#f10 0 118px,#f20 0 122px,#f30 0 124px,#f20 0 128px,#f40 0 130px,#fb0 0 132px,#f90 0 134px,#fa0 0 138px,#f90 0 140px,#f80 0 142px,#fa0 0 144px,#f80 0 146px,#f30 0 148px,#f10 0 152px,#f20 0 156px,#f40 0 158px,#f20 0 160px,#f10 0 162px,#f00 0 164px,#f20 0 166px,#f30 0 168px,#f20 0 170px,#f10 0 174px,#f20 0 178px,#f10 0 180px,#f20 0 192px,#f10 0 196px,#f20 0 208px,#f10 0 210px,#f00 0 212px,#f20 0 214px,#f00 0 216px,#f20 0 218px,#f30 0 220px,#f00 0 222px,#f10 0 224px,#f00 0 226px,#f10 0 228px,#f00 0 230px,#f10 0 234px,#f00 0 236px,#f30 0 238px,#f00 0 240px,#fe0 0 242px,#f00 0 248px,#f10 0 250px,#f00 0 258px,#f10 0 260px,#f00 0 262px,#f10 0 264px,#f00 0 272px,#f10 0 276px,#f00 0 278px,#f10 0 286px,#f00 0 288px,#f10 0 290px,#f00 0 292px,#f10 0 304px,#f00 0 306px,#f10 0 310px,#f00 0 312px,#f10 0 318px,#f00 0 320px,#f20 0 322px,#f10 0 328px,#f00 0 330px,#f10 0 336px,#f20 0 338px,#f10 0 340px,#f20 0 342px,#f10 0 362px,#f20 0 364px,#f10 0 366px,#f20 0 368px,#f10 0 372px,#f20 0 374px,#f10 0 378px,#f20 0 380px,#f30 0 382px,#f20 0 384px,#f30 0 386px,#f20 0 394px,#f30 0 402px,#f40 0 404px,#f30 0 406px,#f60 0 408px,#f30 0 410px,#f50 0 414px,#f40 0 418px,#f50 0 422px,#f60 0 426px,#f70 0)"></div></div>
<div class="sp" style="left:92px;top:590px;width:428px;height:83px"><div style="top:0px;height:3px;background:linear-gradient(90deg,#4f0 2px,#1f0 0 6px,#2f0 0 8px,#0f0 0 10px,#0f1 0 12px,#1f0 0 14px,#2f0 0 16px,#3f0 0 18px,#0f1 0 20px,#0f0 0 22px,#1f0 0 24px,#2f0 0 26px,#4f0 0 28px,#2f0 0 30px,#5f0 0 32px,#7f0 0 36px,#8f0 0 42px,#9f0 0 44px,#7f0 0 46px,#9f0 0 48px,#7f0 0 50px,#9f0 0 54px,#af0 0 56px,#7f0 0 58px,#9f0 0 62px,#7f0 0 64px,#9f0 0 70px,#7f0 0 72px,#8f0 0 76px,#7f0 0 78px,#af0 0 82px,#9f0 0 84px,#af0 0 86px,#9f0 0 88px,#8f0 0 92px,#af0 0 94px,#9f0 0 100px,#af0 0 102px,#9f0 0 106px,#8f0 0 108px,#9f0 0 110px,#af0 0 112px,#8f0 0 114px,#9f0 0 116px,#bf0 0 118px,#8f0 0 120px,#9f0 0 122px,#af0 0 128px,#bf0 0 130px,#df0 0 132px,#ff0 0 134px,#af0 0 136px,#cf0 0 140px,#ef0 0 142px,#cf0 0 144px,#df0 0 146px,#bf0 0 148px,#9f0 0 156px,#8f0 0 160px,#9f0 0 162px,#8f0 0 166px,#4f0 0 170px,#5f0 0 172px,#4f0 0 174px,#6f0 0 176px,#4f0 0 178px,#5f0 0 182px,#4f0 0 184px,#5f0 0 188px,#4f0 0 190px,#3f0 0 192px,#4f0 0 202px,#7f0 0 204px,#8f0 0 206px,#9f0 0 208px,#8f0 0 216px,#9f0 0 218px,#af0 0 220px,#7f0 0 222px,#8f0 0 228px,#9f0 0 230px,#8f0 0 232px,#7f0 0 234px,#8f0 0 242px,#5f0 0 244px,#0ea 0 248px,#0f5 0 250px,#0f9 0 252px,#0e9 0 254px,#0ea 0 256px,#0f6 0 258px,#0f9 0 260px,#0f8 0 264px,#0ce 0 266px,#0f8 0 268px,#0be 0 270px,#0eb 0 272px,#0f8 0 274px,#0de 0 276px,#0dd 0 278px,#0de 0 280px,#0f9 0 282px,#0ea 0 284px,#0ce 0 288px,#0de 0 290px,#0ce 0 292px,#0dc 0 294px,#0dd 0 296px,#0be 0 300px,#0de 0 302px,#0ce 0 304px,#0de 0 306px,#0be 0 308px,#0f8 0 310px,#0de 0 314px,#0dd 0 316px,#0ce 0 320px,#0dd 0 322px,#0de 0 324px,#0ce 0 332px,#0dc 0 334px,#0de 0 336px,#0ce 0 342px,#0dd 0 344px,#0ea 0 346px,#0de 0 348px,#0ce 0 350px,#0eb 0 352px,#0ce 0 354px,#0de 0 356px,#0dc 0 358px,#0de 0 360px,#0dc 0 362px,#0dd 0 364px,#0ce 0 368px,#0de 0 370px,#0dd 0 372px,#0dc 0 374px,#0eb 0 376px,#0dc 0 378px,#0ce 0 384px,#0dd 0 386px,#0ce 0 388px,#0be 0 390px,#0de 0 392px,#0dd 0 394px,#0ce 0 398px,#0dc 0 400px,#0ce 0 402px,#0de 0 408px,#0ce 0 412px,#0dc 0 414px,#0de 0 418px,#0dd 0 420px,#0e9 0 422px,#0ce 0 424px,#0eb 0 426px,#0ce 0)"></div><div style="top:3px;height:4px;background:linear-gradient(90deg,#5f0 2px,#1f0 0 6px,#0f1 0 8px,#0f0 0 16px,#1f0 0 18px,#0f3 0 20px,#2f0 0 22px,#1f0 0 24px,#3f0 0 26px,#2f0 0 28px,#1f0 0 30px,#3f0 0 32px,#7f0 0 36px,#8f0 0 38px,#9f0 0 40px,#7f0 0 42px,#9f0 0 46px,#7f0 0 48px,#8f0 0 52px,#9f0 0 54px,#8f0 0 56px,#9f0 0 58px,#8f0 0 60px,#9f0 0 62px,#8f0 0 64px,#9f0 0 70px,#8f0 0 72px,#9f0 0 80px,#af0 0 82px,#8f0 0 88px,#9f0 0 92px,#8f0 0 94px,#9f0 0 100px,#8f0 0 102px,#7f0 0 104px,#9f0 0 108px,#8f0 0 110px,#9f0 0 112px,#8f0 0 114px,#af0 0 116px,#bf0 0 118px,#af0 0 120px,#8f0 0 122px,#af0 0 124px,#9f0 0 126px,#8f0 0 128px,#cf0 0 130px,#df0 0 132px,#ff0 0 134px,#bf0 0 136px,#df0 0 142px,#cf0 0 144px,#df0 0 146px,#af0 0 148px,#8f0 0 152px,#9f0 0 158px,#7f0 0 160px,#8f0 0 162px,#9f0 0 164px,#7f0 0 166px,#5f0 0 170px,#4f0 0 176px,#5f0 0 178px,#6f0 0 180px,#5f0 0 182px,#4f0 0 184px,#6f0 0 186px,#5f0 0 188px,#6f0 0 190px,#3f0 0 192px,#5f0 0 194px,#4f0 0 200px,#5f0 0 202px,#7f0 0 204px,#6f0 0 206px,#9f0 0 208px,#7f0 0 212px,#8f0 0 214px,#9f0 0 218px,#8f0 0 220px,#7f0 0 222px,#9f0 0 224px,#8f0 0 226px,#7f0 0 228px,#8f0 0 230px,#7f0 0 232px,#8f0 0 234px,#9f0 0 236px,#8f0 0 242px,#4f0 0 244px,#0f5 0 246px,#0f9 0 248px,#0f5 0 250px,#0f4 0 252px,#0ea 0 254px,#0f5 0 256px,#0f8 0 260px,#0ec 0 262px,#0ea 0 264px,#0dd 0 266px,#0e9 0 268px,#0dd 0 270px,#0f7 0 272px,#0eb 0 274px,#0ea 0 276px,#0e9 0 278px,#0ce 0 280px,#0de 0 282px,#0f5 0 284px,#0de 0 286px,#0dc 0 288px,#0eb 0 290px,#0be 0 292px,#0ce 0 294px,#0be 0 296px,#0f7 0 298px,#0eb 0 300px,#0de 0 302px,#0be 0 304px,#0af 0 306px,#0be 0 308px,#09f 0 310px,#0ae 0 312px,#0eb 0 314px,#0ea 0 316px,#0ce 0 320px,#0de 0 322px,#0eb 0 324px,#0be 0 326px,#0dd 0 328px,#0de 0 330px,#0dd 0 332px,#0be 0 334px,#0dd 0 336px,#0be 0 338px,#0ea 0 340px,#0ce 0 342px,#0eb 0 348px,#0dd 0 350px,#0f8 0 352px,#0de 0 354px,#0f8 0 356px,#0ea 0 358px,#0ec 0 360px,#0eb 0 362px,#0de 0 364px,#0dc 0 366px,#0de 0 368px,#0dd 0 370px,#0eb 0 372px,#0de 0 374px,#0dd 0 376px,#0dc 0 378px,#0f9 0 380px,#0e9 0 382px,#0ce 0 384px,#0eb 0 386px,#0dc 0 388px,#0eb 0 392px,#0dd 0 394px,#0ec 0 396px,#0dc 0 398px,#0ce 0 400px,#0eb 0 404px,#0ea 0 406px,#0dd 0 408px,#0ec 0 412px,#0dd 0 414px,#0ec 0 416px,#0dc 0 418px,#0eb 0 420px,#0f7 0 422px,#0dd 0 426px,#0e9 0)"></div><div style="top:7px;height:4px;background:linear-gradient(90deg,#5f0 2px,#0f2 0 4px,#0f0 0 6px,#1f0 0 8px,#0f2 0 10px,#0f1 0 12px,#1f0 0 14px,#0f1 0 16px,#1f0 0 18px,#2f0 0 30px,#4f0 0 32px,#6f0 0 34px,#8f0 0 42px,#9f0 0 44px,#8f0 0 48px,#9f0 0 50px,#8f0 0 56px,#7f0 0 58px,#9f0 0 60px,#af0 0 62px,#8f0 0 64px,#9f0 0 66px,#8f0 0 68px,#7f0 0 70px,#af0 0 72px,#9f0 0 76px,#8f0 0 78px,#af0 0 80px,#8f0 0 82px,#af0 0 84px,#9f0 0 94px,#8f0 0 96px,#7f0 0 98px,#af0 0 100px,#9f0 0 102px,#af0 0 104px,#9f0 0 106px,#8f0 0 108px,#9f0 0 112px,#af0 0 116px,#9f0 0 118px,#af0 0 126px,#9f0 0 128px,#bf0 0 130px,#ef0 0 134px,#bf0 0 138px,#cf0 0 140px,#ef0 0 142px,#bf0 0 144px,#df0 0 146px,#bf0 0 148px,#7f0 0 150px,#8f0 0 152px,#9f0 0 154px,#8f0 0 156px,#6f0 0 158px,#8f0 0 162px,#9f0 0 164px,#7f0 0 166px,#5f0 0 168px,#4f0 0 170px,#5f0 0 172px,#6f0 0 174px,#5f0 0 180px,#4f0 0 182px,#6f0 0 186px,#4f0 0 188px,#3f0 0 192px,#6f0 0 194px,#4f0 0 196px,#5f0 0 198px,#4f0 0 200px,#5f0 0 202px,#6f0 0 204px,#7f0 0 206px,#8f0 0 208px,#7f0 0 210px,#8f0 0 212px,#9f0 0 214px,#7f0 0 216px,#9f0 0 220px,#8f0 0 228px,#7f0 0 230px,#9f0 0 232px,#7f0 0 234px,#af0 0 236px,#8f0 0 238px,#9f0 0 242px,#6f0 0 244px,#0f2 0 246px,#0f5 0 248px,#0f0 0 250px,#1f0 0 252px,#0f0 0 254px,#0f5 0 256px,#0f0 0 258px,#1f0 0 260px,#0f3 0 262px,#0f4 0 264px,#0f3 0 266px,#0f4 0 268px,#0f5 0 270px,#0f4 0 274px,#0f8 0 276px,#0eb 0 278px,#0f4 0 280px,#0f1 0 282px,#0f6 0 284px,#0f7 0 288px,#0f1 0 290px,#0f6 0 292px,#0de 0 294px,#0f5 0 296px,#0dc 0 298px,#0f6 0 300px,#0be 0 302px,#0ce 0 304px,#0be 0 306px,#0af 0 308px,#0be 0 310px,#09f 0 312px,#0e9 0 314px,#0be 0 316px,#0af 0 318px,#0ae 0 320px,#08f 0 322px,#0ea 0 324px,#08f 0 328px,#0dd 0 330px,#0be 0 332px,#0f8 0 334px,#09f 0 338px,#0ae 0 340px,#09f 0 342px,#0eb 0 344px,#0dd 0 346px,#0be 0 348px,#0de 0 352px,#0ae 0 354px,#0ce 0 356px,#0eb 0 358px,#0de 0 360px,#0ce 0 362px,#0dc 0 364px,#0de 0 366px,#0dc 0 368px,#0de 0 370px,#0e9 0 372px,#0eb 0 374px,#0f8 0 378px,#0eb 0 380px,#0f8 0 382px,#0de 0 384px,#0dd 0 386px,#0ea 0 388px,#0dd 0 390px,#0ea 0 392px,#0f7 0 396px,#0eb 0 398px,#0e9 0 400px,#0ea 0 402px,#0f6 0 404px,#0e9 0 406px,#0eb 0 410px,#0dd 0 412px,#0f8 0 414px,#0ea 0 418px,#0f8 0 420px,#0f9 0 422px,#0eb 0 424px,#0f8 0 426px,#0f7 0)"></div><div style="top:11px;height:4px;background:linear-gradient(90deg,#6f0 2px,#0f0 0 4px,#2f0 0 6px,#1f0 0 8px,#0f0 0 10px,#1f0 0 12px,#0f1 0 14px,#0f0 0 16px,#1f0 0 18px,#0f0 0 20px,#1f0 0 22px,#2f0 0 26px,#3f0 0 28px,#1f0 0 30px,#4f0 0 32px,#6f0 0 34px,#7f0 0 36px,#8f0 0 40px,#9f0 0 42px,#8f0 0 44px,#9f0 0 48px,#8f0 0 50px,#7f0 0 52px,#8f0 0 54px,#7f0 0 56px,#8f0 0 58px,#9f0 0 66px,#8f0 0 68px,#9f0 0 70px,#6f0 0 72px,#8f0 0 74px,#9f0 0 78px,#8f0 0 80px,#9f0 0 86px,#8f0 0 88px,#7f0 0 90px,#8f0 0 94px,#9f0 0 96px,#af0 0 98px,#8f0 0 100px,#9f0 0 104px,#af0 0 106px,#9f0 0 108px,#8f0 0 110px,#af0 0 112px,#8f0 0 114px,#9f0 0 118px,#af0 0 120px,#9f0 0 124px,#af0 0 128px,#cf0 0 130px,#df0 0 132px,#ff0 0 134px,#cf0 0 136px,#df0 0 138px,#cf0 0 140px,#df0 0 142px,#cf0 0 144px,#df0 0 146px,#bf0 0 148px,#8f0 0 150px,#9f0 0 152px,#7f0 0 154px,#8f0 0 156px,#9f0 0 158px,#8f0 0 160px,#9f0 0 164px,#7f0 0 166px,#5f0 0 168px,#3f0 0 170px,#6f0 0 172px,#5f0 0 174px,#6f0 0 176px,#3f0 0 178px,#6f0 0 180px,#4f0 0 182px,#5f0 0 190px,#3f0 0 192px,#4f0 0 196px,#6f0 0 198px,#4f0 0 200px,#5f0 0 202px,#7f0 0 204px,#8f0 0 210px,#9f0 0 212px,#7f0 0 214px,#8f0 0 218px,#9f0 0 220px,#7f0 0 222px,#8f0 0 224px,#9f0 0 226px,#8f0 0 230px,#7f0 0 236px,#6f0 0 238px,#9f0 0 242px,#4f0 0 244px,#0f1 0 246px,#0f0 0 250px,#1f0 0 252px,#0f1 0 254px,#0f0 0 256px,#1f0 0 258px,#0f0 0 260px,#0f2 0 262px,#0f3 0 264px,#0f7 0 266px,#0f5 0 268px,#0f3 0 272px,#0f0 0 274px,#0f5 0 276px,#0f4 0 280px,#0f1 0 282px,#0f5 0 284px,#0f0 0 286px,#0f4 0 288px,#0f2 0 290px,#0f3 0 292px,#0f2 0 294px,#0f6 0 296px,#0f3 0 298px,#0f6 0 300px,#0f2 0 302px,#0dd 0 304px,#0f4 0 306px,#0dd 0 308px,#0ce 0 312px,#0de 0 314px,#0be 0 316px,#0e9 0 318px,#08f 0 320px,#0ae 0 322px,#0dd 0 324px,#0de 0 326px,#0ae 0 330px,#0be 0 332px,#09f 0 334px,#0de 0 336px,#08f 0 338px,#07e 0 340px,#05d 0 342px,#0ae 0 344px,#0f9 0 346px,#09f 0 348px,#0ea 0 350px,#0be 0 352px,#07f 0 354px,#0be 0 356px,#0af 0 360px,#0de 0 362px,#0eb 0 364px,#0ce 0 366px,#0dd 0 368px,#0be 0 370px,#0de 0 372px,#0dc 0 374px,#0eb 0 376px,#0ae 0 378px,#0be 0 382px,#0ae 0 384px,#0ce 0 386px,#0be 0 388px,#0ce 0 390px,#0eb 0 392px,#0dd 0 394px,#0be 0 396px,#0dc 0 398px,#0f7 0 400px,#0ce 0 402px,#0f9 0 404px,#0ea 0 406px,#0eb 0 408px,#0de 0 410px,#0e9 0 412px,#0eb 0 414px,#0ea 0 416px,#0f8 0 420px,#0f4 0 422px,#0ea 0 424px,#0f8 0 426px,#0eb 0)"></div><div style="top:15px;height:4px;background:linear-gradient(90deg,#5f0 2px,#0f1 0 4px,#1f0 0 8px,#0f0 0 16px,#3f0 0 18px,#1f0 0 20px,#0f0 0 22px,#3f0 0 26px,#1f0 0 28px,#4f0 0 30px,#5f0 0 32px,#6f0 0 34px,#7f0 0 38px,#8f0 0 40px,#9f0 0 42px,#7f0 0 44px,#8f0 0 46px,#9f0 0 48px,#8f0 0 50px,#9f0 0 52px,#af0 0 54px,#8f0 0 56px,#7f0 0 58px,#9f0 0 60px,#7f0 0 62px,#9f0 0 70px,#8f0 0 72px,#9f0 0 74px,#8f0 0 76px,#9f0 0 78px,#7f0 0 82px,#8f0 0 84px,#9f0 0 96px,#8f0 0 100px,#af0 0 104px,#9f0 0 108px,#7f0 0 110px,#af0 0 112px,#8f0 0 114px,#9f0 0 116px,#af0 0 118px,#9f0 0 120px,#af0 0 122px,#bf0 0 124px,#9f0 0 126px,#cf0 0 128px,#df0 0 132px,#ff0 0 134px,#bf0 0 136px,#cf0 0 138px,#df0 0 142px,#cf0 0 144px,#ef0 0 146px,#cf0 0 148px,#9f0 0 154px,#8f0 0 162px,#9f0 0 164px,#7f0 0 166px,#5f0 0 170px,#6f0 0 172px,#3f0 0 176px,#2f0 0 178px,#6f0 0 180px,#5f0 0 182px,#4f0 0 184px,#6f0 0 186px,#5f0 0 188px,#4f0 0 196px,#5f0 0 198px,#4f0 0 202px,#7f0 0 206px,#8f0 0 210px,#9f0 0 212px,#7f0 0 214px,#8f0 0 216px,#af0 0 218px,#9f0 0 220px,#6f0 0 222px,#af0 0 224px,#8f0 0 226px,#6f0 0 228px,#8f0 0 230px,#af0 0 232px,#8f0 0 240px,#9f0 0 242px,#6f0 0 244px,#0f1 0 246px,#0f4 0 248px,#1f0 0 250px,#0f0 0 252px,#0f5 0 254px,#0f0 0 256px,#1f0 0 260px,#0f4 0 262px,#0f0 0 264px,#0f4 0 266px,#0f0 0 272px,#1f0 0 274px,#0f0 0 276px,#0f3 0 278px,#0f6 0 280px,#1f0 0 282px,#0f0 0 284px,#0f3 0 288px,#0f4 0 290px,#0f3 0 292px,#0f7 0 294px,#0f5 0 296px,#0f4 0 298px,#0f8 0 300px,#0f3 0 302px,#0f6 0 304px,#0e9 0 306px,#0f7 0 308px,#0dd 0 310px,#0f5 0 312px,#0dd 0 316px,#0f7 0 318px,#0de 0 320px,#0f7 0 322px,#0dc 0 324px,#0de 0 326px,#0ae 0 328px,#0f8 0 330px,#08f 0 332px,#0ae 0 334px,#0dd 0 336px,#08f 0 338px,#06e 0 340px,#08f 0 342px,#0be 0 344px,#0f8 0 346px,#0de 0 350px,#0f8 0 352px,#0be 0 354px,#09f 0 356px,#0ae 0 358px,#08f 0 360px,#0be 0 362px,#0de 0 364px,#0eb 0 366px,#0be 0 368px,#0af 0 370px,#0ae 0 372px,#0ec 0 374px,#07e 0 376px,#0be 0 378px,#0f6 0 380px,#07f 0 384px,#0de 0 386px,#0be 0 388px,#0dd 0 390px,#0de 0 392px,#0ce 0 394px,#08f 0 396px,#0e9 0 398px,#08f 0 400px,#0ce 0 402px,#0eb 0 404px,#0ea 0 406px,#0ec 0 408px,#0f8 0 410px,#0dd 0 412px,#0be 0 414px,#0f8 0 416px,#0dc 0 418px,#0e9 0 420px,#0ea 0 422px,#0ce 0)"></div><div style="top:19px;height:4px;background:linear-gradient(90deg,#5f0 2px,#0f2 0 4px,#1f0 0 8px,#0f2 0 10px,#0f1 0 12px,#1f0 0 14px,#0f1 0 16px,#2f0 0 20px,#3f0 0 22px,#0f0 0 24px,#2f0 0 30px,#5f0 0 32px,#7f0 0 34px,#8f0 0 38px,#7f0 0 40px,#af0 0 42px,#7f0 0 44px,#8f0 0 46px,#9f0 0 48px,#8f0 0 50px,#9f0 0 52px,#8f0 0 54px,#9f0 0 56px,#8f0 0 58px,#9f0 0 60px,#8f0 0 62px,#af0 0 64px,#9f0 0 66px,#8f0 0 68px,#9f0 0 70px,#8f0 0 74px,#9f0 0 76px,#8f0 0 78px,#9f0 0 80px,#8f0 0 82px,#7f0 0 84px,#8f0 0 90px,#9f0 0 94px,#8f0 0 98px,#9f0 0 100px,#7f0 0 102px,#8f0 0 104px,#9f0 0 108px,#8f0 0 110px,#af0 0 112px,#8f0 0 114px,#9f0 0 120px,#af0 0 122px,#bf0 0 124px,#af0 0 126px,#9f0 0 128px,#bf0 0 130px,#ef0 0 134px,#bf0 0 140px,#ef0 0 142px,#cf0 0 146px,#af0 0 148px,#9f0 0 152px,#8f0 0 156px,#9f0 0 160px,#af0 0 162px,#8f0 0 166px,#4f0 0 168px,#5f0 0 170px,#6f0 0 172px,#4f0 0 174px,#5f0 0 176px,#3f0 0 178px,#5f0 0 180px,#4f0 0 184px,#5f0 0 186px,#4f0 0 188px,#5f0 0 190px,#3f0 0 192px,#5f0 0 194px,#4f0 0 198px,#3f0 0 200px,#6f0 0 204px,#8f0 0 206px,#7f0 0 208px,#8f0 0 210px,#7f0 0 214px,#8f0 0 216px,#9f0 0 220px,#6f0 0 222px,#7f0 0 228px,#9f0 0 232px,#8f0 0 236px,#6f0 0 238px,#8f0 0 240px,#9f0 0 242px,#6f0 0 244px,#0f1 0 248px,#0f0 0 254px,#0f2 0 256px,#1f0 0 260px,#0f5 0 262px,#0f3 0 264px,#0f0 0 266px,#0f2 0 268px,#0f4 0 270px,#0f0 0 274px,#0f2 0 276px,#0f4 0 280px,#0f1 0 282px,#0f2 0 284px,#0f4 0 286px,#0f8 0 288px,#0f4 0 290px,#0f3 0 292px,#0f4 0 294px,#0f7 0 296px,#0f0 0 298px,#0f3 0 302px,#0f2 0 304px,#0f6 0 306px,#0f5 0 308px,#0f7 0 310px,#0f5 0 312px,#0e9 0 314px,#0f7 0 316px,#0f8 0 318px,#0ea 0 320px,#0eb 0 322px,#0f5 0 324px,#0eb 0 326px,#0f8 0 328px,#0dd 0 330px,#0e9 0 332px,#0f7 0 334px,#0f8 0 336px,#0de 0 338px,#0be 0 340px,#0dc 0 342px,#0ce 0 344px,#0f7 0 346px,#0be 0 348px,#0ce 0 350px,#0be 0 352px,#0ea 0 354px,#0ae 0 356px,#0ce 0 358px,#0af 0 360px,#07f 0 362px,#0ce 0 364px,#0af 0 366px,#0ce 0 368px,#0ea 0 370px,#0f5 0 372px,#0eb 0 376px,#06e 0 378px,#0ae 0 380px,#07e 0 382px,#04c 0 384px,#06e 0 386px,#0de 0 388px,#07e 0 390px,#07f 0 392px,#07e 0 394px,#08f 0 396px,#05d 0 398px,#0eb 0 402px,#0ae 0 404px,#09f 0 406px,#06e 0 408px,#0ea 0 410px,#0ae 0 412px,#0ce 0 414px,#0f6 0 416px,#09f 0 418px,#06d 0 420px,#07e 0 422px,#0f8 0 424px,#0be 0 426px,#08f 0)"></div><div style="top:23px;height:4px;background:linear-gradient(90deg,#5f0 2px,#0f3 0 4px,#0f0 0 6px,#1f0 0 8px,#0f0 0 10px,#1f0 0 14px,#0f0 0 16px,#2f0 0 18px,#0f1 0 20px,#3f0 0 22px,#1f0 0 24px,#3f0 0 26px,#4f0 0 28px,#2f0 0 30px,#4f0 0 32px,#6f0 0 34px,#7f0 0 38px,#8f0 0 40px,#9f0 0 46px,#8f0 0 48px,#7f0 0 50px,#af0 0 52px,#9f0 0 54px,#8f0 0 56px,#7f0 0 58px,#9f0 0 60px,#af0 0 62px,#7f0 0 64px,#9f0 0 68px,#7f0 0 72px,#8f0 0 74px,#9f0 0 76px,#8f0 0 86px,#9f0 0 88px,#8f0 0 90px,#af0 0 92px,#8f0 0 94px,#7f0 0 96px,#9f0 0 104px,#af0 0 106px,#8f0 0 108px,#7f0 0 110px,#9f0 0 116px,#cf0 0 118px,#8f0 0 120px,#af0 0 126px,#bf0 0 130px,#ef0 0 132px,#ff0 0 134px,#cf0 0 138px,#df0 0 140px,#ef0 0 142px,#bf0 0 144px,#cf0 0 146px,#bf0 0 148px,#9f0 0 156px,#8f0 0 160px,#9f0 0 162px,#8f0 0 164px,#6f0 0 166px,#4f0 0 172px,#3f0 0 174px,#6f0 0 176px,#4f0 0 178px,#6f0 0 180px,#4f0 0 184px,#5f0 0 190px,#3f0 0 192px,#5f0 0 194px,#4f0 0 196px,#5f0 0 198px,#3f0 0 200px,#5f0 0 202px,#6f0 0 204px,#7f0 0 206px,#9f0 0 210px,#8f0 0 212px,#7f0 0 214px,#8f0 0 216px,#af0 0 218px,#8f0 0 220px,#7f0 0 224px,#9f0 0 226px,#7f0 0 230px,#9f0 0 232px,#7f0 0 234px,#9f0 0 236px,#7f0 0 238px,#8f0 0 242px,#6f0 0 244px,#0f4 0 246px,#0f0 0 248px,#2f0 0 250px,#0f1 0 252px,#1f0 0 254px,#0f0 0 258px,#0f2 0 260px,#0f1 0 262px,#0f3 0 264px,#0f4 0 266px,#0f1 0 272px,#0f2 0 274px,#0f1 0 278px,#0f3 0 280px,#0f1 0 282px,#0f3 0 284px,#0f1 0 286px,#0f4 0 288px,#0f2 0 292px,#0f3 0 294px,#0f0 0 296px,#0f3 0 298px,#0f7 0 300px,#0f4 0 302px,#0f5 0 306px,#0f8 0 308px,#0f6 0 310px,#0f4 0 312px,#0f7 0 314px,#0f6 0 318px,#0f8 0 320px,#0ea 0 322px,#0f5 0 324px,#0ea 0 326px,#0f5 0 328px,#0f7 0 332px,#0e9 0 336px,#0f8 0 338px,#0ea 0 342px,#0ec 0 344px,#0e9 0 346px,#0f6 0 348px,#0dc 0 350px,#0ea 0 352px,#0dd 0 354px,#0eb 0 356px,#0e9 0 358px,#0dc 0 360px,#0e9 0 362px,#0eb 0 364px,#0dd 0 366px,#0dc 0 368px,#0ce 0 370px,#0de 0 372px,#0ce 0 374px,#0dd 0 376px,#0ce 0 378px,#0e9 0 380px,#0dd 0 382px,#0ce 0 384px,#0de 0 386px,#0eb 0 388px,#0f6 0 390px,#0e9 0 392px,#0be 0 396px,#0ae 0 398px,#0ce 0 400px,#07e 0 402px,#0ce 0 404px,#0ae 0 406px,#08f 0 408px,#07f 0 410px,#0de 0 412px,#08f 0 414px,#0eb 0 416px,#06e 0 418px,#05d 0 420px,#06d 0 422px,#07f 0 424px,#06e 0 426px,#0be 0)"></div><div style="top:27px;height:4px;background:linear-gradient(90deg,#5f0 2px,#1f0 0 6px,#2f0 0 8px,#0f0 0 10px,#1f0 0 12px,#0f0 0 14px,#0f2 0 16px,#1f0 0 18px,#2f0 0 20px,#3f0 0 24px,#2f0 0 28px,#1f0 0 30px,#3f0 0 32px,#7f0 0 40px,#8f0 0 46px,#9f0 0 48px,#8f0 0 50px,#9f0 0 52px,#af0 0 54px,#9f0 0 56px,#8f0 0 60px,#9f0 0 64px,#af0 0 66px,#8f0 0 68px,#7f0 0 70px,#8f0 0 74px,#9f0 0 76px,#8f0 0 88px,#9f0 0 90px,#af0 0 92px,#7f0 0 94px,#9f0 0 98px,#af0 0 100px,#9f0 0 102px,#af0 0 104px,#9f0 0 106px,#af0 0 108px,#8f0 0 110px,#af0 0 112px,#9f0 0 114px,#8f0 0 116px,#af0 0 124px,#9f0 0 126px,#af0 0 128px,#cf0 0 132px,#df0 0 134px,#af0 0 136px,#cf0 0 138px,#df0 0 142px,#cf0 0 144px,#df0 0 146px,#bf0 0 148px,#9f0 0 152px,#af0 0 154px,#9f0 0 156px,#8f0 0 160px,#9f0 0 166px,#5f0 0 176px,#4f0 0 178px,#5f0 0 180px,#2f0 0 182px,#5f0 0 184px,#4f0 0 186px,#5f0 0 190px,#4f0 0 196px,#5f0 0 198px,#4f0 0 202px,#7f0 0 204px,#9f0 0 208px,#8f0 0 210px,#9f0 0 214px,#6f0 0 216px,#8f0 0 218px,#7f0 0 222px,#9f0 0 224px,#8f0 0 228px,#9f0 0 230px,#8f0 0 238px,#9f0 0 240px,#8f0 0 242px,#6f0 0 244px,#0f1 0 248px,#1f0 0 250px,#0f0 0 252px,#0f1 0 254px,#1f0 0 256px,#0f2 0 258px,#0f0 0 260px,#0f1 0 262px,#0f2 0 264px,#0f6 0 266px,#0f0 0 268px,#0f1 0 270px,#0f2 0 272px,#0f4 0 274px,#0f1 0 276px,#0f4 0 278px,#0f3 0 280px,#0f4 0 282px,#0f0 0 284px,#0f3 0 286px,#0f4 0 288px,#0f2 0 290px,#0f7 0 292px,#0f5 0 294px,#0f4 0 296px,#0f0 0 298px,#0f8 0 300px,#0f2 0 302px,#0f5 0 304px,#0f3 0 306px,#0f5 0 308px,#0f7 0 310px,#0f6 0 312px,#0f4 0 314px,#0f7 0 316px,#0f5 0 320px,#0ec 0 322px,#0f6 0 324px,#0eb 0 326px,#0f7 0 328px,#0f6 0 330px,#0de 0 332px,#0f8 0 334px,#0f5 0 336px,#0f7 0 338px,#0eb 0 340px,#0f7 0 342px,#0f6 0 344px,#0f4 0 346px,#0f8 0 348px,#0f7 0 350px,#0f3 0 352px,#0ea 0 354px,#0f4 0 356px,#0ea 0 358px,#0f9 0 360px,#0ea 0 362px,#0e9 0 364px,#0f8 0 368px,#0e9 0 370px,#0f8 0 372px,#0e9 0 374px,#0ea 0 376px,#0f8 0 378px,#0ea 0 380px,#0de 0 384px,#0e9 0 386px,#0f5 0 388px,#0dc 0 390px,#0de 0 392px,#0f6 0 394px,#0ce 0 396px,#0dd 0 398px,#0be 0 400px,#0dd 0 402px,#0be 0 404px,#0f8 0 406px,#0ae 0 408px,#0de 0 412px,#0be 0 416px,#0de 0 418px,#0be 0 420px,#0de 0 422px,#0dc 0 424px,#09f 0 426px,#0ce 0)"></div><div style="top:31px;height:4px;background:linear-gradient(90deg,#5f0 2px,#0f1 0 4px,#3f0 0 6px,#2f0 0 8px,#1f0 0 10px,#0f0 0 12px,#0f3 0 14px,#0f0 0 16px,#2f0 0 18px,#0f0 0 20px,#2f0 0 26px,#3f0 0 30px,#4f0 0 32px,#7f0 0 36px,#8f0 0 40px,#9f0 0 46px,#7f0 0 48px,#8f0 0 52px,#9f0 0 54px,#8f0 0 56px,#7f0 0 58px,#af0 0 60px,#8f0 0 64px,#9f0 0 66px,#8f0 0 68px,#7f0 0 70px,#6f0 0 72px,#8f0 0 74px,#9f0 0 78px,#7f0 0 80px,#af0 0 82px,#9f0 0 86px,#8f0 0 88px,#9f0 0 96px,#8f0 0 100px,#9f0 0 102px,#af0 0 104px,#8f0 0 106px,#9f0 0 108px,#8f0 0 110px,#9f0 0 112px,#8f0 0 114px,#af0 0 116px,#bf0 0 118px,#af0 0 122px,#bf0 0 124px,#9f0 0 126px,#bf0 0 130px,#df0 0 132px,#ff0 0 134px,#bf0 0 136px,#cf0 0 138px,#df0 0 142px,#cf0 0 146px,#bf0 0 148px,#8f0 0 150px,#9f0 0 156px,#7f0 0 158px,#8f0 0 160px,#9f0 0 164px,#7f0 0 166px,#4f0 0 170px,#7f0 0 172px,#5f0 0 174px,#6f0 0 176px,#3f0 0 178px,#4f0 0 184px,#5f0 0 186px,#4f0 0 196px,#6f0 0 198px,#4f0 0 200px,#5f0 0 202px,#6f0 0 204px,#8f0 0 206px,#7f0 0 208px,#9f0 0 210px,#7f0 0 212px,#8f0 0 214px,#7f0 0 216px,#8f0 0 218px,#9f0 0 220px,#8f0 0 224px,#9f0 0 226px,#8f0 0 230px,#9f0 0 232px,#7f0 0 234px,#9f0 0 236px,#8f0 0 238px,#7f0 0 240px,#9f0 0 242px,#7f0 0 244px,#1f0 0 246px,#0f1 0 248px,#1f0 0 252px,#0f3 0 254px,#0f0 0 256px,#0f2 0 258px,#1f0 0 260px,#0f2 0 262px,#1f0 0 264px,#0f5 0 266px,#0f1 0 268px,#0f4 0 270px,#1f0 0 274px,#0f5 0 276px,#0f6 0 278px,#0f2 0 280px,#0f3 0 284px,#0f4 0 288px,#0f0 0 290px,#0f2 0 292px,#0f3 0 294px,#0f4 0 296px,#0f3 0 298px,#0f5 0 300px,#0f4 0 302px,#0f6 0 304px,#0f3 0 306px,#0f6 0 308px,#0f2 0 310px,#0f4 0 314px,#0f8 0 316px,#0f3 0 318px,#0f6 0 322px,#0f4 0 324px,#0ea 0 326px,#0f5 0 328px,#0f7 0 334px,#0f8 0 338px,#0eb 0 342px,#0f6 0 344px,#0f3 0 346px,#0f7 0 348px,#0ea 0 350px,#0f4 0 352px,#0f7 0 354px,#0ea 0 356px,#0f6 0 360px,#0e9 0 362px,#0f9 0 364px,#0f8 0 368px,#0f6 0 374px,#0f7 0 376px,#0ea 0 378px,#0f7 0 382px,#0eb 0 384px,#0f8 0 386px,#0f6 0 388px,#0e9 0 390px,#0f7 0 392px,#0e9 0 394px,#0f8 0 396px,#0f7 0 400px,#0e9 0 402px,#0f3 0 404px,#0eb 0 406px,#0f8 0 408px,#0dd 0 410px,#0e9 0 412px,#0dd 0 414px,#0ce 0 418px,#0e9 0 420px,#0eb 0 422px,#0dd 0 424px,#0ce 0 426px,#0f8 0)"></div><div style="top:35px;height:4px;background:linear-gradient(90deg,#4f0 2px,#0f0 0 4px,#2f0 0 6px,#1f0 0 8px,#0f0 0 10px,#1f0 0 14px,#0f1 0 16px,#1f0 0 20px,#3f0 0 22px,#0f0 0 24px,#1f0 0 26px,#2f0 0 28px,#4f0 0 30px,#3f0 0 32px,#7f0 0 36px,#8f0 0 38px,#9f0 0 40px,#8f0 0 44px,#9f0 0 46px,#8f0 0 48px,#9f0 0 56px,#6f0 0 58px,#9f0 0 60px,#7f0 0 62px,#8f0 0 64px,#9f0 0 66px,#8f0 0 68px,#7f0 0 70px,#8f0 0 74px,#9f0 0 76px,#af0 0 80px,#9f0 0 82px,#8f0 0 84px,#9f0 0 86px,#8f0 0 90px,#9f0 0 92px,#8f0 0 96px,#9f0 0 98px,#af0 0 100px,#9f0 0 102px,#af0 0 104px,#9f0 0 106px,#af0 0 108px,#9f0 0 110px,#af0 0 112px,#9f0 0 114px,#af0 0 120px,#9f0 0 122px,#af0 0 124px,#bf0 0 130px,#df0 0 132px,#ef0 0 134px,#bf0 0 136px,#cf0 0 140px,#ef0 0 142px,#cf0 0 146px,#bf0 0 148px,#8f0 0 150px,#9f0 0 152px,#af0 0 154px,#8f0 0 156px,#9f0 0 158px,#8f0 0 160px,#af0 0 162px,#9f0 0 164px,#7f0 0 166px,#4f0 0 168px,#3f0 0 170px,#5f0 0 172px,#4f0 0 174px,#5f0 0 176px,#4f0 0 180px,#5f0 0 186px,#4f0 0 188px,#5f0 0 190px,#4f0 0 192px,#6f0 0 194px,#4f0 0 196px,#5f0 0 198px,#3f0 0 200px,#5f0 0 204px,#8f0 0 206px,#9f0 0 208px,#8f0 0 210px,#9f0 0 212px,#8f0 0 214px,#9f0 0 218px,#8f0 0 220px,#6f0 0 222px,#af0 0 224px,#7f0 0 226px,#8f0 0 234px,#9f0 0 236px,#6f0 0 238px,#8f0 0 242px,#5f0 0 244px,#0f1 0 246px,#0f5 0 248px,#1f0 0 250px,#2f0 0 252px,#0f1 0 254px,#0f0 0 256px,#0f1 0 258px,#0f0 0 260px,#0f3 0 262px,#0f0 0 264px,#0f3 0 266px,#0f0 0 268px,#0f3 0 270px,#0f0 0 272px,#1f0 0 274px,#0f4 0 280px,#0f1 0 282px,#0f5 0 284px,#0f3 0 286px,#0f0 0 288px,#0f1 0 290px,#0f3 0 292px,#0f4 0 294px,#0f2 0 296px,#0f8 0 298px,#0f4 0 300px,#0f1 0 302px,#0f8 0 304px,#0f6 0 306px,#0f5 0 308px,#0f1 0 310px,#0f3 0 312px,#0e9 0 314px,#0f0 0 316px,#0f6 0 320px,#0f8 0 322px,#0f7 0 324px,#0f6 0 326px,#0e9 0 328px,#0f7 0 330px,#0f4 0 332px,#0f7 0 334px,#0f6 0 336px,#0f7 0 338px,#0e9 0 340px,#0f7 0 342px,#0f5 0 344px,#0f3 0 346px,#0e9 0 348px,#0f8 0 352px,#0f6 0 356px,#0f9 0 358px,#0f5 0 360px,#0eb 0 362px,#0f9 0 364px,#0f7 0 366px,#0f5 0 368px,#0f8 0 370px,#0f7 0 372px,#0e9 0 374px,#0f6 0 376px,#0eb 0 378px,#0f4 0 380px,#0f5 0 382px,#0e9 0 384px,#0ea 0 386px,#0f4 0 390px,#0f6 0 392px,#0f5 0 394px,#0ea 0 396px,#0e9 0 398px,#0f7 0 400px,#0e9 0 402px,#0f7 0 404px,#0f4 0 406px,#0f8 0 408px,#0f7 0 410px,#0ea 0 412px,#0f8 0 414px,#0f7 0 416px,#0e9 0 418px,#0f6 0 420px,#0f9 0 422px,#0e9 0 424px,#0ea 0)"></div><div style="top:39px;height:4px;background:linear-gradient(90deg,#5f0 2px,#0f3 0 4px,#2f0 0 6px,#1f0 0 10px,#0f0 0 12px,#1f0 0 16px,#2f0 0 18px,#1f0 0 22px,#2f0 0 26px,#1f0 0 28px,#2f0 0 30px,#5f0 0 32px,#6f0 0 34px,#8f0 0 40px,#9f0 0 42px,#8f0 0 44px,#9f0 0 46px,#8f0 0 58px,#9f0 0 60px,#7f0 0 62px,#8f0 0 64px,#9f0 0 68px,#7f0 0 72px,#8f0 0 74px,#9f0 0 78px,#7f0 0 80px,#8f0 0 82px,#9f0 0 84px,#af0 0 86px,#9f0 0 88px,#af0 0 92px,#7f0 0 94px,#9f0 0 96px,#8f0 0 100px,#9f0 0 102px,#af0 0 104px,#8f0 0 106px,#7f0 0 108px,#8f0 0 110px,#af0 0 112px,#9f0 0 116px,#af0 0 118px,#9f0 0 120px,#af0 0 122px,#bf0 0 130px,#df0 0 132px,#ff0 0 134px,#bf0 0 136px,#df0 0 138px,#cf0 0 140px,#ef0 0 142px,#bf0 0 144px,#df0 0 146px,#bf0 0 148px,#8f0 0 150px,#7f0 0 152px,#af0 0 154px,#9f0 0 164px,#7f0 0 166px,#5f0 0 168px,#3f0 0 170px,#5f0 0 174px,#3f0 0 176px,#5f0 0 184px,#6f0 0 186px,#3f0 0 188px,#4f0 0 190px,#3f0 0 192px,#5f0 0 194px,#4f0 0 196px,#6f0 0 198px,#3f0 0 200px,#7f0 0 206px,#af0 0 208px,#8f0 0 212px,#9f0 0 216px,#8f0 0 218px,#9f0 0 220px,#7f0 0 222px,#8f0 0 224px,#9f0 0 226px,#8f0 0 228px,#af0 0 230px,#9f0 0 232px,#6f0 0 234px,#8f0 0 240px,#9f0 0 242px,#4f0 0 244px,#0f0 0 246px,#0f6 0 248px,#0f0 0 254px,#0f3 0 256px,#0f1 0 258px,#1f0 0 260px,#0f5 0 262px,#0f4 0 264px,#0f3 0 266px,#0f2 0 268px,#0f3 0 270px,#1f0 0 272px,#0f0 0 274px,#0f2 0 276px,#0f1 0 278px,#0f3 0 282px,#0f0 0 284px,#0f2 0 286px,#0f4 0 290px,#0f6 0 292px,#0f5 0 294px,#0f4 0 296px,#0f2 0 298px,#0f4 0 300px,#0f3 0 302px,#0f5 0 304px,#0f2 0 306px,#0f5 0 308px,#0f3 0 310px,#0f7 0 312px,#0f9 0 314px,#0f7 0 316px,#0f8 0 318px,#0f3 0 320px,#0f4 0 324px,#0f7 0 326px,#0f8 0 328px,#0f5 0 330px,#0f7 0 332px,#0f6 0 334px,#0f8 0 336px,#0e9 0 338px,#0eb 0 340px,#0f7 0 342px,#0f6 0 344px,#0f7 0 346px,#0e9 0 348px,#0f9 0 350px,#0f5 0 352px,#0f8 0 354px,#0f7 0 356px,#0f5 0 360px,#0f4 0 362px,#0f6 0 364px,#0ea 0 366px,#0f9 0 368px,#0f8 0 370px,#0f5 0 372px,#0e9 0 374px,#0f5 0 376px,#0f7 0 378px,#0f3 0 380px,#0f7 0 382px,#0ea 0 384px,#0f7 0 386px,#0f9 0 388px,#0e9 0 390px,#0f3 0 392px,#0f7 0 396px,#0f4 0 398px,#0f7 0 400px,#0e9 0 402px,#0f4 0 406px,#0f7 0 408px,#0e9 0 410px,#0f9 0 412px,#0f6 0 414px,#0eb 0 416px,#0ea 0 418px,#0e9 0 420px,#0f7 0 422px,#0e9 0 424px,#0f7 0 426px,#0f4 0)"></div><div style="top:43px;height:10px;background:linear-gradient(90deg,#ff0 2px,#df0 0 4px,#ef0 0 18px,#cf0 0 20px,#df0 0 22px,#cf0 0 26px,#bf0 0 28px,#cf0 0 30px,#bf0 0 32px,#cf0 0 34px,#bf0 0 38px,#cf0 0 40px,#df0 0 42px,#bf0 0 44px,#df0 0 48px,#bf0 0 50px,#cf0 0 54px,#df0 0 56px,#bf0 0 60px,#df0 0 62px,#cf0 0 64px,#ef0 0 66px,#cf0 0 70px,#bf0 0 72px,#cf0 0 74px,#df0 0 76px,#cf0 0 78px,#bf0 0 80px,#cf0 0 84px,#df0 0 86px,#cf0 0 90px,#df0 0 92px,#cf0 0 94px,#df0 0 96px,#cf0 0 102px,#df0 0 104px,#ff0 0 106px,#ef0 0 108px,#df0 0 110px,#ff0 0 112px,#df0 0 114px,#ff0 0 118px,#fe0 0 120px,#ff0 0 128px,#fe0 0 130px,#ff0 0 132px,#fd0 0 134px,#ff0 0 138px,#ef0 0 140px,#ff0 0 144px,#fd0 0 146px,#fe0 0 148px,#fd0 0 150px,#fe0 0 154px,#ff0 0 164px,#fe0 0 166px,#ff0 0 168px,#df0 0 170px,#fe0 0 172px,#ff0 0 176px,#ef0 0 178px,#ff0 0 182px,#ef0 0 184px,#ff0 0 190px,#df0 0 192px,#ff0 0 196px,#fe0 0 198px,#ef0 0 200px,#fe0 0 202px,#ef0 0 206px,#ff0 0 210px,#df0 0 214px,#ef0 0 216px,#ff0 0 220px,#9f0 0 222px,#af0 0 224px,#bf0 0 226px,#9f0 0 228px,#bf0 0 232px,#8f0 0 234px,#af0 0 236px,#9f0 0 240px,#af0 0 242px,#6f0 0 244px,#5f0 0 246px,#3f0 0 248px,#4f0 0 250px,#6f0 0 252px,#4f0 0 256px,#5f0 0 260px,#3f0 0 262px,#4f0 0 264px,#3f0 0 268px,#4f0 0 270px,#5f0 0 274px,#3f0 0 276px,#2f0 0 278px,#3f0 0 282px,#5f0 0 284px,#3f0 0 286px,#4f0 0 290px,#3f0 0 298px,#2f0 0 300px,#4f0 0 302px,#3f0 0 304px,#2f0 0 308px,#3f0 0 314px,#2f0 0 316px,#4f0 0 318px,#2f0 0 324px,#1f0 0 326px,#2f0 0 332px,#1f0 0 334px,#3f0 0 338px,#1f0 0 342px,#2f0 0 344px,#4f0 0 346px,#0f0 0 348px,#1f0 0 352px,#2f0 0 356px,#1f0 0 358px,#3f0 0 360px,#1f0 0 362px,#0f0 0 364px,#1f0 0 366px,#2f0 0 368px,#1f0 0 372px,#0f0 0 374px,#2f0 0 378px,#0f0 0 380px,#1f0 0 382px,#0f1 0 384px,#1f0 0 386px,#2f0 0 388px,#0f0 0 390px,#3f0 0 392px,#2f0 0 394px,#0f0 0 396px,#1f0 0 398px,#2f0 0 400px,#0f0 0 402px,#4f0 0 404px,#1f0 0 406px,#2f0 0 408px,#0f1 0 410px,#1f0 0 418px,#2f0 0 420px,#1f0 0 422px,#0f0 0 424px,#0f1 0 426px,#2f0 0)"></div><div style="top:53px;height:3px;background:linear-gradient(90deg,#f50 2px,#fd0 0 4px,#fc0 0 6px,#fa0 0 8px,#fd0 0 10px,#fb0 0 12px,#fa0 0 14px,#f10 0 20px,#fc0 0 22px,#fe0 0 24px,#fd0 0 26px,#fc0 0 30px,#f90 0 32px,#fc0 0 34px,#df0 0 36px,#ff0 0 38px,#fe0 0 42px,#fc0 0 44px,#ff0 0 48px,#fe0 0 50px,#ff0 0 52px,#fd0 0 54px,#fe0 0 58px,#ff0 0 60px,#fe0 0 66px,#ff0 0 68px,#fe0 0 70px,#af0 0 72px,#fd0 0 74px,#fe0 0 76px,#fd0 0 82px,#fe0 0 84px,#fc0 0 86px,#ff0 0 92px,#fe0 0 94px,#ef0 0 96px,#fe0 0 98px,#ff0 0 100px,#df0 0 102px,#ef0 0 106px,#ff0 0 110px,#fe0 0 112px,#ff0 0 116px,#fe0 0 120px,#ff0 0 122px,#fe0 0 124px,#ff0 0 126px,#bf0 0 128px,#ff0 0 130px,#df0 0 132px,#ff0 0 134px,#df0 0 136px,#cf0 0 138px,#df0 0 140px,#ef0 0 142px,#ff0 0 144px,#df0 0 146px,#f70 0 148px,#fa0 0 162px,#f90 0 164px,#f80 0 166px,#f70 0 168px,#fa0 0 170px,#f60 0 172px,#f90 0 176px,#f80 0 178px,#f90 0 180px,#f80 0 184px,#f70 0 186px,#fa0 0 188px,#f90 0 194px,#f80 0 198px,#fb0 0 200px,#fe0 0 202px,#fd0 0 206px,#fe0 0 210px,#cf0 0 212px,#ff0 0 214px,#cf0 0 216px,#ff0 0 218px,#fe0 0 220px,#bf0 0 222px,#df0 0 224px,#ff0 0 226px,#bf0 0 228px,#ef0 0 232px,#df0 0 234px,#ff0 0 236px,#cf0 0 238px,#ef0 0 240px,#ff0 0 242px,#9f0 0 244px,#4f0 0 248px,#6f0 0 250px,#5f0 0 252px,#6f0 0 254px,#4f0 0 256px,#6f0 0 258px,#5f0 0 260px,#4f0 0 262px,#5f0 0 264px,#4f0 0 266px,#5f0 0 268px,#3f0 0 270px,#4f0 0 272px,#5f0 0 274px,#4f0 0 278px,#5f0 0 286px,#3f0 0 288px,#4f0 0 290px,#5f0 0 292px,#4f0 0 306px,#3f0 0 308px,#4f0 0 312px,#3f0 0 314px,#5f0 0 316px,#2f0 0 318px,#3f0 0 320px,#4f0 0 322px,#3f0 0 324px,#2f0 0 326px,#3f0 0 328px,#4f0 0 330px,#3f0 0 332px,#2f0 0 334px,#3f0 0 338px,#2f0 0 340px,#1f0 0 342px,#3f0 0 344px,#5f0 0 346px,#3f0 0 348px,#1f0 0 350px,#3f0 0 352px,#2f0 0 354px,#3f0 0 356px,#2f0 0 358px,#0f0 0 360px,#2f0 0 366px,#1f0 0 368px,#2f0 0 370px,#3f0 0 372px,#1f0 0 374px,#2f0 0 376px,#0f0 0 378px,#2f0 0 380px,#3f0 0 382px,#1f0 0 384px,#2f0 0 388px,#1f0 0 390px,#3f0 0 392px,#2f0 0 396px,#1f0 0 398px,#0f0 0 400px,#1f0 0 402px,#2f0 0 406px,#1f0 0 408px,#0f0 0 412px,#0f1 0 414px,#3f0 0 416px,#0f0 0 420px,#2f0 0 422px,#0f1 0 424px,#0f0 0)"></div><div style="top:56px;height:3px;background:linear-gradient(90deg,#f50 2px,#fc0 0 6px,#fa0 0 8px,#fd0 0 10px,#fb0 0 12px,#f90 0 14px,#f00 0 16px,#f10 0 18px,#f20 0 20px,#f00 0 22px,#fd0 0 24px,#fc0 0 26px,#fb0 0 28px,#fc0 0 30px,#f80 0 32px,#fd0 0 34px,#ef0 0 36px,#ff0 0 38px,#fe0 0 40px,#fd0 0 42px,#fb0 0 44px,#fe0 0 52px,#fc0 0 54px,#fd0 0 56px,#fe0 0 58px,#ff0 0 60px,#fd0 0 64px,#fc0 0 66px,#fe0 0 68px,#fc0 0 70px,#bf0 0 72px,#fc0 0 74px,#ff0 0 76px,#fc0 0 82px,#fd0 0 84px,#fb0 0 86px,#fe0 0 88px,#ff0 0 90px,#fe0 0 92px,#fd0 0 94px,#ef0 0 96px,#fd0 0 98px,#fe0 0 100px,#ff0 0 106px,#ef0 0 108px,#fe0 0 110px,#fd0 0 114px,#ff0 0 116px,#fd0 0 118px,#fe0 0 122px,#fd0 0 124px,#fe0 0 126px,#cf0 0 128px,#fe0 0 130px,#df0 0 134px,#cf0 0 138px,#df0 0 140px,#ff0 0 142px,#fe0 0 144px,#ff0 0 146px,#f60 0 148px,#f90 0 150px,#fa0 0 154px,#f90 0 158px,#fa0 0 160px,#f90 0 162px,#f80 0 164px,#f70 0 166px,#f50 0 168px,#f90 0 170px,#f40 0 172px,#f70 0 174px,#f80 0 178px,#f70 0 180px,#f60 0 182px,#f80 0 184px,#f60 0 186px,#f90 0 188px,#f70 0 190px,#f80 0 192px,#f70 0 194px,#f60 0 198px,#f90 0 200px,#fe0 0 202px,#fc0 0 206px,#fe0 0 208px,#fd0 0 210px,#af0 0 212px,#ef0 0 214px,#cf0 0 216px,#fd0 0 220px,#cf0 0 222px,#ef0 0 224px,#fe0 0 226px,#cf0 0 228px,#ef0 0 230px,#fe0 0 232px,#cf0 0 234px,#ef0 0 236px,#cf0 0 238px,#ef0 0 240px,#fe0 0 242px,#9f0 0 244px,#5f0 0 246px,#4f0 0 248px,#5f0 0 250px,#8f0 0 252px,#3f0 0 254px,#6f0 0 256px,#5f0 0 258px,#6f0 0 260px,#4f0 0 262px,#5f0 0 264px,#4f0 0 266px,#5f0 0 268px,#4f0 0 270px,#5f0 0 274px,#4f0 0 276px,#5f0 0 278px,#3f0 0 280px,#6f0 0 282px,#4f0 0 284px,#3f0 0 288px,#5f0 0 290px,#4f0 0 292px,#3f0 0 294px,#4f0 0 296px,#3f0 0 300px,#4f0 0 302px,#3f0 0 304px,#2f0 0 308px,#3f0 0 310px,#2f0 0 312px,#3f0 0 320px,#4f0 0 322px,#3f0 0 324px,#2f0 0 326px,#4f0 0 328px,#3f0 0 330px,#4f0 0 332px,#3f0 0 338px,#2f0 0 340px,#0f0 0 342px,#3f0 0 344px,#2f0 0 346px,#3f0 0 348px,#1f0 0 350px,#4f0 0 352px,#3f0 0 356px,#2f0 0 358px,#1f0 0 360px,#3f0 0 362px,#2f0 0 364px,#1f0 0 366px,#2f0 0 370px,#3f0 0 372px,#2f0 0 374px,#3f0 0 376px,#1f0 0 378px,#2f0 0 380px,#1f0 0 382px,#0f0 0 384px,#1f0 0 386px,#2f0 0 388px,#1f0 0 390px,#3f0 0 392px,#2f0 0 394px,#1f0 0 396px,#2f0 0 398px,#1f0 0 400px,#2f0 0 402px,#0f0 0 404px,#1f0 0 412px,#0f0 0 414px,#1f0 0 416px,#0f0 0 420px,#2f0 0 422px,#1f0 0 426px,#0f0 0)"></div><div style="top:59px;height:3px;background:linear-gradient(90deg,#f50 2px,#fc0 0 4px,#fb0 0 6px,#f90 0 8px,#fc0 0 10px,#fa0 0 12px,#f80 0 14px,#f10 0 18px,#f20 0 20px,#f10 0 22px,#f30 0 24px,#fc0 0 26px,#fa0 0 28px,#fc0 0 30px,#f80 0 32px,#fd0 0 34px,#ff0 0 38px,#fd0 0 42px,#f90 0 44px,#fd0 0 48px,#fc0 0 50px,#fd0 0 52px,#fc0 0 56px,#fd0 0 58px,#fe0 0 60px,#fc0 0 62px,#fd0 0 64px,#fc0 0 66px,#fe0 0 68px,#fb0 0 70px,#bf0 0 72px,#fb0 0 74px,#fe0 0 76px,#fb0 0 82px,#fc0 0 84px,#f90 0 86px,#fe0 0 92px,#fc0 0 94px,#df0 0 96px,#fc0 0 98px,#fe0 0 100px,#ff0 0 102px,#fe0 0 106px,#ef0 0 108px,#fe0 0 110px,#fd0 0 114px,#fe0 0 116px,#fd0 0 126px,#cf0 0 128px,#fe0 0 130px,#ef0 0 132px,#cf0 0 134px,#df0 0 136px,#af0 0 138px,#df0 0 140px,#ef0 0 142px,#fe0 0 144px,#df0 0 146px,#f60 0 148px,#f90 0 152px,#fa0 0 154px,#f80 0 158px,#f90 0 162px,#f70 0 164px,#f60 0 166px,#f40 0 168px,#f80 0 170px,#f20 0 172px,#f60 0 174px,#f70 0 176px,#f60 0 178px,#f70 0 180px,#f50 0 182px,#f60 0 186px,#f70 0 188px,#f60 0 190px,#f70 0 192px,#f60 0 194px,#f50 0 198px,#f80 0 200px,#fe0 0 202px,#fc0 0 204px,#fb0 0 206px,#fd0 0 208px,#fc0 0 210px,#8f0 0 212px,#ff0 0 214px,#bf0 0 216px,#fd0 0 220px,#df0 0 222px,#ef0 0 224px,#fd0 0 226px,#bf0 0 228px,#ff0 0 230px,#fe0 0 232px,#ff0 0 236px,#cf0 0 238px,#ff0 0 240px,#fd0 0 242px,#8f0 0 244px,#5f0 0 246px,#3f0 0 248px,#5f0 0 250px,#6f0 0 252px,#5f0 0 254px,#4f0 0 256px,#6f0 0 258px,#5f0 0 260px,#4f0 0 262px,#5f0 0 264px,#4f0 0 266px,#5f0 0 268px,#3f0 0 270px,#4f0 0 272px,#5f0 0 274px,#3f0 0 276px,#4f0 0 278px,#3f0 0 280px,#5f0 0 282px,#4f0 0 284px,#5f0 0 286px,#2f0 0 288px,#4f0 0 290px,#5f0 0 294px,#4f0 0 296px,#5f0 0 298px,#4f0 0 300px,#5f0 0 302px,#3f0 0 308px,#4f0 0 310px,#3f0 0 312px,#4f0 0 314px,#2f0 0 322px,#3f0 0 334px,#4f0 0 336px,#1f0 0 338px,#2f0 0 342px,#1f0 0 344px,#3f0 0 346px,#2f0 0 350px,#4f0 0 352px,#2f0 0 360px,#1f0 0 362px,#2f0 0 364px,#1f0 0 366px,#2f0 0 374px,#1f0 0 378px,#3f0 0 382px,#0f0 0 384px,#1f0 0 386px,#0f0 0 388px,#1f0 0 390px,#2f0 0 392px,#1f0 0 394px,#3f0 0 396px,#1f0 0 398px,#0f0 0 402px,#1f0 0 404px,#2f0 0 410px,#1f0 0 412px,#0f0 0 414px,#2f0 0 416px,#0f2 0 418px,#1f0 0 420px,#3f0 0 422px,#1f0 0 424px,#0f0 0 426px,#2f0 0)"></div><div style="top:62px;height:3px;background:linear-gradient(90deg,#f50 2px,#fc0 0 4px,#fb0 0 6px,#f90 0 8px,#fc0 0 10px,#fa0 0 12px,#f80 0 14px,#f00 0 16px,#f10 0 18px,#f20 0 20px,#f00 0 22px,#f30 0 24px,#f20 0 26px,#fa0 0 28px,#fc0 0 30px,#f70 0 32px,#fc0 0 34px,#ff0 0 38px,#fc0 0 40px,#fd0 0 42px,#f80 0 44px,#fc0 0 48px,#fb0 0 50px,#fd0 0 52px,#fb0 0 54px,#fc0 0 58px,#ff0 0 60px,#fa0 0 62px,#fd0 0 64px,#fb0 0 66px,#fd0 0 68px,#fa0 0 70px,#af0 0 72px,#fa0 0 74px,#fe0 0 76px,#fa0 0 82px,#fb0 0 84px,#f90 0 86px,#fe0 0 90px,#fd0 0 92px,#fb0 0 94px,#ef0 0 96px,#fb0 0 98px,#fd0 0 100px,#ff0 0 106px,#ef0 0 108px,#fd0 0 110px,#fb0 0 112px,#fc0 0 114px,#ff0 0 116px,#fc0 0 118px,#fd0 0 120px,#fc0 0 124px,#fe0 0 126px,#bf0 0 128px,#fe0 0 130px,#ef0 0 132px,#df0 0 134px,#cf0 0 136px,#bf0 0 138px,#df0 0 140px,#fe0 0 144px,#df0 0 146px,#f60 0 148px,#f80 0 150px,#f90 0 154px,#f70 0 158px,#f90 0 160px,#f80 0 162px,#f60 0 164px,#f50 0 166px,#f30 0 168px,#f70 0 170px,#f10 0 172px,#f60 0 176px,#f50 0 178px,#f60 0 180px,#f40 0 182px,#f50 0 184px,#f40 0 186px,#f70 0 188px,#f50 0 194px,#f30 0 198px,#f70 0 200px,#fd0 0 202px,#fb0 0 204px,#fa0 0 206px,#fd0 0 208px,#fc0 0 210px,#7f0 0 212px,#ff0 0 214px,#af0 0 216px,#fd0 0 220px,#ff0 0 224px,#fc0 0 226px,#df0 0 228px,#fe0 0 232px,#ff0 0 236px,#df0 0 238px,#ff0 0 240px,#fc0 0 242px,#8f0 0 244px,#f90 0 246px,#8f0 0 248px,#4f0 0 250px,#ff0 0 252px,#fe0 0 254px,#5f0 0 256px,#4f0 0 258px,#5f0 0 264px,#3f0 0 266px,#6f0 0 268px,#4f0 0 270px,#5f0 0 272px,#4f0 0 278px,#3f0 0 280px,#4f0 0 288px,#5f0 0 290px,#4f0 0 294px,#3f0 0 296px,#5f0 0 298px,#3f0 0 300px,#4f0 0 302px,#3f0 0 306px,#1f0 0 308px,#4f0 0 312px,#3f0 0 314px,#4f0 0 318px,#3f0 0 320px,#4f0 0 322px,#5f0 0 324px,#4f0 0 328px,#5f0 0 330px,#2f0 0 332px,#3f0 0 334px,#2f0 0 336px,#3f0 0 344px,#4f0 0 346px,#3f0 0 348px,#2f0 0 350px,#3f0 0 352px,#2f0 0 360px,#4f0 0 362px,#1f0 0 364px,#2f0 0 366px,#1f0 0 368px,#2f0 0 372px,#1f0 0 374px,#2f0 0 376px,#1f0 0 382px,#2f0 0 384px,#1f0 0 388px,#2f0 0 394px,#1f0 0 396px,#2f0 0 400px,#0f0 0 402px,#2f0 0 406px,#0f0 0 410px,#0f1 0 412px,#0f0 0 414px,#2f0 0 416px,#0f1 0 418px,#1f0 0 420px,#3f0 0 422px,#1f0 0 424px,#0f0 0 426px,#2f0 0)"></div><div style="top:65px;height:3px;background:linear-gradient(90deg,#f50 2px,#fc0 0 4px,#fa0 0 6px,#f80 0 8px,#fb0 0 10px,#f90 0 12px,#f40 0 14px,#f00 0 16px,#f10 0 18px,#f20 0 20px,#f00 0 22px,#f30 0 24px,#f20 0 26px,#f10 0 28px,#fb0 0 30px,#f60 0 32px,#fb0 0 34px,#ff0 0 38px,#fb0 0 40px,#fc0 0 42px,#f70 0 44px,#fd0 0 46px,#fb0 0 50px,#fc0 0 52px,#fa0 0 54px,#fb0 0 58px,#fe0 0 60px,#fa0 0 62px,#fc0 0 64px,#fa0 0 66px,#fd0 0 68px,#f90 0 70px,#af0 0 72px,#f90 0 74px,#fd0 0 76px,#f90 0 82px,#fa0 0 84px,#f70 0 86px,#fd0 0 88px,#fe0 0 90px,#fd0 0 92px,#fa0 0 94px,#ff0 0 96px,#fb0 0 98px,#fd0 0 100px,#fe0 0 106px,#ef0 0 108px,#fd0 0 110px,#fa0 0 112px,#fc0 0 114px,#fe0 0 116px,#fb0 0 118px,#fd0 0 120px,#f30 0 122px,#fc0 0 124px,#fd0 0 126px,#cf0 0 128px,#fe0 0 130px,#ff0 0 132px,#df0 0 134px,#bf0 0 138px,#cf0 0 140px,#ff0 0 142px,#fd0 0 144px,#fe0 0 146px,#f50 0 148px,#f90 0 150px,#f80 0 154px,#f70 0 156px,#f60 0 158px,#f70 0 160px,#f80 0 162px,#f60 0 164px,#f50 0 166px,#f20 0 168px,#f60 0 170px,#f00 0 172px,#f40 0 174px,#f50 0 176px,#f40 0 178px,#f50 0 180px,#f30 0 182px,#f40 0 184px,#f30 0 186px,#f50 0 190px,#f40 0 194px,#f20 0 196px,#f30 0 198px,#f60 0 200px,#fe0 0 202px,#fa0 0 204px,#f90 0 206px,#fc0 0 210px,#7f0 0 212px,#ff0 0 214px,#af0 0 216px,#fc0 0 220px,#ff0 0 224px,#fb0 0 226px,#cf0 0 228px,#fd0 0 230px,#fc0 0 232px,#fe0 0 236px,#df0 0 238px,#fe0 0 240px,#fd0 0 242px,#9f0 0 244px,#f00 0 246px,#f30 0 248px,#fd0 0 250px,#f00 0 252px,#f10 0 254px,#fa0 0 256px,#ff0 0 258px,#6f0 0 260px,#4f0 0 262px,#5f0 0 264px,#4f0 0 266px,#5f0 0 272px,#6f0 0 274px,#5f0 0 276px,#4f0 0 278px,#5f0 0 280px,#6f0 0 282px,#4f0 0 288px,#5f0 0 290px,#4f0 0 292px,#3f0 0 294px,#4f0 0 298px,#2f0 0 300px,#4f0 0 302px,#3f0 0 308px,#5f0 0 310px,#4f0 0 312px,#3f0 0 316px,#5f0 0 318px,#3f0 0 320px,#4f0 0 322px,#3f0 0 324px,#2f0 0 326px,#3f0 0 328px,#2f0 0 330px,#1f0 0 332px,#4f0 0 334px,#3f0 0 336px,#2f0 0 340px,#3f0 0 342px,#2f0 0 344px,#4f0 0 346px,#2f0 0 348px,#1f0 0 350px,#2f0 0 354px,#3f0 0 358px,#2f0 0 360px,#1f0 0 362px,#0f0 0 364px,#1f0 0 368px,#2f0 0 370px,#3f0 0 372px,#2f0 0 376px,#1f0 0 378px,#3f0 0 380px,#1f0 0 384px,#2f0 0 388px,#1f0 0 390px,#0f0 0 392px,#2f0 0 394px,#1f0 0 398px,#3f0 0 400px,#2f0 0 404px,#0f0 0 406px,#1f0 0 408px,#0f0 0 410px,#1f0 0 412px,#0f1 0 414px,#1f0 0 418px,#2f0 0 422px,#1f0 0)"></div><div style="top:68px;height:3px;background:linear-gradient(90deg,#f50 2px,#fb0 0 4px,#fa0 0 6px,#f80 0 8px,#fb0 0 10px,#f30 0 12px,#f00 0 16px,#f10 0 18px,#f20 0 20px,#f00 0 22px,#f30 0 24px,#f20 0 26px,#f10 0 28px,#fa0 0 30px,#f60 0 32px,#fb0 0 34px,#fe0 0 36px,#fd0 0 38px,#f30 0 40px,#fb0 0 42px,#f70 0 46px,#f60 0 48px,#f40 0 50px,#f20 0 52px,#f90 0 54px,#fb0 0 56px,#fa0 0 58px,#fd0 0 60px,#fa0 0 62px,#f80 0 64px,#fa0 0 66px,#fc0 0 68px,#f90 0 70px,#bf0 0 72px,#f80 0 74px,#fd0 0 76px,#f80 0 78px,#f90 0 82px,#fa0 0 84px,#f00 0 86px,#fd0 0 88px,#f50 0 90px,#fc0 0 92px,#fa0 0 94px,#fb0 0 96px,#fa0 0 98px,#fc0 0 100px,#fe0 0 104px,#fd0 0 106px,#ef0 0 108px,#f90 0 110px,#fa0 0 112px,#fb0 0 114px,#fd0 0 116px,#fb0 0 118px,#f60 0 120px,#f10 0 122px,#fb0 0 124px,#fc0 0 126px,#cf0 0 128px,#fe0 0 130px,#ef0 0 134px,#df0 0 136px,#ef0 0 138px,#cf0 0 140px,#ff0 0 142px,#fd0 0 144px,#fb0 0 146px,#f20 0 148px,#f80 0 154px,#f50 0 156px,#f10 0 158px,#f70 0 160px,#f50 0 162px,#f30 0 164px,#f40 0 166px,#f10 0 168px,#f50 0 170px,#f00 0 172px,#f40 0 176px,#f30 0 178px,#f40 0 180px,#f20 0 182px,#f30 0 184px,#f20 0 186px,#f40 0 188px,#f30 0 192px,#f20 0 194px,#f10 0 196px,#f20 0 200px,#fa0 0 204px,#f90 0 206px,#f80 0 208px,#fb0 0 210px,#9f0 0 212px,#fa0 0 214px,#bf0 0 216px,#f90 0 218px,#fc0 0 220px,#fe0 0 224px,#fb0 0 226px,#ef0 0 228px,#fe0 0 230px,#fc0 0 232px,#fe0 0 234px,#fd0 0 236px,#df0 0 238px,#fe0 0 240px,#fc0 0 242px,#af0 0 244px,#f00 0 246px,#f10 0 248px,#f00 0 258px,#f60 0 262px,#f90 0 264px,#6f0 0 266px,#4f0 0 268px,#5f0 0 270px,#4f0 0 272px,#5f0 0 278px,#4f0 0 280px,#5f0 0 282px,#6f0 0 284px,#5f0 0 288px,#2f0 0 290px,#4f0 0 292px,#3f0 0 296px,#5f0 0 298px,#4f0 0 304px,#2f0 0 306px,#4f0 0 310px,#3f0 0 312px,#4f0 0 314px,#1f0 0 316px,#3f0 0 320px,#4f0 0 324px,#3f0 0 326px,#2f0 0 328px,#3f0 0 330px,#2f0 0 332px,#4f0 0 334px,#2f0 0 338px,#1f0 0 340px,#2f0 0 342px,#3f0 0 344px,#2f0 0 354px,#1f0 0 356px,#2f0 0 360px,#3f0 0 362px,#1f0 0 364px,#2f0 0 368px,#0f0 0 370px,#3f0 0 372px,#1f0 0 376px,#0f0 0 378px,#2f0 0 382px,#1f0 0 384px,#2f0 0 388px,#1f0 0 390px,#2f0 0 394px,#1f0 0 400px,#0f0 0 402px,#1f0 0 404px,#0f0 0 406px,#2f0 0 408px,#0f0 0 410px,#2f0 0 414px,#1f0 0 416px,#2f0 0 418px,#3f0 0 420px,#2f0 0 422px,#1f0 0 426px,#3f0 0)"></div><div style="top:71px;height:3px;background:linear-gradient(90deg,#f40 2px,#fa0 0 6px,#f80 0 8px,#f50 0 10px,#f00 0 16px,#f10 0 18px,#f20 0 20px,#f10 0 22px,#f30 0 24px,#f20 0 26px,#f10 0 28px,#f20 0 30px,#f60 0 32px,#f70 0 34px,#f80 0 36px,#f50 0 38px,#f00 0 40px,#f80 0 42px,#f70 0 44px,#f10 0 46px,#f00 0 50px,#f10 0 52px,#f40 0 54px,#fb0 0 56px,#fa0 0 60px,#f90 0 62px,#f10 0 64px,#f80 0 66px,#f40 0 68px,#f50 0 70px,#ef0 0 72px,#f70 0 74px,#f60 0 76px,#f50 0 78px,#f90 0 80px,#f50 0 82px,#f40 0 84px,#f00 0 86px,#f40 0 88px,#f10 0 90px,#f50 0 92px,#f30 0 96px,#fa0 0 98px,#fc0 0 100px,#fe0 0 102px,#f70 0 104px,#f90 0 106px,#f80 0 108px,#f10 0 110px,#f40 0 112px,#f30 0 114px,#fd0 0 116px,#f50 0 118px,#f10 0 122px,#f20 0 124px,#fd0 0 128px,#fb0 0 130px,#ff0 0 132px,#fe0 0 134px,#fc0 0 138px,#ff0 0 140px,#fe0 0 142px,#fd0 0 144px,#fa0 0 146px,#f10 0 148px,#f40 0 150px,#f60 0 152px,#f70 0 154px,#f10 0 158px,#f50 0 160px,#f20 0 162px,#f00 0 164px,#f10 0 168px,#f40 0 170px,#f00 0 172px,#f30 0 176px,#f20 0 178px,#f30 0 180px,#f10 0 182px,#f20 0 186px,#f30 0 188px,#f20 0 194px,#f10 0 196px,#f00 0 198px,#f20 0 200px,#f30 0 202px,#f40 0 206px,#f20 0 208px,#f80 0 210px,#fe0 0 212px,#f30 0 214px,#df0 0 216px,#f20 0 218px,#f50 0 220px,#fe0 0 222px,#fd0 0 224px,#fa0 0 226px,#ef0 0 228px,#fd0 0 230px,#fc0 0 232px,#fe0 0 236px,#ff0 0 238px,#fe0 0 240px,#fb0 0 242px,#f50 0 244px,#f00 0 246px,#f10 0 248px,#f00 0 260px,#f10 0 262px,#f00 0 264px,#f40 0 266px,#f60 0 268px,#ef0 0 270px,#fa0 0 272px,#bf0 0 274px,#7f0 0 276px,#4f0 0 280px,#6f0 0 282px,#8f0 0 284px,#4f0 0 286px,#3f0 0 288px,#5f0 0 292px,#4f0 0 294px,#3f0 0 296px,#5f0 0 298px,#4f0 0 300px,#3f0 0 302px,#5f0 0 304px,#3f0 0 306px,#4f0 0 312px,#3f0 0 314px,#4f0 0 318px,#2f0 0 320px,#3f0 0 322px,#4f0 0 324px,#3f0 0 328px,#5f0 0 330px,#2f0 0 332px,#4f0 0 334px,#2f0 0 336px,#3f0 0 338px,#2f0 0 340px,#3f0 0 342px,#2f0 0 344px,#3f0 0 346px,#2f0 0 350px,#3f0 0 352px,#2f0 0 356px,#1f0 0 358px,#3f0 0 360px,#2f0 0 362px,#0f0 0 364px,#1f0 0 368px,#3f0 0 370px,#1f0 0 372px,#2f0 0 376px,#1f0 0 378px,#2f0 0 382px,#1f0 0 384px,#0f1 0 386px,#1f0 0 388px,#0f0 0 390px,#3f0 0 394px,#1f0 0 396px,#2f0 0 400px,#1f0 0 402px,#0f0 0 404px,#2f0 0 410px,#1f0 0 412px,#2f0 0 416px,#1f0 0 418px,#0f0 0 420px,#1f0 0 422px,#0f0 0 424px,#0f1 0 426px,#2f0 0)"></div><div style="top:74px;height:3px;background:linear-gradient(90deg,#f40 2px,#fa0 0 6px,#f20 0 8px,#f10 0 10px,#f00 0 16px,#f10 0 18px,#f20 0 20px,#f00 0 22px,#f30 0 24px,#f10 0 26px,#f00 0 28px,#f20 0 30px,#f00 0 32px,#f10 0 34px,#f20 0 38px,#f00 0 42px,#f40 0 44px,#f00 0 50px,#f10 0 52px,#f00 0 54px,#f90 0 56px,#f40 0 58px,#f20 0 60px,#f40 0 62px,#f00 0 66px,#f10 0 68px,#f00 0 70px,#f70 0 72px,#f00 0 74px,#f10 0 76px,#f00 0 78px,#f30 0 80px,#f00 0 86px,#f10 0 92px,#f00 0 94px,#f30 0 96px,#f80 0 98px,#fc0 0 100px,#f60 0 102px,#f20 0 106px,#f30 0 108px,#f10 0 110px,#f00 0 114px,#f80 0 116px,#f10 0 118px,#f20 0 120px,#f10 0 124px,#fb0 0 126px,#f40 0 130px,#fc0 0 132px,#df0 0 134px,#fb0 0 136px,#fc0 0 138px,#fa0 0 140px,#fe0 0 142px,#f70 0 144px,#fa0 0 146px,#f20 0 148px,#f30 0 150px,#f20 0 152px,#f30 0 154px,#f10 0 158px,#f20 0 160px,#f10 0 162px,#f00 0 164px,#f10 0 166px,#f00 0 168px,#f40 0 170px,#f00 0 172px,#f30 0 176px,#f20 0 178px,#f30 0 180px,#f10 0 182px,#f20 0 184px,#f10 0 186px,#f30 0 188px,#f20 0 194px,#f00 0 198px,#f20 0 200px,#f30 0 202px,#f10 0 206px,#f20 0 210px,#f50 0 212px,#f30 0 214px,#fd0 0 216px,#f20 0 218px,#f10 0 220px,#fe0 0 222px,#fd0 0 224px,#fa0 0 226px,#ef0 0 228px,#fd0 0 230px,#fb0 0 232px,#f90 0 234px,#fd0 0 236px,#f40 0 238px,#f50 0 240px,#fb0 0 242px,#f20 0 244px,#f00 0 260px,#f10 0 262px,#f00 0 268px,#f10 0 270px,#f00 0 272px,#f10 0 274px,#f30 0 276px,#f90 0 278px,#4f0 0 280px,#f40 0 282px,#f20 0 284px,#6f0 0 286px,#5f0 0 288px,#f40 0 290px,#f50 0 292px,#fe0 0 294px,#ef0 0 296px,#f90 0 298px,#fb0 0 300px,#f70 0 302px,#f30 0 304px,#fa0 0 308px,#f80 0 310px,#f70 0 312px,#3f0 0 314px,#fd0 0 316px,#fe0 0 318px,#ef0 0 320px,#6f0 0 322px,#fe0 0 324px,#fc0 0 326px,#bf0 0 328px,#f60 0 330px,#3f0 0 334px,#f50 0 336px,#2f0 0 340px,#9f0 0 342px,#f80 0 344px,#2f0 0 346px,#fe0 0 348px,#df0 0 350px,#cf0 0 352px,#3f0 0 354px,#8f0 0 358px,#2f0 0 360px,#ef0 0 362px,#1f0 0 364px,#9f0 0 366px,#4f0 0 368px,#fd0 0 370px,#3f0 0 372px,#2f0 0 374px,#9f0 0 376px,#f80 0 378px,#1f0 0 380px,#3f0 0 382px,#af0 0 384px,#2f0 0 386px,#3f0 0 388px,#0f0 0 390px,#6f0 0 392px,#2f0 0 396px,#1f0 0 402px,#3f0 0 404px,#5f0 0 406px,#9f0 0 408px,#1f0 0 412px,#2f0 0 414px,#cf0 0 416px,#f90 0 418px,#2f0 0 420px,#8f0 0 422px,#0f0 0 424px,#1f0 0 426px,#0f0 0)"></div><div style="top:77px;height:3px;background:linear-gradient(90deg,#f40 2px,#fa0 0 4px,#f20 0 6px,#f00 0 8px,#f10 0 10px,#f00 0 16px,#f10 0 18px,#f20 0 20px,#f00 0 22px,#f30 0 24px,#f10 0 26px,#f00 0 28px,#f10 0 30px,#f00 0 34px,#f20 0 38px,#f10 0 40px,#f00 0 46px,#f10 0 48px,#f00 0 50px,#f10 0 52px,#f00 0 54px,#f10 0 56px,#f00 0 58px,#f10 0 60px,#f00 0 66px,#f10 0 68px,#f00 0 70px,#f40 0 72px,#f00 0 74px,#f10 0 76px,#f00 0 86px,#f10 0 92px,#f00 0 94px,#f20 0 96px,#f00 0 98px,#f60 0 100px,#f20 0 108px,#f10 0 110px,#f00 0 112px,#f10 0 114px,#f20 0 116px,#f10 0 118px,#f20 0 120px,#f10 0 124px,#f30 0 126px,#f40 0 130px,#fa0 0 132px,#fc0 0 134px,#fb0 0 136px,#fc0 0 138px,#fa0 0 140px,#f90 0 142px,#f70 0 144px,#fa0 0 146px,#f20 0 148px,#f30 0 150px,#f20 0 154px,#f10 0 158px,#f20 0 160px,#f10 0 162px,#f00 0 164px,#f10 0 168px,#f40 0 170px,#f00 0 172px,#f20 0 180px,#f10 0 182px,#f20 0 184px,#f10 0 186px,#f20 0 194px,#f10 0 196px,#f00 0 198px,#f20 0 204px,#f10 0 206px,#f20 0 210px,#f50 0 212px,#f30 0 214px,#f40 0 216px,#f10 0 220px,#fd0 0 222px,#f80 0 226px,#f60 0 228px,#f30 0 230px,#f20 0 232px,#f10 0 234px,#f40 0 236px,#f10 0 238px,#f00 0 240px,#f70 0 242px,#f20 0 244px,#f00 0 246px,#f10 0 248px,#f00 0 264px,#f10 0 266px,#f00 0 274px,#f20 0 276px,#f10 0 278px,#f60 0 280px,#f00 0 282px,#f10 0 284px,#f40 0 288px,#f10 0 312px,#f60 0 314px,#f10 0 320px,#f30 0 322px,#f10 0 324px,#f20 0 328px,#f10 0 330px,#f50 0 332px,#f60 0 334px,#f10 0 336px,#fd0 0 338px,#fb0 0 340px,#f20 0 342px,#f10 0 344px,#fa0 0 346px,#f20 0 348px,#f30 0 350px,#f10 0 352px,#f60 0 354px,#f30 0 356px,#f20 0 358px,#f70 0 360px,#f20 0 362px,#f70 0 364px,#f20 0 366px,#f40 0 368px,#f20 0 370px,#f70 0 372px,#f50 0 374px,#f30 0 376px,#f20 0 378px,#f70 0 380px,#f40 0 382px,#f30 0 384px,#f60 0 388px,#f80 0 390px,#f30 0 392px,#ef0 0 394px,#f60 0 396px,#f70 0 398px,#fe0 0 400px,#f80 0 402px,#fa0 0 404px,#f50 0 406px,#f40 0 408px,#f90 0 410px,#ff0 0 412px,#fa0 0 414px,#f40 0 416px,#f50 0 418px,#f90 0 420px,#f50 0 422px,#f90 0 426px,#f80 0)"></div><div style="top:80px;height:3px;background:linear-gradient(90deg,#f30 2px,#f40 0 4px,#f00 0 8px,#f10 0 10px,#f00 0 16px,#f10 0 20px,#f00 0 22px,#f10 0 30px,#f00 0 34px,#f20 0 38px,#f00 0 50px,#f10 0 52px,#f00 0 58px,#f10 0 60px,#f00 0 66px,#f10 0 68px,#f00 0 70px,#f30 0 72px,#f00 0 74px,#f10 0 76px,#f00 0 86px,#f10 0 92px,#f00 0 94px,#f20 0 96px,#f00 0 98px,#f10 0 100px,#f20 0 108px,#f10 0 110px,#f00 0 112px,#f10 0 114px,#f20 0 116px,#f00 0 118px,#f10 0 124px,#f20 0 126px,#f30 0 128px,#f40 0 130px,#fa0 0 134px,#fb0 0 136px,#fc0 0 138px,#fa0 0 140px,#f90 0 142px,#f80 0 144px,#fa0 0 146px,#f20 0 148px,#f30 0 150px,#f20 0 154px,#f10 0 158px,#f20 0 162px,#f00 0 164px,#f10 0 166px,#f00 0 168px,#f30 0 170px,#f00 0 172px,#f20 0 180px,#f10 0 182px,#f20 0 184px,#f10 0 186px,#f30 0 188px,#f20 0 192px,#f10 0 194px,#f00 0 198px,#f20 0 202px,#f10 0 206px,#f20 0 210px,#f40 0 212px,#f30 0 214px,#f40 0 216px,#f10 0 220px,#f20 0 222px,#f10 0 224px,#f00 0 226px,#f20 0 228px,#f00 0 232px,#f10 0 234px,#f00 0 236px,#f10 0 238px,#f00 0 242px,#f20 0 244px,#f00 0 246px,#f10 0 248px,#f00 0 260px,#f10 0 262px,#f00 0 264px,#f10 0 266px,#f00 0 274px,#f10 0 280px,#f00 0 284px,#f10 0 286px,#f20 0 288px,#f10 0 330px,#f20 0 332px,#f10 0 338px,#f20 0 342px,#f10 0 346px,#f20 0 350px,#f00 0 352px,#f10 0 362px,#f20 0 366px,#f10 0 368px,#f20 0 370px,#f10 0 372px,#f20 0 374px,#f10 0 376px,#f20 0 382px,#f30 0 384px,#f20 0 388px,#f30 0 390px,#f20 0 392px,#f30 0 408px,#f40 0 416px,#f50 0 422px,#f60 0)"></div></div>
<svg width="612" height="792" viewBox="0 0 612 792" font-family="'Liberation Sans', Arial, Helvetica, sans-serif">
<path d="M92 246.5V247.0H400V218.4H401V217.5H402V218.5H403V221.0H404V219.1H405V217.5H406V222.6H407V223.9H408V220.2H409V219.6H410V219.8H411V220.6H412V219.7H413V221.2H414V225.7H415V225.4H416V221.2H417V222.2H418V223.7H419V223.8H420V223.1H421V221.7H422V222.7H423V222.3H424V223.1H425V223.7H426V224.7H427V225.2H428V224.9H429V225.6H430V226.4H431V226.2H432V223.7H433V224.3H434V224.8H435V226.7H436V227.6H437V227.2H438V228.8H439V228.4H440V228.5H441V228.4H442V227.9H443V226.2H444V225.3H445V226.0H446V225.2H447V226.5H448V226.6H449V224.9H450V225.8H451V229.7H452V229.3H453V226.2H454V225.8H455V227.3H456V229.5H457V229.0H458V226.7H459V224.5H460V227.2H461V228.1H462V226.8H463V230.5H465V226.6H466V224.5H467V227.0H468V229.2H469V229.9H470V231.7H471V230.0H472V229.9H473V228.7H474V226.0H475V225.5H476V226.9H477V230.3H478V232.0H479V230.3H480V229.2H481V229.9H482V228.7H483V229.5H484V228.5H485V230.9H486V233.7H487V232.5H488V232.9H489V232.7H490V232.2H491V233.2H492V232.6H493V231.1H495V228.6H496V233.1H497V236.6H498V235.4H499V234.5H500V235.8H501V238.2H502V235.5H503V232.2H504V231.6H505V234.7H506V236.2H507V234.5H508V233.7H509V229.5H510V228.6H511V232.9H512V236.9H513V235.8H514V232.1H515V231.4H516V230.3H517V232.5H518V233.5H519V232.8H520V246.5Z" fill="#f60"/>
<path d="M92 246.5V247.0H322V203.2H323V218.7H324V212.7H325V219.4H326V220.6H327V217.5H328V220.1H329V216.6H330V217.2H331V213.8H332V216.0H333V219.0H334V216.7H335V211.8H336V210.1H337V208.7H338V204.3H339V200.8H340V201.1H341V205.9H342V208.9H343V212.0H344V213.7H345V215.7H346V216.2H347V214.3H348V216.2H349V219.9H350V222.4H351V222.7H352V218.0H353V217.3H354V222.4H355V221.9H356V218.8H357V219.2H359V219.7H360V220.5H361V217.3H362V209.3H363V210.7H364V224.1H365V230.9H366V229.1H367V227.0H368V224.3H369V226.3H370V229.0H371V224.3H372V222.4H373V225.4H374V229.3H375V229.5H376V229.1H377V227.5H378V224.7H379V227.8H380V230.6H381V228.3H382V227.6H383V224.3H384V219.8H385V222.1H386V226.1H387V224.9H388V225.0H389V224.5H390V222.8H391V223.8H392V221.3H393V222.3H394V226.7H395V226.2H396V224.5H397V226.8H398V224.9H399V220.3H400V222.5H401V222.8H402V224.6H403V226.0H404V224.0H405V223.2H406V227.0H407V227.2H408V224.1H409V225.2H410V226.7H411V226.9H412V225.7H413V224.6H414V226.2H415V227.5H416V225.6H417V227.0H418V229.5H419V228.4H420V227.6H421V228.3H422V228.1H423V226.8H424V227.9H425V228.1H426V228.3H427V228.5H428V228.3H429V229.7H430V231.6H431V230.8H432V227.9H433V228.4H434V228.8H435V229.0H436V230.5H437V231.9H438V233.1H439V231.8H440V232.8H441V235.5H442V232.9H443V229.0H444V229.2H445V231.5H446V229.6H447V229.7H448V231.7H449V231.0H450V232.0H451V233.8H452V233.0H453V232.5H455V231.8H456V232.6H457V234.1H458V233.7H459V231.3H460V232.5H461V233.2H462V232.9H463V236.1H465V233.4H466V232.2H467V234.5H468V235.9H469V235.4H470V236.4H471V235.8H472V234.7H473V233.8H474V231.2H475V230.7H476V233.5H477V234.8H478V235.2H479V235.3H480V235.1H481V236.0H482V235.2H483V234.3H484V233.7H485V235.0H486V236.6H487V236.2H488V237.7H489V238.4H490V237.1H491V237.0H492V235.9H493V235.8H494V237.4H495V235.7H496V237.0H497V238.1H498V237.7H499V238.1H500V238.8H501V240.5H502V239.7H503V237.5H504V238.7H505V240.5H506V240.4H507V239.4H508V240.1H509V238.1H510V236.9H511V238.2H512V239.0H513V239.5H514V238.1H515V238.4H516V238.0H517V238.3H518V239.0H519V238.5H520V246.5Z" fill="#f10"/>
<path d="M92 246.5V208.3H93V209.7H94V208.4H95V207.8H96V246.5H97V202.8H98V203.4H99V206.0H100V201.8H101V198.3H102V197.7H103V195.0H104V191.2H105V191.0H106V185.7H107V186.4H108V185.7H109V184.3H110V187.6H111V191.6H112V189.9H113V194.4H114V196.6H115V192.8H116V194.1H117V202.8H118V202.2H119V209.6H120V207.3H121V206.3H122V208.7H123V208.1H124V202.3H125V206.1H126V207.7H127V211.3H128V217.1H129V218.5H130V218.9H131V219.2H132V219.0H133V218.2H134V214.8H135V213.3H136V216.7H137V221.8H138V219.2H139V211.8H140V208.8H141V211.2H142V199.5H143V199.6H144V205.2H145V211.2H146V214.0H147V213.5H148V217.6H149V220.7H150V221.4H151V216.8H152V217.5H153V223.4H154V223.2H155V219.4H156V218.1H157V222.2H158V220.6H159V221.7H160V225.8H161V227.9H162V225.7H163V228.4H164V230.6H165V228.0H166V226.2H167V227.7H168V226.8H169V222.9H170V224.3H171V228.4H172V228.0H173V225.2H174V224.3H175V223.2H176V225.1H177V229.1H178V232.1H179V230.4H180V228.2H181V227.8H182V226.7H183V225.3H184V224.1H185V223.9H186V228.2H187V231.6H188V225.2H189V222.8H190V221.9H191V223.2H192V225.2H193V222.4H194V222.1H195V223.9H196V225.3H197V226.5H198V226.9H199V226.0H200V222.8H201V224.0H202V226.1H203V226.5H204V223.0H205V221.4H206V224.3H207V221.3H208V222.3H209V225.7H210V226.1H211V222.1H212V223.7H213V225.2H214V224.1H215V225.1H216V228.5H217V225.3H218V226.1H219V229.1H220V236.2H221V239.2H222V239.6H223V240.5H224V239.6H225V236.5H226V238.3H227V239.1H228V233.6H229V231.8H230V231.5H231V165.8H234V175.3H235V189.3H236V190.8H237V165.8H241V246.0H242V197.5H243V202.7H244V205.9H245V208.7H246V215.7H247V224.8H248V229.1H249V229.4H250V226.1H251V225.2H252V227.8H253V226.6H254V224.4H255V229.7H256V226.6H257V225.8H258V204.2H259V181.2H260V182.0H261V188.4H262V185.3H263V186.8H264V185.9H265V184.5H266V187.7H267V189.1H268V185.8H269V226.0H270V187.9H271V187.7H272V189.2H273V195.5H274V190.7H275V226.0H276V179.0H277V188.4H278V190.4H279V191.2H280V192.3H281V226.0H282V191.1H283V191.3H284V186.7H285V191.4H286V191.9H287V189.9H288V195.0H289V190.4H290V191.9H291V193.4H292V194.1H293V193.6H294V205.0H296V197.6H297V198.0H298V197.1H299V195.9H300V194.9H301V194.6H302V195.9H303V212.0H305V196.3H306V194.5H307V199.9H308V195.9H309V196.7H310V197.2H311V199.0H312V198.4H313V230.0H315V246.0H318V194.8H319V225.0H321V195.0H322V211.2H323V226.7H324V220.7H325V227.4H326V228.6H327V225.5H328V228.1H329V224.6H330V225.2H331V221.8H332V224.0H333V227.0H334V224.7H335V219.8H336V218.1H337V216.7H338V212.3H339V208.8H340V209.1H341V213.9H342V216.9H343V220.0H344V221.7H345V223.7H346V224.2H347V222.3H348V224.2H349V227.9H350V230.4H351V230.7H352V226.0H353V225.3H354V230.4H355V229.9H356V226.8H357V227.2H359V227.7H360V228.5H361V225.3H362V217.3H363V218.7H364V232.1H365V238.9H366V237.1H367V235.0H368V232.3H369V234.3H370V237.0H371V232.3H372V230.4H373V233.4H374V237.3H375V237.5H376V237.1H377V235.5H378V232.7H379V235.8H380V238.6H381V236.3H382V235.6H383V232.3H384V227.8H385V230.1H386V234.1H387V232.9H388V233.0H389V232.5H390V230.8H391V231.8H392V229.3H393V230.3H394V234.7H395V234.2H396V232.5H397V234.8H398V232.9H399V228.3H400V230.4H401V230.6H402V232.4H403V233.7H404V231.5H405V230.7H406V234.3H407V234.5H408V231.2H409V232.2H410V233.7H412V232.4H413V231.3H414V232.8H415V233.9H416V232.0H417V233.2H418V235.6H419V234.4H420V233.6H421V234.3H422V234.1H423V232.8H424V233.9H425V234.1H426V234.3H427V234.5H428V234.3H429V235.7H430V237.6H431V236.8H432V233.9H433V234.4H434V234.8H435V235.0H436V236.5H437V237.9H438V239.1H439V237.8H440V238.8H441V241.5H442V238.9H443V235.0H444V235.2H445V237.5H446V235.6H447V235.7H448V237.7H449V237.0H450V238.0H451V239.8H452V239.0H453V238.5H455V237.8H456V238.6H457V240.1H458V239.7H459V237.3H460V238.5H461V239.2H462V238.9H463V242.1H465V239.4H466V238.2H467V240.5H468V241.9H469V241.4H470V242.4H471V241.8H472V240.7H473V239.8H474V237.2H475V236.7H476V239.5H477V240.8H478V241.2H479V241.3H480V241.1H481V242.0H482V241.2H483V240.3H484V239.7H485V241.0H486V242.6H487V242.2H488V243.7H489V244.4H490V243.1H491V243.0H492V241.9H493V241.8H494V243.4H495V241.7H496V243.0H497V244.1H498V243.7H499V244.1H500V244.8H501V246.5H502V245.7H503V243.5H504V244.7H505V246.5H507V245.6H508V246.4H509V244.4H510V243.3H511V244.6H512V245.5H513V246.1H514V244.8H515V245.1H516V244.8H517V245.1H518V245.9H519V245.5H520V246.5Z" fill="#fff"/>
<polygon points="161,191 163,189 167,190 170,189.5 174,190.5 176,192 176.5,200 176,213 172,214.5 168,213 164,214 161.5,212 161,202" fill="#fff"/>
<rect x="237.2" y="161" width="3.8" height="6" fill="#fff"/>
<rect x="247" y="165.8" width="6.5" height="15" fill="#fff"/>
<path d="M92 175.5H520" stroke="#fff" stroke-width="1"/>
<path d="M310.5 166V246" stroke="#4d2" stroke-width="1"/>
<polygon points="238.5,384.2 241.5,384.2 241.5,393.2 240.5,400.2 239.5,400.2 238.5,393.2" fill="#fff"/>
<polygon points="338.0,420.2 341.0,414.2 343.0,418.2 342.0,422.2" fill="#fff"/>
<polygon points="238.5,467.5 241.5,467.5 241.5,476.5 240.5,483.5 239.5,483.5 238.5,476.5" fill="#fff"/>
<polygon points="104.0,479.5 106.0,481.5 110.0,488.5 116.0,495.5 121.0,501.5 121.0,505.5 117.0,505.5 111.0,498.5 106.0,489.5 104.0,483.5" fill="#fff"/>
<polygon points="263.0,485.5 266.0,483.5 268.0,487.5 271.0,484.5 274.0,485.5 276.0,491.5 275.0,499.5 271.0,501.5 267.0,498.5 264.0,500.5 263.0,493.5" fill="#fff"/>
<polygon points="285.0,481.5 287.0,481.5 287.0,489.5 285.0,489.5" fill="#fff"/>
<polygon points="336.0,503.5 340.0,493.5 345.0,495.5 350.0,501.5 355.0,505.5 336.0,505.5" fill="#fff"/>
<polygon points="238.5,551.5 241.5,551.5 241.5,560.5 240.5,567.5 239.5,567.5 238.5,560.5" fill="#fff"/>
<polygon points="107.0,571.5 110.0,567.5 114.0,575.5 117.0,585.5 115.0,588.5 110.0,581.5" fill="#fff"/>
<polygon points="265.0,577.5 267.0,573.5 269.0,576.5 268.0,584.5 266.0,585.5" fill="#fff"/>
<polygon points="271.0,571.5 273.0,570.5 275.0,575.5 274.0,582.5 272.0,581.5" fill="#fff"/>
<polygon points="338.0,587.5 341.0,581.5 343.0,585.5 342.0,589.5" fill="#fff"/>
<polygon points="238.5,635.5 241.5,635.5 241.5,644.5 240.5,651.5 239.5,651.5 238.5,644.5" fill="#fff"/>
<polygon points="107.0,655.5 110.0,651.5 114.0,659.5 117.0,669.5 115.0,672.5 110.0,665.5" fill="#fff"/>
<polygon points="265.0,661.5 267.0,657.5 269.0,660.5 268.0,668.5 266.0,669.5" fill="#fff"/>
<polygon points="271.0,655.5 273.0,654.5 275.0,659.5 274.0,666.5 272.0,665.5" fill="#fff"/>
<polygon points="338.0,671.5 341.0,665.5 343.0,669.5 342.0,673.5" fill="#fff"/>
<path d="M94.5 80V246" stroke="#fff" stroke-width="1"/>
<path d="M95.5 176V207" stroke="#bd2" stroke-width="1"/>
<path d="M96.5 138V166M311 138V166" stroke="#000" stroke-width="1.2"/>
<path d="M312.5 79V246" stroke="#fff" stroke-width="0.8"/>
<path d="M94 339.2V421.2" stroke="#fff" stroke-width="1" stroke-dasharray="2 1.5"/>
<path d="M311 368.7V382.7M96.5 368.7V382.7" stroke="#000" stroke-width="1.2"/>
<path d="M96.5 382.7V421.7" stroke="#2cc" stroke-width="0.9"/>
<path d="M310.5 382.7V421.7" stroke="#2cc" stroke-width="0.9"/>
<path d="M312.5 339.2V421.2" stroke="#fff" stroke-width="0.8"/>
<path d="M94 422.5V504.5" stroke="#fff" stroke-width="1" stroke-dasharray="2 1.5"/>
<path d="M311 452.0V466.0M96.5 452.0V466.0" stroke="#000" stroke-width="1.2"/>
<path d="M96.5 466.0V505.0" stroke="#2cc" stroke-width="0.9"/>
<path d="M310.5 466.0V505.0" stroke="#2cc" stroke-width="0.9"/>
<path d="M312.5 422.5V504.5" stroke="#fff" stroke-width="0.8"/>
<path d="M94 506.5V588.5" stroke="#fff" stroke-width="1" stroke-dasharray="2 1.5"/>
<path d="M311 536.0V550.0M96.5 536.0V550.0" stroke="#000" stroke-width="1.2"/>
<path d="M96.5 550.0V589.0" stroke="#2cc" stroke-width="0.9"/>
<path d="M310.5 550.0V589.0" stroke="#2cc" stroke-width="0.9"/>
<path d="M312.5 506.5V588.5" stroke="#fff" stroke-width="0.8"/>
<path d="M94 590.5V672.5" stroke="#fff" stroke-width="1" stroke-dasharray="2 1.5"/>
<path d="M311 620.0V634.0M96.5 620.0V634.0" stroke="#000" stroke-width="1.2"/>
<path d="M96.5 634.0V673.0" stroke="#2cc" stroke-width="0.9"/>
<path d="M310.5 634.0V673.0" stroke="#2cc" stroke-width="0.9"/>
<path d="M312.5 590.5V672.5" stroke="#fff" stroke-width="0.8"/>
<rect x="91.50" y="79.30" width="429.00" height="167.30" fill="none" stroke="#000" stroke-width="1.2"/>
<path d="M91.50 246.60v-3.35M91.50 79.30v3.35" stroke="#000" stroke-width="1"/>
<path d="M127.50 246.60v-1.67M127.50 79.30v1.67" stroke="#000" stroke-width="1"/>
<path d="M163.50 246.60v-1.67M163.50 79.30v1.67" stroke="#000" stroke-width="1"/>
<path d="M198.50 246.60v-3.35M198.50 79.30v3.35" stroke="#000" stroke-width="1"/>
<path d="M234.50 246.60v-1.67M234.50 79.30v1.67" stroke="#000" stroke-width="1"/>
<path d="M270.50 246.60v-1.67M270.50 79.30v1.67" stroke="#000" stroke-width="1"/>
<path d="M306.50 246.60v-3.35M306.50 79.30v3.35" stroke="#000" stroke-width="1"/>
<path d="M341.50 246.60v-1.67M341.50 79.30v1.67" stroke="#000" stroke-width="1"/>
<path d="M377.50 246.60v-1.67M377.50 79.30v1.67" stroke="#000" stroke-width="1"/>
<path d="M413.50 246.60v-3.35M413.50 79.30v3.35" stroke="#000" stroke-width="1"/>
<path d="M449.50 246.60v-1.67M449.50 79.30v1.67" stroke="#000" stroke-width="1"/>
<path d="M484.50 246.60v-1.67M484.50 79.30v1.67" stroke="#000" stroke-width="1"/>
<path d="M520.50 246.60v-3.35M520.50 79.30v3.35" stroke="#000" stroke-width="1"/>
<path d="M91.50 246.50h4.29M520.50 246.50h-4.29" stroke="#000" stroke-width="1"/>
<path d="M91.50 235.50h8.58M520.50 235.50h-8.58" stroke="#000" stroke-width="1"/>
<path d="M91.50 223.50h4.29M520.50 223.50h-4.29" stroke="#000" stroke-width="1"/>
<path d="M91.50 211.50h4.29M520.50 211.50h-4.29" stroke="#000" stroke-width="1"/>
<path d="M91.50 200.50h4.29M520.50 200.50h-4.29" stroke="#000" stroke-width="1"/>
<path d="M91.50 188.50h8.58M520.50 188.50h-8.58" stroke="#000" stroke-width="1"/>
<path d="M91.50 177.50h4.29M520.50 177.50h-4.29" stroke="#000" stroke-width="1"/>
<path d="M91.50 165.50h4.29M520.50 165.50h-4.29" stroke="#000" stroke-width="1"/>
<path d="M91.50 154.50h4.29M520.50 154.50h-4.29" stroke="#000" stroke-width="1"/>
<path d="M91.50 142.50h8.58M520.50 142.50h-8.58" stroke="#000" stroke-width="1"/>
<path d="M91.50 131.50h4.29M520.50 131.50h-4.29" stroke="#000" stroke-width="1"/>
<path d="M91.50 119.50h4.29M520.50 119.50h-4.29" stroke="#000" stroke-width="1"/>
<path d="M91.50 108.50h4.29M520.50 108.50h-4.29" stroke="#000" stroke-width="1"/>
<path d="M91.50 96.50h8.58M520.50 96.50h-8.58" stroke="#000" stroke-width="1"/>
<path d="M91.50 85.50h4.29M520.50 85.50h-4.29" stroke="#000" stroke-width="1"/>
<rect x="91.50" y="338.20" width="429.00" height="83.30" fill="none" stroke="#000" stroke-width="1.2"/>
<path d="M91.50 421.50v-1.67M91.50 338.20v1.67" stroke="#000" stroke-width="1"/>
<path d="M127.50 421.50v-0.83M127.50 338.20v0.83" stroke="#000" stroke-width="1"/>
<path d="M163.50 421.50v-0.83M163.50 338.20v0.83" stroke="#000" stroke-width="1"/>
<path d="M198.50 421.50v-1.67M198.50 338.20v1.67" stroke="#000" stroke-width="1"/>
<path d="M234.50 421.50v-0.83M234.50 338.20v0.83" stroke="#000" stroke-width="1"/>
<path d="M270.50 421.50v-0.83M270.50 338.20v0.83" stroke="#000" stroke-width="1"/>
<path d="M306.50 421.50v-1.67M306.50 338.20v1.67" stroke="#000" stroke-width="1"/>
<path d="M341.50 421.50v-0.83M341.50 338.20v0.83" stroke="#000" stroke-width="1"/>
<path d="M377.50 421.50v-0.83M377.50 338.20v0.83" stroke="#000" stroke-width="1"/>
<path d="M413.50 421.50v-1.67M413.50 338.20v1.67" stroke="#000" stroke-width="1"/>
<path d="M449.50 421.50v-0.83M449.50 338.20v0.83" stroke="#000" stroke-width="1"/>
<path d="M484.50 421.50v-0.83M484.50 338.20v0.83" stroke="#000" stroke-width="1"/>
<path d="M520.50 421.50v-1.67M520.50 338.20v1.67" stroke="#000" stroke-width="1"/>
<path d="M91.50 421.50h4.29M520.50 421.50h-4.29" stroke="#000" stroke-width="1"/>
<path d="M91.50 415.50h8.58M520.50 415.50h-8.58" stroke="#000" stroke-width="1"/>
<path d="M91.50 410.50h4.29M520.50 410.50h-4.29" stroke="#000" stroke-width="1"/>
<path d="M91.50 404.50h4.29M520.50 404.50h-4.29" stroke="#000" stroke-width="1"/>
<path d="M91.50 398.50h4.29M520.50 398.50h-4.29" stroke="#000" stroke-width="1"/>
<path d="M91.50 392.50h8.58M520.50 392.50h-8.58" stroke="#000" stroke-width="1"/>
<path d="M91.50 387.50h4.29M520.50 387.50h-4.29" stroke="#000" stroke-width="1"/>
<path d="M91.50 381.50h4.29M520.50 381.50h-4.29" stroke="#000" stroke-width="1"/>
<path d="M91.50 375.50h4.29M520.50 375.50h-4.29" stroke="#000" stroke-width="1"/>
<path d="M91.50 369.50h8.58M520.50 369.50h-8.58" stroke="#000" stroke-width="1"/>
<path d="M91.50 364.50h4.29M520.50 364.50h-4.29" stroke="#000" stroke-width="1"/>
<path d="M91.50 358.50h4.29M520.50 358.50h-4.29" stroke="#000" stroke-width="1"/>
<path d="M91.50 352.50h4.29M520.50 352.50h-4.29" stroke="#000" stroke-width="1"/>
<path d="M91.50 346.50h8.58M520.50 346.50h-8.58" stroke="#000" stroke-width="1"/>
<path d="M91.50 341.50h4.29M520.50 341.50h-4.29" stroke="#000" stroke-width="1"/>
<rect x="91.50" y="421.50" width="429.00" height="84.00" fill="none" stroke="#000" stroke-width="1.2"/>
<path d="M91.50 505.50v-1.68M91.50 421.50v1.68" stroke="#000" stroke-width="1"/>
<path d="M127.50 505.50v-0.84M127.50 421.50v0.84" stroke="#000" stroke-width="1"/>
<path d="M163.50 505.50v-0.84M163.50 421.50v0.84" stroke="#000" stroke-width="1"/>
<path d="M198.50 505.50v-1.68M198.50 421.50v1.68" stroke="#000" stroke-width="1"/>
<path d="M234.50 505.50v-0.84M234.50 421.50v0.84" stroke="#000" stroke-width="1"/>
<path d="M270.50 505.50v-0.84M270.50 421.50v0.84" stroke="#000" stroke-width="1"/>
<path d="M306.50 505.50v-1.68M306.50 421.50v1.68" stroke="#000" stroke-width="1"/>
<path d="M341.50 505.50v-0.84M341.50 421.50v0.84" stroke="#000" stroke-width="1"/>
<path d="M377.50 505.50v-0.84M377.50 421.50v0.84" stroke="#000" stroke-width="1"/>
<path d="M413.50 505.50v-1.68M413.50 421.50v1.68" stroke="#000" stroke-width="1"/>
<path d="M449.50 505.50v-0.84M449.50 421.50v0.84" stroke="#000" stroke-width="1"/>
<path d="M484.50 505.50v-0.84M484.50 421.50v0.84" stroke="#000" stroke-width="1"/>
<path d="M520.50 505.50v-1.68M520.50 421.50v1.68" stroke="#000" stroke-width="1"/>
<path d="M91.50 505.50h4.29M520.50 505.50h-4.29" stroke="#000" stroke-width="1"/>
<path d="M91.50 499.50h8.58M520.50 499.50h-8.58" stroke="#000" stroke-width="1"/>
<path d="M91.50 493.50h4.29M520.50 493.50h-4.29" stroke="#000" stroke-width="1"/>
<path d="M91.50 488.50h4.29M520.50 488.50h-4.29" stroke="#000" stroke-width="1"/>
<path d="M91.50 482.50h4.29M520.50 482.50h-4.29" stroke="#000" stroke-width="1"/>
<path d="M91.50 476.50h8.58M520.50 476.50h-8.58" stroke="#000" stroke-width="1"/>
<path d="M91.50 470.50h4.29M520.50 470.50h-4.29" stroke="#000" stroke-width="1"/>
<path d="M91.50 464.50h4.29M520.50 464.50h-4.29" stroke="#000" stroke-width="1"/>
<path d="M91.50 459.50h4.29M520.50 459.50h-4.29" stroke="#000" stroke-width="1"/>
<path d="M91.50 453.50h8.58M520.50 453.50h-8.58" stroke="#000" stroke-width="1"/>
<path d="M91.50 447.50h4.29M520.50 447.50h-4.29" stroke="#000" stroke-width="1"/>
<path d="M91.50 441.50h4.29M520.50 441.50h-4.29" stroke="#000" stroke-width="1"/>
<path d="M91.50 435.50h4.29M520.50 435.50h-4.29" stroke="#000" stroke-width="1"/>
<path d="M91.50 430.50h8.58M520.50 430.50h-8.58" stroke="#000" stroke-width="1"/>
<path d="M91.50 424.50h4.29M520.50 424.50h-4.29" stroke="#000" stroke-width="1"/>
<rect x="91.50" y="505.50" width="429.00" height="84.00" fill="none" stroke="#000" stroke-width="1.2"/>
<path d="M91.50 589.50v-1.68M91.50 505.50v1.68" stroke="#000" stroke-width="1"/>
<path d="M127.50 589.50v-0.84M127.50 505.50v0.84" stroke="#000" stroke-width="1"/>
<path d="M163.50 589.50v-0.84M163.50 505.50v0.84" stroke="#000" stroke-width="1"/>
<path d="M198.50 589.50v-1.68M198.50 505.50v1.68" stroke="#000" stroke-width="1"/>
<path d="M234.50 589.50v-0.84M234.50 505.50v0.84" stroke="#000" stroke-width="1"/>
<path d="M270.50 589.50v-0.84M270.50 505.50v0.84" stroke="#000" stroke-width="1"/>
<path d="M306.50 589.50v-1.68M306.50 505.50v1.68" stroke="#000" stroke-width="1"/>
<path d="M341.50 589.50v-0.84M341.50 505.50v0.84" stroke="#000" stroke-width="1"/>
<path d="M377.50 589.50v-0.84M377.50 505.50v0.84" stroke="#000" stroke-width="1"/>
<path d="M413.50 589.50v-1.68M413.50 505.50v1.68" stroke="#000" stroke-width="1"/>
<path d="M449.50 589.50v-0.84M449.50 505.50v0.84" stroke="#000" stroke-width="1"/>
<path d="M484.50 589.50v-0.84M484.50 505.50v0.84" stroke="#000" stroke-width="1"/>
<path d="M520.50 589.50v-1.68M520.50 505.50v1.68" stroke="#000" stroke-width="1"/>
<path d="M91.50 589.50h4.29M520.50 589.50h-4.29" stroke="#000" stroke-width="1"/>
<path d="M91.50 583.50h8.58M520.50 583.50h-8.58" stroke="#000" stroke-width="1"/>
<path d="M91.50 577.50h4.29M520.50 577.50h-4.29" stroke="#000" stroke-width="1"/>
<path d="M91.50 572.50h4.29M520.50 572.50h-4.29" stroke="#000" stroke-width="1"/>
<path d="M91.50 566.50h4.29M520.50 566.50h-4.29" stroke="#000" stroke-width="1"/>
<path d="M91.50 560.50h8.58M520.50 560.50h-8.58" stroke="#000" stroke-width="1"/>
<path d="M91.50 554.50h4.29M520.50 554.50h-4.29" stroke="#000" stroke-width="1"/>
<path d="M91.50 548.50h4.29M520.50 548.50h-4.29" stroke="#000" stroke-width="1"/>
<path d="M91.50 543.50h4.29M520.50 543.50h-4.29" stroke="#000" stroke-width="1"/>
<path d="M91.50 537.50h8.58M520.50 537.50h-8.58" stroke="#000" stroke-width="1"/>
<path d="M91.50 531.50h4.29M520.50 531.50h-4.29" stroke="#000" stroke-width="1"/>
<path d="M91.50 525.50h4.29M520.50 525.50h-4.29" stroke="#000" stroke-width="1"/>
<path d="M91.50 519.50h4.29M520.50 519.50h-4.29" stroke="#000" stroke-width="1"/>
<path d="M91.50 514.50h8.58M520.50 514.50h-8.58" stroke="#000" stroke-width="1"/>
<path d="M91.50 508.50h4.29M520.50 508.50h-4.29" stroke="#000" stroke-width="1"/>
<rect x="91.50" y="589.50" width="429.00" height="84.00" fill="none" stroke="#000" stroke-width="1.2"/>
<path d="M91.50 673.50v-1.68M91.50 589.50v1.68" stroke="#000" stroke-width="1"/>
<path d="M127.50 673.50v-0.84M127.50 589.50v0.84" stroke="#000" stroke-width="1"/>
<path d="M163.50 673.50v-0.84M163.50 589.50v0.84" stroke="#000" stroke-width="1"/>
<path d="M198.50 673.50v-1.68M198.50 589.50v1.68" stroke="#000" stroke-width="1"/>
<path d="M234.50 673.50v-0.84M234.50 589.50v0.84" stroke="#000" stroke-width="1"/>
<path d="M270.50 673.50v-0.84M270.50 589.50v0.84" stroke="#000" stroke-width="1"/>
<path d="M306.50 673.50v-1.68M306.50 589.50v1.68" stroke="#000" stroke-width="1"/>
<path d="M341.50 673.50v-0.84M341.50 589.50v0.84" stroke="#000" stroke-width="1"/>
<path d="M377.50 673.50v-0.84M377.50 589.50v0.84" stroke="#000" stroke-width="1"/>
<path d="M413.50 673.50v-1.68M413.50 589.50v1.68" stroke="#000" stroke-width="1"/>
<path d="M449.50 673.50v-0.84M449.50 589.50v0.84" stroke="#000" stroke-width="1"/>
<path d="M484.50 673.50v-0.84M484.50 589.50v0.84" stroke="#000" stroke-width="1"/>
<path d="M520.50 673.50v-1.68M520.50 589.50v1.68" stroke="#000" stroke-width="1"/>
<path d="M91.50 673.50h4.29M520.50 673.50h-4.29" stroke="#000" stroke-width="1"/>
<path d="M91.50 667.50h8.58M520.50 667.50h-8.58" stroke="#000" stroke-width="1"/>
<path d="M91.50 661.50h4.29M520.50 661.50h-4.29" stroke="#000" stroke-width="1"/>
<path d="M91.50 656.50h4.29M520.50 656.50h-4.29" stroke="#000" stroke-width="1"/>
<path d="M91.50 650.50h4.29M520.50 650.50h-4.29" stroke="#000" stroke-width="1"/>
<path d="M91.50 644.50h8.58M520.50 644.50h-8.58" stroke="#000" stroke-width="1"/>
<path d="M91.50 638.50h4.29M520.50 638.50h-4.29" stroke="#000" stroke-width="1"/>
<path d="M91.50 632.50h4.29M520.50 632.50h-4.29" stroke="#000" stroke-width="1"/>
<path d="M91.50 627.50h4.29M520.50 627.50h-4.29" stroke="#000" stroke-width="1"/>
<path d="M91.50 621.50h8.58M520.50 621.50h-8.58" stroke="#000" stroke-width="1"/>
<path d="M91.50 615.50h4.29M520.50 615.50h-4.29" stroke="#000" stroke-width="1"/>
<path d="M91.50 609.50h4.29M520.50 609.50h-4.29" stroke="#000" stroke-width="1"/>
<path d="M91.50 603.50h4.29M520.50 603.50h-4.29" stroke="#000" stroke-width="1"/>
<path d="M91.50 598.50h8.58M520.50 598.50h-8.58" stroke="#000" stroke-width="1"/>
<path d="M91.50 592.50h4.29M520.50 592.50h-4.29" stroke="#000" stroke-width="1"/>
<rect x="91.50" y="246.60" width="429.00" height="83.90" fill="none" stroke="#000" stroke-width="1.2"/>
<path d="M91.50 330.50v-1.68M91.50 246.60v1.68" stroke="#000" stroke-width="1"/>
<path d="M127.50 330.50v-0.84M127.50 246.60v0.84" stroke="#000" stroke-width="1"/>
<path d="M163.50 330.50v-0.84M163.50 246.60v0.84" stroke="#000" stroke-width="1"/>
<path d="M198.50 330.50v-1.68M198.50 246.60v1.68" stroke="#000" stroke-width="1"/>
<path d="M234.50 330.50v-0.84M234.50 246.60v0.84" stroke="#000" stroke-width="1"/>
<path d="M270.50 330.50v-0.84M270.50 246.60v0.84" stroke="#000" stroke-width="1"/>
<path d="M306.50 330.50v-1.68M306.50 246.60v1.68" stroke="#000" stroke-width="1"/>
<path d="M341.50 330.50v-0.84M341.50 246.60v0.84" stroke="#000" stroke-width="1"/>
<path d="M377.50 330.50v-0.84M377.50 246.60v0.84" stroke="#000" stroke-width="1"/>
<path d="M413.50 330.50v-1.68M413.50 246.60v1.68" stroke="#000" stroke-width="1"/>
<path d="M449.50 330.50v-0.84M449.50 246.60v0.84" stroke="#000" stroke-width="1"/>
<path d="M484.50 330.50v-0.84M484.50 246.60v0.84" stroke="#000" stroke-width="1"/>
<path d="M520.50 330.50v-1.68M520.50 246.60v1.68" stroke="#000" stroke-width="1"/>
<path d="M91.50 330.50h4.29M520.50 330.50h-4.29" stroke="#000" stroke-width="1"/>
<path d="M91.50 325.50h8.58M520.50 325.50h-8.58" stroke="#000" stroke-width="1"/>
<path d="M91.50 321.50h4.29M520.50 321.50h-4.29" stroke="#000" stroke-width="1"/>
<path d="M91.50 316.50h4.29M520.50 316.50h-4.29" stroke="#000" stroke-width="1"/>
<path d="M91.50 311.50h4.29M520.50 311.50h-4.29" stroke="#000" stroke-width="1"/>
<path d="M91.50 307.50h8.58M520.50 307.50h-8.58" stroke="#000" stroke-width="1"/>
<path d="M91.50 302.50h4.29M520.50 302.50h-4.29" stroke="#000" stroke-width="1"/>
<path d="M91.50 297.50h4.29M520.50 297.50h-4.29" stroke="#000" stroke-width="1"/>
<path d="M91.50 293.50h4.29M520.50 293.50h-4.29" stroke="#000" stroke-width="1"/>
<path d="M91.50 288.50h8.58M520.50 288.50h-8.58" stroke="#000" stroke-width="1"/>
<path d="M91.50 283.50h4.29M520.50 283.50h-4.29" stroke="#000" stroke-width="1"/>
<path d="M91.50 279.50h4.29M520.50 279.50h-4.29" stroke="#000" stroke-width="1"/>
<path d="M91.50 274.50h4.29M520.50 274.50h-4.29" stroke="#000" stroke-width="1"/>
<path d="M91.50 269.50h8.58M520.50 269.50h-8.58" stroke="#000" stroke-width="1"/>
<path d="M91.50 265.50h4.29M520.50 265.50h-4.29" stroke="#000" stroke-width="1"/>
<path d="M91.50 260.50h4.29M520.50 260.50h-4.29" stroke="#000" stroke-width="1"/>
<path d="M91.50 255.50h4.29M520.50 255.50h-4.29" stroke="#000" stroke-width="1"/>
<path d="M91.50 251.50h8.58M520.50 251.50h-8.58" stroke="#000" stroke-width="1"/>
<path d="M91.50 246.50h4.29M520.50 246.50h-4.29" stroke="#000" stroke-width="1"/>
<text x="88.00" y="240.06" font-size="11.40" text-anchor="end" textLength="19.10" lengthAdjust="spacingAndGlyphs">200</text>
<text x="88.00" y="193.91" font-size="11.40" text-anchor="end" textLength="19.10" lengthAdjust="spacingAndGlyphs">400</text>
<text x="88.00" y="147.76" font-size="11.40" text-anchor="end" textLength="19.10" lengthAdjust="spacingAndGlyphs">600</text>
<text x="88.00" y="101.61" font-size="11.40" text-anchor="end" textLength="19.10" lengthAdjust="spacingAndGlyphs">800</text>
<text x="88.00" y="420.76" font-size="11.40" text-anchor="end" textLength="19.10" lengthAdjust="spacingAndGlyphs">200</text>
<text x="88.00" y="397.78" font-size="11.40" text-anchor="end" textLength="19.10" lengthAdjust="spacingAndGlyphs">400</text>
<text x="88.00" y="374.80" font-size="11.40" text-anchor="end" textLength="19.10" lengthAdjust="spacingAndGlyphs">600</text>
<text x="88.00" y="351.82" font-size="11.40" text-anchor="end" textLength="19.10" lengthAdjust="spacingAndGlyphs">800</text>
<text x="88.00" y="504.71" font-size="11.40" text-anchor="end" textLength="19.10" lengthAdjust="spacingAndGlyphs">200</text>
<text x="88.00" y="481.53" font-size="11.40" text-anchor="end" textLength="19.10" lengthAdjust="spacingAndGlyphs">400</text>
<text x="88.00" y="458.36" font-size="11.40" text-anchor="end" textLength="19.10" lengthAdjust="spacingAndGlyphs">600</text>
<text x="88.00" y="435.19" font-size="11.40" text-anchor="end" textLength="19.10" lengthAdjust="spacingAndGlyphs">800</text>
<text x="88.00" y="588.71" font-size="11.40" text-anchor="end" textLength="19.10" lengthAdjust="spacingAndGlyphs">200</text>
<text x="88.00" y="565.53" font-size="11.40" text-anchor="end" textLength="19.10" lengthAdjust="spacingAndGlyphs">400</text>
<text x="88.00" y="542.36" font-size="11.40" text-anchor="end" textLength="19.10" lengthAdjust="spacingAndGlyphs">600</text>
<text x="88.00" y="519.19" font-size="11.40" text-anchor="end" textLength="19.10" lengthAdjust="spacingAndGlyphs">800</text>
<text x="88.00" y="672.71" font-size="11.40" text-anchor="end" textLength="19.10" lengthAdjust="spacingAndGlyphs">200</text>
<text x="88.00" y="649.53" font-size="11.40" text-anchor="end" textLength="19.10" lengthAdjust="spacingAndGlyphs">400</text>
<text x="88.00" y="626.36" font-size="11.40" text-anchor="end" textLength="19.10" lengthAdjust="spacingAndGlyphs">600</text>
<text x="88.00" y="603.19" font-size="11.40" text-anchor="end" textLength="19.10" lengthAdjust="spacingAndGlyphs">800</text>
<text x="88.00" y="256.06" font-size="11.40" text-anchor="end" textLength="12.70" lengthAdjust="spacingAndGlyphs">40</text>
<text x="88.00" y="274.71" font-size="11.40" text-anchor="end" textLength="12.70" lengthAdjust="spacingAndGlyphs">20</text>
<text x="88.00" y="293.35" font-size="11.40" text-anchor="end" textLength="6.40" lengthAdjust="spacingAndGlyphs">0</text>
<text x="88.00" y="311.99" font-size="11.40" text-anchor="end" textLength="20.50" lengthAdjust="spacingAndGlyphs">&#8722;20</text>
<text x="88.00" y="330.64" font-size="11.40" text-anchor="end" textLength="20.50" lengthAdjust="spacingAndGlyphs">&#8722;40</text>
<text transform="translate(59.50 163.75) rotate(-90)" font-size="11.60" text-anchor="middle" textLength="55.00" lengthAdjust="spacing">v<tspan font-size="8.4" font-weight="bold" dy="2.6">eq</tspan><tspan dy="-2.6"> [km/s]</tspan></text>
<text transform="translate(59.50 380.85) rotate(-90)" font-size="11.60" text-anchor="middle" textLength="55.30" lengthAdjust="spacing">v<tspan font-size="8.4" font-weight="bold" dy="2.6">eq</tspan><tspan dy="-2.6"> [km/s]</tspan></text>
<text transform="translate(59.50 464.50) rotate(-90)" font-size="11.60" text-anchor="middle" textLength="55.30" lengthAdjust="spacing">v<tspan font-size="8.4" font-weight="bold" dy="2.6">eq</tspan><tspan dy="-2.6"> [km/s]</tspan></text>
<text transform="translate(59.50 548.50) rotate(-90)" font-size="11.60" text-anchor="middle" textLength="55.30" lengthAdjust="spacing">v<tspan font-size="8.4" font-weight="bold" dy="2.6">eq</tspan><tspan dy="-2.6"> [km/s]</tspan></text>
<text transform="translate(59.50 632.50) rotate(-90)" font-size="11.60" text-anchor="middle" textLength="55.30" lengthAdjust="spacing">v<tspan font-size="8.4" font-weight="bold" dy="2.6">eq</tspan><tspan dy="-2.6"> [km/s]</tspan></text>
<text transform="translate(58.00 288.80) rotate(-90)" font-size="11.60" text-anchor="middle" textLength="44.60" lengthAdjust="spacing">angle [°]</text>
<text x="91.50" y="688.6" font-size="11.40" text-anchor="middle" textLength="28.6" lengthAdjust="spacingAndGlyphs">00:00</text>
<text x="198.75" y="688.6" font-size="11.40" text-anchor="middle" textLength="28.6" lengthAdjust="spacingAndGlyphs">06:00</text>
<text x="306.00" y="688.6" font-size="11.40" text-anchor="middle" textLength="28.6" lengthAdjust="spacingAndGlyphs">12:00</text>
<text x="413.25" y="688.6" font-size="11.40" text-anchor="middle" textLength="28.6" lengthAdjust="spacingAndGlyphs">18:00</text>
<text x="520.50" y="688.6" font-size="11.40" text-anchor="middle" textLength="28.6" lengthAdjust="spacingAndGlyphs">00:00</text>
<text x="305.6" y="701.7" font-size="11.40" text-anchor="middle" textLength="69" lengthAdjust="spacingAndGlyphs">2021&#8722;04&#8722;29</text>
<text x="191.30" y="73.3" font-size="13.1" style="stroke-width:0.08px" textLength="26.20" lengthAdjust="spacingAndGlyphs">SPC</text>
<text x="223.30" y="73.3" font-size="13.1" style="stroke-width:0.08px" textLength="19.70" lengthAdjust="spacingAndGlyphs">ion</text>
<text x="248.80" y="73.3" font-size="13.1" style="stroke-width:0.08px" textLength="35.90" lengthAdjust="spacingAndGlyphs">mode</text>
<text x="291.80" y="73.3" font-size="13.1" style="stroke-width:0.08px" textLength="33.40" lengthAdjust="spacingAndGlyphs">quick</text>
<text x="331.90" y="73.3" font-size="13.1" style="stroke-width:0.08px" textLength="30.10" lengthAdjust="spacingAndGlyphs">look,</text>
<text x="369.10" y="73.3" font-size="13.1" style="stroke-width:0.08px" textLength="34.80" lengthAdjust="spacingAndGlyphs">mode</text>
<text x="410.10" y="73.3" font-size="13.1" style="stroke-width:0.08px" textLength="7.40" lengthAdjust="spacingAndGlyphs">1</text>
<text x="102.2" y="89.4" font-size="11.2" font-weight="bold" style="stroke-width:0.5px" textLength="28.6" lengthAdjust="spacingAndGlyphs">TOTAL</text>
<text x="101.6" y="348.20" font-size="9.8" font-weight="bold" style="stroke-width:0.45px" textLength="6.8" lengthAdjust="spacingAndGlyphs">A</text>
<text x="113.4" y="348.20" font-size="9.8" font-weight="bold" style="stroke-width:0.45px" textLength="33.6" lengthAdjust="spacingAndGlyphs">sensor</text>
<text x="101.6" y="431.50" font-size="9.8" font-weight="bold" style="stroke-width:0.45px" textLength="6.8" lengthAdjust="spacingAndGlyphs">B</text>
<text x="113.4" y="431.50" font-size="9.8" font-weight="bold" style="stroke-width:0.45px" textLength="33.6" lengthAdjust="spacingAndGlyphs">sensor</text>
<text x="101.6" y="515.50" font-size="9.8" font-weight="bold" style="stroke-width:0.45px" textLength="6.8" lengthAdjust="spacingAndGlyphs">C</text>
<text x="113.4" y="515.50" font-size="9.8" font-weight="bold" style="stroke-width:0.45px" textLength="33.6" lengthAdjust="spacingAndGlyphs">sensor</text>
<text x="101.6" y="599.50" font-size="9.8" font-weight="bold" style="stroke-width:0.45px" textLength="6.8" lengthAdjust="spacingAndGlyphs">D</text>
<text x="113.4" y="599.50" font-size="9.8" font-weight="bold" style="stroke-width:0.45px" textLength="33.6" lengthAdjust="spacingAndGlyphs">sensor</text>
<text x="434" y="256.7" font-size="10" fill="#f00" style="stroke:#f00;stroke-width:0.15px" textLength="74.4" lengthAdjust="spacing">inflow azimuth</text>
<text x="435.6" y="265.8" font-size="10" fill="#6e0" style="stroke:#6e0;stroke-width:0.15px" textLength="72.8" lengthAdjust="spacing">inflow attitude</text>
<defs><linearGradient id="cb0" x1="0" y1="0" x2="0" y2="1"><stop offset="0.000" stop-color="#f00"/><stop offset="0.017" stop-color="#f00"/><stop offset="0.033" stop-color="#f00"/><stop offset="0.050" stop-color="#f00"/><stop offset="0.067" stop-color="#f00"/><stop offset="0.083" stop-color="#f00"/><stop offset="0.100" stop-color="#f00"/><stop offset="0.117" stop-color="#f00"/><stop offset="0.133" stop-color="#f00"/><stop offset="0.150" stop-color="#f00"/><stop offset="0.167" stop-color="#f00"/><stop offset="0.183" stop-color="#f00"/><stop offset="0.200" stop-color="#f00"/><stop offset="0.217" stop-color="#f00"/><stop offset="0.233" stop-color="#f00"/><stop offset="0.250" stop-color="#f00"/><stop offset="0.267" stop-color="#f00"/><stop offset="0.283" stop-color="#f00"/><stop offset="0.300" stop-color="#f00"/><stop offset="0.317" stop-color="#f00"/><stop offset="0.333" stop-color="#f00"/><stop offset="0.350" stop-color="#f00"/><stop offset="0.367" stop-color="#f00"/><stop offset="0.383" stop-color="#f00"/><stop offset="0.400" stop-color="#f00"/><stop offset="0.417" stop-color="#f00"/><stop offset="0.433" stop-color="#f10"/><stop offset="0.450" stop-color="#f10"/><stop offset="0.467" stop-color="#f10"/><stop offset="0.483" stop-color="#f20"/><stop offset="0.500" stop-color="#f20"/><stop offset="0.517" stop-color="#f20"/><stop offset="0.533" stop-color="#f30"/><stop offset="0.550" stop-color="#f30"/><stop offset="0.567" stop-color="#f30"/><stop offset="0.583" stop-color="#f40"/><stop offset="0.600" stop-color="#f40"/><stop offset="0.617" stop-color="#f50"/><stop offset="0.633" stop-color="#f50"/><stop offset="0.650" stop-color="#f60"/><stop offset="0.667" stop-color="#f60"/><stop offset="0.683" stop-color="#f70"/><stop offset="0.700" stop-color="#f80"/><stop offset="0.717" stop-color="#f80"/><stop offset="0.733" stop-color="#f90"/><stop offset="0.750" stop-color="#f90"/><stop offset="0.767" stop-color="#fa0"/><stop offset="0.783" stop-color="#fb0"/><stop offset="0.800" stop-color="#fc0"/><stop offset="0.817" stop-color="#fd0"/><stop offset="0.833" stop-color="#fe0"/><stop offset="0.850" stop-color="#ff0"/><stop offset="0.867" stop-color="#df0"/><stop offset="0.883" stop-color="#cf0"/><stop offset="0.900" stop-color="#af0"/><stop offset="0.917" stop-color="#8f0"/><stop offset="0.933" stop-color="#5f0"/><stop offset="0.950" stop-color="#2f0"/><stop offset="0.967" stop-color="#0f2"/><stop offset="0.983" stop-color="#0f8"/><stop offset="1.000" stop-color="#0de"/></linearGradient></defs>
<rect x="526.40" y="89.40" width="5.90" height="146.00" fill="url(#cb0)" stroke="#000" stroke-width="1.1"/>
<rect x="525.90" y="86.90" width="6.90" height="2.50" fill="#000"/>
<rect x="525.90" y="235.40" width="6.90" height="3.20" fill="#000"/>
<text x="535.8" y="94.45" font-size="11.40" textLength="18.60" lengthAdjust="spacingAndGlyphs">200</text>
<text x="535.8" y="129.85" font-size="11.40" textLength="18.60" lengthAdjust="spacingAndGlyphs">150</text>
<text x="535.8" y="167.35" font-size="11.40" textLength="18.60" lengthAdjust="spacingAndGlyphs">100</text>
<text x="535.8" y="204.85" font-size="11.40" textLength="12.40" lengthAdjust="spacingAndGlyphs">50</text>
<text x="535.8" y="239.25" font-size="11.40" textLength="6.20" lengthAdjust="spacingAndGlyphs">0</text>
<text transform="translate(566.50 163.20) rotate(-90)" font-size="11.60" text-anchor="middle" textLength="63.60" lengthAdjust="spacing">current [pA]</text>
<defs><linearGradient id="cb1" x1="0" y1="0" x2="0" y2="1"><stop offset="0.000" stop-color="#f00"/><stop offset="0.017" stop-color="#f00"/><stop offset="0.033" stop-color="#f00"/><stop offset="0.050" stop-color="#f00"/><stop offset="0.067" stop-color="#f00"/><stop offset="0.083" stop-color="#f00"/><stop offset="0.100" stop-color="#f00"/><stop offset="0.117" stop-color="#f00"/><stop offset="0.133" stop-color="#f00"/><stop offset="0.150" stop-color="#f00"/><stop offset="0.167" stop-color="#f00"/><stop offset="0.183" stop-color="#f00"/><stop offset="0.200" stop-color="#f00"/><stop offset="0.217" stop-color="#f00"/><stop offset="0.233" stop-color="#f00"/><stop offset="0.250" stop-color="#f00"/><stop offset="0.267" stop-color="#f00"/><stop offset="0.283" stop-color="#f00"/><stop offset="0.300" stop-color="#f00"/><stop offset="0.317" stop-color="#f00"/><stop offset="0.333" stop-color="#f00"/><stop offset="0.350" stop-color="#f00"/><stop offset="0.367" stop-color="#f00"/><stop offset="0.383" stop-color="#f00"/><stop offset="0.400" stop-color="#f00"/><stop offset="0.417" stop-color="#f00"/><stop offset="0.433" stop-color="#f10"/><stop offset="0.450" stop-color="#f10"/><stop offset="0.467" stop-color="#f10"/><stop offset="0.483" stop-color="#f20"/><stop offset="0.500" stop-color="#f20"/><stop offset="0.517" stop-color="#f20"/><stop offset="0.533" stop-color="#f30"/><stop offset="0.550" stop-color="#f30"/><stop offset="0.567" stop-color="#f30"/><stop offset="0.583" stop-color="#f40"/><stop offset="0.600" stop-color="#f40"/><stop offset="0.617" stop-color="#f50"/><stop offset="0.633" stop-color="#f50"/><stop offset="0.650" stop-color="#f60"/><stop offset="0.667" stop-color="#f60"/><stop offset="0.683" stop-color="#f70"/><stop offset="0.700" stop-color="#f80"/><stop offset="0.717" stop-color="#f80"/><stop offset="0.733" stop-color="#f90"/><stop offset="0.750" stop-color="#f90"/><stop offset="0.767" stop-color="#fa0"/><stop offset="0.783" stop-color="#fb0"/><stop offset="0.800" stop-color="#fc0"/><stop offset="0.817" stop-color="#fd0"/><stop offset="0.833" stop-color="#fe0"/><stop offset="0.850" stop-color="#ff0"/><stop offset="0.867" stop-color="#df0"/><stop offset="0.883" stop-color="#cf0"/><stop offset="0.900" stop-color="#af0"/><stop offset="0.917" stop-color="#8f0"/><stop offset="0.933" stop-color="#5f0"/><stop offset="0.950" stop-color="#2f0"/><stop offset="0.967" stop-color="#0f2"/><stop offset="0.983" stop-color="#0f8"/><stop offset="1.000" stop-color="#0de"/></linearGradient></defs>
<rect x="526.40" y="348.20" width="5.90" height="65.10" fill="url(#cb1)" stroke="#000" stroke-width="1.1"/>
<rect x="525.90" y="346.60" width="6.90" height="1.60" fill="#000"/>
<rect x="525.90" y="413.30" width="6.90" height="1.90" fill="#000"/>
<text x="535.8" y="354.75" font-size="11.40" textLength="18.60" lengthAdjust="spacingAndGlyphs">200</text>
<text x="535.8" y="368.35" font-size="11.40" textLength="18.60" lengthAdjust="spacingAndGlyphs">150</text>
<text x="535.8" y="385.55" font-size="11.40" textLength="18.60" lengthAdjust="spacingAndGlyphs">100</text>
<text x="535.8" y="402.75" font-size="11.40" textLength="12.40" lengthAdjust="spacingAndGlyphs">50</text>
<text x="535.8" y="415.35" font-size="11.40" textLength="6.20" lengthAdjust="spacingAndGlyphs">0</text>
<text transform="translate(566.50 380.90) rotate(-90)" font-size="11.60" text-anchor="middle" textLength="63.00" lengthAdjust="spacing">current [pA]</text>
<defs><linearGradient id="cb2" x1="0" y1="0" x2="0" y2="1"><stop offset="0.000" stop-color="#f00"/><stop offset="0.017" stop-color="#f00"/><stop offset="0.033" stop-color="#f00"/><stop offset="0.050" stop-color="#f00"/><stop offset="0.067" stop-color="#f00"/><stop offset="0.083" stop-color="#f00"/><stop offset="0.100" stop-color="#f00"/><stop offset="0.117" stop-color="#f00"/><stop offset="0.133" stop-color="#f00"/><stop offset="0.150" stop-color="#f00"/><stop offset="0.167" stop-color="#f00"/><stop offset="0.183" stop-color="#f00"/><stop offset="0.200" stop-color="#f00"/><stop offset="0.217" stop-color="#f00"/><stop offset="0.233" stop-color="#f00"/><stop offset="0.250" stop-color="#f00"/><stop offset="0.267" stop-color="#f00"/><stop offset="0.283" stop-color="#f00"/><stop offset="0.300" stop-color="#f00"/><stop offset="0.317" stop-color="#f00"/><stop offset="0.333" stop-color="#f00"/><stop offset="0.350" stop-color="#f00"/><stop offset="0.367" stop-color="#f00"/><stop offset="0.383" stop-color="#f00"/><stop offset="0.400" stop-color="#f00"/><stop offset="0.417" stop-color="#f00"/><stop offset="0.433" stop-color="#f10"/><stop offset="0.450" stop-color="#f10"/><stop offset="0.467" stop-color="#f10"/><stop offset="0.483" stop-color="#f20"/><stop offset="0.500" stop-color="#f20"/><stop offset="0.517" stop-color="#f20"/><stop offset="0.533" stop-color="#f30"/><stop offset="0.550" stop-color="#f30"/><stop offset="0.567" stop-color="#f30"/><stop offset="0.583" stop-color="#f40"/><stop offset="0.600" stop-color="#f40"/><stop offset="0.617" stop-color="#f50"/><stop offset="0.633" stop-color="#f50"/><stop offset="0.650" stop-color="#f60"/><stop offset="0.667" stop-color="#f60"/><stop offset="0.683" stop-color="#f70"/><stop offset="0.700" stop-color="#f80"/><stop offset="0.717" stop-color="#f80"/><stop offset="0.733" stop-color="#f90"/><stop offset="0.750" stop-color="#f90"/><stop offset="0.767" stop-color="#fa0"/><stop offset="0.783" stop-color="#fb0"/><stop offset="0.800" stop-color="#fc0"/><stop offset="0.817" stop-color="#fd0"/><stop offset="0.833" stop-color="#fe0"/><stop offset="0.850" stop-color="#ff0"/><stop offset="0.867" stop-color="#df0"/><stop offset="0.883" stop-color="#cf0"/><stop offset="0.900" stop-color="#af0"/><stop offset="0.917" stop-color="#8f0"/><stop offset="0.933" stop-color="#5f0"/><stop offset="0.950" stop-color="#2f0"/><stop offset="0.967" stop-color="#0f2"/><stop offset="0.983" stop-color="#0f8"/><stop offset="1.000" stop-color="#0de"/></linearGradient></defs>
<rect x="526.40" y="431.50" width="5.90" height="65.10" fill="url(#cb2)" stroke="#000" stroke-width="1.1"/>
<rect x="525.90" y="429.90" width="6.90" height="1.60" fill="#000"/>
<rect x="525.90" y="496.60" width="6.90" height="1.90" fill="#000"/>
<text x="535.8" y="438.05" font-size="11.40" textLength="18.60" lengthAdjust="spacingAndGlyphs">200</text>
<text x="535.8" y="451.65" font-size="11.40" textLength="18.60" lengthAdjust="spacingAndGlyphs">150</text>
<text x="535.8" y="468.85" font-size="11.40" textLength="18.60" lengthAdjust="spacingAndGlyphs">100</text>
<text x="535.8" y="486.05" font-size="11.40" textLength="12.40" lengthAdjust="spacingAndGlyphs">50</text>
<text x="535.8" y="498.65" font-size="11.40" textLength="6.20" lengthAdjust="spacingAndGlyphs">0</text>
<text transform="translate(566.50 464.20) rotate(-90)" font-size="11.60" text-anchor="middle" textLength="63.00" lengthAdjust="spacing">current [pA]</text>
<defs><linearGradient id="cb3" x1="0" y1="0" x2="0" y2="1"><stop offset="0.000" stop-color="#f00"/><stop offset="0.017" stop-color="#f00"/><stop offset="0.033" stop-color="#f00"/><stop offset="0.050" stop-color="#f00"/><stop offset="0.067" stop-color="#f00"/><stop offset="0.083" stop-color="#f00"/><stop offset="0.100" stop-color="#f00"/><stop offset="0.117" stop-color="#f00"/><stop offset="0.133" stop-color="#f00"/><stop offset="0.150" stop-color="#f00"/><stop offset="0.167" stop-color="#f00"/><stop offset="0.183" stop-color="#f00"/><stop offset="0.200" stop-color="#f00"/><stop offset="0.217" stop-color="#f00"/><stop offset="0.233" stop-color="#f00"/><stop offset="0.250" stop-color="#f00"/><stop offset="0.267" stop-color="#f00"/><stop offset="0.283" stop-color="#f00"/><stop offset="0.300" stop-color="#f00"/><stop offset="0.317" stop-color="#f00"/><stop offset="0.333" stop-color="#f00"/><stop offset="0.350" stop-color="#f00"/><stop offset="0.367" stop-color="#f00"/><stop offset="0.383" stop-color="#f00"/><stop offset="0.400" stop-color="#f00"/><stop offset="0.417" stop-color="#f00"/><stop offset="0.433" stop-color="#f10"/><stop offset="0.450" stop-color="#f10"/><stop offset="0.467" stop-color="#f10"/><stop offset="0.483" stop-color="#f20"/><stop offset="0.500" stop-color="#f20"/><stop offset="0.517" stop-color="#f20"/><stop offset="0.533" stop-color="#f30"/><stop offset="0.550" stop-color="#f30"/><stop offset="0.567" stop-color="#f30"/><stop offset="0.583" stop-color="#f40"/><stop offset="0.600" stop-color="#f40"/><stop offset="0.617" stop-color="#f50"/><stop offset="0.633" stop-color="#f50"/><stop offset="0.650" stop-color="#f60"/><stop offset="0.667" stop-color="#f60"/><stop offset="0.683" stop-color="#f70"/><stop offset="0.700" stop-color="#f80"/><stop offset="0.717" stop-color="#f80"/><stop offset="0.733" stop-color="#f90"/><stop offset="0.750" stop-color="#f90"/><stop offset="0.767" stop-color="#fa0"/><stop offset="0.783" stop-color="#fb0"/><stop offset="0.800" stop-color="#fc0"/><stop offset="0.817" stop-color="#fd0"/><stop offset="0.833" stop-color="#fe0"/><stop offset="0.850" stop-color="#ff0"/><stop offset="0.867" stop-color="#df0"/><stop offset="0.883" stop-color="#cf0"/><stop offset="0.900" stop-color="#af0"/><stop offset="0.917" stop-color="#8f0"/><stop offset="0.933" stop-color="#5f0"/><stop offset="0.950" stop-color="#2f0"/><stop offset="0.967" stop-color="#0f2"/><stop offset="0.983" stop-color="#0f8"/><stop offset="1.000" stop-color="#0de"/></linearGradient></defs>
<rect x="526.40" y="515.50" width="5.90" height="65.10" fill="url(#cb3)" stroke="#000" stroke-width="1.1"/>
<rect x="525.90" y="513.90" width="6.90" height="1.60" fill="#000"/>
<rect x="525.90" y="580.60" width="6.90" height="1.90" fill="#000"/>
<text x="535.8" y="522.05" font-size="11.40" textLength="18.60" lengthAdjust="spacingAndGlyphs">200</text>
<text x="535.8" y="535.65" font-size="11.40" textLength="18.60" lengthAdjust="spacingAndGlyphs">150</text>
<text x="535.8" y="552.85" font-size="11.40" textLength="18.60" lengthAdjust="spacingAndGlyphs">100</text>
<text x="535.8" y="570.05" font-size="11.40" textLength="12.40" lengthAdjust="spacingAndGlyphs">50</text>
<text x="535.8" y="582.65" font-size="11.40" textLength="6.20" lengthAdjust="spacingAndGlyphs">0</text>
<text transform="translate(566.50 548.20) rotate(-90)" font-size="11.60" text-anchor="middle" textLength="63.00" lengthAdjust="spacing">current [pA]</text>
<defs><linearGradient id="cb4" x1="0" y1="0" x2="0" y2="1"><stop offset="0.000" stop-color="#f00"/><stop offset="0.017" stop-color="#f00"/><stop offset="0.033" stop-color="#f00"/><stop offset="0.050" stop-color="#f00"/><stop offset="0.067" stop-color="#f00"/><stop offset="0.083" stop-color="#f00"/><stop offset="0.100" stop-color="#f00"/><stop offset="0.117" stop-color="#f00"/><stop offset="0.133" stop-color="#f00"/><stop offset="0.150" stop-color="#f00"/><stop offset="0.167" stop-color="#f00"/><stop offset="0.183" stop-color="#f00"/><stop offset="0.200" stop-color="#f00"/><stop offset="0.217" stop-color="#f00"/><stop offset="0.233" stop-color="#f00"/><stop offset="0.250" stop-color="#f00"/><stop offset="0.267" stop-color="#f00"/><stop offset="0.283" stop-color="#f00"/><stop offset="0.300" stop-color="#f00"/><stop offset="0.317" stop-color="#f00"/><stop offset="0.333" stop-color="#f00"/><stop offset="0.350" stop-color="#f00"/><stop offset="0.367" stop-color="#f00"/><stop offset="0.383" stop-color="#f00"/><stop offset="0.400" stop-color="#f00"/><stop offset="0.417" stop-color="#f00"/><stop offset="0.433" stop-color="#f10"/><stop offset="0.450" stop-color="#f10"/><stop offset="0.467" stop-color="#f10"/><stop offset="0.483" stop-color="#f20"/><stop offset="0.500" stop-color="#f20"/><stop offset="0.517" stop-color="#f20"/><stop offset="0.533" stop-color="#f30"/><stop offset="0.550" stop-color="#f30"/><stop offset="0.567" stop-color="#f30"/><stop offset="0.583" stop-color="#f40"/><stop offset="0.600" stop-color="#f40"/><stop offset="0.617" stop-color="#f50"/><stop offset="0.633" stop-color="#f50"/><stop offset="0.650" stop-color="#f60"/><stop offset="0.667" stop-color="#f60"/><stop offset="0.683" stop-color="#f70"/><stop offset="0.700" stop-color="#f80"/><stop offset="0.717" stop-color="#f80"/><stop offset="0.733" stop-color="#f90"/><stop offset="0.750" stop-color="#f90"/><stop offset="0.767" stop-color="#fa0"/><stop offset="0.783" stop-color="#fb0"/><stop offset="0.800" stop-color="#fc0"/><stop offset="0.817" stop-color="#fd0"/><stop offset="0.833" stop-color="#fe0"/><stop offset="0.850" stop-color="#ff0"/><stop offset="0.867" stop-color="#df0"/><stop offset="0.883" stop-color="#cf0"/><stop offset="0.900" stop-color="#af0"/><stop offset="0.917" stop-color="#8f0"/><stop offset="0.933" stop-color="#5f0"/><stop offset="0.950" stop-color="#2f0"/><stop offset="0.967" stop-color="#0f2"/><stop offset="0.983" stop-color="#0f8"/><stop offset="1.000" stop-color="#0de"/></linearGradient></defs>
<rect x="526.40" y="599.50" width="5.90" height="65.10" fill="url(#cb4)" stroke="#000" stroke-width="1.1"/>
<rect x="525.90" y="597.90" width="6.90" height="1.60" fill="#000"/>
<rect x="525.90" y="664.60" width="6.90" height="1.90" fill="#000"/>
<text x="535.8" y="606.05" font-size="11.40" textLength="18.60" lengthAdjust="spacingAndGlyphs">200</text>
<text x="535.8" y="619.65" font-size="11.40" textLength="18.60" lengthAdjust="spacingAndGlyphs">150</text>
<text x="535.8" y="636.85" font-size="11.40" textLength="18.60" lengthAdjust="spacingAndGlyphs">100</text>
<text x="535.8" y="654.05" font-size="11.40" textLength="12.40" lengthAdjust="spacingAndGlyphs">50</text>
<text x="535.8" y="666.65" font-size="11.40" textLength="6.20" lengthAdjust="spacingAndGlyphs">0</text>
<text transform="translate(566.50 632.20) rotate(-90)" font-size="11.60" text-anchor="middle" textLength="63.00" lengthAdjust="spacing">current [pA]</text>
<path d="M91.5 288.55H520.5" stroke="#000" stroke-width="1.2"/>
<polyline points="92.5,289.34 93.5,289.41 94.5,289.81 95.5,289.59 96.5,289.71 97.5,289.65 98.5,289.23 99.5,289.40 100.5,289.28 101.5,289.76 102.5,289.70 103.5,290.05 104.5,289.53 105.5,289.34 106.5,289.10 107.5,289.52 108.5,289.39 109.5,289.82 110.5,290.21 111.5,291.20 112.5,291.53 113.5,291.82 114.5,291.18 115.5,290.71 116.5,290.57 117.5,290.58 118.5,290.91 119.5,291.05 120.5,291.09 121.5,290.61 122.5,290.22 123.5,290.64 124.5,290.71 125.5,291.09 126.5,291.12 127.5,291.22 128.5,290.84 129.5,290.82 130.5,291.03 131.5,290.74 132.5,291.01 133.5,290.93 134.5,291.04 135.5,290.33 136.5,290.65 137.5,290.65 138.5,290.66 139.5,290.80 140.5,290.70 141.5,290.66 142.5,290.62 143.5,290.55 144.5,290.15 145.5,289.87 146.5,289.85 147.5,290.33 148.5,290.65 149.5,290.52 150.5,290.25 151.5,290.85 152.5,291.09 153.5,290.84 154.5,289.86 155.5,290.03 156.5,290.73 157.5,291.14 158.5,291.29 159.5,290.80 160.5,291.24 161.5,290.87 162.5,290.67 163.5,290.20 164.5,290.75 165.5,291.09 166.5,291.51 167.5,291.13 168.5,291.46 169.5,290.96 170.5,290.88 171.5,290.68 172.5,290.83 173.5,290.96 174.5,290.75 175.5,290.62 176.5,290.91 177.5,291.23 178.5,291.35 179.5,291.30 180.5,291.43 181.5,291.14 182.5,291.66 183.5,291.17 184.5,291.25 185.5,290.87 186.5,290.94 187.5,290.90 188.5,290.88 189.5,290.78 190.5,290.85 191.5,291.26 192.5,291.43 193.5,291.61 194.5,291.72 195.5,291.47 196.5,291.04 197.5,290.89 198.5,290.62 199.5,290.90 200.5,291.01 201.5,291.16 202.5,291.01 203.5,290.63 204.5,289.97 205.5,289.95 206.5,289.86 207.5,290.28 208.5,290.12 209.5,290.35 210.5,290.50 211.5,291.03 212.5,291.01 213.5,291.70 214.5,291.61 215.5,291.51 216.5,291.50 217.5,291.34 218.5,291.67 219.5,291.22 220.5,291.47 221.5,290.90 222.5,291.01 223.5,291.27 224.5,290.98 225.5,290.85 226.5,291.05 227.5,291.28 228.5,291.46 229.5,291.62 230.5,292.01 231.5,291.78 232.5,291.78 233.5,291.19 234.5,290.96 235.5,290.61 236.5,290.96 237.5,291.19 238.5,291.62 239.5,291.51 240.5,291.23 241.5,291.04 242.5,290.87 243.5,291.80 244.5,291.70 245.5,291.61 246.5,292.12 247.5,292.12 248.5,292.03 249.5,291.17 250.5,291.07 251.5,291.34 252.5,291.46 253.5,291.74 254.5,291.55 255.5,291.56 256.5,291.10 257.5,290.97 258.5,290.72 259.5,291.37 260.5,291.41 261.5,291.75 262.5,292.01 263.5,291.74 264.5,291.53 265.5,291.93 266.5,292.10 267.5,291.91 268.5,291.55 269.5,291.44 270.5,291.34 271.5,290.75 272.5,290.73 273.5,291.16 274.5,291.60 275.5,291.29 276.5,290.85 277.5,291.26 278.5,292.06 279.5,291.92 280.5,291.55 281.5,290.85 282.5,291.02 283.5,290.47 284.5,290.28 285.5,290.15 286.5,289.97 287.5,289.93 288.5,289.87 289.5,290.21 290.5,290.56 291.5,291.22 292.5,291.79 293.5,291.81 294.5,291.57 295.5,291.09 296.5,290.69 297.5,291.12 298.5,291.77 299.5,291.80 300.5,291.74 301.5,291.32 302.5,291.82 303.5,292.06 304.5,291.56 305.5,291.35 306.5,291.04 307.5,291.74 308.5,291.44 309.5,291.48 310.5,291.35 311.5,291.81 312.5,291.81 313.5,291.37 314.5,291.78 315.5,291.45 316.5,292.14 317.5,291.79 318.5,292.17 319.5,291.97 320.5,292.24 321.5,291.92 322.5,291.94 323.5,291.81 324.5,291.52 325.5,291.65 326.5,291.55 327.5,291.55 328.5,291.66 329.5,292.27 330.5,292.06 331.5,292.11 332.5,292.12 333.5,292.16 334.5,291.98 335.5,291.65 336.5,291.96 337.5,291.42 338.5,291.28 339.5,291.41 340.5,291.67 341.5,291.76 342.5,292.01 343.5,291.94 344.5,291.83 345.5,291.94 346.5,291.91 347.5,292.41 348.5,292.29 349.5,292.34 350.5,292.36 351.5,292.14 352.5,291.75 353.5,291.57 354.5,291.56 355.5,291.41 356.5,292.05 357.5,291.41 358.5,291.01 359.5,290.89 360.5,291.28 361.5,291.74 362.5,291.46 363.5,291.66 364.5,291.84 365.5,291.92 366.5,291.85 367.5,291.77 368.5,292.18 369.5,292.23 370.5,292.07 371.5,291.60 372.5,291.23 373.5,291.62 374.5,291.67 375.5,291.56 376.5,291.86 377.5,291.98 378.5,292.24 379.5,291.82 380.5,291.95 381.5,291.49 382.5,291.93 383.5,292.08 384.5,292.19 385.5,291.88 386.5,291.36 387.5,291.42 388.5,291.69 389.5,291.54 390.5,291.51 391.5,291.44 392.5,291.20 393.5,291.38 394.5,291.06 395.5,291.50 396.5,291.36 397.5,291.64 398.5,291.95 399.5,291.65 400.5,291.44 401.5,291.49 402.5,291.70 403.5,291.98 404.5,291.88 405.5,291.70 406.5,291.52 407.5,291.57 408.5,291.78 409.5,292.07 410.5,291.59 411.5,291.76 412.5,291.43 413.5,291.78 414.5,291.80 415.5,291.85 416.5,291.29 417.5,291.23 418.5,291.53 419.5,291.70 420.5,291.59 421.5,292.12 422.5,291.73 423.5,291.54 424.5,291.24 425.5,291.56 426.5,291.33 427.5,291.49 428.5,291.93 429.5,291.97 430.5,291.69 431.5,292.02 432.5,291.58 433.5,291.43 434.5,291.43 435.5,292.12 436.5,292.15 437.5,292.39 438.5,292.40 439.5,292.19 440.5,292.19 441.5,292.15 442.5,292.05 443.5,292.29 444.5,292.10 445.5,291.92 446.5,291.42 447.5,291.87 448.5,292.25 449.5,292.52 450.5,292.43 451.5,292.35 452.5,292.20 453.5,292.18 454.5,291.82 455.5,292.29 456.5,292.14 457.5,292.29 458.5,292.08 459.5,292.19 460.5,291.78 461.5,291.90 462.5,291.68 463.5,291.86 464.5,291.55 465.5,292.24 466.5,292.47 467.5,292.34 468.5,292.26 469.5,292.22 470.5,292.55 471.5,292.35 472.5,292.75 473.5,292.54 474.5,292.24 475.5,292.48 476.5,292.50 477.5,292.54 478.5,292.55 479.5,292.43 480.5,292.22 481.5,292.32 482.5,292.52 483.5,292.62 484.5,292.24 485.5,292.19 486.5,291.97 487.5,292.07 488.5,292.14 489.5,291.91 490.5,291.80 491.5,291.71 492.5,291.97 493.5,292.16 494.5,292.41 495.5,292.74 496.5,292.49 497.5,292.42 498.5,291.97 499.5,291.95 500.5,292.24 501.5,292.03 502.5,292.39 503.5,291.89 504.5,292.31 505.5,291.84 506.5,291.55 507.5,291.58 508.5,291.54 509.5,291.76 510.5,291.32 511.5,291.19 512.5,291.17 513.5,291.02 514.5,290.99 515.5,291.15 516.5,291.11 517.5,290.88 518.5,291.24 519.5,291.25" fill="none" stroke="#f00" stroke-width="1"/>
<path d="M92.5 284.6V291.7M93.5 284.9V291.3M94.5 283.4V292.9M95.5 284.1V290.8M96.5 285.4V290.8M97.5 283.9V292.3M98.5 283.3V292.7M99.5 284.4V290.4M100.5 284.0V292.1M101.5 286.4V289.8M102.5 281.6V291.4M103.5 285.1V290.6M104.5 281.1V291.9M105.5 285.5V288.9M106.5 283.9V291.5M107.5 285.9V289.8M108.5 285.2V290.8M109.5 285.4V292.2M110.5 286.6V290.7M111.5 287.6V290.5M112.5 287.6V290.5M113.5 288.6V289.8M114.5 288.0V290.1M115.5 288.4V290.8M116.5 288.5V290.0M117.5 288.8V290.3M118.5 288.2V290.7M119.5 288.7V290.0M120.5 288.5V290.9M121.5 284.8V290.1M122.5 288.7V289.7M123.5 288.2V290.3M124.5 288.8V290.0M125.5 288.2V290.8M126.5 288.4V290.9M127.5 287.5V291.2M128.5 287.8V291.1M129.5 287.4V290.9M130.5 288.2V290.9M131.5 287.8V290.9M132.5 288.0V290.0M133.5 286.9V291.7M134.5 287.9V290.0M135.5 287.9V290.4M136.5 288.1V290.9M137.5 288.2V290.5M138.5 287.7V291.3M139.5 288.2V290.9M140.5 287.7V290.4M141.5 288.2V290.5M142.5 287.3V290.3M143.5 287.2V290.0M144.5 286.5V289.8M145.5 287.8V289.8M146.5 287.1V290.5M147.5 286.5V291.6M148.5 287.0V290.4M149.5 288.4V290.9M150.5 286.7V291.3M151.5 288.2V291.0M152.5 287.8V290.9M153.5 287.8V290.5M154.5 285.9V291.0M155.5 286.8V291.1M156.5 286.4V291.7M157.5 287.2V291.1M158.5 288.4V290.4M159.5 287.3V291.8M160.5 287.6V291.2M161.5 287.7V290.3M162.5 287.0V290.8M163.5 287.9V290.8M164.5 286.9V291.1M165.5 286.9V290.5M166.5 287.3V290.9M167.5 287.4V290.4M168.5 288.2V291.2M169.5 286.8V291.3M170.5 288.3V291.2M171.5 288.5V290.6M172.5 287.7V290.7M173.5 287.4V291.4M174.5 287.9V290.8M175.5 287.6V291.9M176.5 287.7V291.0M177.5 288.4V290.7M178.5 288.5V290.6M179.5 288.2V291.4M180.5 289.1V291.9M181.5 288.8V291.8M182.5 289.3V291.5M183.5 288.4V291.3M184.5 288.6V290.9M185.5 288.3V291.8M186.5 288.5V291.1M187.5 288.0V291.3M188.5 287.2V292.5M189.5 287.4V291.4M190.5 287.4V291.4M191.5 288.4V291.3M192.5 288.6V290.4M193.5 288.2V291.3M194.5 288.3V290.5M195.5 288.7V291.2M196.5 288.0V290.9M197.5 288.2V290.8M198.5 287.3V291.4M199.5 288.2V291.6M200.5 288.7V291.2M201.5 287.9V290.7M202.5 287.5V290.1M203.5 287.6V290.3M204.5 286.6V290.7M205.5 285.7V291.4M206.5 286.2V290.9M207.5 287.2V290.1M208.5 286.2V291.2M209.5 287.7V289.7M210.5 288.0V291.2M211.5 288.3V291.0M212.5 288.1V291.9M213.5 288.8V290.4M214.5 287.8V291.3M215.5 288.2V291.3M216.5 289.1V291.5M217.5 287.8V291.8M218.5 287.4V292.1M219.5 288.1V291.7M220.5 288.9V291.2M221.5 288.4V291.4M222.5 288.3V290.9M223.5 288.5V291.9M224.5 288.2V291.0M225.5 288.5V291.1M226.5 287.9V291.5M227.5 288.5V291.7M228.5 288.0V292.0M229.5 288.3V291.8M230.5 288.3V291.9M231.5 289.3V291.4M232.5 287.9V292.3M233.5 288.7V291.2M234.5 289.2V291.4M235.5 289.2V291.1M236.5 288.5V291.6M237.5 288.2V292.3M238.5 287.8V291.2M239.5 287.5V291.6M240.5 288.3V291.7M241.5 288.0V290.9M242.5 289.0V291.7M243.5 288.5V290.9M244.5 288.4V292.1M245.5 288.7V291.2M246.5 288.9V291.3M247.5 287.7V291.5M248.5 288.6V291.0M249.5 288.3V290.9M250.5 287.2V292.3M251.5 289.1V290.9M252.5 287.7V291.2M253.5 288.6V291.3M254.5 287.1V292.7M255.5 288.7V290.9M256.5 287.8V291.9M257.5 288.5V290.4M258.5 288.6V290.6M259.5 289.3V291.3M260.5 288.3V291.5M261.5 288.6V291.3M262.5 288.2V291.6M263.5 288.3V292.4M264.5 288.1V292.0M265.5 288.0V292.5M266.5 288.7V292.4M267.5 288.7V291.6M268.5 288.2V292.4M269.5 288.9V291.6M270.5 287.8V291.0M271.5 288.2V291.0M272.5 287.7V291.8M273.5 288.8V290.5M274.5 288.9V291.1M275.5 288.4V291.7M276.5 288.2V292.3M277.5 287.9V291.8M278.5 289.3V291.0M279.5 288.1V291.3M280.5 287.9V291.3M281.5 288.8V290.8M282.5 288.6V290.7M283.5 287.1V291.1M284.5 287.6V291.4M285.5 287.2V290.2M286.5 287.0V289.9M287.5 286.1V290.4M288.5 286.2V290.4M289.5 286.1V290.2M290.5 287.7V289.7M291.5 288.4V289.7M292.5 287.6V290.6M293.5 288.4V291.0M294.5 287.7V291.1M295.5 287.3V291.3M296.5 288.2V290.9M297.5 287.7V291.5M298.5 288.0V291.1M299.5 288.5V291.6M300.5 287.6V291.3M301.5 288.0V291.4M302.5 288.6V291.1M303.5 288.6V291.8M304.5 287.7V291.4M305.5 288.0V291.6M306.5 288.9V291.2M307.5 287.7V292.0M308.5 287.9V292.9M309.5 287.7V291.3M310.5 288.6V304.4M311.5 288.2V292.4M312.5 288.9V291.8M313.5 288.9V291.1M314.5 287.7V292.5M315.5 288.2V291.4M316.5 289.1V291.6M317.5 288.8V291.8M318.5 288.5V292.6M319.5 287.3V291.8M320.5 289.4V291.1M321.5 289.0V291.7M322.5 288.0V292.3M323.5 287.9V292.3M324.5 287.9V291.8M325.5 288.6V292.1M326.5 288.3V291.8M327.5 287.8V291.5M328.5 288.9V291.0M329.5 289.1V292.3M330.5 288.6V292.8M331.5 289.5V291.2M332.5 287.9V292.5M333.5 288.3V291.6M334.5 288.4V292.6M335.5 288.7V291.1M336.5 288.2V291.4M337.5 288.2V291.0M338.5 288.1V292.6M339.5 288.1V290.9M340.5 288.0V290.9M341.5 288.7V291.4M342.5 289.5V291.1M343.5 288.4V291.5M344.5 287.7V292.8M345.5 289.5V292.9M346.5 289.3V291.7M347.5 288.8V293.6M348.5 288.5V292.6M349.5 287.1V293.3M350.5 288.1V297.9M351.5 288.6V291.2M352.5 287.6V292.6M353.5 288.7V291.0M354.5 287.3V292.0M355.5 287.4V291.8M356.5 288.1V292.9M357.5 288.3V292.0M358.5 288.6V291.4M359.5 288.9V292.3M360.5 289.5V291.3M361.5 288.1V291.4M362.5 288.3V292.1M363.5 288.5V291.8M364.5 287.5V292.7M365.5 286.9V293.0M366.5 288.7V291.4M367.5 287.7V292.8M368.5 287.0V293.0M369.5 288.9V292.0M370.5 288.8V292.5M371.5 288.9V292.1M372.5 287.9V292.0M373.5 288.2V292.6M374.5 288.6V293.2M375.5 287.9V291.3M376.5 287.0V291.6M377.5 288.7V291.7M378.5 287.3V292.5M379.5 288.8V291.2M380.5 287.2V292.3M381.5 288.5V292.0M382.5 288.2V292.9M383.5 288.8V292.0M384.5 287.7V292.2M385.5 288.8V294.1M386.5 286.8V292.4M387.5 288.3V292.4M388.5 287.8V293.2M389.5 287.4V291.9M390.5 285.9V293.9M391.5 286.6V293.2M392.5 283.4V294.1M393.5 286.8V291.9M394.5 286.3V293.4M395.5 287.1V292.7M396.5 287.7V291.4M397.5 288.5V291.5M398.5 284.4V295.1M399.5 287.4V293.4M400.5 287.2V292.5M401.5 286.7V291.3M402.5 287.9V291.2M403.5 286.0V292.6M404.5 286.6V291.8M405.5 288.3V292.6M406.5 288.1V292.3M407.5 288.7V292.5M408.5 286.2V293.8M409.5 286.9V295.2M410.5 288.1V291.3M411.5 288.3V292.3M412.5 288.1V291.5M413.5 284.9V293.8M414.5 286.9V291.6M415.5 286.6V293.0M416.5 288.1V293.0M417.5 286.6V293.0M418.5 286.4V293.4M419.5 287.8V292.1M420.5 287.6V292.7M421.5 286.2V292.8M422.5 287.4V291.9M423.5 287.9V292.0M424.5 288.5V292.0M425.5 284.8V292.7M426.5 287.9V292.4M427.5 288.1V292.5M428.5 287.7V293.0M429.5 287.4V292.4M430.5 285.1V292.8M431.5 286.8V294.2M432.5 287.2V293.6M433.5 285.3V293.2M434.5 286.8V293.2M435.5 287.1V294.5M436.5 286.7V293.4M437.5 287.2V292.9M438.5 286.8V294.6M439.5 287.2V295.2M440.5 286.7V294.2M441.5 288.2V292.8M442.5 288.9V292.7M443.5 287.0V294.1M444.5 286.0V294.0M445.5 287.6V297.9M446.5 287.9V292.2M447.5 287.5V293.6M448.5 287.9V294.4M449.5 287.9V294.8M450.5 287.4V293.3M451.5 288.0V293.3M452.5 288.7V292.2M453.5 288.3V292.8M454.5 286.7V293.7M455.5 288.8V292.7M456.5 287.5V292.9M457.5 288.9V293.1M458.5 288.1V292.6M459.5 289.4V292.1M460.5 289.0V291.5M461.5 288.6V292.3M462.5 289.1V291.7M463.5 289.6V292.7M464.5 289.6V292.2M465.5 289.3V292.3M466.5 289.7V292.3M467.5 289.3V292.9M468.5 289.2V291.9M469.5 289.7V292.4M470.5 288.8V293.0M471.5 290.2V291.8M472.5 289.7V293.7M473.5 290.2V293.3M474.5 289.5V294.1M475.5 289.4V292.8M476.5 289.3V293.6M477.5 290.2V291.8M478.5 289.6V292.5M479.5 289.9V292.3M480.5 289.8V292.1M481.5 289.3V292.0M482.5 290.0V292.7M483.5 286.7V292.2M484.5 289.3V292.9M485.5 289.8V292.6M486.5 289.9V292.0M487.5 288.2V291.7M488.5 288.9V292.2M489.5 289.8V291.3M490.5 288.6V293.0M491.5 288.7V292.4M492.5 289.0V292.1M493.5 289.9V292.2M494.5 289.3V291.7M495.5 289.5V292.0M496.5 288.1V292.4M497.5 289.3V292.7M498.5 288.6V292.9M499.5 289.7V291.8M500.5 288.9V291.7M501.5 289.1V292.1M502.5 288.8V292.7M503.5 289.1V291.5M504.5 287.7V292.8M505.5 287.3V292.5M506.5 288.7V291.3M507.5 288.8V291.5M508.5 288.2V291.8M509.5 288.3V304.4M510.5 287.7V292.3M511.5 287.8V291.3M512.5 287.7V291.5M513.5 286.9V291.7M514.5 287.9V292.9M515.5 287.9V292.7M516.5 286.1V293.2M517.5 287.5V291.7M518.5 288.3V291.8M519.5 285.4V292.9" stroke="#7e0" stroke-width="1.05"/>
<text x="65.2" y="759.9" style="stroke-width:0.3px" font-family="DejaVu Sans, sans-serif" font-size="7.7" textLength="282.6" lengthAdjust="spacingAndGlyphs" xml:space="preserve">Generated on Thu May  6 23:01:39 2021 by mstevens@cfa.harvard.edu</text>
<text x="65.2" y="767.4" style="stroke-width:0.3px" font-family="DejaVu Sans, sans-serif" font-size="7.7" textLength="102.3" lengthAdjust="spacingAndGlyphs">For browse purposes only.</text>
</svg>
</body></html>
